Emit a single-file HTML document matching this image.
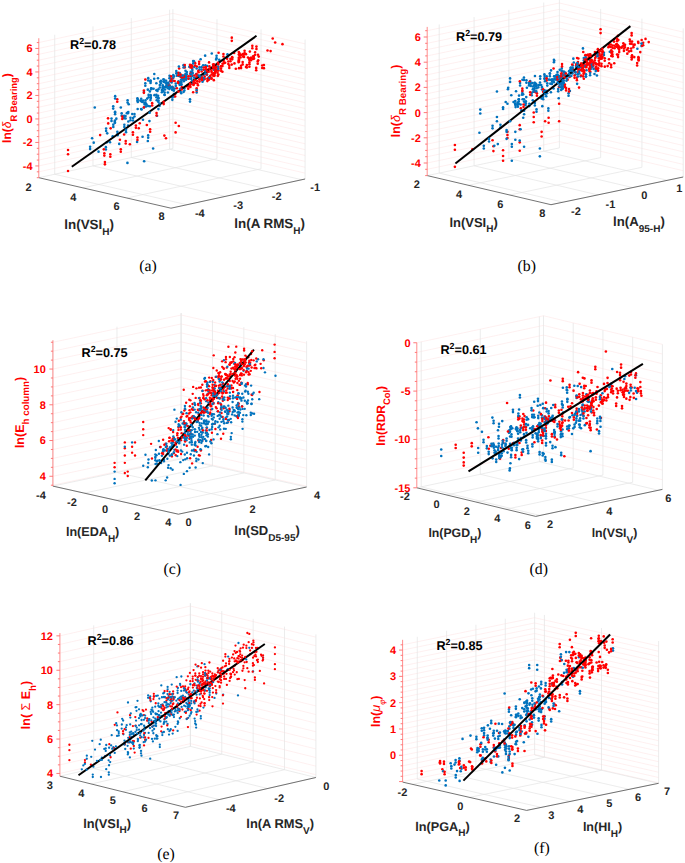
<!DOCTYPE html>
<html><head><meta charset="utf-8"><style>
html,body{margin:0;padding:0;background:#fff;}
svg{display:block;}
text{font-family:"Liberation Sans", sans-serif;text-rendering:geometricPrecision;}
</style></head><body>
<svg width="685" height="863" viewBox="0 0 685 863">
<rect width="685" height="863" fill="#fff"/>
<line x1="38.8" y1="171.82" x2="172.9" y2="142.62" stroke="#fdeaea" stroke-width="0.7"/>
<line x1="172.9" y1="142.62" x2="305.1" y2="173.12" stroke="#fdeaea" stroke-width="0.7"/>
<line x1="38.8" y1="165.95" x2="172.9" y2="136.75" stroke="#fdeaea" stroke-width="0.7"/>
<line x1="172.9" y1="136.75" x2="305.1" y2="167.25" stroke="#fdeaea" stroke-width="0.7"/>
<line x1="38.8" y1="160.07" x2="172.9" y2="130.88" stroke="#fdeaea" stroke-width="0.7"/>
<line x1="172.9" y1="130.88" x2="305.1" y2="161.38" stroke="#fdeaea" stroke-width="0.7"/>
<line x1="38.8" y1="154.2" x2="172.9" y2="125" stroke="#fdeaea" stroke-width="0.7"/>
<line x1="172.9" y1="125" x2="305.1" y2="155.5" stroke="#fdeaea" stroke-width="0.7"/>
<line x1="38.8" y1="148.32" x2="172.9" y2="119.12" stroke="#fdeaea" stroke-width="0.7"/>
<line x1="172.9" y1="119.12" x2="305.1" y2="149.62" stroke="#fdeaea" stroke-width="0.7"/>
<line x1="38.8" y1="142.45" x2="172.9" y2="113.25" stroke="#fdeaea" stroke-width="0.7"/>
<line x1="172.9" y1="113.25" x2="305.1" y2="143.75" stroke="#fdeaea" stroke-width="0.7"/>
<line x1="38.8" y1="136.57" x2="172.9" y2="107.38" stroke="#fdeaea" stroke-width="0.7"/>
<line x1="172.9" y1="107.38" x2="305.1" y2="137.88" stroke="#fdeaea" stroke-width="0.7"/>
<line x1="38.8" y1="130.7" x2="172.9" y2="101.5" stroke="#fdeaea" stroke-width="0.7"/>
<line x1="172.9" y1="101.5" x2="305.1" y2="132" stroke="#fdeaea" stroke-width="0.7"/>
<line x1="38.8" y1="124.82" x2="172.9" y2="95.62" stroke="#fdeaea" stroke-width="0.7"/>
<line x1="172.9" y1="95.62" x2="305.1" y2="126.12" stroke="#fdeaea" stroke-width="0.7"/>
<line x1="38.8" y1="118.95" x2="172.9" y2="89.75" stroke="#fdeaea" stroke-width="0.7"/>
<line x1="172.9" y1="89.75" x2="305.1" y2="120.25" stroke="#fdeaea" stroke-width="0.7"/>
<line x1="38.8" y1="113.07" x2="172.9" y2="83.88" stroke="#fdeaea" stroke-width="0.7"/>
<line x1="172.9" y1="83.88" x2="305.1" y2="114.38" stroke="#fdeaea" stroke-width="0.7"/>
<line x1="38.8" y1="107.2" x2="172.9" y2="78" stroke="#fdeaea" stroke-width="0.7"/>
<line x1="172.9" y1="78" x2="305.1" y2="108.5" stroke="#fdeaea" stroke-width="0.7"/>
<line x1="38.8" y1="101.32" x2="172.9" y2="72.12" stroke="#fdeaea" stroke-width="0.7"/>
<line x1="172.9" y1="72.12" x2="305.1" y2="102.62" stroke="#fdeaea" stroke-width="0.7"/>
<line x1="38.8" y1="95.45" x2="172.9" y2="66.25" stroke="#fdeaea" stroke-width="0.7"/>
<line x1="172.9" y1="66.25" x2="305.1" y2="96.75" stroke="#fdeaea" stroke-width="0.7"/>
<line x1="38.8" y1="89.57" x2="172.9" y2="60.38" stroke="#fdeaea" stroke-width="0.7"/>
<line x1="172.9" y1="60.38" x2="305.1" y2="90.88" stroke="#fdeaea" stroke-width="0.7"/>
<line x1="38.8" y1="83.7" x2="172.9" y2="54.5" stroke="#fdeaea" stroke-width="0.7"/>
<line x1="172.9" y1="54.5" x2="305.1" y2="85" stroke="#fdeaea" stroke-width="0.7"/>
<line x1="38.8" y1="77.82" x2="172.9" y2="48.62" stroke="#fdeaea" stroke-width="0.7"/>
<line x1="172.9" y1="48.62" x2="305.1" y2="79.12" stroke="#fdeaea" stroke-width="0.7"/>
<line x1="38.8" y1="71.95" x2="172.9" y2="42.75" stroke="#fdeaea" stroke-width="0.7"/>
<line x1="172.9" y1="42.75" x2="305.1" y2="73.25" stroke="#fdeaea" stroke-width="0.7"/>
<line x1="38.8" y1="66.07" x2="172.9" y2="36.88" stroke="#fdeaea" stroke-width="0.7"/>
<line x1="172.9" y1="36.88" x2="305.1" y2="67.38" stroke="#fdeaea" stroke-width="0.7"/>
<line x1="38.8" y1="60.2" x2="172.9" y2="31" stroke="#fdeaea" stroke-width="0.7"/>
<line x1="172.9" y1="31" x2="305.1" y2="61.5" stroke="#fdeaea" stroke-width="0.7"/>
<line x1="38.8" y1="54.32" x2="172.9" y2="25.12" stroke="#fdeaea" stroke-width="0.7"/>
<line x1="172.9" y1="25.12" x2="305.1" y2="55.62" stroke="#fdeaea" stroke-width="0.7"/>
<line x1="38.8" y1="48.45" x2="172.9" y2="19.25" stroke="#fdeaea" stroke-width="0.7"/>
<line x1="172.9" y1="19.25" x2="305.1" y2="49.75" stroke="#fdeaea" stroke-width="0.7"/>
<line x1="38.8" y1="42.57" x2="172.9" y2="13.38" stroke="#fdeaea" stroke-width="0.7"/>
<line x1="172.9" y1="13.38" x2="305.1" y2="43.88" stroke="#fdeaea" stroke-width="0.7"/>
<line x1="54.7" y1="174.24" x2="54.7" y2="34.77" stroke="#e4e4e4" stroke-width="0.7"/>
<line x1="93" y1="165.9" x2="93" y2="26.43" stroke="#e4e4e4" stroke-width="0.7"/>
<line x1="131.3" y1="157.56" x2="131.3" y2="18.09" stroke="#e4e4e4" stroke-width="0.7"/>
<line x1="169.61" y1="149.22" x2="169.61" y2="9.74" stroke="#e4e4e4" stroke-width="0.7"/>
<line x1="172.9" y1="148.5" x2="172.9" y2="9.03" stroke="#e4e4e4" stroke-width="0.7"/>
<line x1="216.97" y1="158.67" x2="216.97" y2="19.19" stroke="#e4e4e4" stroke-width="0.7"/>
<line x1="261.03" y1="168.83" x2="261.03" y2="29.36" stroke="#e4e4e4" stroke-width="0.7"/>
<line x1="305.1" y1="179" x2="305.1" y2="39.53" stroke="#e4e4e4" stroke-width="0.7"/>
<line x1="38.8" y1="177.7" x2="172.9" y2="148.5" stroke="#e4e4e4" stroke-width="0.7"/>
<line x1="82.87" y1="187.87" x2="216.97" y2="158.67" stroke="#e4e4e4" stroke-width="0.7"/>
<line x1="126.93" y1="198.03" x2="261.03" y2="168.83" stroke="#e4e4e4" stroke-width="0.7"/>
<line x1="171" y1="208.2" x2="305.1" y2="179" stroke="#e4e4e4" stroke-width="0.7"/>
<line x1="54.7" y1="174.24" x2="186.9" y2="204.74" stroke="#e4e4e4" stroke-width="0.7"/>
<line x1="93" y1="165.9" x2="225.2" y2="196.4" stroke="#e4e4e4" stroke-width="0.7"/>
<line x1="131.3" y1="157.56" x2="263.5" y2="188.06" stroke="#e4e4e4" stroke-width="0.7"/>
<line x1="169.61" y1="149.22" x2="301.81" y2="179.72" stroke="#e4e4e4" stroke-width="0.7"/>
<line x1="38.8" y1="177.7" x2="171" y2="208.2" stroke="#505050" stroke-width="0.8"/>
<line x1="171" y1="208.2" x2="305.1" y2="179" stroke="#505050" stroke-width="0.8"/>
<line x1="38.8" y1="177.7" x2="38.8" y2="38.23" stroke="#ff8080" stroke-width="0.9"/>
<line x1="38.8" y1="177.7" x2="36.8" y2="177.7" stroke="#ff6a6a" stroke-width="0.9"/>
<line x1="38.8" y1="171.82" x2="36.8" y2="171.82" stroke="#ff6a6a" stroke-width="0.9"/>
<line x1="38.8" y1="165.95" x2="35.3" y2="165.95" stroke="#ff6a6a" stroke-width="0.9"/>
<line x1="38.8" y1="160.07" x2="36.8" y2="160.07" stroke="#ff6a6a" stroke-width="0.9"/>
<line x1="38.8" y1="154.2" x2="36.8" y2="154.2" stroke="#ff6a6a" stroke-width="0.9"/>
<line x1="38.8" y1="148.32" x2="36.8" y2="148.32" stroke="#ff6a6a" stroke-width="0.9"/>
<line x1="38.8" y1="142.45" x2="35.3" y2="142.45" stroke="#ff6a6a" stroke-width="0.9"/>
<line x1="38.8" y1="136.57" x2="36.8" y2="136.57" stroke="#ff6a6a" stroke-width="0.9"/>
<line x1="38.8" y1="130.7" x2="36.8" y2="130.7" stroke="#ff6a6a" stroke-width="0.9"/>
<line x1="38.8" y1="124.82" x2="36.8" y2="124.82" stroke="#ff6a6a" stroke-width="0.9"/>
<line x1="38.8" y1="118.95" x2="35.3" y2="118.95" stroke="#ff6a6a" stroke-width="0.9"/>
<line x1="38.8" y1="113.07" x2="36.8" y2="113.07" stroke="#ff6a6a" stroke-width="0.9"/>
<line x1="38.8" y1="107.2" x2="36.8" y2="107.2" stroke="#ff6a6a" stroke-width="0.9"/>
<line x1="38.8" y1="101.32" x2="36.8" y2="101.32" stroke="#ff6a6a" stroke-width="0.9"/>
<line x1="38.8" y1="95.45" x2="35.3" y2="95.45" stroke="#ff6a6a" stroke-width="0.9"/>
<line x1="38.8" y1="89.57" x2="36.8" y2="89.57" stroke="#ff6a6a" stroke-width="0.9"/>
<line x1="38.8" y1="83.7" x2="36.8" y2="83.7" stroke="#ff6a6a" stroke-width="0.9"/>
<line x1="38.8" y1="77.82" x2="36.8" y2="77.82" stroke="#ff6a6a" stroke-width="0.9"/>
<line x1="38.8" y1="71.95" x2="35.3" y2="71.95" stroke="#ff6a6a" stroke-width="0.9"/>
<line x1="38.8" y1="66.07" x2="36.8" y2="66.07" stroke="#ff6a6a" stroke-width="0.9"/>
<line x1="38.8" y1="60.2" x2="36.8" y2="60.2" stroke="#ff6a6a" stroke-width="0.9"/>
<line x1="38.8" y1="54.32" x2="36.8" y2="54.32" stroke="#ff6a6a" stroke-width="0.9"/>
<line x1="38.8" y1="48.45" x2="35.3" y2="48.45" stroke="#ff6a6a" stroke-width="0.9"/>
<line x1="38.8" y1="42.57" x2="36.8" y2="42.57" stroke="#ff6a6a" stroke-width="0.9"/>
<text x="32.5" y="169.91" fill="#ff0000" font-size="11" font-weight="bold" text-anchor="end">-4</text>
<text x="32.5" y="146.41" fill="#ff0000" font-size="11" font-weight="bold" text-anchor="end">-2</text>
<text x="32.5" y="122.91" fill="#ff0000" font-size="11" font-weight="bold" text-anchor="end">0</text>
<text x="32.5" y="99.41" fill="#ff0000" font-size="11" font-weight="bold" text-anchor="end">2</text>
<text x="32.5" y="75.91" fill="#ff0000" font-size="11" font-weight="bold" text-anchor="end">4</text>
<text x="32.5" y="52.41" fill="#ff0000" font-size="11" font-weight="bold" text-anchor="end">6</text>
<text x="28.5" y="190.96" fill="#262626" font-size="11" font-weight="bold" text-anchor="middle">2</text>
<text x="73.2" y="200.96" fill="#262626" font-size="11" font-weight="bold" text-anchor="middle">4</text>
<text x="116.6" y="210.36" fill="#262626" font-size="11" font-weight="bold" text-anchor="middle">6</text>
<text x="161.5" y="219.56" fill="#262626" font-size="11" font-weight="bold" text-anchor="middle">8</text>
<text x="199.8" y="216.96" fill="#262626" font-size="11" font-weight="bold" text-anchor="middle">-4</text>
<text x="238.2" y="208.86" fill="#262626" font-size="11" font-weight="bold" text-anchor="middle">-3</text>
<text x="276.7" y="200.16" fill="#262626" font-size="11" font-weight="bold" text-anchor="middle">-2</text>
<text x="315.2" y="191.46" fill="#262626" font-size="11" font-weight="bold" text-anchor="middle">-1</text>
<circle cx="150.47" cy="100.1" r="1.3" fill="#0072bd"/>
<circle cx="191.3" cy="76.68" r="1.3" fill="#0072bd"/>
<circle cx="200.64" cy="59.28" r="1.3" fill="#0072bd"/>
<circle cx="167.91" cy="85.9" r="1.3" fill="#0072bd"/>
<circle cx="167.91" cy="88.3" r="1.3" fill="#0072bd"/>
<circle cx="172.58" cy="87.31" r="1.3" fill="#ff0000"/>
<circle cx="143.89" cy="107.48" r="1.3" fill="#0072bd"/>
<circle cx="145.48" cy="100.38" r="1.3" fill="#0072bd"/>
<circle cx="145.48" cy="102.78" r="1.3" fill="#0072bd"/>
<circle cx="164.65" cy="92.61" r="1.3" fill="#0072bd"/>
<circle cx="164.65" cy="95.01" r="1.3" fill="#0072bd"/>
<circle cx="163.4" cy="79.22" r="1.3" fill="#0072bd"/>
<circle cx="163.4" cy="81.62" r="1.3" fill="#0072bd"/>
<circle cx="190.04" cy="67.25" r="1.3" fill="#ff0000"/>
<circle cx="176.85" cy="73.26" r="1.3" fill="#0072bd"/>
<circle cx="176.85" cy="75.66" r="1.3" fill="#0072bd"/>
<circle cx="186.1" cy="77.26" r="1.3" fill="#0072bd"/>
<circle cx="186.1" cy="79.66" r="1.3" fill="#0072bd"/>
<circle cx="178.57" cy="81.2" r="1.3" fill="#0072bd"/>
<circle cx="175.76" cy="83.5" r="1.3" fill="#0072bd"/>
<circle cx="175.76" cy="85.9" r="1.3" fill="#0072bd"/>
<circle cx="179.63" cy="82.43" r="1.3" fill="#0072bd"/>
<circle cx="179.63" cy="84.83" r="1.3" fill="#0072bd"/>
<circle cx="189.38" cy="66.83" r="1.3" fill="#0072bd"/>
<circle cx="173.31" cy="89.18" r="1.3" fill="#0072bd"/>
<circle cx="207.02" cy="72.45" r="1.3" fill="#0072bd"/>
<circle cx="207.02" cy="74.85" r="1.3" fill="#0072bd"/>
<circle cx="164.22" cy="79.69" r="1.3" fill="#0072bd"/>
<circle cx="184.39" cy="79.19" r="1.3" fill="#0072bd"/>
<circle cx="137.43" cy="98.26" r="1.3" fill="#0072bd"/>
<circle cx="137.43" cy="100.66" r="1.3" fill="#0072bd"/>
<circle cx="183.53" cy="65.15" r="1.3" fill="#0072bd"/>
<circle cx="183.53" cy="67.55" r="1.3" fill="#0072bd"/>
<circle cx="154.29" cy="73.95" r="1.3" fill="#0072bd"/>
<circle cx="203.14" cy="65.27" r="1.3" fill="#0072bd"/>
<circle cx="172.34" cy="97.47" r="1.3" fill="#0072bd"/>
<circle cx="181.76" cy="87.14" r="1.3" fill="#ff0000"/>
<circle cx="137.77" cy="99.67" r="1.3" fill="#0072bd"/>
<circle cx="172.82" cy="78.36" r="1.3" fill="#ff0000"/>
<circle cx="172.82" cy="80.76" r="1.3" fill="#ff0000"/>
<circle cx="161.84" cy="92.32" r="1.3" fill="#0072bd"/>
<circle cx="145.35" cy="79.57" r="1.3" fill="#ff0000"/>
<circle cx="144.31" cy="102.73" r="1.3" fill="#0072bd"/>
<circle cx="183.88" cy="78.37" r="1.3" fill="#0072bd"/>
<circle cx="158" cy="78.32" r="1.3" fill="#0072bd"/>
<circle cx="158.26" cy="101.84" r="1.3" fill="#0072bd"/>
<circle cx="153.55" cy="88.79" r="1.3" fill="#0072bd"/>
<circle cx="186.19" cy="77.76" r="1.3" fill="#0072bd"/>
<circle cx="160.17" cy="81.69" r="1.3" fill="#0072bd"/>
<circle cx="144.05" cy="107.33" r="1.3" fill="#ff0000"/>
<circle cx="185.57" cy="74.45" r="1.3" fill="#0072bd"/>
<circle cx="173.31" cy="75.13" r="1.3" fill="#0072bd"/>
<circle cx="173.31" cy="77.53" r="1.3" fill="#0072bd"/>
<circle cx="180.25" cy="83.58" r="1.3" fill="#0072bd"/>
<circle cx="148.24" cy="78.14" r="1.3" fill="#0072bd"/>
<circle cx="156.34" cy="94.85" r="1.3" fill="#0072bd"/>
<circle cx="180.69" cy="77.06" r="1.3" fill="#ff0000"/>
<circle cx="163.69" cy="104.12" r="1.3" fill="#ff0000"/>
<circle cx="163.26" cy="88.45" r="1.3" fill="#0072bd"/>
<circle cx="163.26" cy="90.85" r="1.3" fill="#0072bd"/>
<circle cx="169.7" cy="85.46" r="1.3" fill="#0072bd"/>
<circle cx="169.7" cy="87.86" r="1.3" fill="#0072bd"/>
<circle cx="159.83" cy="85.1" r="1.3" fill="#0072bd"/>
<circle cx="159.83" cy="87.5" r="1.3" fill="#0072bd"/>
<circle cx="182.01" cy="75.44" r="1.3" fill="#0072bd"/>
<circle cx="182.01" cy="77.84" r="1.3" fill="#0072bd"/>
<circle cx="167.87" cy="92.49" r="1.3" fill="#0072bd"/>
<circle cx="143.95" cy="91.98" r="1.3" fill="#0072bd"/>
<circle cx="169.99" cy="81.18" r="1.3" fill="#0072bd"/>
<circle cx="179.7" cy="83.25" r="1.3" fill="#0072bd"/>
<circle cx="156.72" cy="100.24" r="1.3" fill="#0072bd"/>
<circle cx="179.06" cy="73.58" r="1.3" fill="#0072bd"/>
<circle cx="179.06" cy="75.98" r="1.3" fill="#0072bd"/>
<circle cx="181.22" cy="93.2" r="1.3" fill="#0072bd"/>
<circle cx="140.39" cy="100.45" r="1.3" fill="#0072bd"/>
<circle cx="141.23" cy="98.8" r="1.3" fill="#0072bd"/>
<circle cx="166.48" cy="82.77" r="1.3" fill="#0072bd"/>
<circle cx="166.48" cy="85.17" r="1.3" fill="#0072bd"/>
<circle cx="159.6" cy="105.83" r="1.3" fill="#0072bd"/>
<circle cx="143.12" cy="100.6" r="1.3" fill="#0072bd"/>
<circle cx="179.72" cy="73.06" r="1.3" fill="#0072bd"/>
<circle cx="179.72" cy="75.46" r="1.3" fill="#0072bd"/>
<circle cx="173.87" cy="90.77" r="1.3" fill="#0072bd"/>
<circle cx="151.37" cy="88.28" r="1.3" fill="#0072bd"/>
<circle cx="180.61" cy="91.87" r="1.3" fill="#0072bd"/>
<circle cx="156.45" cy="90.16" r="1.3" fill="#0072bd"/>
<circle cx="162.81" cy="86.99" r="1.3" fill="#0072bd"/>
<circle cx="149.92" cy="106.24" r="1.3" fill="#0072bd"/>
<circle cx="162.75" cy="87.73" r="1.3" fill="#0072bd"/>
<circle cx="193.98" cy="61.22" r="1.3" fill="#0072bd"/>
<circle cx="179.43" cy="83.12" r="1.3" fill="#0072bd"/>
<circle cx="154.48" cy="95.16" r="1.3" fill="#0072bd"/>
<circle cx="171.58" cy="80.05" r="1.3" fill="#0072bd"/>
<circle cx="171.58" cy="82.45" r="1.3" fill="#0072bd"/>
<circle cx="172.15" cy="87.46" r="1.3" fill="#0072bd"/>
<circle cx="172.15" cy="89.86" r="1.3" fill="#0072bd"/>
<circle cx="158.5" cy="100.62" r="1.3" fill="#0072bd"/>
<circle cx="181.28" cy="82.42" r="1.3" fill="#0072bd"/>
<circle cx="181.28" cy="84.82" r="1.3" fill="#0072bd"/>
<circle cx="150.53" cy="97.49" r="1.3" fill="#0072bd"/>
<circle cx="151.2" cy="88.34" r="1.3" fill="#0072bd"/>
<circle cx="170.01" cy="78.32" r="1.3" fill="#0072bd"/>
<circle cx="173.93" cy="76.18" r="1.3" fill="#0072bd"/>
<circle cx="190" cy="99.18" r="1.3" fill="#0072bd"/>
<circle cx="173.95" cy="94.16" r="1.3" fill="#0072bd"/>
<circle cx="173.95" cy="96.56" r="1.3" fill="#0072bd"/>
<circle cx="169.54" cy="75.74" r="1.3" fill="#0072bd"/>
<circle cx="152.16" cy="103.14" r="1.3" fill="#ff0000"/>
<circle cx="145.31" cy="83.35" r="1.3" fill="#0072bd"/>
<circle cx="145.31" cy="85.75" r="1.3" fill="#0072bd"/>
<circle cx="142.31" cy="102.07" r="1.3" fill="#0072bd"/>
<circle cx="169.42" cy="89.04" r="1.3" fill="#0072bd"/>
<circle cx="148.59" cy="94.91" r="1.3" fill="#0072bd"/>
<circle cx="172.25" cy="86.92" r="1.3" fill="#0072bd"/>
<circle cx="170.79" cy="80.95" r="1.3" fill="#ff0000"/>
<circle cx="144.59" cy="104.42" r="1.3" fill="#0072bd"/>
<circle cx="150.89" cy="95.71" r="1.3" fill="#0072bd"/>
<circle cx="150.89" cy="98.11" r="1.3" fill="#0072bd"/>
<circle cx="150.49" cy="81.16" r="1.3" fill="#0072bd"/>
<circle cx="160.97" cy="80.83" r="1.3" fill="#0072bd"/>
<circle cx="160.97" cy="83.23" r="1.3" fill="#0072bd"/>
<circle cx="149.84" cy="91.38" r="1.3" fill="#0072bd"/>
<circle cx="142.56" cy="136.72" r="1.3" fill="#0072bd"/>
<circle cx="128.71" cy="104.32" r="1.3" fill="#0072bd"/>
<circle cx="113.21" cy="106.19" r="1.3" fill="#0072bd"/>
<circle cx="113.21" cy="108.59" r="1.3" fill="#0072bd"/>
<circle cx="126.87" cy="113.13" r="1.3" fill="#0072bd"/>
<circle cx="141.12" cy="109.05" r="1.3" fill="#0072bd"/>
<circle cx="148.18" cy="135.38" r="1.3" fill="#0072bd"/>
<circle cx="115.09" cy="111.73" r="1.3" fill="#0072bd"/>
<circle cx="115.09" cy="114.13" r="1.3" fill="#0072bd"/>
<circle cx="146.44" cy="104.48" r="1.3" fill="#0072bd"/>
<circle cx="132.28" cy="114.05" r="1.3" fill="#0072bd"/>
<circle cx="135.9" cy="127.86" r="1.3" fill="#ff0000"/>
<circle cx="146.06" cy="104.16" r="1.3" fill="#0072bd"/>
<circle cx="146.06" cy="106.56" r="1.3" fill="#0072bd"/>
<circle cx="108.04" cy="118.34" r="1.3" fill="#ff0000"/>
<circle cx="142.96" cy="119.73" r="1.3" fill="#0072bd"/>
<circle cx="125.54" cy="116.12" r="1.3" fill="#0072bd"/>
<circle cx="115.05" cy="112.22" r="1.3" fill="#0072bd"/>
<circle cx="130.47" cy="117.84" r="1.3" fill="#0072bd"/>
<circle cx="130.47" cy="120.24" r="1.3" fill="#0072bd"/>
<circle cx="149.45" cy="121.12" r="1.3" fill="#0072bd"/>
<circle cx="127.94" cy="113.14" r="1.3" fill="#0072bd"/>
<circle cx="158.41" cy="109.11" r="1.3" fill="#0072bd"/>
<circle cx="137.66" cy="108.95" r="1.3" fill="#0072bd"/>
<circle cx="120.81" cy="107.56" r="1.3" fill="#0072bd"/>
<circle cx="123.6" cy="116.46" r="1.3" fill="#0072bd"/>
<circle cx="117.35" cy="134.26" r="1.3" fill="#0072bd"/>
<circle cx="158.09" cy="95.84" r="1.3" fill="#0072bd"/>
<circle cx="158.09" cy="98.24" r="1.3" fill="#0072bd"/>
<circle cx="157.03" cy="115.68" r="1.3" fill="#0072bd"/>
<circle cx="128.1" cy="125.6" r="1.3" fill="#0072bd"/>
<circle cx="111.51" cy="118.59" r="1.3" fill="#0072bd"/>
<circle cx="111.51" cy="120.99" r="1.3" fill="#0072bd"/>
<circle cx="147.83" cy="141.01" r="1.3" fill="#0072bd"/>
<circle cx="134.49" cy="114.03" r="1.3" fill="#0072bd"/>
<circle cx="134.49" cy="116.43" r="1.3" fill="#0072bd"/>
<circle cx="124.14" cy="118.14" r="1.3" fill="#0072bd"/>
<circle cx="126" cy="132.16" r="1.3" fill="#0072bd"/>
<circle cx="117.25" cy="101.7" r="1.3" fill="#ff0000"/>
<circle cx="127.61" cy="102.58" r="1.3" fill="#0072bd"/>
<circle cx="124.35" cy="124.7" r="1.3" fill="#0072bd"/>
<circle cx="124.35" cy="127.1" r="1.3" fill="#0072bd"/>
<circle cx="94.75" cy="107.45" r="1.3" fill="#0072bd"/>
<circle cx="156.55" cy="115.49" r="1.3" fill="#ff0000"/>
<circle cx="115" cy="120.43" r="1.3" fill="#0072bd"/>
<circle cx="128.25" cy="111.95" r="1.3" fill="#0072bd"/>
<circle cx="117.68" cy="135.32" r="1.3" fill="#0072bd"/>
<circle cx="110" cy="142.24" r="1.3" fill="#0072bd"/>
<circle cx="106.85" cy="142.34" r="1.3" fill="#0072bd"/>
<circle cx="121.67" cy="115.65" r="1.3" fill="#0072bd"/>
<circle cx="106.12" cy="128.48" r="1.3" fill="#0072bd"/>
<circle cx="106.12" cy="130.88" r="1.3" fill="#0072bd"/>
<circle cx="105.87" cy="147.16" r="1.3" fill="#0072bd"/>
<circle cx="105.87" cy="149.56" r="1.3" fill="#0072bd"/>
<circle cx="108.21" cy="123.4" r="1.3" fill="#ff0000"/>
<circle cx="110.68" cy="128.37" r="1.3" fill="#ff0000"/>
<circle cx="93.73" cy="142.67" r="1.3" fill="#0072bd"/>
<circle cx="107.23" cy="133.35" r="1.3" fill="#0072bd"/>
<circle cx="112.7" cy="136.25" r="1.3" fill="#0072bd"/>
<circle cx="124.14" cy="134.48" r="1.3" fill="#ff0000"/>
<circle cx="90.11" cy="146.72" r="1.3" fill="#0072bd"/>
<circle cx="90.11" cy="149.12" r="1.3" fill="#0072bd"/>
<circle cx="138.76" cy="128.31" r="1.3" fill="#ff0000"/>
<circle cx="139.72" cy="123.31" r="1.3" fill="#ff0000"/>
<circle cx="125.71" cy="141.06" r="1.3" fill="#ff0000"/>
<circle cx="103.82" cy="149.36" r="1.3" fill="#ff0000"/>
<circle cx="120.79" cy="149.33" r="1.3" fill="#ff0000"/>
<circle cx="150.13" cy="129.32" r="1.3" fill="#ff0000"/>
<circle cx="104.33" cy="153.22" r="1.3" fill="#ff0000"/>
<circle cx="104.33" cy="155.62" r="1.3" fill="#ff0000"/>
<circle cx="119.9" cy="139.71" r="1.3" fill="#ff0000"/>
<circle cx="104.91" cy="164.34" r="1.3" fill="#ff0000"/>
<circle cx="137.44" cy="137.53" r="1.3" fill="#ff0000"/>
<circle cx="137.44" cy="139.93" r="1.3" fill="#ff0000"/>
<circle cx="110.32" cy="154.3" r="1.3" fill="#ff0000"/>
<circle cx="110.32" cy="156.7" r="1.3" fill="#ff0000"/>
<circle cx="129.87" cy="144.28" r="1.3" fill="#ff0000"/>
<circle cx="196.68" cy="92.47" r="1.3" fill="#0072bd"/>
<circle cx="165.07" cy="87.05" r="1.3" fill="#0072bd"/>
<circle cx="214.16" cy="67.54" r="1.3" fill="#0072bd"/>
<circle cx="214.16" cy="69.94" r="1.3" fill="#0072bd"/>
<circle cx="178.26" cy="82.89" r="1.3" fill="#ff0000"/>
<circle cx="194.83" cy="77.94" r="1.3" fill="#ff0000"/>
<circle cx="194.21" cy="66.9" r="1.3" fill="#0072bd"/>
<circle cx="193.51" cy="84.99" r="1.3" fill="#ff0000"/>
<circle cx="207.18" cy="65.97" r="1.3" fill="#0072bd"/>
<circle cx="197.86" cy="75.18" r="1.3" fill="#0072bd"/>
<circle cx="197.86" cy="77.58" r="1.3" fill="#0072bd"/>
<circle cx="180.24" cy="84.51" r="1.3" fill="#0072bd"/>
<circle cx="192.37" cy="72.32" r="1.3" fill="#0072bd"/>
<circle cx="192.66" cy="73.45" r="1.3" fill="#0072bd"/>
<circle cx="192.66" cy="75.85" r="1.3" fill="#0072bd"/>
<circle cx="177.9" cy="82.12" r="1.3" fill="#ff0000"/>
<circle cx="190.05" cy="86.04" r="1.3" fill="#ff0000"/>
<circle cx="199.63" cy="75.9" r="1.3" fill="#0072bd"/>
<circle cx="191.58" cy="65.31" r="1.3" fill="#ff0000"/>
<circle cx="191.58" cy="67.71" r="1.3" fill="#ff0000"/>
<circle cx="219.24" cy="59.71" r="1.3" fill="#0072bd"/>
<circle cx="219.24" cy="62.11" r="1.3" fill="#0072bd"/>
<circle cx="190.8" cy="83.71" r="1.3" fill="#ff0000"/>
<circle cx="192.29" cy="83.48" r="1.3" fill="#0072bd"/>
<circle cx="199.51" cy="67.19" r="1.3" fill="#0072bd"/>
<circle cx="199.51" cy="69.59" r="1.3" fill="#0072bd"/>
<circle cx="178.27" cy="72.85" r="1.3" fill="#ff0000"/>
<circle cx="192.06" cy="66.1" r="1.3" fill="#ff0000"/>
<circle cx="192.06" cy="68.5" r="1.3" fill="#ff0000"/>
<circle cx="194.26" cy="80.22" r="1.3" fill="#0072bd"/>
<circle cx="196.63" cy="68.48" r="1.3" fill="#0072bd"/>
<circle cx="184.78" cy="67.39" r="1.3" fill="#ff0000"/>
<circle cx="188.97" cy="78.44" r="1.3" fill="#0072bd"/>
<circle cx="205.42" cy="65.32" r="1.3" fill="#0072bd"/>
<circle cx="198.61" cy="72.28" r="1.3" fill="#ff0000"/>
<circle cx="191.1" cy="66.06" r="1.3" fill="#ff0000"/>
<circle cx="196.78" cy="66.57" r="1.3" fill="#ff0000"/>
<circle cx="179.14" cy="68.56" r="1.3" fill="#ff0000"/>
<circle cx="183.91" cy="79.38" r="1.3" fill="#ff0000"/>
<circle cx="186.64" cy="86.31" r="1.3" fill="#ff0000"/>
<circle cx="182.18" cy="79.66" r="1.3" fill="#0072bd"/>
<circle cx="190.44" cy="66.4" r="1.3" fill="#ff0000"/>
<circle cx="190.74" cy="71.85" r="1.3" fill="#0072bd"/>
<circle cx="196.18" cy="74.04" r="1.3" fill="#0072bd"/>
<circle cx="184.37" cy="88.22" r="1.3" fill="#0072bd"/>
<circle cx="197.3" cy="81.17" r="1.3" fill="#ff0000"/>
<circle cx="197.3" cy="83.57" r="1.3" fill="#ff0000"/>
<circle cx="183.84" cy="78.82" r="1.3" fill="#0072bd"/>
<circle cx="183.84" cy="81.22" r="1.3" fill="#0072bd"/>
<circle cx="181.04" cy="79.71" r="1.3" fill="#0072bd"/>
<circle cx="185.67" cy="75.71" r="1.3" fill="#0072bd"/>
<circle cx="181.41" cy="84.19" r="1.3" fill="#0072bd"/>
<circle cx="184.42" cy="66.71" r="1.3" fill="#0072bd"/>
<circle cx="193.18" cy="60.99" r="1.3" fill="#0072bd"/>
<circle cx="175.21" cy="94.07" r="1.3" fill="#ff0000"/>
<circle cx="175.21" cy="96.47" r="1.3" fill="#ff0000"/>
<circle cx="186.84" cy="71.93" r="1.3" fill="#0072bd"/>
<circle cx="205.15" cy="55.66" r="1.3" fill="#0072bd"/>
<circle cx="168.43" cy="83.66" r="1.3" fill="#ff0000"/>
<circle cx="201.49" cy="79.22" r="1.3" fill="#0072bd"/>
<circle cx="193.51" cy="84.15" r="1.3" fill="#ff0000"/>
<circle cx="199.12" cy="64.08" r="1.3" fill="#ff0000"/>
<circle cx="208.95" cy="78.21" r="1.3" fill="#0072bd"/>
<circle cx="203.38" cy="74.63" r="1.3" fill="#ff0000"/>
<circle cx="204.03" cy="74.18" r="1.3" fill="#0072bd"/>
<circle cx="218.42" cy="74.5" r="1.3" fill="#ff0000"/>
<circle cx="215.12" cy="68.06" r="1.3" fill="#ff0000"/>
<circle cx="215.12" cy="70.46" r="1.3" fill="#ff0000"/>
<circle cx="223.44" cy="54.04" r="1.3" fill="#ff0000"/>
<circle cx="223.44" cy="56.44" r="1.3" fill="#ff0000"/>
<circle cx="195.17" cy="63.16" r="1.3" fill="#ff0000"/>
<circle cx="195.17" cy="65.56" r="1.3" fill="#ff0000"/>
<circle cx="202.52" cy="81.65" r="1.3" fill="#0072bd"/>
<circle cx="213.67" cy="73.69" r="1.3" fill="#0072bd"/>
<circle cx="201.67" cy="71.48" r="1.3" fill="#ff0000"/>
<circle cx="218.55" cy="68.02" r="1.3" fill="#ff0000"/>
<circle cx="218.55" cy="70.42" r="1.3" fill="#ff0000"/>
<circle cx="211.34" cy="77.82" r="1.3" fill="#ff0000"/>
<circle cx="212.65" cy="68.33" r="1.3" fill="#ff0000"/>
<circle cx="196.66" cy="88.27" r="1.3" fill="#ff0000"/>
<circle cx="196.66" cy="90.67" r="1.3" fill="#ff0000"/>
<circle cx="194.47" cy="75.53" r="1.3" fill="#ff0000"/>
<circle cx="201.61" cy="67.15" r="1.3" fill="#0072bd"/>
<circle cx="201.61" cy="69.55" r="1.3" fill="#0072bd"/>
<circle cx="195.23" cy="82.89" r="1.3" fill="#ff0000"/>
<circle cx="207.22" cy="71.62" r="1.3" fill="#ff0000"/>
<circle cx="188.37" cy="78.69" r="1.3" fill="#ff0000"/>
<circle cx="222.48" cy="63.7" r="1.3" fill="#ff0000"/>
<circle cx="213.84" cy="80.14" r="1.3" fill="#ff0000"/>
<circle cx="196.61" cy="74.09" r="1.3" fill="#ff0000"/>
<circle cx="217.5" cy="70.42" r="1.3" fill="#ff0000"/>
<circle cx="198.29" cy="70.92" r="1.3" fill="#ff0000"/>
<circle cx="229.3" cy="65.64" r="1.3" fill="#ff0000"/>
<circle cx="222.42" cy="71.78" r="1.3" fill="#ff0000"/>
<circle cx="221.06" cy="66.28" r="1.3" fill="#ff0000"/>
<circle cx="221.06" cy="68.68" r="1.3" fill="#ff0000"/>
<circle cx="212.83" cy="67.99" r="1.3" fill="#ff0000"/>
<circle cx="215.64" cy="66.41" r="1.3" fill="#ff0000"/>
<circle cx="218.02" cy="66.62" r="1.3" fill="#0072bd"/>
<circle cx="218.02" cy="69.02" r="1.3" fill="#0072bd"/>
<circle cx="204.73" cy="76.67" r="1.3" fill="#ff0000"/>
<circle cx="204.73" cy="79.07" r="1.3" fill="#ff0000"/>
<circle cx="245.97" cy="54.17" r="1.3" fill="#ff0000"/>
<circle cx="188.24" cy="86.41" r="1.3" fill="#ff0000"/>
<circle cx="223.7" cy="60.97" r="1.3" fill="#ff0000"/>
<circle cx="223.7" cy="63.37" r="1.3" fill="#ff0000"/>
<circle cx="207.03" cy="69.77" r="1.3" fill="#ff0000"/>
<circle cx="216.13" cy="59.49" r="1.3" fill="#0072bd"/>
<circle cx="215.35" cy="70.92" r="1.3" fill="#ff0000"/>
<circle cx="208.98" cy="77.63" r="1.3" fill="#0072bd"/>
<circle cx="213.03" cy="64.69" r="1.3" fill="#ff0000"/>
<circle cx="203.79" cy="67.45" r="1.3" fill="#ff0000"/>
<circle cx="203.79" cy="69.85" r="1.3" fill="#ff0000"/>
<circle cx="215.49" cy="71.75" r="1.3" fill="#ff0000"/>
<circle cx="205.9" cy="69.42" r="1.3" fill="#ff0000"/>
<circle cx="211.42" cy="68.4" r="1.3" fill="#ff0000"/>
<circle cx="211.42" cy="70.8" r="1.3" fill="#ff0000"/>
<circle cx="206.41" cy="71.79" r="1.3" fill="#ff0000"/>
<circle cx="206.41" cy="74.19" r="1.3" fill="#ff0000"/>
<circle cx="216.18" cy="69.83" r="1.3" fill="#ff0000"/>
<circle cx="208.75" cy="77.45" r="1.3" fill="#ff0000"/>
<circle cx="208.75" cy="79.85" r="1.3" fill="#ff0000"/>
<circle cx="205.58" cy="67.37" r="1.3" fill="#ff0000"/>
<circle cx="215.86" cy="70.36" r="1.3" fill="#ff0000"/>
<circle cx="203.15" cy="80.19" r="1.3" fill="#0072bd"/>
<circle cx="210.17" cy="76.06" r="1.3" fill="#ff0000"/>
<circle cx="210.17" cy="78.46" r="1.3" fill="#ff0000"/>
<circle cx="217.83" cy="75.83" r="1.3" fill="#ff0000"/>
<circle cx="213.53" cy="66.63" r="1.3" fill="#ff0000"/>
<circle cx="207.35" cy="81.09" r="1.3" fill="#ff0000"/>
<circle cx="202.31" cy="78.97" r="1.3" fill="#ff0000"/>
<circle cx="211.62" cy="74.52" r="1.3" fill="#ff0000"/>
<circle cx="221.24" cy="70.95" r="1.3" fill="#ff0000"/>
<circle cx="208.69" cy="69.33" r="1.3" fill="#ff0000"/>
<circle cx="220.94" cy="66.4" r="1.3" fill="#ff0000"/>
<circle cx="232.09" cy="56.93" r="1.3" fill="#ff0000"/>
<circle cx="232.09" cy="59.33" r="1.3" fill="#ff0000"/>
<circle cx="258.73" cy="56.58" r="1.3" fill="#ff0000"/>
<circle cx="246.01" cy="67.02" r="1.3" fill="#ff0000"/>
<circle cx="218.6" cy="52.79" r="1.3" fill="#ff0000"/>
<circle cx="267.52" cy="50.5" r="1.3" fill="#ff0000"/>
<circle cx="255.14" cy="52.29" r="1.3" fill="#ff0000"/>
<circle cx="257.71" cy="61.4" r="1.3" fill="#ff0000"/>
<circle cx="257.71" cy="63.8" r="1.3" fill="#ff0000"/>
<circle cx="253.69" cy="56.14" r="1.3" fill="#ff0000"/>
<circle cx="241.03" cy="54.84" r="1.3" fill="#ff0000"/>
<circle cx="238.46" cy="62.12" r="1.3" fill="#ff0000"/>
<circle cx="227.15" cy="58.78" r="1.3" fill="#ff0000"/>
<circle cx="258" cy="54.82" r="1.3" fill="#ff0000"/>
<circle cx="239.04" cy="68.14" r="1.3" fill="#ff0000"/>
<circle cx="270.62" cy="51.1" r="1.3" fill="#ff0000"/>
<circle cx="228.35" cy="61.57" r="1.3" fill="#ff0000"/>
<circle cx="244.6" cy="53.12" r="1.3" fill="#ff0000"/>
<circle cx="250.95" cy="58.02" r="1.3" fill="#ff0000"/>
<circle cx="258.22" cy="60.19" r="1.3" fill="#ff0000"/>
<circle cx="246.84" cy="65.1" r="1.3" fill="#ff0000"/>
<circle cx="246.84" cy="67.5" r="1.3" fill="#ff0000"/>
<circle cx="242.99" cy="56.39" r="1.3" fill="#ff0000"/>
<circle cx="235.82" cy="68.68" r="1.3" fill="#ff0000"/>
<circle cx="240.49" cy="55.11" r="1.3" fill="#ff0000"/>
<circle cx="216.55" cy="55.77" r="1.3" fill="#0072bd"/>
<circle cx="239.5" cy="53.28" r="1.3" fill="#ff0000"/>
<circle cx="282.49" cy="44.14" r="1.3" fill="#ff0000"/>
<circle cx="249.19" cy="58.65" r="1.3" fill="#ff0000"/>
<circle cx="252.95" cy="56.65" r="1.3" fill="#ff0000"/>
<circle cx="230.41" cy="58.9" r="1.3" fill="#ff0000"/>
<circle cx="230.41" cy="61.3" r="1.3" fill="#ff0000"/>
<circle cx="252.32" cy="45.83" r="1.3" fill="#ff0000"/>
<circle cx="252.32" cy="48.23" r="1.3" fill="#ff0000"/>
<circle cx="227.47" cy="54.27" r="1.3" fill="#0072bd"/>
<circle cx="227.47" cy="56.67" r="1.3" fill="#0072bd"/>
<circle cx="238.8" cy="52.08" r="1.3" fill="#ff0000"/>
<circle cx="238.8" cy="54.48" r="1.3" fill="#ff0000"/>
<circle cx="249.42" cy="59.98" r="1.3" fill="#ff0000"/>
<circle cx="249.42" cy="62.38" r="1.3" fill="#ff0000"/>
<circle cx="239.08" cy="59.45" r="1.3" fill="#ff0000"/>
<circle cx="239.08" cy="61.85" r="1.3" fill="#ff0000"/>
<circle cx="238.74" cy="57.92" r="1.3" fill="#ff0000"/>
<circle cx="238.74" cy="60.32" r="1.3" fill="#ff0000"/>
<circle cx="249.41" cy="64.32" r="1.3" fill="#ff0000"/>
<circle cx="250.89" cy="57.84" r="1.3" fill="#ff0000"/>
<circle cx="250.89" cy="60.24" r="1.3" fill="#ff0000"/>
<circle cx="256.2" cy="70.3" r="1.3" fill="#ff0000"/>
<circle cx="249.87" cy="51.59" r="1.3" fill="#ff0000"/>
<circle cx="234.15" cy="52.99" r="1.3" fill="#ff0000"/>
<circle cx="272.71" cy="38.57" r="1.3" fill="#ff0000"/>
<circle cx="244.02" cy="57.01" r="1.3" fill="#ff0000"/>
<circle cx="250.27" cy="58.88" r="1.3" fill="#ff0000"/>
<circle cx="241.06" cy="65.68" r="1.3" fill="#ff0000"/>
<circle cx="241.06" cy="68.08" r="1.3" fill="#ff0000"/>
<circle cx="68.03" cy="150.06" r="1.3" fill="#ff0000"/>
<circle cx="68.03" cy="154.23" r="1.3" fill="#ff0000"/>
<circle cx="175.61" cy="122.76" r="1.3" fill="#ff0000"/>
<circle cx="175.61" cy="132.4" r="1.3" fill="#ff0000"/>
<circle cx="178.82" cy="125.97" r="1.3" fill="#ff0000"/>
<circle cx="164.37" cy="135.61" r="1.3" fill="#ff0000"/>
<circle cx="165.97" cy="138.18" r="1.3" fill="#ff0000"/>
<circle cx="263.92" cy="64.96" r="1.3" fill="#ff0000"/>
<circle cx="92.11" cy="138.18" r="1.3" fill="#0072bd"/>
<circle cx="98.54" cy="151.66" r="1.3" fill="#0072bd"/>
<circle cx="127.44" cy="162.9" r="1.3" fill="#0072bd"/>
<circle cx="153.13" cy="148.45" r="1.3" fill="#0072bd"/>
<circle cx="137.07" cy="142.03" r="1.3" fill="#0072bd"/>
<line x1="71.8" y1="166.7" x2="256.5" y2="35.8" stroke="#000" stroke-width="2"/>
<circle cx="147.23" cy="98.58" r="1.3" fill="#0072bd"/>
<circle cx="143.88" cy="90.44" r="1.3" fill="#ff0000"/>
<circle cx="143.88" cy="92.84" r="1.3" fill="#ff0000"/>
<circle cx="191.3" cy="79.08" r="1.3" fill="#0072bd"/>
<circle cx="211.76" cy="53.54" r="1.3" fill="#0072bd"/>
<circle cx="190.04" cy="64.85" r="1.3" fill="#ff0000"/>
<circle cx="166.13" cy="80.79" r="1.3" fill="#0072bd"/>
<circle cx="166.13" cy="83.19" r="1.3" fill="#0072bd"/>
<circle cx="180.29" cy="88.9" r="1.3" fill="#0072bd"/>
<circle cx="164.22" cy="82.09" r="1.3" fill="#0072bd"/>
<circle cx="158.59" cy="97.96" r="1.3" fill="#0072bd"/>
<circle cx="176.3" cy="70.95" r="1.3" fill="#0072bd"/>
<circle cx="176.3" cy="73.35" r="1.3" fill="#0072bd"/>
<circle cx="172.34" cy="99.87" r="1.3" fill="#0072bd"/>
<circle cx="181.76" cy="89.54" r="1.3" fill="#ff0000"/>
<circle cx="137.77" cy="102.07" r="1.3" fill="#0072bd"/>
<circle cx="161.84" cy="89.92" r="1.3" fill="#0072bd"/>
<circle cx="158.42" cy="89.32" r="1.3" fill="#0072bd"/>
<circle cx="185.5" cy="70.82" r="1.3" fill="#0072bd"/>
<circle cx="169.19" cy="85.53" r="1.3" fill="#ff0000"/>
<circle cx="148.17" cy="106" r="1.3" fill="#0072bd"/>
<circle cx="185.57" cy="76.85" r="1.3" fill="#0072bd"/>
<circle cx="156.33" cy="83.27" r="1.3" fill="#0072bd"/>
<circle cx="166.53" cy="86.92" r="1.3" fill="#0072bd"/>
<circle cx="170.83" cy="87.6" r="1.3" fill="#0072bd"/>
<circle cx="141.59" cy="109.52" r="1.3" fill="#0072bd"/>
<circle cx="174.74" cy="88.48" r="1.3" fill="#0072bd"/>
<circle cx="148.24" cy="80.54" r="1.3" fill="#0072bd"/>
<circle cx="156.34" cy="97.25" r="1.3" fill="#0072bd"/>
<circle cx="151.23" cy="89.26" r="1.3" fill="#0072bd"/>
<circle cx="180.69" cy="74.66" r="1.3" fill="#ff0000"/>
<circle cx="167.99" cy="82.82" r="1.3" fill="#0072bd"/>
<circle cx="163.69" cy="101.72" r="1.3" fill="#ff0000"/>
<circle cx="147.82" cy="89.64" r="1.3" fill="#0072bd"/>
<circle cx="154.19" cy="78.73" r="1.3" fill="#0072bd"/>
<circle cx="171.03" cy="76.25" r="1.3" fill="#ff0000"/>
<circle cx="171.03" cy="78.65" r="1.3" fill="#ff0000"/>
<circle cx="141.23" cy="101.2" r="1.3" fill="#0072bd"/>
<circle cx="159.6" cy="103.43" r="1.3" fill="#0072bd"/>
<circle cx="164.48" cy="94.81" r="1.3" fill="#0072bd"/>
<circle cx="162.75" cy="85.33" r="1.3" fill="#0072bd"/>
<circle cx="150.53" cy="95.09" r="1.3" fill="#0072bd"/>
<circle cx="157.49" cy="91.03" r="1.3" fill="#0072bd"/>
<circle cx="190" cy="101.58" r="1.3" fill="#0072bd"/>
<circle cx="169.54" cy="78.14" r="1.3" fill="#0072bd"/>
<circle cx="152.16" cy="105.54" r="1.3" fill="#ff0000"/>
<circle cx="169.42" cy="86.64" r="1.3" fill="#0072bd"/>
<circle cx="148.59" cy="97.31" r="1.3" fill="#0072bd"/>
<circle cx="163.5" cy="87.63" r="1.3" fill="#0072bd"/>
<circle cx="150.58" cy="80.51" r="1.3" fill="#0072bd"/>
<circle cx="150.58" cy="82.91" r="1.3" fill="#0072bd"/>
<circle cx="148.18" cy="137.78" r="1.3" fill="#0072bd"/>
<circle cx="135.9" cy="125.46" r="1.3" fill="#ff0000"/>
<circle cx="128.31" cy="121.48" r="1.3" fill="#0072bd"/>
<circle cx="114.69" cy="121.77" r="1.3" fill="#0072bd"/>
<circle cx="125.54" cy="118.52" r="1.3" fill="#0072bd"/>
<circle cx="113.31" cy="124.65" r="1.3" fill="#0072bd"/>
<circle cx="113.31" cy="127.05" r="1.3" fill="#0072bd"/>
<circle cx="133.05" cy="118.07" r="1.3" fill="#0072bd"/>
<circle cx="133.05" cy="120.47" r="1.3" fill="#0072bd"/>
<circle cx="117.35" cy="131.86" r="1.3" fill="#0072bd"/>
<circle cx="116.35" cy="118.64" r="1.3" fill="#0072bd"/>
<circle cx="124.14" cy="115.74" r="1.3" fill="#0072bd"/>
<circle cx="149.64" cy="112.67" r="1.3" fill="#0072bd"/>
<circle cx="126" cy="129.76" r="1.3" fill="#0072bd"/>
<circle cx="117.25" cy="99.3" r="1.3" fill="#ff0000"/>
<circle cx="127.61" cy="100.18" r="1.3" fill="#0072bd"/>
<circle cx="115.16" cy="96.16" r="1.3" fill="#0072bd"/>
<circle cx="115.16" cy="98.56" r="1.3" fill="#0072bd"/>
<circle cx="156.55" cy="113.09" r="1.3" fill="#ff0000"/>
<circle cx="115" cy="122.83" r="1.3" fill="#0072bd"/>
<circle cx="121.67" cy="113.25" r="1.3" fill="#0072bd"/>
<circle cx="122.27" cy="116.67" r="1.3" fill="#ff0000"/>
<circle cx="122.27" cy="119.07" r="1.3" fill="#ff0000"/>
<circle cx="119.24" cy="143.92" r="1.3" fill="#0072bd"/>
<circle cx="100.16" cy="135.11" r="1.3" fill="#ff0000"/>
<circle cx="146.83" cy="124.97" r="1.3" fill="#ff0000"/>
<circle cx="132.92" cy="132.28" r="1.3" fill="#ff0000"/>
<circle cx="132.92" cy="134.68" r="1.3" fill="#ff0000"/>
<circle cx="125.71" cy="143.46" r="1.3" fill="#ff0000"/>
<circle cx="120.79" cy="151.73" r="1.3" fill="#ff0000"/>
<circle cx="150.13" cy="131.72" r="1.3" fill="#ff0000"/>
<circle cx="104.91" cy="161.94" r="1.3" fill="#ff0000"/>
<circle cx="196.68" cy="90.07" r="1.3" fill="#0072bd"/>
<circle cx="165.07" cy="89.45" r="1.3" fill="#0072bd"/>
<circle cx="183.92" cy="75.81" r="1.3" fill="#ff0000"/>
<circle cx="183.52" cy="91.97" r="1.3" fill="#0072bd"/>
<circle cx="194.83" cy="80.34" r="1.3" fill="#ff0000"/>
<circle cx="192.37" cy="69.92" r="1.3" fill="#0072bd"/>
<circle cx="190.05" cy="83.64" r="1.3" fill="#ff0000"/>
<circle cx="176.92" cy="88.2" r="1.3" fill="#ff0000"/>
<circle cx="185.59" cy="73.91" r="1.3" fill="#0072bd"/>
<circle cx="182.2" cy="77.46" r="1.3" fill="#ff0000"/>
<circle cx="192.29" cy="81.08" r="1.3" fill="#0072bd"/>
<circle cx="190.4" cy="73.49" r="1.3" fill="#ff0000"/>
<circle cx="190.4" cy="75.89" r="1.3" fill="#ff0000"/>
<circle cx="178.27" cy="75.25" r="1.3" fill="#ff0000"/>
<circle cx="194.26" cy="77.82" r="1.3" fill="#0072bd"/>
<circle cx="184.78" cy="64.99" r="1.3" fill="#ff0000"/>
<circle cx="199.35" cy="75.96" r="1.3" fill="#0072bd"/>
<circle cx="203.86" cy="78.26" r="1.3" fill="#0072bd"/>
<circle cx="183.91" cy="76.98" r="1.3" fill="#ff0000"/>
<circle cx="174.63" cy="81.02" r="1.3" fill="#ff0000"/>
<circle cx="209.37" cy="78.03" r="1.3" fill="#0072bd"/>
<circle cx="193.17" cy="92.22" r="1.3" fill="#ff0000"/>
<circle cx="190.74" cy="74.25" r="1.3" fill="#0072bd"/>
<circle cx="182.95" cy="75.57" r="1.3" fill="#0072bd"/>
<circle cx="184.37" cy="90.62" r="1.3" fill="#0072bd"/>
<circle cx="181.04" cy="82.11" r="1.3" fill="#0072bd"/>
<circle cx="193.18" cy="63.39" r="1.3" fill="#0072bd"/>
<circle cx="168.33" cy="83.77" r="1.3" fill="#0072bd"/>
<circle cx="178.89" cy="66.51" r="1.3" fill="#0072bd"/>
<circle cx="186.84" cy="74.33" r="1.3" fill="#0072bd"/>
<circle cx="200.05" cy="76.88" r="1.3" fill="#0072bd"/>
<circle cx="200.05" cy="79.28" r="1.3" fill="#0072bd"/>
<circle cx="205.35" cy="71.16" r="1.3" fill="#0072bd"/>
<circle cx="205.35" cy="73.56" r="1.3" fill="#0072bd"/>
<circle cx="190.38" cy="84.61" r="1.3" fill="#ff0000"/>
<circle cx="190.38" cy="87.01" r="1.3" fill="#ff0000"/>
<circle cx="178.58" cy="91.58" r="1.3" fill="#ff0000"/>
<circle cx="201.49" cy="76.82" r="1.3" fill="#0072bd"/>
<circle cx="193.51" cy="81.75" r="1.3" fill="#ff0000"/>
<circle cx="199.12" cy="61.68" r="1.3" fill="#ff0000"/>
<circle cx="206.79" cy="70.76" r="1.3" fill="#ff0000"/>
<circle cx="214.27" cy="64.78" r="1.3" fill="#ff0000"/>
<circle cx="214.27" cy="67.18" r="1.3" fill="#ff0000"/>
<circle cx="214.02" cy="73.53" r="1.3" fill="#ff0000"/>
<circle cx="214.02" cy="75.93" r="1.3" fill="#ff0000"/>
<circle cx="215.19" cy="71.61" r="1.3" fill="#ff0000"/>
<circle cx="211.73" cy="78.76" r="1.3" fill="#ff0000"/>
<circle cx="199.49" cy="79.18" r="1.3" fill="#ff0000"/>
<circle cx="199.49" cy="81.58" r="1.3" fill="#ff0000"/>
<circle cx="209.04" cy="62.38" r="1.3" fill="#ff0000"/>
<circle cx="209.39" cy="66.26" r="1.3" fill="#ff0000"/>
<circle cx="209.39" cy="68.66" r="1.3" fill="#ff0000"/>
<circle cx="214.53" cy="75.39" r="1.3" fill="#ff0000"/>
<circle cx="188.37" cy="76.29" r="1.3" fill="#ff0000"/>
<circle cx="222.48" cy="66.1" r="1.3" fill="#ff0000"/>
<circle cx="196.61" cy="76.49" r="1.3" fill="#ff0000"/>
<circle cx="217.5" cy="72.82" r="1.3" fill="#ff0000"/>
<circle cx="229.3" cy="68.04" r="1.3" fill="#ff0000"/>
<circle cx="213.28" cy="73.36" r="1.3" fill="#ff0000"/>
<circle cx="213.28" cy="75.76" r="1.3" fill="#ff0000"/>
<circle cx="188.24" cy="88.81" r="1.3" fill="#ff0000"/>
<circle cx="197.96" cy="85.26" r="1.3" fill="#ff0000"/>
<circle cx="214.78" cy="73.49" r="1.3" fill="#ff0000"/>
<circle cx="213.03" cy="67.09" r="1.3" fill="#ff0000"/>
<circle cx="205.9" cy="67.02" r="1.3" fill="#ff0000"/>
<circle cx="217.95" cy="62.87" r="1.3" fill="#ff0000"/>
<circle cx="231.73" cy="64.61" r="1.3" fill="#ff0000"/>
<circle cx="216.18" cy="67.43" r="1.3" fill="#ff0000"/>
<circle cx="203.15" cy="77.79" r="1.3" fill="#0072bd"/>
<circle cx="225.14" cy="62.76" r="1.3" fill="#ff0000"/>
<circle cx="218.26" cy="64.34" r="1.3" fill="#ff0000"/>
<circle cx="213.53" cy="64.23" r="1.3" fill="#ff0000"/>
<circle cx="201.99" cy="77.66" r="1.3" fill="#ff0000"/>
<circle cx="201.99" cy="80.06" r="1.3" fill="#ff0000"/>
<circle cx="207.35" cy="78.69" r="1.3" fill="#ff0000"/>
<circle cx="211.62" cy="72.12" r="1.3" fill="#ff0000"/>
<circle cx="208.69" cy="71.73" r="1.3" fill="#ff0000"/>
<circle cx="234.46" cy="63.39" r="1.3" fill="#ff0000"/>
<circle cx="255.14" cy="54.69" r="1.3" fill="#ff0000"/>
<circle cx="253.69" cy="58.54" r="1.3" fill="#ff0000"/>
<circle cx="228.35" cy="63.97" r="1.3" fill="#ff0000"/>
<circle cx="244.6" cy="50.72" r="1.3" fill="#ff0000"/>
<circle cx="242.67" cy="61.98" r="1.3" fill="#ff0000"/>
<circle cx="242.67" cy="64.38" r="1.3" fill="#ff0000"/>
<circle cx="262.22" cy="65.56" r="1.3" fill="#ff0000"/>
<circle cx="262.22" cy="67.96" r="1.3" fill="#ff0000"/>
<circle cx="242.99" cy="53.99" r="1.3" fill="#ff0000"/>
<circle cx="232.42" cy="57.78" r="1.3" fill="#ff0000"/>
<circle cx="256.44" cy="46.6" r="1.3" fill="#ff0000"/>
<circle cx="256.44" cy="49" r="1.3" fill="#ff0000"/>
<circle cx="240.49" cy="57.51" r="1.3" fill="#ff0000"/>
<circle cx="216.55" cy="58.17" r="1.3" fill="#0072bd"/>
<circle cx="239.5" cy="55.68" r="1.3" fill="#ff0000"/>
<circle cx="252.95" cy="59.05" r="1.3" fill="#ff0000"/>
<circle cx="249.41" cy="66.72" r="1.3" fill="#ff0000"/>
<circle cx="254.02" cy="58.41" r="1.3" fill="#ff0000"/>
<circle cx="256.2" cy="67.9" r="1.3" fill="#ff0000"/>
<circle cx="244.02" cy="54.61" r="1.3" fill="#ff0000"/>
<circle cx="247.95" cy="57.43" r="1.3" fill="#ff0000"/>
<circle cx="68.03" cy="170.93" r="1.3" fill="#ff0000"/>
<circle cx="231.8" cy="37.66" r="1.3" fill="#ff0000"/>
<circle cx="231.8" cy="40.87" r="1.3" fill="#ff0000"/>
<circle cx="275.16" cy="42.48" r="1.3" fill="#ff0000"/>
<circle cx="263.92" cy="68.17" r="1.3" fill="#ff0000"/>
<circle cx="144.14" cy="161.3" r="1.3" fill="#0072bd"/>
<text x="70" y="49" font-size="12.7" font-weight="bold" fill="#000">R<tspan font-size="8.8" dy="-4.7">2</tspan><tspan dy="4.7">=0.78</tspan></text>
<text id="t1" x="64.3" y="228.9" font-size="13.4" font-weight="bold" fill="#262626" text-anchor="start">ln(VSI<tspan font-size="10" dy="5.6">H</tspan><tspan dy="-5.6">)</tspan></text>
<text id="t2" x="234.3" y="228.4" font-size="13.4" font-weight="bold" fill="#262626" text-anchor="start">ln(A RMS<tspan font-size="10" dy="5.6">H</tspan><tspan dy="-5.6">)</tspan></text>
<text id="t3" transform="translate(11,142.9) rotate(-90)" font-size="12" font-weight="bold" fill="#ff0000" text-anchor="start">ln(<tspan font-style="italic" font-weight="normal">δ</tspan><tspan font-size="9.4" dy="6">R Bearing</tspan><tspan dy="-6">)</tspan></text>
<text x="148.1" y="271.3" style="font-family:&quot;Liberation Serif&quot;, serif" font-size="15.8" fill="#000" text-anchor="middle">(a)</text>
<line x1="427.2" y1="169.3" x2="559.4" y2="141.6" stroke="#fdeaea" stroke-width="0.7"/>
<line x1="559.4" y1="141.6" x2="683.2" y2="170.7" stroke="#fdeaea" stroke-width="0.7"/>
<line x1="427.2" y1="163" x2="559.4" y2="135.3" stroke="#fdeaea" stroke-width="0.7"/>
<line x1="559.4" y1="135.3" x2="683.2" y2="164.4" stroke="#fdeaea" stroke-width="0.7"/>
<line x1="427.2" y1="156.7" x2="559.4" y2="129" stroke="#fdeaea" stroke-width="0.7"/>
<line x1="559.4" y1="129" x2="683.2" y2="158.1" stroke="#fdeaea" stroke-width="0.7"/>
<line x1="427.2" y1="150.4" x2="559.4" y2="122.7" stroke="#fdeaea" stroke-width="0.7"/>
<line x1="559.4" y1="122.7" x2="683.2" y2="151.8" stroke="#fdeaea" stroke-width="0.7"/>
<line x1="427.2" y1="144.1" x2="559.4" y2="116.4" stroke="#fdeaea" stroke-width="0.7"/>
<line x1="559.4" y1="116.4" x2="683.2" y2="145.5" stroke="#fdeaea" stroke-width="0.7"/>
<line x1="427.2" y1="137.8" x2="559.4" y2="110.1" stroke="#fdeaea" stroke-width="0.7"/>
<line x1="559.4" y1="110.1" x2="683.2" y2="139.2" stroke="#fdeaea" stroke-width="0.7"/>
<line x1="427.2" y1="131.5" x2="559.4" y2="103.8" stroke="#fdeaea" stroke-width="0.7"/>
<line x1="559.4" y1="103.8" x2="683.2" y2="132.9" stroke="#fdeaea" stroke-width="0.7"/>
<line x1="427.2" y1="125.2" x2="559.4" y2="97.5" stroke="#fdeaea" stroke-width="0.7"/>
<line x1="559.4" y1="97.5" x2="683.2" y2="126.6" stroke="#fdeaea" stroke-width="0.7"/>
<line x1="427.2" y1="118.9" x2="559.4" y2="91.2" stroke="#fdeaea" stroke-width="0.7"/>
<line x1="559.4" y1="91.2" x2="683.2" y2="120.3" stroke="#fdeaea" stroke-width="0.7"/>
<line x1="427.2" y1="112.6" x2="559.4" y2="84.9" stroke="#fdeaea" stroke-width="0.7"/>
<line x1="559.4" y1="84.9" x2="683.2" y2="114" stroke="#fdeaea" stroke-width="0.7"/>
<line x1="427.2" y1="106.3" x2="559.4" y2="78.6" stroke="#fdeaea" stroke-width="0.7"/>
<line x1="559.4" y1="78.6" x2="683.2" y2="107.7" stroke="#fdeaea" stroke-width="0.7"/>
<line x1="427.2" y1="100" x2="559.4" y2="72.3" stroke="#fdeaea" stroke-width="0.7"/>
<line x1="559.4" y1="72.3" x2="683.2" y2="101.4" stroke="#fdeaea" stroke-width="0.7"/>
<line x1="427.2" y1="93.7" x2="559.4" y2="66" stroke="#fdeaea" stroke-width="0.7"/>
<line x1="559.4" y1="66" x2="683.2" y2="95.1" stroke="#fdeaea" stroke-width="0.7"/>
<line x1="427.2" y1="87.4" x2="559.4" y2="59.7" stroke="#fdeaea" stroke-width="0.7"/>
<line x1="559.4" y1="59.7" x2="683.2" y2="88.8" stroke="#fdeaea" stroke-width="0.7"/>
<line x1="427.2" y1="81.1" x2="559.4" y2="53.4" stroke="#fdeaea" stroke-width="0.7"/>
<line x1="559.4" y1="53.4" x2="683.2" y2="82.5" stroke="#fdeaea" stroke-width="0.7"/>
<line x1="427.2" y1="74.8" x2="559.4" y2="47.1" stroke="#fdeaea" stroke-width="0.7"/>
<line x1="559.4" y1="47.1" x2="683.2" y2="76.2" stroke="#fdeaea" stroke-width="0.7"/>
<line x1="427.2" y1="68.5" x2="559.4" y2="40.8" stroke="#fdeaea" stroke-width="0.7"/>
<line x1="559.4" y1="40.8" x2="683.2" y2="69.9" stroke="#fdeaea" stroke-width="0.7"/>
<line x1="427.2" y1="62.2" x2="559.4" y2="34.5" stroke="#fdeaea" stroke-width="0.7"/>
<line x1="559.4" y1="34.5" x2="683.2" y2="63.6" stroke="#fdeaea" stroke-width="0.7"/>
<line x1="427.2" y1="55.9" x2="559.4" y2="28.2" stroke="#fdeaea" stroke-width="0.7"/>
<line x1="559.4" y1="28.2" x2="683.2" y2="57.3" stroke="#fdeaea" stroke-width="0.7"/>
<line x1="427.2" y1="49.6" x2="559.4" y2="21.9" stroke="#fdeaea" stroke-width="0.7"/>
<line x1="559.4" y1="21.9" x2="683.2" y2="51" stroke="#fdeaea" stroke-width="0.7"/>
<line x1="427.2" y1="43.3" x2="559.4" y2="15.6" stroke="#fdeaea" stroke-width="0.7"/>
<line x1="559.4" y1="15.6" x2="683.2" y2="44.7" stroke="#fdeaea" stroke-width="0.7"/>
<line x1="427.2" y1="37" x2="559.4" y2="9.3" stroke="#fdeaea" stroke-width="0.7"/>
<line x1="559.4" y1="9.3" x2="683.2" y2="38.4" stroke="#fdeaea" stroke-width="0.7"/>
<line x1="427.2" y1="30.7" x2="559.4" y2="3" stroke="#fdeaea" stroke-width="0.7"/>
<line x1="559.4" y1="3" x2="683.2" y2="32.1" stroke="#fdeaea" stroke-width="0.7"/>
<line x1="439.22" y1="173.08" x2="439.22" y2="24.4" stroke="#e4e4e4" stroke-width="0.7"/>
<line x1="474.05" y1="165.78" x2="474.05" y2="17.1" stroke="#e4e4e4" stroke-width="0.7"/>
<line x1="508.89" y1="158.48" x2="508.89" y2="9.8" stroke="#e4e4e4" stroke-width="0.7"/>
<line x1="543.72" y1="151.18" x2="543.72" y2="2.5" stroke="#e4e4e4" stroke-width="0.7"/>
<line x1="559.4" y1="147.9" x2="559.4" y2="-0.78" stroke="#e4e4e4" stroke-width="0.7"/>
<line x1="600.67" y1="157.6" x2="600.67" y2="8.92" stroke="#e4e4e4" stroke-width="0.7"/>
<line x1="641.93" y1="167.3" x2="641.93" y2="18.62" stroke="#e4e4e4" stroke-width="0.7"/>
<line x1="683.2" y1="177" x2="683.2" y2="28.32" stroke="#e4e4e4" stroke-width="0.7"/>
<line x1="427.2" y1="175.6" x2="559.4" y2="147.9" stroke="#e4e4e4" stroke-width="0.7"/>
<line x1="468.47" y1="185.3" x2="600.67" y2="157.6" stroke="#e4e4e4" stroke-width="0.7"/>
<line x1="509.73" y1="195" x2="641.93" y2="167.3" stroke="#e4e4e4" stroke-width="0.7"/>
<line x1="551" y1="204.7" x2="683.2" y2="177" stroke="#e4e4e4" stroke-width="0.7"/>
<line x1="439.22" y1="173.08" x2="563.02" y2="202.18" stroke="#e4e4e4" stroke-width="0.7"/>
<line x1="474.05" y1="165.78" x2="597.85" y2="194.88" stroke="#e4e4e4" stroke-width="0.7"/>
<line x1="508.89" y1="158.48" x2="632.69" y2="187.58" stroke="#e4e4e4" stroke-width="0.7"/>
<line x1="543.72" y1="151.18" x2="667.52" y2="180.28" stroke="#e4e4e4" stroke-width="0.7"/>
<line x1="427.2" y1="175.6" x2="551" y2="204.7" stroke="#505050" stroke-width="0.8"/>
<line x1="551" y1="204.7" x2="683.2" y2="177" stroke="#505050" stroke-width="0.8"/>
<line x1="427.2" y1="175.6" x2="427.2" y2="26.92" stroke="#ff8080" stroke-width="0.9"/>
<line x1="427.2" y1="175.6" x2="425.2" y2="175.6" stroke="#ff6a6a" stroke-width="0.9"/>
<line x1="427.2" y1="169.3" x2="425.2" y2="169.3" stroke="#ff6a6a" stroke-width="0.9"/>
<line x1="427.2" y1="163" x2="423.7" y2="163" stroke="#ff6a6a" stroke-width="0.9"/>
<line x1="427.2" y1="156.7" x2="425.2" y2="156.7" stroke="#ff6a6a" stroke-width="0.9"/>
<line x1="427.2" y1="150.4" x2="425.2" y2="150.4" stroke="#ff6a6a" stroke-width="0.9"/>
<line x1="427.2" y1="144.1" x2="425.2" y2="144.1" stroke="#ff6a6a" stroke-width="0.9"/>
<line x1="427.2" y1="137.8" x2="423.7" y2="137.8" stroke="#ff6a6a" stroke-width="0.9"/>
<line x1="427.2" y1="131.5" x2="425.2" y2="131.5" stroke="#ff6a6a" stroke-width="0.9"/>
<line x1="427.2" y1="125.2" x2="425.2" y2="125.2" stroke="#ff6a6a" stroke-width="0.9"/>
<line x1="427.2" y1="118.9" x2="425.2" y2="118.9" stroke="#ff6a6a" stroke-width="0.9"/>
<line x1="427.2" y1="112.6" x2="423.7" y2="112.6" stroke="#ff6a6a" stroke-width="0.9"/>
<line x1="427.2" y1="106.3" x2="425.2" y2="106.3" stroke="#ff6a6a" stroke-width="0.9"/>
<line x1="427.2" y1="100" x2="425.2" y2="100" stroke="#ff6a6a" stroke-width="0.9"/>
<line x1="427.2" y1="93.7" x2="425.2" y2="93.7" stroke="#ff6a6a" stroke-width="0.9"/>
<line x1="427.2" y1="87.4" x2="423.7" y2="87.4" stroke="#ff6a6a" stroke-width="0.9"/>
<line x1="427.2" y1="81.1" x2="425.2" y2="81.1" stroke="#ff6a6a" stroke-width="0.9"/>
<line x1="427.2" y1="74.8" x2="425.2" y2="74.8" stroke="#ff6a6a" stroke-width="0.9"/>
<line x1="427.2" y1="68.5" x2="425.2" y2="68.5" stroke="#ff6a6a" stroke-width="0.9"/>
<line x1="427.2" y1="62.2" x2="423.7" y2="62.2" stroke="#ff6a6a" stroke-width="0.9"/>
<line x1="427.2" y1="55.9" x2="425.2" y2="55.9" stroke="#ff6a6a" stroke-width="0.9"/>
<line x1="427.2" y1="49.6" x2="425.2" y2="49.6" stroke="#ff6a6a" stroke-width="0.9"/>
<line x1="427.2" y1="43.3" x2="425.2" y2="43.3" stroke="#ff6a6a" stroke-width="0.9"/>
<line x1="427.2" y1="37" x2="423.7" y2="37" stroke="#ff6a6a" stroke-width="0.9"/>
<line x1="427.2" y1="30.7" x2="425.2" y2="30.7" stroke="#ff6a6a" stroke-width="0.9"/>
<text x="420.8" y="166.96" fill="#ff0000" font-size="11" font-weight="bold" text-anchor="end">-4</text>
<text x="420.8" y="141.76" fill="#ff0000" font-size="11" font-weight="bold" text-anchor="end">-2</text>
<text x="420.8" y="116.56" fill="#ff0000" font-size="11" font-weight="bold" text-anchor="end">0</text>
<text x="420.8" y="91.36" fill="#ff0000" font-size="11" font-weight="bold" text-anchor="end">2</text>
<text x="420.8" y="66.16" fill="#ff0000" font-size="11" font-weight="bold" text-anchor="end">4</text>
<text x="420.8" y="40.96" fill="#ff0000" font-size="11" font-weight="bold" text-anchor="end">6</text>
<text x="416.9" y="188.26" fill="#262626" font-size="11" font-weight="bold" text-anchor="middle">2</text>
<text x="459" y="198.26" fill="#262626" font-size="11" font-weight="bold" text-anchor="middle">4</text>
<text x="500.3" y="207.56" fill="#262626" font-size="11" font-weight="bold" text-anchor="middle">6</text>
<text x="542.4" y="217.16" fill="#262626" font-size="11" font-weight="bold" text-anchor="middle">8</text>
<text x="576" y="215.46" fill="#262626" font-size="11" font-weight="bold" text-anchor="middle">-2</text>
<text x="610.4" y="207.56" fill="#262626" font-size="11" font-weight="bold" text-anchor="middle">-1</text>
<text x="644.4" y="199.16" fill="#262626" font-size="11" font-weight="bold" text-anchor="middle">0</text>
<text x="679.4" y="191.96" fill="#262626" font-size="11" font-weight="bold" text-anchor="middle">1</text>
<circle cx="492.56" cy="140.24" r="1.3" fill="#ff0000"/>
<circle cx="503.07" cy="156.01" r="1.3" fill="#ff0000"/>
<circle cx="507.45" cy="131.83" r="1.3" fill="#ff0000"/>
<circle cx="507.45" cy="134.98" r="1.3" fill="#ff0000"/>
<circle cx="507.45" cy="137.96" r="1.3" fill="#ff0000"/>
<circle cx="519.71" cy="125.17" r="1.3" fill="#ff0000"/>
<circle cx="519.71" cy="129.2" r="1.3" fill="#ff0000"/>
<circle cx="519.71" cy="142.34" r="1.3" fill="#ff0000"/>
<circle cx="519.71" cy="150.75" r="1.3" fill="#ff0000"/>
<circle cx="533.73" cy="116.94" r="1.3" fill="#ff0000"/>
<circle cx="533.73" cy="122.19" r="1.3" fill="#ff0000"/>
<circle cx="541.61" cy="131.83" r="1.3" fill="#ff0000"/>
<circle cx="541.61" cy="136.56" r="1.3" fill="#ff0000"/>
<circle cx="548.62" cy="117.81" r="1.3" fill="#ff0000"/>
<circle cx="548.62" cy="122.72" r="1.3" fill="#ff0000"/>
<circle cx="559.13" cy="121.32" r="1.3" fill="#ff0000"/>
<circle cx="559.13" cy="103.8" r="1.3" fill="#ff0000"/>
<circle cx="454.89" cy="144.97" r="1.3" fill="#ff0000"/>
<circle cx="454.89" cy="149.7" r="1.3" fill="#ff0000"/>
<circle cx="454.89" cy="166.87" r="1.3" fill="#ff0000"/>
<circle cx="472.41" cy="149.35" r="1.3" fill="#ff0000"/>
<circle cx="496.94" cy="116.94" r="1.3" fill="#0072bd"/>
<circle cx="496.94" cy="121.32" r="1.3" fill="#0072bd"/>
<circle cx="492.56" cy="125.7" r="1.3" fill="#0072bd"/>
<circle cx="492.56" cy="128.33" r="1.3" fill="#0072bd"/>
<circle cx="479.42" cy="132.7" r="1.3" fill="#0072bd"/>
<circle cx="483.8" cy="145.84" r="1.3" fill="#0072bd"/>
<circle cx="483.8" cy="148.47" r="1.3" fill="#0072bd"/>
<circle cx="489.05" cy="141.46" r="1.3" fill="#0072bd"/>
<circle cx="497.81" cy="144.09" r="1.3" fill="#0072bd"/>
<circle cx="500.44" cy="124.82" r="1.3" fill="#0072bd"/>
<circle cx="500.44" cy="127.45" r="1.3" fill="#0072bd"/>
<circle cx="506.57" cy="130.08" r="1.3" fill="#0072bd"/>
<circle cx="506.57" cy="131.83" r="1.3" fill="#0072bd"/>
<circle cx="511.83" cy="144.09" r="1.3" fill="#0072bd"/>
<circle cx="511.83" cy="146.72" r="1.3" fill="#0072bd"/>
<circle cx="515.33" cy="139.71" r="1.3" fill="#0072bd"/>
<circle cx="524.09" cy="146.72" r="1.3" fill="#0072bd"/>
<circle cx="523.22" cy="117.81" r="1.3" fill="#0072bd"/>
<circle cx="524.09" cy="110.81" r="1.3" fill="#0072bd"/>
<circle cx="539.86" cy="148.47" r="1.3" fill="#0072bd"/>
<circle cx="510.08" cy="78.4" r="1.3" fill="#0072bd"/>
<circle cx="503.07" cy="107.3" r="1.3" fill="#0072bd"/>
<circle cx="505.7" cy="102.05" r="1.3" fill="#0072bd"/>
<circle cx="507.45" cy="103.8" r="1.3" fill="#0072bd"/>
<circle cx="513.58" cy="102.05" r="1.3" fill="#0072bd"/>
<circle cx="517.96" cy="103.8" r="1.3" fill="#0072bd"/>
<circle cx="503.07" cy="109.05" r="1.3" fill="#0072bd"/>
<circle cx="536" cy="83.91" r="1.3" fill="#0072bd"/>
<circle cx="536" cy="86.31" r="1.3" fill="#0072bd"/>
<circle cx="529.15" cy="83.92" r="1.3" fill="#0072bd"/>
<circle cx="533.98" cy="91.41" r="1.3" fill="#0072bd"/>
<circle cx="520.87" cy="108.32" r="1.3" fill="#ff0000"/>
<circle cx="561.78" cy="71.66" r="1.3" fill="#ff0000"/>
<circle cx="561.78" cy="74.06" r="1.3" fill="#ff0000"/>
<circle cx="521.33" cy="110.36" r="1.3" fill="#0072bd"/>
<circle cx="563.8" cy="71.63" r="1.3" fill="#0072bd"/>
<circle cx="526.4" cy="80.33" r="1.3" fill="#0072bd"/>
<circle cx="526.4" cy="82.73" r="1.3" fill="#0072bd"/>
<circle cx="556.97" cy="78.48" r="1.3" fill="#0072bd"/>
<circle cx="522.35" cy="90.69" r="1.3" fill="#0072bd"/>
<circle cx="522.35" cy="93.09" r="1.3" fill="#0072bd"/>
<circle cx="515.25" cy="101.03" r="1.3" fill="#0072bd"/>
<circle cx="515.25" cy="103.43" r="1.3" fill="#0072bd"/>
<circle cx="541.54" cy="95.98" r="1.3" fill="#0072bd"/>
<circle cx="541.54" cy="98.38" r="1.3" fill="#0072bd"/>
<circle cx="543.18" cy="96.85" r="1.3" fill="#0072bd"/>
<circle cx="543.18" cy="99.25" r="1.3" fill="#0072bd"/>
<circle cx="561.75" cy="74.43" r="1.3" fill="#0072bd"/>
<circle cx="561.75" cy="76.83" r="1.3" fill="#0072bd"/>
<circle cx="553.89" cy="82.16" r="1.3" fill="#0072bd"/>
<circle cx="531.75" cy="92.84" r="1.3" fill="#0072bd"/>
<circle cx="531.75" cy="95.24" r="1.3" fill="#0072bd"/>
<circle cx="507.92" cy="89.22" r="1.3" fill="#0072bd"/>
<circle cx="556.24" cy="75.95" r="1.3" fill="#0072bd"/>
<circle cx="562.85" cy="82.62" r="1.3" fill="#0072bd"/>
<circle cx="551.88" cy="84" r="1.3" fill="#0072bd"/>
<circle cx="553.58" cy="88.47" r="1.3" fill="#0072bd"/>
<circle cx="550.9" cy="92.29" r="1.3" fill="#0072bd"/>
<circle cx="549.88" cy="73.31" r="1.3" fill="#0072bd"/>
<circle cx="547.03" cy="90.82" r="1.3" fill="#0072bd"/>
<circle cx="547.03" cy="93.22" r="1.3" fill="#0072bd"/>
<circle cx="552.22" cy="80.7" r="1.3" fill="#0072bd"/>
<circle cx="555.86" cy="79.58" r="1.3" fill="#0072bd"/>
<circle cx="543.08" cy="91.68" r="1.3" fill="#ff0000"/>
<circle cx="526.9" cy="87.7" r="1.3" fill="#0072bd"/>
<circle cx="541.19" cy="84.96" r="1.3" fill="#0072bd"/>
<circle cx="533.42" cy="89.31" r="1.3" fill="#0072bd"/>
<circle cx="530.2" cy="92.3" r="1.3" fill="#ff0000"/>
<circle cx="530.2" cy="94.7" r="1.3" fill="#ff0000"/>
<circle cx="548.85" cy="79.58" r="1.3" fill="#0072bd"/>
<circle cx="562.78" cy="75.01" r="1.3" fill="#0072bd"/>
<circle cx="562.78" cy="77.41" r="1.3" fill="#0072bd"/>
<circle cx="524.04" cy="99.19" r="1.3" fill="#0072bd"/>
<circle cx="524.04" cy="101.59" r="1.3" fill="#0072bd"/>
<circle cx="522.35" cy="88.65" r="1.3" fill="#ff0000"/>
<circle cx="522.35" cy="91.05" r="1.3" fill="#ff0000"/>
<circle cx="536.51" cy="109.39" r="1.3" fill="#0072bd"/>
<circle cx="536.51" cy="111.79" r="1.3" fill="#0072bd"/>
<circle cx="529.34" cy="106.12" r="1.3" fill="#0072bd"/>
<circle cx="520.08" cy="83.04" r="1.3" fill="#0072bd"/>
<circle cx="520.08" cy="85.44" r="1.3" fill="#0072bd"/>
<circle cx="544.19" cy="90.91" r="1.3" fill="#0072bd"/>
<circle cx="544.19" cy="93.31" r="1.3" fill="#0072bd"/>
<circle cx="523.96" cy="77.5" r="1.3" fill="#0072bd"/>
<circle cx="523.96" cy="79.9" r="1.3" fill="#0072bd"/>
<circle cx="538.32" cy="84.96" r="1.3" fill="#0072bd"/>
<circle cx="545.13" cy="91.84" r="1.3" fill="#0072bd"/>
<circle cx="554.52" cy="76.38" r="1.3" fill="#0072bd"/>
<circle cx="554.52" cy="78.78" r="1.3" fill="#0072bd"/>
<circle cx="568.56" cy="93.37" r="1.3" fill="#0072bd"/>
<circle cx="516.04" cy="91.26" r="1.3" fill="#0072bd"/>
<circle cx="530.22" cy="81.13" r="1.3" fill="#0072bd"/>
<circle cx="532.77" cy="86.52" r="1.3" fill="#0072bd"/>
<circle cx="525.35" cy="102.79" r="1.3" fill="#0072bd"/>
<circle cx="525.35" cy="105.19" r="1.3" fill="#0072bd"/>
<circle cx="564.11" cy="72.85" r="1.3" fill="#0072bd"/>
<circle cx="557.2" cy="79.08" r="1.3" fill="#0072bd"/>
<circle cx="534.85" cy="103.11" r="1.3" fill="#0072bd"/>
<circle cx="534.85" cy="105.51" r="1.3" fill="#0072bd"/>
<circle cx="566.09" cy="87.99" r="1.3" fill="#ff0000"/>
<circle cx="525.87" cy="101.19" r="1.3" fill="#0072bd"/>
<circle cx="525.87" cy="103.59" r="1.3" fill="#0072bd"/>
<circle cx="558.2" cy="75.75" r="1.3" fill="#0072bd"/>
<circle cx="536.56" cy="88.21" r="1.3" fill="#0072bd"/>
<circle cx="551.05" cy="70.38" r="1.3" fill="#0072bd"/>
<circle cx="534.27" cy="91.58" r="1.3" fill="#0072bd"/>
<circle cx="550.25" cy="79.72" r="1.3" fill="#0072bd"/>
<circle cx="558.7" cy="98.32" r="1.3" fill="#0072bd"/>
<circle cx="523.53" cy="104.55" r="1.3" fill="#ff0000"/>
<circle cx="523.53" cy="106.95" r="1.3" fill="#ff0000"/>
<circle cx="518.77" cy="101.52" r="1.3" fill="#0072bd"/>
<circle cx="518.77" cy="103.92" r="1.3" fill="#0072bd"/>
<circle cx="564.57" cy="75.03" r="1.3" fill="#ff0000"/>
<circle cx="553.91" cy="62.22" r="1.3" fill="#0072bd"/>
<circle cx="549.86" cy="73.74" r="1.3" fill="#0072bd"/>
<circle cx="549.86" cy="76.14" r="1.3" fill="#0072bd"/>
<circle cx="520.61" cy="104.52" r="1.3" fill="#0072bd"/>
<circle cx="566.96" cy="76.11" r="1.3" fill="#0072bd"/>
<circle cx="558.18" cy="88.94" r="1.3" fill="#0072bd"/>
<circle cx="558.18" cy="91.34" r="1.3" fill="#0072bd"/>
<circle cx="563.8" cy="85.98" r="1.3" fill="#0072bd"/>
<circle cx="541.98" cy="87.13" r="1.3" fill="#0072bd"/>
<circle cx="541.98" cy="89.53" r="1.3" fill="#0072bd"/>
<circle cx="532.82" cy="89.31" r="1.3" fill="#0072bd"/>
<circle cx="552.08" cy="79.31" r="1.3" fill="#0072bd"/>
<circle cx="552.08" cy="81.71" r="1.3" fill="#0072bd"/>
<circle cx="518.86" cy="99.39" r="1.3" fill="#0072bd"/>
<circle cx="548.35" cy="108.39" r="1.3" fill="#0072bd"/>
<circle cx="523.17" cy="94.36" r="1.3" fill="#0072bd"/>
<circle cx="532.76" cy="100.36" r="1.3" fill="#0072bd"/>
<circle cx="529.61" cy="81.92" r="1.3" fill="#ff0000"/>
<circle cx="518.69" cy="99.24" r="1.3" fill="#0072bd"/>
<circle cx="565.25" cy="72.61" r="1.3" fill="#0072bd"/>
<circle cx="565.25" cy="75.01" r="1.3" fill="#0072bd"/>
<circle cx="556.42" cy="75.13" r="1.3" fill="#0072bd"/>
<circle cx="556.42" cy="77.53" r="1.3" fill="#0072bd"/>
<circle cx="544.46" cy="78.81" r="1.3" fill="#0072bd"/>
<circle cx="534.41" cy="85.42" r="1.3" fill="#0072bd"/>
<circle cx="546.25" cy="96.21" r="1.3" fill="#0072bd"/>
<circle cx="544.6" cy="78.4" r="1.3" fill="#0072bd"/>
<circle cx="542.33" cy="106.14" r="1.3" fill="#0072bd"/>
<circle cx="534.53" cy="87.98" r="1.3" fill="#0072bd"/>
<circle cx="534.53" cy="90.38" r="1.3" fill="#0072bd"/>
<circle cx="536.91" cy="93.23" r="1.3" fill="#ff0000"/>
<circle cx="528.98" cy="85.4" r="1.3" fill="#0072bd"/>
<circle cx="526.25" cy="97.1" r="1.3" fill="#0072bd"/>
<circle cx="553.79" cy="79.86" r="1.3" fill="#0072bd"/>
<circle cx="519.82" cy="81.19" r="1.3" fill="#ff0000"/>
<circle cx="521.99" cy="94.67" r="1.3" fill="#0072bd"/>
<circle cx="547.28" cy="83.21" r="1.3" fill="#0072bd"/>
<circle cx="535.36" cy="92.12" r="1.3" fill="#ff0000"/>
<circle cx="534.95" cy="76" r="1.3" fill="#0072bd"/>
<circle cx="540" cy="82.49" r="1.3" fill="#0072bd"/>
<circle cx="593.05" cy="63.74" r="1.3" fill="#ff0000"/>
<circle cx="593.05" cy="66.14" r="1.3" fill="#ff0000"/>
<circle cx="583.81" cy="58.01" r="1.3" fill="#0072bd"/>
<circle cx="583.81" cy="60.41" r="1.3" fill="#0072bd"/>
<circle cx="567.63" cy="79.63" r="1.3" fill="#ff0000"/>
<circle cx="561.61" cy="81.64" r="1.3" fill="#0072bd"/>
<circle cx="561.61" cy="84.04" r="1.3" fill="#0072bd"/>
<circle cx="589.33" cy="59.34" r="1.3" fill="#0072bd"/>
<circle cx="591.31" cy="64.18" r="1.3" fill="#ff0000"/>
<circle cx="579.17" cy="67.75" r="1.3" fill="#0072bd"/>
<circle cx="569.61" cy="77" r="1.3" fill="#ff0000"/>
<circle cx="569.05" cy="71.15" r="1.3" fill="#0072bd"/>
<circle cx="595.75" cy="68.7" r="1.3" fill="#0072bd"/>
<circle cx="584.82" cy="59.52" r="1.3" fill="#ff0000"/>
<circle cx="584.82" cy="61.92" r="1.3" fill="#ff0000"/>
<circle cx="569" cy="89.07" r="1.3" fill="#ff0000"/>
<circle cx="577.12" cy="83.86" r="1.3" fill="#0072bd"/>
<circle cx="593.11" cy="63.15" r="1.3" fill="#0072bd"/>
<circle cx="593.11" cy="65.55" r="1.3" fill="#0072bd"/>
<circle cx="577.85" cy="65.49" r="1.3" fill="#ff0000"/>
<circle cx="577.85" cy="67.89" r="1.3" fill="#ff0000"/>
<circle cx="559.35" cy="81.7" r="1.3" fill="#ff0000"/>
<circle cx="585.27" cy="55.16" r="1.3" fill="#ff0000"/>
<circle cx="581.26" cy="67.5" r="1.3" fill="#0072bd"/>
<circle cx="579" cy="65.99" r="1.3" fill="#ff0000"/>
<circle cx="560.26" cy="78.13" r="1.3" fill="#ff0000"/>
<circle cx="560.26" cy="80.53" r="1.3" fill="#ff0000"/>
<circle cx="572.68" cy="68.77" r="1.3" fill="#ff0000"/>
<circle cx="572.68" cy="71.17" r="1.3" fill="#ff0000"/>
<circle cx="569.89" cy="90.96" r="1.3" fill="#0072bd"/>
<circle cx="565.92" cy="73.44" r="1.3" fill="#ff0000"/>
<circle cx="572.49" cy="73.57" r="1.3" fill="#0072bd"/>
<circle cx="562.93" cy="88.41" r="1.3" fill="#0072bd"/>
<circle cx="559.44" cy="77.19" r="1.3" fill="#0072bd"/>
<circle cx="590.74" cy="66.66" r="1.3" fill="#0072bd"/>
<circle cx="590.74" cy="69.06" r="1.3" fill="#0072bd"/>
<circle cx="589.39" cy="68.55" r="1.3" fill="#ff0000"/>
<circle cx="560.56" cy="77.91" r="1.3" fill="#0072bd"/>
<circle cx="579.05" cy="87.59" r="1.3" fill="#ff0000"/>
<circle cx="561.31" cy="82.39" r="1.3" fill="#0072bd"/>
<circle cx="561.31" cy="84.79" r="1.3" fill="#0072bd"/>
<circle cx="561.16" cy="89.96" r="1.3" fill="#0072bd"/>
<circle cx="584.43" cy="73.03" r="1.3" fill="#ff0000"/>
<circle cx="591.72" cy="67.32" r="1.3" fill="#0072bd"/>
<circle cx="560.05" cy="83.46" r="1.3" fill="#0072bd"/>
<circle cx="563.38" cy="83.86" r="1.3" fill="#0072bd"/>
<circle cx="563.38" cy="86.26" r="1.3" fill="#0072bd"/>
<circle cx="557.5" cy="72.05" r="1.3" fill="#0072bd"/>
<circle cx="589.02" cy="57.19" r="1.3" fill="#ff0000"/>
<circle cx="590.87" cy="66.48" r="1.3" fill="#ff0000"/>
<circle cx="588.29" cy="64.43" r="1.3" fill="#ff0000"/>
<circle cx="590.09" cy="63.51" r="1.3" fill="#0072bd"/>
<circle cx="562.11" cy="86.62" r="1.3" fill="#0072bd"/>
<circle cx="562.11" cy="89.02" r="1.3" fill="#0072bd"/>
<circle cx="570.04" cy="72.66" r="1.3" fill="#0072bd"/>
<circle cx="561.73" cy="68.4" r="1.3" fill="#0072bd"/>
<circle cx="586.59" cy="62.49" r="1.3" fill="#ff0000"/>
<circle cx="564.96" cy="84.63" r="1.3" fill="#ff0000"/>
<circle cx="564.96" cy="87.03" r="1.3" fill="#ff0000"/>
<circle cx="553.57" cy="68.47" r="1.3" fill="#ff0000"/>
<circle cx="562.03" cy="66.39" r="1.3" fill="#ff0000"/>
<circle cx="557.36" cy="77.04" r="1.3" fill="#ff0000"/>
<circle cx="591.04" cy="65.57" r="1.3" fill="#0072bd"/>
<circle cx="578.6" cy="64.73" r="1.3" fill="#0072bd"/>
<circle cx="583.51" cy="64.11" r="1.3" fill="#ff0000"/>
<circle cx="578.3" cy="71.89" r="1.3" fill="#ff0000"/>
<circle cx="581.14" cy="63.51" r="1.3" fill="#ff0000"/>
<circle cx="576.89" cy="77.76" r="1.3" fill="#ff0000"/>
<circle cx="559.69" cy="77.46" r="1.3" fill="#ff0000"/>
<circle cx="583.49" cy="71.47" r="1.3" fill="#ff0000"/>
<circle cx="557.7" cy="80.68" r="1.3" fill="#0072bd"/>
<circle cx="557.7" cy="83.08" r="1.3" fill="#0072bd"/>
<circle cx="587.75" cy="55.13" r="1.3" fill="#ff0000"/>
<circle cx="582.94" cy="48.41" r="1.3" fill="#0072bd"/>
<circle cx="573.33" cy="58.64" r="1.3" fill="#0072bd"/>
<circle cx="590.74" cy="64.01" r="1.3" fill="#0072bd"/>
<circle cx="590.74" cy="66.41" r="1.3" fill="#0072bd"/>
<circle cx="570.56" cy="68.08" r="1.3" fill="#0072bd"/>
<circle cx="559.51" cy="83.82" r="1.3" fill="#0072bd"/>
<circle cx="577.89" cy="76.57" r="1.3" fill="#0072bd"/>
<circle cx="561.16" cy="73.78" r="1.3" fill="#ff0000"/>
<circle cx="578.93" cy="65.46" r="1.3" fill="#ff0000"/>
<circle cx="575.56" cy="74.54" r="1.3" fill="#0072bd"/>
<circle cx="563.75" cy="83.05" r="1.3" fill="#0072bd"/>
<circle cx="569.09" cy="76.26" r="1.3" fill="#0072bd"/>
<circle cx="589.99" cy="68.4" r="1.3" fill="#ff0000"/>
<circle cx="594.74" cy="60.18" r="1.3" fill="#ff0000"/>
<circle cx="585.98" cy="74.22" r="1.3" fill="#0072bd"/>
<circle cx="585.98" cy="76.62" r="1.3" fill="#0072bd"/>
<circle cx="596.25" cy="66.52" r="1.3" fill="#ff0000"/>
<circle cx="589.35" cy="54.51" r="1.3" fill="#ff0000"/>
<circle cx="589.35" cy="56.91" r="1.3" fill="#ff0000"/>
<circle cx="588.96" cy="69.05" r="1.3" fill="#ff0000"/>
<circle cx="598.06" cy="64.35" r="1.3" fill="#ff0000"/>
<circle cx="579.33" cy="71.02" r="1.3" fill="#0072bd"/>
<circle cx="579.33" cy="73.42" r="1.3" fill="#0072bd"/>
<circle cx="575.1" cy="72.03" r="1.3" fill="#ff0000"/>
<circle cx="603.98" cy="52.69" r="1.3" fill="#0072bd"/>
<circle cx="603.98" cy="55.09" r="1.3" fill="#0072bd"/>
<circle cx="600.89" cy="58.01" r="1.3" fill="#ff0000"/>
<circle cx="591.89" cy="60.48" r="1.3" fill="#ff0000"/>
<circle cx="576.06" cy="65.67" r="1.3" fill="#ff0000"/>
<circle cx="576.06" cy="68.07" r="1.3" fill="#ff0000"/>
<circle cx="604.74" cy="58.3" r="1.3" fill="#ff0000"/>
<circle cx="604.74" cy="60.7" r="1.3" fill="#ff0000"/>
<circle cx="598.83" cy="58.29" r="1.3" fill="#ff0000"/>
<circle cx="598.83" cy="60.69" r="1.3" fill="#ff0000"/>
<circle cx="600.44" cy="58.36" r="1.3" fill="#ff0000"/>
<circle cx="599.33" cy="62.98" r="1.3" fill="#ff0000"/>
<circle cx="597.22" cy="69.54" r="1.3" fill="#ff0000"/>
<circle cx="595.19" cy="58.03" r="1.3" fill="#ff0000"/>
<circle cx="597.83" cy="49.17" r="1.3" fill="#ff0000"/>
<circle cx="597.83" cy="51.57" r="1.3" fill="#ff0000"/>
<circle cx="599.41" cy="53.63" r="1.3" fill="#ff0000"/>
<circle cx="583.19" cy="76.38" r="1.3" fill="#ff0000"/>
<circle cx="577.97" cy="64.4" r="1.3" fill="#ff0000"/>
<circle cx="593.41" cy="64.81" r="1.3" fill="#ff0000"/>
<circle cx="586.51" cy="58.18" r="1.3" fill="#ff0000"/>
<circle cx="594.94" cy="52.08" r="1.3" fill="#ff0000"/>
<circle cx="594.94" cy="54.48" r="1.3" fill="#ff0000"/>
<circle cx="598.44" cy="53.04" r="1.3" fill="#ff0000"/>
<circle cx="598.44" cy="55.44" r="1.3" fill="#ff0000"/>
<circle cx="595.05" cy="54.3" r="1.3" fill="#ff0000"/>
<circle cx="586.51" cy="70.18" r="1.3" fill="#0072bd"/>
<circle cx="591.72" cy="56.09" r="1.3" fill="#ff0000"/>
<circle cx="588.79" cy="63.67" r="1.3" fill="#ff0000"/>
<circle cx="576.38" cy="64.17" r="1.3" fill="#ff0000"/>
<circle cx="576.38" cy="66.57" r="1.3" fill="#ff0000"/>
<circle cx="576.14" cy="66.95" r="1.3" fill="#0072bd"/>
<circle cx="582.95" cy="68" r="1.3" fill="#ff0000"/>
<circle cx="577.09" cy="58.06" r="1.3" fill="#ff0000"/>
<circle cx="581.18" cy="63.71" r="1.3" fill="#ff0000"/>
<circle cx="586.47" cy="64.54" r="1.3" fill="#ff0000"/>
<circle cx="595.63" cy="68.17" r="1.3" fill="#ff0000"/>
<circle cx="607.64" cy="66.1" r="1.3" fill="#ff0000"/>
<circle cx="587.29" cy="62.47" r="1.3" fill="#ff0000"/>
<circle cx="591.4" cy="59.87" r="1.3" fill="#ff0000"/>
<circle cx="602.47" cy="56.91" r="1.3" fill="#ff0000"/>
<circle cx="597.39" cy="53.86" r="1.3" fill="#0072bd"/>
<circle cx="601.49" cy="63.77" r="1.3" fill="#ff0000"/>
<circle cx="602.15" cy="54.28" r="1.3" fill="#ff0000"/>
<circle cx="602.15" cy="56.68" r="1.3" fill="#ff0000"/>
<circle cx="577.76" cy="69.27" r="1.3" fill="#0072bd"/>
<circle cx="604.77" cy="66.65" r="1.3" fill="#ff0000"/>
<circle cx="572.72" cy="67.92" r="1.3" fill="#0072bd"/>
<circle cx="585.74" cy="59.23" r="1.3" fill="#ff0000"/>
<circle cx="583.71" cy="63.97" r="1.3" fill="#ff0000"/>
<circle cx="583.71" cy="66.37" r="1.3" fill="#ff0000"/>
<circle cx="584.29" cy="62.8" r="1.3" fill="#ff0000"/>
<circle cx="590.3" cy="71.77" r="1.3" fill="#ff0000"/>
<circle cx="600.61" cy="57.82" r="1.3" fill="#ff0000"/>
<circle cx="611.13" cy="64.84" r="1.3" fill="#ff0000"/>
<circle cx="596.15" cy="69.27" r="1.3" fill="#ff0000"/>
<circle cx="582.3" cy="70.96" r="1.3" fill="#ff0000"/>
<circle cx="578.39" cy="58.48" r="1.3" fill="#ff0000"/>
<circle cx="596.03" cy="63.46" r="1.3" fill="#ff0000"/>
<circle cx="577.37" cy="65.56" r="1.3" fill="#0072bd"/>
<circle cx="593.52" cy="68.91" r="1.3" fill="#0072bd"/>
<circle cx="587.82" cy="54.87" r="1.3" fill="#ff0000"/>
<circle cx="598.13" cy="70.73" r="1.3" fill="#ff0000"/>
<circle cx="601.74" cy="58.77" r="1.3" fill="#ff0000"/>
<circle cx="617.04" cy="44.4" r="1.3" fill="#ff0000"/>
<circle cx="617.04" cy="46.8" r="1.3" fill="#ff0000"/>
<circle cx="609.05" cy="43.95" r="1.3" fill="#ff0000"/>
<circle cx="609.05" cy="46.35" r="1.3" fill="#ff0000"/>
<circle cx="619.74" cy="47.18" r="1.3" fill="#ff0000"/>
<circle cx="637.39" cy="48.79" r="1.3" fill="#0072bd"/>
<circle cx="619.2" cy="52.12" r="1.3" fill="#ff0000"/>
<circle cx="609.83" cy="51.7" r="1.3" fill="#0072bd"/>
<circle cx="638.14" cy="41.73" r="1.3" fill="#ff0000"/>
<circle cx="611.27" cy="50.24" r="1.3" fill="#ff0000"/>
<circle cx="611.27" cy="52.64" r="1.3" fill="#ff0000"/>
<circle cx="608.42" cy="47.22" r="1.3" fill="#ff0000"/>
<circle cx="618.06" cy="54.68" r="1.3" fill="#ff0000"/>
<circle cx="618.06" cy="57.08" r="1.3" fill="#ff0000"/>
<circle cx="640.26" cy="52.08" r="1.3" fill="#ff0000"/>
<circle cx="628.1" cy="48.4" r="1.3" fill="#ff0000"/>
<circle cx="614.52" cy="48.18" r="1.3" fill="#ff0000"/>
<circle cx="625.01" cy="44.81" r="1.3" fill="#ff0000"/>
<circle cx="625.01" cy="47.21" r="1.3" fill="#ff0000"/>
<circle cx="643.16" cy="42.78" r="1.3" fill="#ff0000"/>
<circle cx="643.16" cy="45.18" r="1.3" fill="#ff0000"/>
<circle cx="618.51" cy="45.99" r="1.3" fill="#ff0000"/>
<circle cx="618.51" cy="48.39" r="1.3" fill="#ff0000"/>
<circle cx="616.21" cy="46.69" r="1.3" fill="#ff0000"/>
<circle cx="632.07" cy="41.55" r="1.3" fill="#ff0000"/>
<circle cx="628.97" cy="51.41" r="1.3" fill="#ff0000"/>
<circle cx="618.33" cy="40.05" r="1.3" fill="#ff0000"/>
<circle cx="641.65" cy="40.07" r="1.3" fill="#ff0000"/>
<circle cx="617.85" cy="45.35" r="1.3" fill="#ff0000"/>
<circle cx="612.66" cy="45.61" r="1.3" fill="#ff0000"/>
<circle cx="612.66" cy="48.01" r="1.3" fill="#ff0000"/>
<circle cx="612.37" cy="51.79" r="1.3" fill="#ff0000"/>
<circle cx="612.37" cy="54.19" r="1.3" fill="#ff0000"/>
<circle cx="631.17" cy="48.48" r="1.3" fill="#ff0000"/>
<circle cx="631.17" cy="50.88" r="1.3" fill="#ff0000"/>
<circle cx="638.34" cy="43.03" r="1.3" fill="#ff0000"/>
<circle cx="629.75" cy="39.49" r="1.3" fill="#ff0000"/>
<circle cx="609" cy="59.21" r="1.3" fill="#ff0000"/>
<circle cx="614.26" cy="63.26" r="1.3" fill="#ff0000"/>
<circle cx="618.39" cy="47.39" r="1.3" fill="#ff0000"/>
<circle cx="623.91" cy="48.49" r="1.3" fill="#ff0000"/>
<circle cx="623.91" cy="50.89" r="1.3" fill="#ff0000"/>
<circle cx="617.06" cy="54.56" r="1.3" fill="#ff0000"/>
<circle cx="617.91" cy="35.89" r="1.3" fill="#ff0000"/>
<circle cx="630.07" cy="43.73" r="1.3" fill="#ff0000"/>
<circle cx="631.64" cy="32.99" r="1.3" fill="#ff0000"/>
<circle cx="614.01" cy="39.2" r="1.3" fill="#ff0000"/>
<circle cx="614.01" cy="41.6" r="1.3" fill="#ff0000"/>
<circle cx="623.36" cy="43.35" r="1.3" fill="#ff0000"/>
<circle cx="623.36" cy="45.75" r="1.3" fill="#ff0000"/>
<circle cx="641.48" cy="46.02" r="1.3" fill="#0072bd"/>
<circle cx="627.31" cy="53.67" r="1.3" fill="#ff0000"/>
<circle cx="631.65" cy="57.13" r="1.3" fill="#ff0000"/>
<circle cx="631.65" cy="59.53" r="1.3" fill="#ff0000"/>
<circle cx="637.15" cy="65.5" r="1.3" fill="#ff0000"/>
<circle cx="638.68" cy="58" r="1.3" fill="#ff0000"/>
<circle cx="632.03" cy="57.82" r="1.3" fill="#ff0000"/>
<circle cx="638.38" cy="57.15" r="1.3" fill="#ff0000"/>
<circle cx="638.38" cy="59.55" r="1.3" fill="#ff0000"/>
<circle cx="600.57" cy="29.27" r="1.3" fill="#ff0000"/>
<circle cx="600.57" cy="33.12" r="1.3" fill="#ff0000"/>
<circle cx="645.52" cy="38.9" r="1.3" fill="#ff0000"/>
<line x1="455.4" y1="163.5" x2="630.4" y2="26.1" stroke="#000" stroke-width="2"/>
<circle cx="493.43" cy="146.19" r="1.3" fill="#ff0000"/>
<circle cx="493.43" cy="151.1" r="1.3" fill="#ff0000"/>
<circle cx="503.07" cy="150.22" r="1.3" fill="#ff0000"/>
<circle cx="503.07" cy="160.74" r="1.3" fill="#ff0000"/>
<circle cx="533.73" cy="112.56" r="1.3" fill="#ff0000"/>
<circle cx="545.12" cy="121.32" r="1.3" fill="#ff0000"/>
<circle cx="480.29" cy="109.58" r="1.3" fill="#0072bd"/>
<circle cx="480.29" cy="113.43" r="1.3" fill="#0072bd"/>
<circle cx="496.94" cy="91.53" r="1.3" fill="#0072bd"/>
<circle cx="489.05" cy="138.84" r="1.3" fill="#0072bd"/>
<circle cx="494.31" cy="145.84" r="1.3" fill="#0072bd"/>
<circle cx="506.57" cy="138.84" r="1.3" fill="#0072bd"/>
<circle cx="510.08" cy="121.32" r="1.3" fill="#0072bd"/>
<circle cx="515.33" cy="131.83" r="1.3" fill="#0072bd"/>
<circle cx="519.71" cy="140.59" r="1.3" fill="#0072bd"/>
<circle cx="520.59" cy="129.2" r="1.3" fill="#0072bd"/>
<circle cx="524.09" cy="114.31" r="1.3" fill="#0072bd"/>
<circle cx="539.86" cy="156.36" r="1.3" fill="#0072bd"/>
<circle cx="511.83" cy="160.74" r="1.3" fill="#0072bd"/>
<circle cx="510.08" cy="81.9" r="1.3" fill="#0072bd"/>
<circle cx="515.33" cy="104.67" r="1.3" fill="#0072bd"/>
<circle cx="546.66" cy="76.22" r="1.3" fill="#0072bd"/>
<circle cx="546.66" cy="78.62" r="1.3" fill="#0072bd"/>
<circle cx="534.37" cy="85.26" r="1.3" fill="#0072bd"/>
<circle cx="517.59" cy="102.54" r="1.3" fill="#0072bd"/>
<circle cx="517.59" cy="104.94" r="1.3" fill="#0072bd"/>
<circle cx="533.98" cy="89.01" r="1.3" fill="#0072bd"/>
<circle cx="519.05" cy="95.61" r="1.3" fill="#0072bd"/>
<circle cx="530.75" cy="83.6" r="1.3" fill="#0072bd"/>
<circle cx="530.75" cy="86" r="1.3" fill="#0072bd"/>
<circle cx="517.9" cy="106.69" r="1.3" fill="#0072bd"/>
<circle cx="546.59" cy="78.22" r="1.3" fill="#ff0000"/>
<circle cx="546.59" cy="80.62" r="1.3" fill="#ff0000"/>
<circle cx="544.62" cy="90.19" r="1.3" fill="#0072bd"/>
<circle cx="508.21" cy="87.73" r="1.3" fill="#0072bd"/>
<circle cx="545.04" cy="81.25" r="1.3" fill="#0072bd"/>
<circle cx="562.85" cy="80.22" r="1.3" fill="#0072bd"/>
<circle cx="566.48" cy="80.63" r="1.3" fill="#0072bd"/>
<circle cx="536.35" cy="91.38" r="1.3" fill="#0072bd"/>
<circle cx="543.08" cy="89.28" r="1.3" fill="#ff0000"/>
<circle cx="533.42" cy="91.71" r="1.3" fill="#0072bd"/>
<circle cx="529.34" cy="103.72" r="1.3" fill="#0072bd"/>
<circle cx="536.36" cy="85.81" r="1.3" fill="#0072bd"/>
<circle cx="544.41" cy="74.27" r="1.3" fill="#0072bd"/>
<circle cx="538.32" cy="87.36" r="1.3" fill="#0072bd"/>
<circle cx="545.13" cy="94.24" r="1.3" fill="#0072bd"/>
<circle cx="568.56" cy="95.77" r="1.3" fill="#0072bd"/>
<circle cx="530.22" cy="83.53" r="1.3" fill="#0072bd"/>
<circle cx="566.09" cy="90.39" r="1.3" fill="#ff0000"/>
<circle cx="515.6" cy="104.68" r="1.3" fill="#0072bd"/>
<circle cx="515.6" cy="107.08" r="1.3" fill="#0072bd"/>
<circle cx="532.29" cy="83.11" r="1.3" fill="#0072bd"/>
<circle cx="550.34" cy="83.63" r="1.3" fill="#0072bd"/>
<circle cx="564.57" cy="77.43" r="1.3" fill="#ff0000"/>
<circle cx="553.91" cy="59.82" r="1.3" fill="#0072bd"/>
<circle cx="566.96" cy="78.51" r="1.3" fill="#0072bd"/>
<circle cx="554.24" cy="60.76" r="1.3" fill="#0072bd"/>
<circle cx="515.09" cy="103.81" r="1.3" fill="#0072bd"/>
<circle cx="540.23" cy="76.37" r="1.3" fill="#0072bd"/>
<circle cx="540.23" cy="78.77" r="1.3" fill="#0072bd"/>
<circle cx="522.44" cy="79.81" r="1.3" fill="#0072bd"/>
<circle cx="548.35" cy="110.79" r="1.3" fill="#0072bd"/>
<circle cx="534.41" cy="83.02" r="1.3" fill="#0072bd"/>
<circle cx="534.81" cy="82.87" r="1.3" fill="#0072bd"/>
<circle cx="534.81" cy="85.27" r="1.3" fill="#0072bd"/>
<circle cx="544.6" cy="76" r="1.3" fill="#0072bd"/>
<circle cx="511.27" cy="95.27" r="1.3" fill="#0072bd"/>
<circle cx="536.91" cy="95.63" r="1.3" fill="#ff0000"/>
<circle cx="522.64" cy="99.24" r="1.3" fill="#0072bd"/>
<circle cx="528.98" cy="83" r="1.3" fill="#0072bd"/>
<circle cx="559.76" cy="69.83" r="1.3" fill="#0072bd"/>
<circle cx="547.28" cy="85.61" r="1.3" fill="#0072bd"/>
<circle cx="540" cy="84.89" r="1.3" fill="#0072bd"/>
<circle cx="594.49" cy="73.95" r="1.3" fill="#0072bd"/>
<circle cx="585.06" cy="66.13" r="1.3" fill="#0072bd"/>
<circle cx="591.31" cy="61.78" r="1.3" fill="#ff0000"/>
<circle cx="590.1" cy="72.83" r="1.3" fill="#0072bd"/>
<circle cx="590.1" cy="75.23" r="1.3" fill="#0072bd"/>
<circle cx="581.73" cy="64.1" r="1.3" fill="#ff0000"/>
<circle cx="595.75" cy="71.1" r="1.3" fill="#0072bd"/>
<circle cx="596.92" cy="75.48" r="1.3" fill="#0072bd"/>
<circle cx="569" cy="91.47" r="1.3" fill="#ff0000"/>
<circle cx="554.14" cy="76.25" r="1.3" fill="#0072bd"/>
<circle cx="579" cy="68.39" r="1.3" fill="#ff0000"/>
<circle cx="560.07" cy="75.96" r="1.3" fill="#0072bd"/>
<circle cx="559.29" cy="77.31" r="1.3" fill="#0072bd"/>
<circle cx="559.29" cy="79.71" r="1.3" fill="#0072bd"/>
<circle cx="572.49" cy="71.17" r="1.3" fill="#0072bd"/>
<circle cx="589.39" cy="70.95" r="1.3" fill="#ff0000"/>
<circle cx="561.16" cy="87.56" r="1.3" fill="#0072bd"/>
<circle cx="584.43" cy="70.63" r="1.3" fill="#ff0000"/>
<circle cx="558.94" cy="86.84" r="1.3" fill="#ff0000"/>
<circle cx="583.45" cy="70.04" r="1.3" fill="#ff0000"/>
<circle cx="557.5" cy="74.45" r="1.3" fill="#0072bd"/>
<circle cx="574.57" cy="75.46" r="1.3" fill="#ff0000"/>
<circle cx="574.57" cy="77.86" r="1.3" fill="#ff0000"/>
<circle cx="585.59" cy="57.08" r="1.3" fill="#0072bd"/>
<circle cx="570.04" cy="70.26" r="1.3" fill="#0072bd"/>
<circle cx="561.73" cy="70.8" r="1.3" fill="#0072bd"/>
<circle cx="562.03" cy="63.99" r="1.3" fill="#ff0000"/>
<circle cx="557.36" cy="79.44" r="1.3" fill="#ff0000"/>
<circle cx="585.5" cy="65.68" r="1.3" fill="#ff0000"/>
<circle cx="578.6" cy="67.13" r="1.3" fill="#0072bd"/>
<circle cx="578.3" cy="69.49" r="1.3" fill="#ff0000"/>
<circle cx="581.14" cy="65.91" r="1.3" fill="#ff0000"/>
<circle cx="576.89" cy="80.16" r="1.3" fill="#ff0000"/>
<circle cx="558.03" cy="83.06" r="1.3" fill="#0072bd"/>
<circle cx="583.49" cy="73.87" r="1.3" fill="#ff0000"/>
<circle cx="571.28" cy="75.88" r="1.3" fill="#0072bd"/>
<circle cx="559.51" cy="86.22" r="1.3" fill="#0072bd"/>
<circle cx="577.89" cy="74.17" r="1.3" fill="#0072bd"/>
<circle cx="561.16" cy="76.18" r="1.3" fill="#ff0000"/>
<circle cx="570.94" cy="67.46" r="1.3" fill="#0072bd"/>
<circle cx="570.94" cy="69.86" r="1.3" fill="#0072bd"/>
<circle cx="583.25" cy="52.02" r="1.3" fill="#ff0000"/>
<circle cx="584.53" cy="66.14" r="1.3" fill="#0072bd"/>
<circle cx="583.82" cy="78.75" r="1.3" fill="#ff0000"/>
<circle cx="585.84" cy="76.43" r="1.3" fill="#0072bd"/>
<circle cx="575.56" cy="72.14" r="1.3" fill="#0072bd"/>
<circle cx="563.75" cy="80.65" r="1.3" fill="#0072bd"/>
<circle cx="569.09" cy="73.86" r="1.3" fill="#0072bd"/>
<circle cx="589.99" cy="66" r="1.3" fill="#ff0000"/>
<circle cx="602.9" cy="51.57" r="1.3" fill="#ff0000"/>
<circle cx="594.74" cy="62.58" r="1.3" fill="#ff0000"/>
<circle cx="586.26" cy="55.2" r="1.3" fill="#ff0000"/>
<circle cx="596.25" cy="64.12" r="1.3" fill="#ff0000"/>
<circle cx="580.7" cy="76.36" r="1.3" fill="#0072bd"/>
<circle cx="590.06" cy="60.73" r="1.3" fill="#ff0000"/>
<circle cx="590.06" cy="63.13" r="1.3" fill="#ff0000"/>
<circle cx="590.3" cy="54.18" r="1.3" fill="#ff0000"/>
<circle cx="581.08" cy="70" r="1.3" fill="#ff0000"/>
<circle cx="600.89" cy="55.61" r="1.3" fill="#ff0000"/>
<circle cx="600.44" cy="55.96" r="1.3" fill="#ff0000"/>
<circle cx="599.33" cy="65.38" r="1.3" fill="#ff0000"/>
<circle cx="600.16" cy="58.71" r="1.3" fill="#ff0000"/>
<circle cx="609.2" cy="63.29" r="1.3" fill="#ff0000"/>
<circle cx="596.05" cy="56.53" r="1.3" fill="#ff0000"/>
<circle cx="599.41" cy="51.23" r="1.3" fill="#ff0000"/>
<circle cx="577.97" cy="62" r="1.3" fill="#ff0000"/>
<circle cx="593.41" cy="62.41" r="1.3" fill="#ff0000"/>
<circle cx="586.51" cy="60.58" r="1.3" fill="#ff0000"/>
<circle cx="602.34" cy="48.86" r="1.3" fill="#ff0000"/>
<circle cx="602.34" cy="51.26" r="1.3" fill="#ff0000"/>
<circle cx="582.95" cy="65.6" r="1.3" fill="#ff0000"/>
<circle cx="586.47" cy="66.94" r="1.3" fill="#ff0000"/>
<circle cx="581.04" cy="75.45" r="1.3" fill="#ff0000"/>
<circle cx="587.29" cy="64.87" r="1.3" fill="#ff0000"/>
<circle cx="597.39" cy="56.26" r="1.3" fill="#0072bd"/>
<circle cx="601.49" cy="66.17" r="1.3" fill="#ff0000"/>
<circle cx="573.84" cy="62.43" r="1.3" fill="#0072bd"/>
<circle cx="572.72" cy="65.52" r="1.3" fill="#0072bd"/>
<circle cx="602.35" cy="52.11" r="1.3" fill="#ff0000"/>
<circle cx="611.13" cy="67.24" r="1.3" fill="#ff0000"/>
<circle cx="600.16" cy="50.58" r="1.3" fill="#ff0000"/>
<circle cx="582.3" cy="68.56" r="1.3" fill="#ff0000"/>
<circle cx="585.82" cy="67.26" r="1.3" fill="#ff0000"/>
<circle cx="572.2" cy="64.56" r="1.3" fill="#ff0000"/>
<circle cx="590.32" cy="55.89" r="1.3" fill="#ff0000"/>
<circle cx="577.37" cy="63.16" r="1.3" fill="#0072bd"/>
<circle cx="598.13" cy="68.33" r="1.3" fill="#ff0000"/>
<circle cx="611.32" cy="55.9" r="1.3" fill="#ff0000"/>
<circle cx="619.2" cy="49.72" r="1.3" fill="#ff0000"/>
<circle cx="634.67" cy="44.67" r="1.3" fill="#ff0000"/>
<circle cx="631.51" cy="43.67" r="1.3" fill="#ff0000"/>
<circle cx="614.52" cy="45.78" r="1.3" fill="#ff0000"/>
<circle cx="633.4" cy="44.74" r="1.3" fill="#ff0000"/>
<circle cx="633.4" cy="47.14" r="1.3" fill="#ff0000"/>
<circle cx="617.04" cy="38.77" r="1.3" fill="#ff0000"/>
<circle cx="617.04" cy="41.17" r="1.3" fill="#ff0000"/>
<circle cx="642.07" cy="45.78" r="1.3" fill="#ff0000"/>
<circle cx="610.77" cy="44.5" r="1.3" fill="#ff0000"/>
<circle cx="610.77" cy="46.9" r="1.3" fill="#ff0000"/>
<circle cx="616.21" cy="44.29" r="1.3" fill="#ff0000"/>
<circle cx="624.47" cy="45.14" r="1.3" fill="#ff0000"/>
<circle cx="612.58" cy="56.33" r="1.3" fill="#ff0000"/>
<circle cx="626.82" cy="49.72" r="1.3" fill="#ff0000"/>
<circle cx="622.36" cy="46.58" r="1.3" fill="#ff0000"/>
<circle cx="630.07" cy="41.33" r="1.3" fill="#ff0000"/>
<circle cx="631.64" cy="35.39" r="1.3" fill="#ff0000"/>
<circle cx="621.35" cy="47.76" r="1.3" fill="#ff0000"/>
<circle cx="641.48" cy="43.62" r="1.3" fill="#0072bd"/>
<circle cx="637.15" cy="63.1" r="1.3" fill="#ff0000"/>
<circle cx="638.68" cy="60.4" r="1.3" fill="#ff0000"/>
<circle cx="632.02" cy="55.87" r="1.3" fill="#ff0000"/>
<circle cx="634.26" cy="57.09" r="1.3" fill="#ff0000"/>
<circle cx="632.03" cy="55.42" r="1.3" fill="#ff0000"/>
<circle cx="648.73" cy="42.11" r="1.3" fill="#ff0000"/>
<text x="456" y="41" font-size="12.7" font-weight="bold" fill="#000">R<tspan font-size="8.8" dy="-4.7">2</tspan><tspan dy="4.7">=0.79</tspan></text>
<text id="t4" x="449.4" y="226.6" font-size="13" font-weight="bold" fill="#262626" text-anchor="start">ln(VSI<tspan font-size="10" dy="5.6">H</tspan><tspan dy="-5.6">)</tspan></text>
<text id="t5" x="613.1" y="226.4" font-size="13.2" font-weight="bold" fill="#262626" text-anchor="start">ln(A<tspan font-size="10" dy="5.6">95-H</tspan><tspan dy="-5.6">)</tspan></text>
<text id="t6" transform="translate(400,137.3) rotate(-90)" font-size="12.5" font-weight="bold" fill="#ff0000" text-anchor="start">ln(<tspan font-style="italic" font-weight="normal">δ</tspan><tspan font-size="9.8" dy="6">R Bearing</tspan><tspan dy="-6">)</tspan></text>
<text x="526.8" y="271.2" style="font-family:&quot;Liberation Serif&quot;, serif" font-size="15.8" fill="#000" text-anchor="middle">(b)</text>
<line x1="52.9" y1="485.21" x2="181.1" y2="458.01" stroke="#fdeaea" stroke-width="0.7"/>
<line x1="181.1" y1="458.01" x2="306.6" y2="486.11" stroke="#fdeaea" stroke-width="0.7"/>
<line x1="52.9" y1="476.27" x2="181.1" y2="449.07" stroke="#fdeaea" stroke-width="0.7"/>
<line x1="181.1" y1="449.07" x2="306.6" y2="477.17" stroke="#fdeaea" stroke-width="0.7"/>
<line x1="52.9" y1="467.34" x2="181.1" y2="440.14" stroke="#fdeaea" stroke-width="0.7"/>
<line x1="181.1" y1="440.14" x2="306.6" y2="468.24" stroke="#fdeaea" stroke-width="0.7"/>
<line x1="52.9" y1="458.4" x2="181.1" y2="431.2" stroke="#fdeaea" stroke-width="0.7"/>
<line x1="181.1" y1="431.2" x2="306.6" y2="459.3" stroke="#fdeaea" stroke-width="0.7"/>
<line x1="52.9" y1="449.47" x2="181.1" y2="422.27" stroke="#fdeaea" stroke-width="0.7"/>
<line x1="181.1" y1="422.27" x2="306.6" y2="450.37" stroke="#fdeaea" stroke-width="0.7"/>
<line x1="52.9" y1="440.53" x2="181.1" y2="413.33" stroke="#fdeaea" stroke-width="0.7"/>
<line x1="181.1" y1="413.33" x2="306.6" y2="441.43" stroke="#fdeaea" stroke-width="0.7"/>
<line x1="52.9" y1="431.6" x2="181.1" y2="404.4" stroke="#fdeaea" stroke-width="0.7"/>
<line x1="181.1" y1="404.4" x2="306.6" y2="432.5" stroke="#fdeaea" stroke-width="0.7"/>
<line x1="52.9" y1="422.66" x2="181.1" y2="395.46" stroke="#fdeaea" stroke-width="0.7"/>
<line x1="181.1" y1="395.46" x2="306.6" y2="423.56" stroke="#fdeaea" stroke-width="0.7"/>
<line x1="52.9" y1="413.73" x2="181.1" y2="386.53" stroke="#fdeaea" stroke-width="0.7"/>
<line x1="181.1" y1="386.53" x2="306.6" y2="414.63" stroke="#fdeaea" stroke-width="0.7"/>
<line x1="52.9" y1="404.79" x2="181.1" y2="377.59" stroke="#fdeaea" stroke-width="0.7"/>
<line x1="181.1" y1="377.59" x2="306.6" y2="405.69" stroke="#fdeaea" stroke-width="0.7"/>
<line x1="52.9" y1="395.86" x2="181.1" y2="368.66" stroke="#fdeaea" stroke-width="0.7"/>
<line x1="181.1" y1="368.66" x2="306.6" y2="396.76" stroke="#fdeaea" stroke-width="0.7"/>
<line x1="52.9" y1="386.92" x2="181.1" y2="359.72" stroke="#fdeaea" stroke-width="0.7"/>
<line x1="181.1" y1="359.72" x2="306.6" y2="387.82" stroke="#fdeaea" stroke-width="0.7"/>
<line x1="52.9" y1="377.99" x2="181.1" y2="350.79" stroke="#fdeaea" stroke-width="0.7"/>
<line x1="181.1" y1="350.79" x2="306.6" y2="378.89" stroke="#fdeaea" stroke-width="0.7"/>
<line x1="52.9" y1="369.05" x2="181.1" y2="341.85" stroke="#fdeaea" stroke-width="0.7"/>
<line x1="181.1" y1="341.85" x2="306.6" y2="369.95" stroke="#fdeaea" stroke-width="0.7"/>
<line x1="52.9" y1="360.12" x2="181.1" y2="332.92" stroke="#fdeaea" stroke-width="0.7"/>
<line x1="181.1" y1="332.92" x2="306.6" y2="361.02" stroke="#fdeaea" stroke-width="0.7"/>
<line x1="52.9" y1="351.18" x2="181.1" y2="323.98" stroke="#fdeaea" stroke-width="0.7"/>
<line x1="181.1" y1="323.98" x2="306.6" y2="352.08" stroke="#fdeaea" stroke-width="0.7"/>
<line x1="52.9" y1="342.25" x2="181.1" y2="315.05" stroke="#fdeaea" stroke-width="0.7"/>
<line x1="181.1" y1="315.05" x2="306.6" y2="343.15" stroke="#fdeaea" stroke-width="0.7"/>
<line x1="52.9" y1="486.1" x2="52.9" y2="340.28" stroke="#e4e4e4" stroke-width="0.7"/>
<line x1="117" y1="472.5" x2="117" y2="326.68" stroke="#e4e4e4" stroke-width="0.7"/>
<line x1="181.1" y1="458.9" x2="181.1" y2="313.08" stroke="#e4e4e4" stroke-width="0.7"/>
<line x1="181.1" y1="458.9" x2="181.1" y2="313.08" stroke="#e4e4e4" stroke-width="0.7"/>
<line x1="212.48" y1="465.92" x2="212.48" y2="320.11" stroke="#e4e4e4" stroke-width="0.7"/>
<line x1="243.85" y1="472.95" x2="243.85" y2="327.13" stroke="#e4e4e4" stroke-width="0.7"/>
<line x1="275.23" y1="479.98" x2="275.23" y2="334.16" stroke="#e4e4e4" stroke-width="0.7"/>
<line x1="306.6" y1="487" x2="306.6" y2="341.18" stroke="#e4e4e4" stroke-width="0.7"/>
<line x1="52.9" y1="486.1" x2="181.1" y2="458.9" stroke="#e4e4e4" stroke-width="0.7"/>
<line x1="84.28" y1="493.12" x2="212.48" y2="465.92" stroke="#e4e4e4" stroke-width="0.7"/>
<line x1="115.65" y1="500.15" x2="243.85" y2="472.95" stroke="#e4e4e4" stroke-width="0.7"/>
<line x1="147.03" y1="507.18" x2="275.23" y2="479.98" stroke="#e4e4e4" stroke-width="0.7"/>
<line x1="178.4" y1="514.2" x2="306.6" y2="487" stroke="#e4e4e4" stroke-width="0.7"/>
<line x1="52.9" y1="486.1" x2="178.4" y2="514.2" stroke="#e4e4e4" stroke-width="0.7"/>
<line x1="117" y1="472.5" x2="242.5" y2="500.6" stroke="#e4e4e4" stroke-width="0.7"/>
<line x1="181.1" y1="458.9" x2="306.6" y2="487" stroke="#e4e4e4" stroke-width="0.7"/>
<line x1="52.9" y1="486.1" x2="178.4" y2="514.2" stroke="#505050" stroke-width="0.8"/>
<line x1="178.4" y1="514.2" x2="306.6" y2="487" stroke="#505050" stroke-width="0.8"/>
<line x1="52.9" y1="486.1" x2="52.9" y2="340.28" stroke="#ff8080" stroke-width="0.9"/>
<line x1="52.9" y1="485.21" x2="50.9" y2="485.21" stroke="#ff6a6a" stroke-width="0.9"/>
<line x1="52.9" y1="476.27" x2="49.4" y2="476.27" stroke="#ff6a6a" stroke-width="0.9"/>
<line x1="52.9" y1="467.34" x2="50.9" y2="467.34" stroke="#ff6a6a" stroke-width="0.9"/>
<line x1="52.9" y1="458.4" x2="50.9" y2="458.4" stroke="#ff6a6a" stroke-width="0.9"/>
<line x1="52.9" y1="449.47" x2="50.9" y2="449.47" stroke="#ff6a6a" stroke-width="0.9"/>
<line x1="52.9" y1="440.53" x2="49.4" y2="440.53" stroke="#ff6a6a" stroke-width="0.9"/>
<line x1="52.9" y1="431.6" x2="50.9" y2="431.6" stroke="#ff6a6a" stroke-width="0.9"/>
<line x1="52.9" y1="422.66" x2="50.9" y2="422.66" stroke="#ff6a6a" stroke-width="0.9"/>
<line x1="52.9" y1="413.73" x2="50.9" y2="413.73" stroke="#ff6a6a" stroke-width="0.9"/>
<line x1="52.9" y1="404.79" x2="49.4" y2="404.79" stroke="#ff6a6a" stroke-width="0.9"/>
<line x1="52.9" y1="395.86" x2="50.9" y2="395.86" stroke="#ff6a6a" stroke-width="0.9"/>
<line x1="52.9" y1="386.92" x2="50.9" y2="386.92" stroke="#ff6a6a" stroke-width="0.9"/>
<line x1="52.9" y1="377.99" x2="50.9" y2="377.99" stroke="#ff6a6a" stroke-width="0.9"/>
<line x1="52.9" y1="369.05" x2="49.4" y2="369.05" stroke="#ff6a6a" stroke-width="0.9"/>
<line x1="52.9" y1="360.12" x2="50.9" y2="360.12" stroke="#ff6a6a" stroke-width="0.9"/>
<line x1="52.9" y1="351.18" x2="50.9" y2="351.18" stroke="#ff6a6a" stroke-width="0.9"/>
<line x1="52.9" y1="342.25" x2="50.9" y2="342.25" stroke="#ff6a6a" stroke-width="0.9"/>
<text x="45.8" y="480.23" fill="#ff0000" font-size="11" font-weight="bold" text-anchor="end">4</text>
<text x="45.8" y="444.49" fill="#ff0000" font-size="11" font-weight="bold" text-anchor="end">6</text>
<text x="45.8" y="408.75" fill="#ff0000" font-size="11" font-weight="bold" text-anchor="end">8</text>
<text x="45.8" y="373.01" fill="#ff0000" font-size="11" font-weight="bold" text-anchor="end">10</text>
<text x="40.9" y="499.46" fill="#262626" font-size="11" font-weight="bold" text-anchor="middle">-4</text>
<text x="72" y="505.66" fill="#262626" font-size="11" font-weight="bold" text-anchor="middle">-2</text>
<text x="105" y="512.96" fill="#262626" font-size="11" font-weight="bold" text-anchor="middle">0</text>
<text x="137" y="519.96" fill="#262626" font-size="11" font-weight="bold" text-anchor="middle">2</text>
<text x="168.2" y="525.96" fill="#262626" font-size="11" font-weight="bold" text-anchor="middle">4</text>
<text x="188.6" y="525.96" fill="#262626" font-size="11" font-weight="bold" text-anchor="middle">0</text>
<text x="252.5" y="512.86" fill="#262626" font-size="11" font-weight="bold" text-anchor="middle">2</text>
<text x="317.1" y="498.86" fill="#262626" font-size="11" font-weight="bold" text-anchor="middle">4</text>
<circle cx="233.06" cy="391.96" r="1.2" fill="#ff0000"/>
<circle cx="235.84" cy="368.96" r="1.2" fill="#ff0000"/>
<circle cx="201.49" cy="410.79" r="1.2" fill="#ff0000"/>
<circle cx="219.64" cy="398.16" r="1.2" fill="#ff0000"/>
<circle cx="223.89" cy="360.13" r="1.2" fill="#0072bd"/>
<circle cx="198.32" cy="405.11" r="1.2" fill="#ff0000"/>
<circle cx="217.32" cy="393" r="1.2" fill="#ff0000"/>
<circle cx="231.2" cy="388.6" r="1.2" fill="#ff0000"/>
<circle cx="234.71" cy="381.55" r="1.2" fill="#ff0000"/>
<circle cx="215.72" cy="385.78" r="1.2" fill="#ff0000"/>
<circle cx="215.85" cy="407.11" r="1.2" fill="#ff0000"/>
<circle cx="199.64" cy="397.9" r="1.2" fill="#ff0000"/>
<circle cx="222.41" cy="393.55" r="1.2" fill="#ff0000"/>
<circle cx="234.86" cy="375.45" r="1.2" fill="#ff0000"/>
<circle cx="204.65" cy="399.24" r="1.2" fill="#ff0000"/>
<circle cx="223.13" cy="388.12" r="1.2" fill="#ff0000"/>
<circle cx="236.63" cy="375" r="1.2" fill="#ff0000"/>
<circle cx="241.93" cy="363.89" r="1.2" fill="#0072bd"/>
<circle cx="233.14" cy="391.84" r="1.2" fill="#ff0000"/>
<circle cx="209.56" cy="392.58" r="1.2" fill="#ff0000"/>
<circle cx="233.81" cy="382.53" r="1.2" fill="#ff0000"/>
<circle cx="250.23" cy="362.72" r="1.2" fill="#ff0000"/>
<circle cx="250.23" cy="365.12" r="1.2" fill="#ff0000"/>
<circle cx="226.1" cy="374.55" r="1.2" fill="#ff0000"/>
<circle cx="219.88" cy="398.27" r="1.2" fill="#ff0000"/>
<circle cx="243.1" cy="363.87" r="1.2" fill="#ff0000"/>
<circle cx="223.69" cy="408.29" r="1.2" fill="#ff0000"/>
<circle cx="234.87" cy="369.44" r="1.2" fill="#ff0000"/>
<circle cx="211.49" cy="398.72" r="1.2" fill="#ff0000"/>
<circle cx="195.7" cy="397.88" r="1.2" fill="#ff0000"/>
<circle cx="241.7" cy="373.76" r="1.2" fill="#ff0000"/>
<circle cx="229.4" cy="411.2" r="1.2" fill="#ff0000"/>
<circle cx="239.79" cy="362.89" r="1.2" fill="#ff0000"/>
<circle cx="221.52" cy="412.94" r="1.2" fill="#ff0000"/>
<circle cx="238.92" cy="380.85" r="1.2" fill="#ff0000"/>
<circle cx="229.75" cy="380.95" r="1.2" fill="#ff0000"/>
<circle cx="240.09" cy="384.88" r="1.2" fill="#ff0000"/>
<circle cx="226.6" cy="378.24" r="1.2" fill="#ff0000"/>
<circle cx="231.46" cy="368.46" r="1.2" fill="#ff0000"/>
<circle cx="233.02" cy="388.07" r="1.2" fill="#ff0000"/>
<circle cx="218.77" cy="375.91" r="1.2" fill="#ff0000"/>
<circle cx="218.77" cy="378.31" r="1.2" fill="#ff0000"/>
<circle cx="212.8" cy="381.72" r="1.2" fill="#0072bd"/>
<circle cx="235.04" cy="362.88" r="1.2" fill="#0072bd"/>
<circle cx="196.43" cy="388.36" r="1.2" fill="#ff0000"/>
<circle cx="241.86" cy="368.08" r="1.2" fill="#ff0000"/>
<circle cx="213.73" cy="355.37" r="1.2" fill="#ff0000"/>
<circle cx="236.4" cy="376.88" r="1.2" fill="#ff0000"/>
<circle cx="246.79" cy="356.99" r="1.2" fill="#ff0000"/>
<circle cx="221.75" cy="376.49" r="1.2" fill="#ff0000"/>
<circle cx="190.31" cy="412.35" r="1.2" fill="#ff0000"/>
<circle cx="224.79" cy="387.11" r="1.2" fill="#ff0000"/>
<circle cx="210.45" cy="381.11" r="1.2" fill="#ff0000"/>
<circle cx="231.4" cy="385.42" r="1.2" fill="#ff0000"/>
<circle cx="226.79" cy="374.93" r="1.2" fill="#ff0000"/>
<circle cx="241.21" cy="361.69" r="1.2" fill="#ff0000"/>
<circle cx="225.65" cy="378.61" r="1.2" fill="#ff0000"/>
<circle cx="189.28" cy="399.66" r="1.2" fill="#ff0000"/>
<circle cx="218.38" cy="373.04" r="1.2" fill="#ff0000"/>
<circle cx="222.08" cy="396.53" r="1.2" fill="#ff0000"/>
<circle cx="209.83" cy="414.02" r="1.2" fill="#ff0000"/>
<circle cx="214.06" cy="390.93" r="1.2" fill="#ff0000"/>
<circle cx="215.7" cy="376.89" r="1.2" fill="#ff0000"/>
<circle cx="219" cy="373.69" r="1.2" fill="#ff0000"/>
<circle cx="210.23" cy="412.56" r="1.2" fill="#ff0000"/>
<circle cx="221.45" cy="386.9" r="1.2" fill="#ff0000"/>
<circle cx="211.83" cy="378.07" r="1.2" fill="#ff0000"/>
<circle cx="260.62" cy="363.86" r="1.2" fill="#ff0000"/>
<circle cx="207.18" cy="394.41" r="1.2" fill="#0072bd"/>
<circle cx="219.02" cy="387.75" r="1.2" fill="#ff0000"/>
<circle cx="229.45" cy="364.49" r="1.2" fill="#ff0000"/>
<circle cx="241.23" cy="382.63" r="1.2" fill="#ff0000"/>
<circle cx="248.62" cy="372.1" r="1.2" fill="#ff0000"/>
<circle cx="248.62" cy="374.5" r="1.2" fill="#ff0000"/>
<circle cx="209.05" cy="386.14" r="1.2" fill="#ff0000"/>
<circle cx="217.9" cy="390.71" r="1.2" fill="#ff0000"/>
<circle cx="217.9" cy="393.11" r="1.2" fill="#ff0000"/>
<circle cx="214.65" cy="391.77" r="1.2" fill="#ff0000"/>
<circle cx="214.65" cy="394.17" r="1.2" fill="#ff0000"/>
<circle cx="183.74" cy="389.72" r="1.2" fill="#ff0000"/>
<circle cx="197.87" cy="409.72" r="1.2" fill="#ff0000"/>
<circle cx="249.01" cy="362.47" r="1.2" fill="#ff0000"/>
<circle cx="212.9" cy="388.39" r="1.2" fill="#ff0000"/>
<circle cx="200.91" cy="387.56" r="1.2" fill="#ff0000"/>
<circle cx="222.23" cy="366.86" r="1.2" fill="#ff0000"/>
<circle cx="207.77" cy="394.52" r="1.2" fill="#ff0000"/>
<circle cx="215.12" cy="382.54" r="1.2" fill="#ff0000"/>
<circle cx="219.97" cy="388.74" r="1.2" fill="#ff0000"/>
<circle cx="240.07" cy="378.73" r="1.2" fill="#ff0000"/>
<circle cx="230.68" cy="371.69" r="1.2" fill="#ff0000"/>
<circle cx="218.19" cy="393.48" r="1.2" fill="#ff0000"/>
<circle cx="222.21" cy="387.01" r="1.2" fill="#ff0000"/>
<circle cx="204.83" cy="410.9" r="1.2" fill="#ff0000"/>
<circle cx="213.74" cy="388.24" r="1.2" fill="#ff0000"/>
<circle cx="222.28" cy="384.74" r="1.2" fill="#0072bd"/>
<circle cx="235.59" cy="378.77" r="1.2" fill="#ff0000"/>
<circle cx="216.35" cy="376.76" r="1.2" fill="#0072bd"/>
<circle cx="227.95" cy="376.31" r="1.2" fill="#ff0000"/>
<circle cx="216.74" cy="370.51" r="1.2" fill="#ff0000"/>
<circle cx="214.13" cy="392.96" r="1.2" fill="#ff0000"/>
<circle cx="235.02" cy="372.24" r="1.2" fill="#ff0000"/>
<circle cx="225.95" cy="356.88" r="1.2" fill="#ff0000"/>
<circle cx="240.45" cy="368.11" r="1.2" fill="#ff0000"/>
<circle cx="255.38" cy="364.77" r="1.2" fill="#ff0000"/>
<circle cx="223.32" cy="390.06" r="1.2" fill="#ff0000"/>
<circle cx="193.16" cy="386.89" r="1.2" fill="#ff0000"/>
<circle cx="217.09" cy="398.06" r="1.2" fill="#ff0000"/>
<circle cx="227.76" cy="397.59" r="1.2" fill="#ff0000"/>
<circle cx="250.78" cy="370.84" r="1.2" fill="#ff0000"/>
<circle cx="203.15" cy="394.1" r="1.2" fill="#ff0000"/>
<circle cx="213.61" cy="402.83" r="1.2" fill="#0072bd"/>
<circle cx="226.74" cy="367.63" r="1.2" fill="#ff0000"/>
<circle cx="228.4" cy="346.79" r="1.2" fill="#ff0000"/>
<circle cx="220.89" cy="409.01" r="1.2" fill="#ff0000"/>
<circle cx="224.32" cy="387.01" r="1.2" fill="#ff0000"/>
<circle cx="192.71" cy="393.85" r="1.2" fill="#ff0000"/>
<circle cx="220.27" cy="384.78" r="1.2" fill="#ff0000"/>
<circle cx="227.73" cy="388.53" r="1.2" fill="#ff0000"/>
<circle cx="224" cy="379.82" r="1.2" fill="#ff0000"/>
<circle cx="222.82" cy="398.33" r="1.2" fill="#ff0000"/>
<circle cx="222.82" cy="400.73" r="1.2" fill="#ff0000"/>
<circle cx="211.26" cy="405.99" r="1.2" fill="#ff0000"/>
<circle cx="214.86" cy="396.73" r="1.2" fill="#ff0000"/>
<circle cx="237.61" cy="395.35" r="1.2" fill="#ff0000"/>
<circle cx="199.4" cy="416.71" r="1.2" fill="#ff0000"/>
<circle cx="234.72" cy="373.96" r="1.2" fill="#ff0000"/>
<circle cx="235.12" cy="366.85" r="1.2" fill="#ff0000"/>
<circle cx="218.25" cy="376.69" r="1.2" fill="#ff0000"/>
<circle cx="240.48" cy="369.05" r="1.2" fill="#ff0000"/>
<circle cx="237.27" cy="390.11" r="1.2" fill="#ff0000"/>
<circle cx="240.57" cy="364.23" r="1.2" fill="#0072bd"/>
<circle cx="240.57" cy="366.63" r="1.2" fill="#0072bd"/>
<circle cx="256.71" cy="361.42" r="1.2" fill="#0072bd"/>
<circle cx="207.12" cy="409.09" r="1.2" fill="#ff0000"/>
<circle cx="233.08" cy="367.7" r="1.2" fill="#ff0000"/>
<circle cx="233.78" cy="374.35" r="1.2" fill="#ff0000"/>
<circle cx="247.74" cy="383.03" r="1.2" fill="#ff0000"/>
<circle cx="214.46" cy="395.43" r="1.2" fill="#ff0000"/>
<circle cx="207.4" cy="382.52" r="1.2" fill="#0072bd"/>
<circle cx="211.66" cy="399.94" r="1.2" fill="#ff0000"/>
<circle cx="216" cy="385.89" r="1.2" fill="#ff0000"/>
<circle cx="223.26" cy="388.32" r="1.2" fill="#ff0000"/>
<circle cx="197.92" cy="419.91" r="1.2" fill="#ff0000"/>
<circle cx="192.87" cy="409.84" r="1.2" fill="#ff0000"/>
<circle cx="210.94" cy="409.6" r="1.2" fill="#ff0000"/>
<circle cx="163.13" cy="439.79" r="1.2" fill="#ff0000"/>
<circle cx="199.12" cy="387.63" r="1.2" fill="#ff0000"/>
<circle cx="189.09" cy="418.11" r="1.2" fill="#ff0000"/>
<circle cx="178.49" cy="427.51" r="1.2" fill="#ff0000"/>
<circle cx="180.69" cy="417.74" r="1.2" fill="#ff0000"/>
<circle cx="190.4" cy="400.37" r="1.2" fill="#ff0000"/>
<circle cx="191.12" cy="433.77" r="1.2" fill="#ff0000"/>
<circle cx="210.5" cy="405.3" r="1.2" fill="#ff0000"/>
<circle cx="185.23" cy="409.4" r="1.2" fill="#0072bd"/>
<circle cx="205.86" cy="381.25" r="1.2" fill="#ff0000"/>
<circle cx="214.34" cy="384.84" r="1.2" fill="#0072bd"/>
<circle cx="189.4" cy="430.96" r="1.2" fill="#ff0000"/>
<circle cx="214.64" cy="392.68" r="1.2" fill="#ff0000"/>
<circle cx="180.81" cy="427.15" r="1.2" fill="#ff0000"/>
<circle cx="206.85" cy="395.22" r="1.2" fill="#ff0000"/>
<circle cx="208.39" cy="389.2" r="1.2" fill="#0072bd"/>
<circle cx="208.39" cy="391.6" r="1.2" fill="#0072bd"/>
<circle cx="171.72" cy="446.09" r="1.2" fill="#0072bd"/>
<circle cx="209.91" cy="381.92" r="1.2" fill="#0072bd"/>
<circle cx="189.51" cy="410.17" r="1.2" fill="#ff0000"/>
<circle cx="198.46" cy="440.46" r="1.2" fill="#ff0000"/>
<circle cx="207.05" cy="384.23" r="1.2" fill="#0072bd"/>
<circle cx="205.84" cy="412.15" r="1.2" fill="#ff0000"/>
<circle cx="186.58" cy="416.55" r="1.2" fill="#ff0000"/>
<circle cx="198.8" cy="414.25" r="1.2" fill="#ff0000"/>
<circle cx="198.27" cy="412.71" r="1.2" fill="#0072bd"/>
<circle cx="169.55" cy="437.75" r="1.2" fill="#ff0000"/>
<circle cx="209.86" cy="400.19" r="1.2" fill="#ff0000"/>
<circle cx="205.81" cy="390.36" r="1.2" fill="#ff0000"/>
<circle cx="185.23" cy="436.36" r="1.2" fill="#ff0000"/>
<circle cx="185.23" cy="438.76" r="1.2" fill="#ff0000"/>
<circle cx="204.35" cy="378.8" r="1.2" fill="#0072bd"/>
<circle cx="178.16" cy="440.43" r="1.2" fill="#ff0000"/>
<circle cx="209.53" cy="402.41" r="1.2" fill="#ff0000"/>
<circle cx="216.21" cy="395.91" r="1.2" fill="#0072bd"/>
<circle cx="210.15" cy="404.13" r="1.2" fill="#ff0000"/>
<circle cx="188.17" cy="426.19" r="1.2" fill="#0072bd"/>
<circle cx="193.24" cy="409.77" r="1.2" fill="#ff0000"/>
<circle cx="203.93" cy="412.8" r="1.2" fill="#ff0000"/>
<circle cx="202.59" cy="390.71" r="1.2" fill="#ff0000"/>
<circle cx="166.81" cy="446.25" r="1.2" fill="#ff0000"/>
<circle cx="173.09" cy="432.07" r="1.2" fill="#ff0000"/>
<circle cx="192.53" cy="403.93" r="1.2" fill="#ff0000"/>
<circle cx="180.94" cy="437.74" r="1.2" fill="#ff0000"/>
<circle cx="180.94" cy="440.14" r="1.2" fill="#ff0000"/>
<circle cx="165.6" cy="443.77" r="1.2" fill="#ff0000"/>
<circle cx="189.88" cy="406.27" r="1.2" fill="#ff0000"/>
<circle cx="198.92" cy="398.11" r="1.2" fill="#0072bd"/>
<circle cx="190.27" cy="420.67" r="1.2" fill="#ff0000"/>
<circle cx="203.54" cy="398.18" r="1.2" fill="#ff0000"/>
<circle cx="175.53" cy="421.68" r="1.2" fill="#0072bd"/>
<circle cx="207.35" cy="389.93" r="1.2" fill="#ff0000"/>
<circle cx="243.7" cy="363.74" r="1.2" fill="#ff0000"/>
<circle cx="248.55" cy="368.63" r="1.2" fill="#0072bd"/>
<circle cx="247.69" cy="365.78" r="1.2" fill="#ff0000"/>
<circle cx="256.4" cy="368.41" r="1.2" fill="#ff0000"/>
<circle cx="237.36" cy="378.71" r="1.2" fill="#ff0000"/>
<circle cx="251.06" cy="353.97" r="1.2" fill="#ff0000"/>
<circle cx="238.21" cy="365.06" r="1.2" fill="#ff0000"/>
<circle cx="241.16" cy="360.4" r="1.2" fill="#ff0000"/>
<circle cx="241.77" cy="375.39" r="1.2" fill="#ff0000"/>
<circle cx="242.59" cy="359.4" r="1.2" fill="#ff0000"/>
<circle cx="229.85" cy="376.21" r="1.2" fill="#ff0000"/>
<circle cx="263.72" cy="360.21" r="1.2" fill="#ff0000"/>
<circle cx="241.72" cy="359.74" r="1.2" fill="#ff0000"/>
<circle cx="248.25" cy="357.21" r="1.2" fill="#ff0000"/>
<circle cx="240.04" cy="374.93" r="1.2" fill="#ff0000"/>
<circle cx="262.22" cy="350.22" r="1.2" fill="#ff0000"/>
<circle cx="251.64" cy="367.53" r="1.2" fill="#ff0000"/>
<circle cx="234.21" cy="363.72" r="1.2" fill="#0072bd"/>
<circle cx="233.28" cy="361.33" r="1.2" fill="#ff0000"/>
<circle cx="246.9" cy="367.95" r="1.2" fill="#0072bd"/>
<circle cx="243.52" cy="370.85" r="1.2" fill="#0072bd"/>
<circle cx="237.8" cy="364.38" r="1.2" fill="#ff0000"/>
<circle cx="234.49" cy="357.15" r="1.2" fill="#ff0000"/>
<circle cx="236.73" cy="365.37" r="1.2" fill="#ff0000"/>
<circle cx="261.2" cy="368.26" r="1.2" fill="#ff0000"/>
<circle cx="184.31" cy="410.56" r="1.2" fill="#ff0000"/>
<circle cx="167.2" cy="448.77" r="1.2" fill="#ff0000"/>
<circle cx="170.63" cy="429.23" r="1.2" fill="#ff0000"/>
<circle cx="179.17" cy="443.23" r="1.2" fill="#0072bd"/>
<circle cx="171.37" cy="440.44" r="1.2" fill="#ff0000"/>
<circle cx="179.02" cy="438.1" r="1.2" fill="#0072bd"/>
<circle cx="192.75" cy="416.21" r="1.2" fill="#ff0000"/>
<circle cx="186.5" cy="437.84" r="1.2" fill="#0072bd"/>
<circle cx="186.5" cy="440.24" r="1.2" fill="#0072bd"/>
<circle cx="187.35" cy="416.05" r="1.2" fill="#ff0000"/>
<circle cx="182.61" cy="413.87" r="1.2" fill="#ff0000"/>
<circle cx="183.2" cy="413.8" r="1.2" fill="#ff0000"/>
<circle cx="181.64" cy="433.15" r="1.2" fill="#ff0000"/>
<circle cx="178.69" cy="439.31" r="1.2" fill="#ff0000"/>
<circle cx="174.01" cy="438.37" r="1.2" fill="#0072bd"/>
<circle cx="170.75" cy="429.77" r="1.2" fill="#ff0000"/>
<circle cx="177.62" cy="450.54" r="1.2" fill="#ff0000"/>
<circle cx="179.6" cy="439.34" r="1.2" fill="#ff0000"/>
<circle cx="169.43" cy="437.86" r="1.2" fill="#ff0000"/>
<circle cx="234.52" cy="410.49" r="1.2" fill="#0072bd"/>
<circle cx="194.6" cy="451.06" r="1.2" fill="#0072bd"/>
<circle cx="191.98" cy="450.48" r="1.2" fill="#0072bd"/>
<circle cx="223.93" cy="391.57" r="1.2" fill="#0072bd"/>
<circle cx="212.19" cy="414.22" r="1.2" fill="#0072bd"/>
<circle cx="221.63" cy="410.05" r="1.2" fill="#0072bd"/>
<circle cx="190.18" cy="430.19" r="1.2" fill="#0072bd"/>
<circle cx="186.97" cy="471.17" r="1.2" fill="#0072bd"/>
<circle cx="161.07" cy="462.95" r="1.2" fill="#0072bd"/>
<circle cx="199.87" cy="425.28" r="1.2" fill="#0072bd"/>
<circle cx="194.58" cy="429.34" r="1.2" fill="#0072bd"/>
<circle cx="219.6" cy="381.46" r="1.2" fill="#0072bd"/>
<circle cx="202.21" cy="432.65" r="1.2" fill="#0072bd"/>
<circle cx="206.51" cy="435.3" r="1.2" fill="#0072bd"/>
<circle cx="184.95" cy="440.51" r="1.2" fill="#0072bd"/>
<circle cx="225.52" cy="411.88" r="1.2" fill="#0072bd"/>
<circle cx="189.79" cy="442.41" r="1.2" fill="#0072bd"/>
<circle cx="201.51" cy="418.8" r="1.2" fill="#0072bd"/>
<circle cx="189.78" cy="430.38" r="1.2" fill="#ff0000"/>
<circle cx="195.03" cy="429.33" r="1.2" fill="#0072bd"/>
<circle cx="187.97" cy="431.75" r="1.2" fill="#0072bd"/>
<circle cx="198.91" cy="427.83" r="1.2" fill="#0072bd"/>
<circle cx="196.63" cy="451.87" r="1.2" fill="#0072bd"/>
<circle cx="191.38" cy="438.76" r="1.2" fill="#0072bd"/>
<circle cx="201.1" cy="449.97" r="1.2" fill="#0072bd"/>
<circle cx="225.66" cy="407.78" r="1.2" fill="#0072bd"/>
<circle cx="191.72" cy="425.4" r="1.2" fill="#0072bd"/>
<circle cx="222.64" cy="417.06" r="1.2" fill="#ff0000"/>
<circle cx="192.11" cy="463.39" r="1.2" fill="#ff0000"/>
<circle cx="251.57" cy="403.78" r="1.2" fill="#0072bd"/>
<circle cx="211.83" cy="418.83" r="1.2" fill="#0072bd"/>
<circle cx="221.18" cy="407.59" r="1.2" fill="#0072bd"/>
<circle cx="191.26" cy="436.49" r="1.2" fill="#0072bd"/>
<circle cx="220.36" cy="403.4" r="1.2" fill="#0072bd"/>
<circle cx="218.46" cy="397.9" r="1.2" fill="#0072bd"/>
<circle cx="194.5" cy="402.83" r="1.2" fill="#0072bd"/>
<circle cx="190.38" cy="437.73" r="1.2" fill="#0072bd"/>
<circle cx="174.41" cy="449.85" r="1.2" fill="#0072bd"/>
<circle cx="147.84" cy="467.25" r="1.2" fill="#0072bd"/>
<circle cx="206.73" cy="428.05" r="1.2" fill="#ff0000"/>
<circle cx="199.84" cy="455.62" r="1.2" fill="#ff0000"/>
<circle cx="194.99" cy="417.41" r="1.2" fill="#0072bd"/>
<circle cx="203.99" cy="422.08" r="1.2" fill="#0072bd"/>
<circle cx="169.38" cy="449.71" r="1.2" fill="#0072bd"/>
<circle cx="203.63" cy="415.44" r="1.2" fill="#0072bd"/>
<circle cx="202.28" cy="427.75" r="1.2" fill="#0072bd"/>
<circle cx="221.01" cy="438.71" r="1.2" fill="#ff0000"/>
<circle cx="213.77" cy="417.4" r="1.2" fill="#0072bd"/>
<circle cx="220.04" cy="412.34" r="1.2" fill="#0072bd"/>
<circle cx="229.61" cy="409.82" r="1.2" fill="#0072bd"/>
<circle cx="194.66" cy="409.62" r="1.2" fill="#0072bd"/>
<circle cx="195.14" cy="443.04" r="1.2" fill="#0072bd"/>
<circle cx="185.42" cy="439.32" r="1.2" fill="#0072bd"/>
<circle cx="184.8" cy="454.55" r="1.2" fill="#0072bd"/>
<circle cx="180.57" cy="484.92" r="1.2" fill="#0072bd"/>
<circle cx="201.23" cy="408.47" r="1.2" fill="#0072bd"/>
<circle cx="192.41" cy="416.77" r="1.2" fill="#ff0000"/>
<circle cx="191.79" cy="444.65" r="1.2" fill="#0072bd"/>
<circle cx="199.6" cy="429.72" r="1.2" fill="#0072bd"/>
<circle cx="202.03" cy="428.78" r="1.2" fill="#0072bd"/>
<circle cx="200.07" cy="400.66" r="1.2" fill="#0072bd"/>
<circle cx="170.68" cy="468.18" r="1.2" fill="#0072bd"/>
<circle cx="189.41" cy="438.81" r="1.2" fill="#ff0000"/>
<circle cx="226.81" cy="409.7" r="1.2" fill="#0072bd"/>
<circle cx="218.28" cy="402.18" r="1.2" fill="#0072bd"/>
<circle cx="194.78" cy="435.58" r="1.2" fill="#0072bd"/>
<circle cx="185.97" cy="423.41" r="1.2" fill="#0072bd"/>
<circle cx="170.99" cy="447.96" r="1.2" fill="#0072bd"/>
<circle cx="202.78" cy="439.12" r="1.2" fill="#0072bd"/>
<circle cx="201.17" cy="425.85" r="1.2" fill="#0072bd"/>
<circle cx="213.01" cy="423.85" r="1.2" fill="#0072bd"/>
<circle cx="223.48" cy="406.64" r="1.2" fill="#0072bd"/>
<circle cx="175.79" cy="455.32" r="1.2" fill="#ff0000"/>
<circle cx="191.3" cy="434.19" r="1.2" fill="#0072bd"/>
<circle cx="198.63" cy="439.43" r="1.2" fill="#0072bd"/>
<circle cx="214.8" cy="423.73" r="1.2" fill="#ff0000"/>
<circle cx="207.87" cy="385.43" r="1.2" fill="#ff0000"/>
<circle cx="219.65" cy="425.79" r="1.2" fill="#0072bd"/>
<circle cx="173.21" cy="430.12" r="1.2" fill="#0072bd"/>
<circle cx="201.67" cy="423.38" r="1.2" fill="#0072bd"/>
<circle cx="185.73" cy="425.05" r="1.2" fill="#0072bd"/>
<circle cx="207.84" cy="434.14" r="1.2" fill="#0072bd"/>
<circle cx="207.84" cy="436.54" r="1.2" fill="#0072bd"/>
<circle cx="194.16" cy="450.45" r="1.2" fill="#0072bd"/>
<circle cx="221.43" cy="421.83" r="1.2" fill="#0072bd"/>
<circle cx="198.88" cy="455.29" r="1.2" fill="#ff0000"/>
<circle cx="236.63" cy="397.19" r="1.2" fill="#0072bd"/>
<circle cx="180.9" cy="450.42" r="1.2" fill="#0072bd"/>
<circle cx="211.63" cy="415.81" r="1.2" fill="#0072bd"/>
<circle cx="182.22" cy="451.61" r="1.2" fill="#0072bd"/>
<circle cx="197.62" cy="446.75" r="1.2" fill="#ff0000"/>
<circle cx="221.58" cy="407.61" r="1.2" fill="#0072bd"/>
<circle cx="181.54" cy="437.5" r="1.2" fill="#0072bd"/>
<circle cx="186.8" cy="445.8" r="1.2" fill="#ff0000"/>
<circle cx="206.37" cy="401.14" r="1.2" fill="#0072bd"/>
<circle cx="164.08" cy="459.99" r="1.2" fill="#0072bd"/>
<circle cx="211.44" cy="443.22" r="1.2" fill="#0072bd"/>
<circle cx="198.45" cy="459.47" r="1.2" fill="#0072bd"/>
<circle cx="203.9" cy="423.26" r="1.2" fill="#0072bd"/>
<circle cx="196.78" cy="422.09" r="1.2" fill="#0072bd"/>
<circle cx="196.32" cy="458.61" r="1.2" fill="#0072bd"/>
<circle cx="196.32" cy="461.01" r="1.2" fill="#0072bd"/>
<circle cx="184.31" cy="424.42" r="1.2" fill="#0072bd"/>
<circle cx="204.82" cy="439.02" r="1.2" fill="#0072bd"/>
<circle cx="214.69" cy="388.52" r="1.2" fill="#0072bd"/>
<circle cx="214.69" cy="390.92" r="1.2" fill="#0072bd"/>
<circle cx="193.95" cy="455.44" r="1.2" fill="#0072bd"/>
<circle cx="183.82" cy="473.88" r="1.2" fill="#0072bd"/>
<circle cx="206.12" cy="398.2" r="1.2" fill="#0072bd"/>
<circle cx="202.76" cy="463.12" r="1.2" fill="#0072bd"/>
<circle cx="215.42" cy="421.3" r="1.2" fill="#0072bd"/>
<circle cx="215.41" cy="429.01" r="1.2" fill="#ff0000"/>
<circle cx="191.86" cy="430.09" r="1.2" fill="#0072bd"/>
<circle cx="192.89" cy="407.46" r="1.2" fill="#0072bd"/>
<circle cx="219.19" cy="414.93" r="1.2" fill="#0072bd"/>
<circle cx="206.82" cy="421.87" r="1.2" fill="#0072bd"/>
<circle cx="206.82" cy="424.27" r="1.2" fill="#0072bd"/>
<circle cx="205.74" cy="430.5" r="1.2" fill="#0072bd"/>
<circle cx="205.74" cy="432.9" r="1.2" fill="#0072bd"/>
<circle cx="186.96" cy="452.78" r="1.2" fill="#0072bd"/>
<circle cx="183.91" cy="421.1" r="1.2" fill="#ff0000"/>
<circle cx="205.74" cy="424.26" r="1.2" fill="#0072bd"/>
<circle cx="199.49" cy="436.81" r="1.2" fill="#0072bd"/>
<circle cx="211.1" cy="440.06" r="1.2" fill="#ff0000"/>
<circle cx="177.84" cy="438.46" r="1.2" fill="#0072bd"/>
<circle cx="184.05" cy="422.45" r="1.2" fill="#0072bd"/>
<circle cx="172.56" cy="469.69" r="1.2" fill="#0072bd"/>
<circle cx="228.31" cy="412.76" r="1.2" fill="#0072bd"/>
<circle cx="192.72" cy="434.44" r="1.2" fill="#0072bd"/>
<circle cx="179.36" cy="439.8" r="1.2" fill="#0072bd"/>
<circle cx="218.53" cy="427.33" r="1.2" fill="#0072bd"/>
<circle cx="230.72" cy="418.84" r="1.2" fill="#0072bd"/>
<circle cx="221.26" cy="405.86" r="1.2" fill="#0072bd"/>
<circle cx="225.75" cy="428.87" r="1.2" fill="#0072bd"/>
<circle cx="202.72" cy="432.29" r="1.2" fill="#0072bd"/>
<circle cx="217.67" cy="411.35" r="1.2" fill="#0072bd"/>
<circle cx="200.81" cy="450.6" r="1.2" fill="#ff0000"/>
<circle cx="206.24" cy="440.66" r="1.2" fill="#0072bd"/>
<circle cx="184.51" cy="436.51" r="1.2" fill="#0072bd"/>
<circle cx="212.62" cy="424" r="1.2" fill="#0072bd"/>
<circle cx="207.87" cy="415.83" r="1.2" fill="#0072bd"/>
<circle cx="224.25" cy="406.34" r="1.2" fill="#0072bd"/>
<circle cx="207.85" cy="423.79" r="1.2" fill="#0072bd"/>
<circle cx="220.22" cy="429.41" r="1.2" fill="#0072bd"/>
<circle cx="190.16" cy="437.69" r="1.2" fill="#0072bd"/>
<circle cx="189.56" cy="435.69" r="1.2" fill="#0072bd"/>
<circle cx="183.19" cy="460.09" r="1.2" fill="#0072bd"/>
<circle cx="206.85" cy="432.58" r="1.2" fill="#0072bd"/>
<circle cx="204.83" cy="409.56" r="1.2" fill="#0072bd"/>
<circle cx="200.88" cy="431.9" r="1.2" fill="#0072bd"/>
<circle cx="182.67" cy="423.48" r="1.2" fill="#0072bd"/>
<circle cx="190.58" cy="431.85" r="1.2" fill="#0072bd"/>
<circle cx="213.93" cy="414.25" r="1.2" fill="#0072bd"/>
<circle cx="217.69" cy="415.9" r="1.2" fill="#0072bd"/>
<circle cx="187.15" cy="458.3" r="1.2" fill="#0072bd"/>
<circle cx="246" cy="384.13" r="1.2" fill="#0072bd"/>
<circle cx="194.94" cy="404.15" r="1.2" fill="#0072bd"/>
<circle cx="195.03" cy="432.01" r="1.2" fill="#0072bd"/>
<circle cx="219.51" cy="398.41" r="1.2" fill="#0072bd"/>
<circle cx="223.95" cy="428.72" r="1.2" fill="#0072bd"/>
<circle cx="207.33" cy="411.42" r="1.2" fill="#0072bd"/>
<circle cx="209.1" cy="454.4" r="1.2" fill="#0072bd"/>
<circle cx="242.6" cy="408.92" r="1.2" fill="#0072bd"/>
<circle cx="235.25" cy="397.51" r="1.2" fill="#0072bd"/>
<circle cx="244.69" cy="408.86" r="1.2" fill="#0072bd"/>
<circle cx="238.17" cy="402.96" r="1.2" fill="#0072bd"/>
<circle cx="232.97" cy="395.78" r="1.2" fill="#0072bd"/>
<circle cx="232.97" cy="398.18" r="1.2" fill="#0072bd"/>
<circle cx="243.3" cy="415.1" r="1.2" fill="#0072bd"/>
<circle cx="241.45" cy="400.65" r="1.2" fill="#0072bd"/>
<circle cx="275.49" cy="375.79" r="1.2" fill="#0072bd"/>
<circle cx="238.29" cy="409.14" r="1.2" fill="#0072bd"/>
<circle cx="227.81" cy="422.47" r="1.2" fill="#0072bd"/>
<circle cx="228.31" cy="414.06" r="1.2" fill="#0072bd"/>
<circle cx="242" cy="406.13" r="1.2" fill="#0072bd"/>
<circle cx="252.12" cy="395.1" r="1.2" fill="#ff0000"/>
<circle cx="245.15" cy="391.58" r="1.2" fill="#0072bd"/>
<circle cx="234.58" cy="411.18" r="1.2" fill="#0072bd"/>
<circle cx="239.93" cy="412.81" r="1.2" fill="#0072bd"/>
<circle cx="247.83" cy="391.78" r="1.2" fill="#0072bd"/>
<circle cx="226.69" cy="422.91" r="1.2" fill="#0072bd"/>
<circle cx="227.2" cy="413.7" r="1.2" fill="#0072bd"/>
<circle cx="253.67" cy="392.67" r="1.2" fill="#0072bd"/>
<circle cx="225.65" cy="417.73" r="1.2" fill="#0072bd"/>
<circle cx="245.57" cy="390.81" r="1.2" fill="#0072bd"/>
<circle cx="247.65" cy="403.33" r="1.2" fill="#0072bd"/>
<circle cx="237.97" cy="415.53" r="1.2" fill="#ff0000"/>
<circle cx="248.35" cy="393.82" r="1.2" fill="#0072bd"/>
<circle cx="228.44" cy="420.56" r="1.2" fill="#ff0000"/>
<circle cx="251.42" cy="403.97" r="1.2" fill="#0072bd"/>
<circle cx="251.6" cy="394.76" r="1.2" fill="#ff0000"/>
<circle cx="229.93" cy="396.23" r="1.2" fill="#0072bd"/>
<circle cx="229.93" cy="398.63" r="1.2" fill="#0072bd"/>
<circle cx="233.66" cy="409.87" r="1.2" fill="#0072bd"/>
<circle cx="238.38" cy="393.19" r="1.2" fill="#0072bd"/>
<circle cx="242.38" cy="419.2" r="1.2" fill="#0072bd"/>
<circle cx="242.38" cy="421.6" r="1.2" fill="#0072bd"/>
<circle cx="247.05" cy="403.49" r="1.2" fill="#0072bd"/>
<circle cx="250.77" cy="412.63" r="1.2" fill="#0072bd"/>
<circle cx="259.21" cy="399.16" r="1.2" fill="#0072bd"/>
<circle cx="230.85" cy="439.27" r="1.2" fill="#0072bd"/>
<circle cx="224.18" cy="423.24" r="1.2" fill="#0072bd"/>
<circle cx="220.08" cy="415.25" r="1.2" fill="#0072bd"/>
<circle cx="237.16" cy="398.9" r="1.2" fill="#ff0000"/>
<circle cx="243.42" cy="397.43" r="1.2" fill="#0072bd"/>
<circle cx="240.41" cy="409.49" r="1.2" fill="#0072bd"/>
<circle cx="241.49" cy="398.46" r="1.2" fill="#0072bd"/>
<circle cx="237.66" cy="408.09" r="1.2" fill="#0072bd"/>
<circle cx="236.53" cy="416.27" r="1.2" fill="#0072bd"/>
<circle cx="252.24" cy="399.32" r="1.2" fill="#0072bd"/>
<circle cx="234.7" cy="415.42" r="1.2" fill="#0072bd"/>
<circle cx="232.61" cy="401.95" r="1.2" fill="#0072bd"/>
<circle cx="231.65" cy="433.12" r="1.2" fill="#0072bd"/>
<circle cx="223.25" cy="433.7" r="1.2" fill="#ff0000"/>
<circle cx="232.73" cy="412.07" r="1.2" fill="#0072bd"/>
<circle cx="238.56" cy="411.98" r="1.2" fill="#0072bd"/>
<circle cx="246.9" cy="402.32" r="1.2" fill="#0072bd"/>
<circle cx="242.59" cy="428.86" r="1.2" fill="#0072bd"/>
<circle cx="231.14" cy="422.19" r="1.2" fill="#0072bd"/>
<circle cx="252.32" cy="413.4" r="1.2" fill="#0072bd"/>
<circle cx="225.03" cy="411.44" r="1.2" fill="#0072bd"/>
<circle cx="238.52" cy="397.13" r="1.2" fill="#0072bd"/>
<circle cx="240.59" cy="397.84" r="1.2" fill="#0072bd"/>
<circle cx="168.1" cy="467.82" r="1.2" fill="#0072bd"/>
<circle cx="165.15" cy="450.41" r="1.2" fill="#0072bd"/>
<circle cx="155.51" cy="464.07" r="1.2" fill="#0072bd"/>
<circle cx="167.38" cy="458.7" r="1.2" fill="#0072bd"/>
<circle cx="155.31" cy="457.87" r="1.2" fill="#0072bd"/>
<circle cx="155.31" cy="460.27" r="1.2" fill="#0072bd"/>
<circle cx="148.49" cy="459.44" r="1.2" fill="#0072bd"/>
<circle cx="163.87" cy="461.36" r="1.2" fill="#0072bd"/>
<circle cx="172.45" cy="444.5" r="1.2" fill="#0072bd"/>
<circle cx="168.46" cy="453.87" r="1.2" fill="#0072bd"/>
<circle cx="156.5" cy="455.28" r="1.2" fill="#0072bd"/>
<circle cx="143.2" cy="465.76" r="1.2" fill="#0072bd"/>
<circle cx="161.88" cy="455.76" r="1.2" fill="#0072bd"/>
<circle cx="163.28" cy="450.66" r="1.2" fill="#0072bd"/>
<circle cx="172.93" cy="442.25" r="1.2" fill="#0072bd"/>
<circle cx="172.93" cy="444.65" r="1.2" fill="#0072bd"/>
<circle cx="165.79" cy="446.98" r="1.2" fill="#0072bd"/>
<circle cx="160.04" cy="446.94" r="1.2" fill="#0072bd"/>
<circle cx="158.83" cy="441.02" r="1.2" fill="#0072bd"/>
<circle cx="156.82" cy="461.26" r="1.2" fill="#0072bd"/>
<circle cx="156.82" cy="463.66" r="1.2" fill="#0072bd"/>
<circle cx="163.2" cy="451.7" r="1.2" fill="#ff0000"/>
<circle cx="114.6" cy="462.85" r="1.2" fill="#ff0000"/>
<circle cx="114.6" cy="467.23" r="1.2" fill="#ff0000"/>
<circle cx="124.82" cy="442.41" r="1.2" fill="#ff0000"/>
<circle cx="124.82" cy="455.55" r="1.2" fill="#ff0000"/>
<circle cx="132.12" cy="446.79" r="1.2" fill="#ff0000"/>
<circle cx="135.04" cy="442.41" r="1.2" fill="#ff0000"/>
<circle cx="135.04" cy="455.55" r="1.2" fill="#ff0000"/>
<circle cx="143.21" cy="421.97" r="1.2" fill="#ff0000"/>
<circle cx="274.6" cy="351.9" r="1.2" fill="#ff0000"/>
<circle cx="274.6" cy="358.32" r="1.2" fill="#ff0000"/>
<circle cx="263.5" cy="359.2" r="1.2" fill="#0072bd"/>
<circle cx="264.96" cy="372.34" r="1.2" fill="#0072bd"/>
<circle cx="155.47" cy="480.36" r="1.2" fill="#0072bd"/>
<circle cx="165.69" cy="480.36" r="1.2" fill="#0072bd"/>
<line x1="145.3" y1="480.4" x2="253.9" y2="349.6" stroke="#000" stroke-width="2"/>
<circle cx="232.56" cy="380.95" r="1.2" fill="#ff0000"/>
<circle cx="219.82" cy="379.9" r="1.2" fill="#ff0000"/>
<circle cx="226.8" cy="392.66" r="1.2" fill="#ff0000"/>
<circle cx="222.13" cy="361.35" r="1.2" fill="#ff0000"/>
<circle cx="244.11" cy="350.53" r="1.2" fill="#ff0000"/>
<circle cx="240.93" cy="373.49" r="1.2" fill="#ff0000"/>
<circle cx="235.57" cy="364.4" r="1.2" fill="#ff0000"/>
<circle cx="232.58" cy="373.87" r="1.2" fill="#ff0000"/>
<circle cx="235.32" cy="352.48" r="1.2" fill="#ff0000"/>
<circle cx="203.27" cy="397.91" r="1.2" fill="#ff0000"/>
<circle cx="241.64" cy="368.23" r="1.2" fill="#ff0000"/>
<circle cx="237.01" cy="367.02" r="1.2" fill="#ff0000"/>
<circle cx="207.42" cy="400.22" r="1.2" fill="#ff0000"/>
<circle cx="221.14" cy="376.72" r="1.2" fill="#ff0000"/>
<circle cx="223.11" cy="392.91" r="1.2" fill="#ff0000"/>
<circle cx="225.78" cy="392.71" r="1.2" fill="#ff0000"/>
<circle cx="239.55" cy="384.67" r="1.2" fill="#ff0000"/>
<circle cx="190.78" cy="417.84" r="1.2" fill="#ff0000"/>
<circle cx="229.4" cy="408.8" r="1.2" fill="#ff0000"/>
<circle cx="227.94" cy="378.47" r="1.2" fill="#ff0000"/>
<circle cx="204.97" cy="378.04" r="1.2" fill="#0072bd"/>
<circle cx="210.91" cy="406.37" r="1.2" fill="#ff0000"/>
<circle cx="229.1" cy="398.35" r="1.2" fill="#ff0000"/>
<circle cx="223.12" cy="383.49" r="1.2" fill="#ff0000"/>
<circle cx="227.39" cy="366.78" r="1.2" fill="#0072bd"/>
<circle cx="213.71" cy="395.4" r="1.2" fill="#ff0000"/>
<circle cx="214.08" cy="391.85" r="1.2" fill="#ff0000"/>
<circle cx="231.28" cy="362.85" r="1.2" fill="#ff0000"/>
<circle cx="225.16" cy="374.04" r="1.2" fill="#ff0000"/>
<circle cx="258.05" cy="359.31" r="1.2" fill="#0072bd"/>
<circle cx="225.64" cy="362.14" r="1.2" fill="#ff0000"/>
<circle cx="212.16" cy="390.52" r="1.2" fill="#ff0000"/>
<circle cx="218.84" cy="385.58" r="1.2" fill="#ff0000"/>
<circle cx="199" cy="410.16" r="1.2" fill="#ff0000"/>
<circle cx="223.39" cy="368.09" r="1.2" fill="#ff0000"/>
<circle cx="198.16" cy="403.97" r="1.2" fill="#ff0000"/>
<circle cx="247.76" cy="384.37" r="1.2" fill="#ff0000"/>
<circle cx="229.62" cy="374.43" r="1.2" fill="#ff0000"/>
<circle cx="239.5" cy="369.1" r="1.2" fill="#ff0000"/>
<circle cx="191.77" cy="409.19" r="1.2" fill="#ff0000"/>
<circle cx="204.99" cy="381.56" r="1.2" fill="#ff0000"/>
<circle cx="245.69" cy="362.55" r="1.2" fill="#ff0000"/>
<circle cx="217.17" cy="395.04" r="1.2" fill="#ff0000"/>
<circle cx="246.44" cy="366.66" r="1.2" fill="#ff0000"/>
<circle cx="233.5" cy="368.49" r="1.2" fill="#ff0000"/>
<circle cx="231.4" cy="387.82" r="1.2" fill="#ff0000"/>
<circle cx="223.83" cy="368.78" r="1.2" fill="#ff0000"/>
<circle cx="220.76" cy="379.46" r="1.2" fill="#ff0000"/>
<circle cx="209.63" cy="390.16" r="1.2" fill="#ff0000"/>
<circle cx="220.14" cy="372.31" r="1.2" fill="#ff0000"/>
<circle cx="209.19" cy="377.58" r="1.2" fill="#ff0000"/>
<circle cx="194.04" cy="418" r="1.2" fill="#ff0000"/>
<circle cx="219" cy="376.09" r="1.2" fill="#ff0000"/>
<circle cx="227.83" cy="384.19" r="1.2" fill="#ff0000"/>
<circle cx="211.06" cy="392.95" r="1.2" fill="#ff0000"/>
<circle cx="245.12" cy="360.18" r="1.2" fill="#ff0000"/>
<circle cx="215.21" cy="386.15" r="1.2" fill="#ff0000"/>
<circle cx="220.95" cy="379.23" r="1.2" fill="#ff0000"/>
<circle cx="215.53" cy="394.31" r="1.2" fill="#ff0000"/>
<circle cx="218.17" cy="403.24" r="1.2" fill="#ff0000"/>
<circle cx="213.27" cy="379.96" r="1.2" fill="#ff0000"/>
<circle cx="221.05" cy="404.41" r="1.2" fill="#ff0000"/>
<circle cx="213.33" cy="367.98" r="1.2" fill="#ff0000"/>
<circle cx="230.68" cy="374.09" r="1.2" fill="#ff0000"/>
<circle cx="200.39" cy="399.84" r="1.2" fill="#ff0000"/>
<circle cx="204.83" cy="408.5" r="1.2" fill="#ff0000"/>
<circle cx="222.28" cy="382.34" r="1.2" fill="#0072bd"/>
<circle cx="225.95" cy="359.28" r="1.2" fill="#ff0000"/>
<circle cx="219.05" cy="379.14" r="1.2" fill="#0072bd"/>
<circle cx="249.35" cy="360.75" r="1.2" fill="#ff0000"/>
<circle cx="229.7" cy="364.85" r="1.2" fill="#ff0000"/>
<circle cx="219.33" cy="392.89" r="1.2" fill="#ff0000"/>
<circle cx="227.76" cy="399.99" r="1.2" fill="#ff0000"/>
<circle cx="245.11" cy="385.61" r="1.2" fill="#0072bd"/>
<circle cx="225.89" cy="374.92" r="1.2" fill="#ff0000"/>
<circle cx="237.42" cy="383.02" r="1.2" fill="#ff0000"/>
<circle cx="214.02" cy="398.85" r="1.2" fill="#ff0000"/>
<circle cx="212.68" cy="398.35" r="1.2" fill="#ff0000"/>
<circle cx="212.68" cy="400.75" r="1.2" fill="#ff0000"/>
<circle cx="227.73" cy="386.13" r="1.2" fill="#ff0000"/>
<circle cx="241.79" cy="382.9" r="1.2" fill="#0072bd"/>
<circle cx="216.68" cy="408.35" r="1.2" fill="#ff0000"/>
<circle cx="230.22" cy="362.7" r="1.2" fill="#ff0000"/>
<circle cx="226.95" cy="386.36" r="1.2" fill="#0072bd"/>
<circle cx="229.87" cy="357" r="1.2" fill="#ff0000"/>
<circle cx="235.12" cy="364.45" r="1.2" fill="#ff0000"/>
<circle cx="208.5" cy="402.59" r="1.2" fill="#0072bd"/>
<circle cx="226.2" cy="390.46" r="1.2" fill="#ff0000"/>
<circle cx="236.25" cy="346.67" r="1.2" fill="#ff0000"/>
<circle cx="231.47" cy="362.19" r="1.2" fill="#ff0000"/>
<circle cx="212.58" cy="384.73" r="1.2" fill="#ff0000"/>
<circle cx="212.58" cy="387.13" r="1.2" fill="#ff0000"/>
<circle cx="221.75" cy="392.1" r="1.2" fill="#ff0000"/>
<circle cx="207.4" cy="384.92" r="1.2" fill="#0072bd"/>
<circle cx="202.39" cy="391.01" r="1.2" fill="#0072bd"/>
<circle cx="226.36" cy="377.96" r="1.2" fill="#ff0000"/>
<circle cx="214.95" cy="391.87" r="1.2" fill="#ff0000"/>
<circle cx="185.78" cy="436.12" r="1.2" fill="#ff0000"/>
<circle cx="186.52" cy="423.7" r="1.2" fill="#0072bd"/>
<circle cx="184.89" cy="434.97" r="1.2" fill="#ff0000"/>
<circle cx="202.31" cy="384.71" r="1.2" fill="#ff0000"/>
<circle cx="178.49" cy="429.91" r="1.2" fill="#ff0000"/>
<circle cx="187.42" cy="425.91" r="1.2" fill="#ff0000"/>
<circle cx="184.93" cy="405.99" r="1.2" fill="#0072bd"/>
<circle cx="184.93" cy="408.39" r="1.2" fill="#0072bd"/>
<circle cx="195.25" cy="419.15" r="1.2" fill="#ff0000"/>
<circle cx="188.99" cy="419.06" r="1.2" fill="#ff0000"/>
<circle cx="188.33" cy="435.67" r="1.2" fill="#ff0000"/>
<circle cx="182.02" cy="437.39" r="1.2" fill="#ff0000"/>
<circle cx="197.77" cy="420.62" r="1.2" fill="#ff0000"/>
<circle cx="180.81" cy="429.55" r="1.2" fill="#ff0000"/>
<circle cx="175.48" cy="442.5" r="1.2" fill="#ff0000"/>
<circle cx="200.7" cy="406.07" r="1.2" fill="#0072bd"/>
<circle cx="207.05" cy="386.63" r="1.2" fill="#0072bd"/>
<circle cx="210.09" cy="392.5" r="1.2" fill="#ff0000"/>
<circle cx="192.19" cy="418.59" r="1.2" fill="#0072bd"/>
<circle cx="195.03" cy="405.09" r="1.2" fill="#0072bd"/>
<circle cx="184.58" cy="426.66" r="1.2" fill="#0072bd"/>
<circle cx="205.84" cy="409.75" r="1.2" fill="#ff0000"/>
<circle cx="200.82" cy="403.31" r="1.2" fill="#ff0000"/>
<circle cx="200.94" cy="400.86" r="1.2" fill="#ff0000"/>
<circle cx="213.49" cy="403.67" r="1.2" fill="#ff0000"/>
<circle cx="173.4" cy="440.07" r="1.2" fill="#ff0000"/>
<circle cx="169.09" cy="441.22" r="1.2" fill="#ff0000"/>
<circle cx="213.78" cy="389.95" r="1.2" fill="#ff0000"/>
<circle cx="209.86" cy="397.79" r="1.2" fill="#ff0000"/>
<circle cx="164.32" cy="444.74" r="1.2" fill="#ff0000"/>
<circle cx="198.88" cy="418.54" r="1.2" fill="#ff0000"/>
<circle cx="196.79" cy="421.88" r="1.2" fill="#0072bd"/>
<circle cx="177.41" cy="433.19" r="1.2" fill="#ff0000"/>
<circle cx="174.97" cy="439.54" r="1.2" fill="#0072bd"/>
<circle cx="182.77" cy="414.09" r="1.2" fill="#ff0000"/>
<circle cx="203.58" cy="407.51" r="1.2" fill="#ff0000"/>
<circle cx="172.79" cy="438.6" r="1.2" fill="#ff0000"/>
<circle cx="172.79" cy="441" r="1.2" fill="#ff0000"/>
<circle cx="211.66" cy="395.32" r="1.2" fill="#ff0000"/>
<circle cx="180.77" cy="419.63" r="1.2" fill="#0072bd"/>
<circle cx="178.83" cy="420.73" r="1.2" fill="#ff0000"/>
<circle cx="210.16" cy="403.36" r="1.2" fill="#ff0000"/>
<circle cx="203.54" cy="395.78" r="1.2" fill="#ff0000"/>
<circle cx="175.66" cy="449.39" r="1.2" fill="#ff0000"/>
<circle cx="184.57" cy="423.18" r="1.2" fill="#ff0000"/>
<circle cx="188.33" cy="430.33" r="1.2" fill="#ff0000"/>
<circle cx="196.11" cy="412.25" r="1.2" fill="#0072bd"/>
<circle cx="243.7" cy="366.14" r="1.2" fill="#ff0000"/>
<circle cx="246.08" cy="372.22" r="1.2" fill="#ff0000"/>
<circle cx="237.36" cy="376.31" r="1.2" fill="#ff0000"/>
<circle cx="245.41" cy="355.59" r="1.2" fill="#ff0000"/>
<circle cx="249.45" cy="363.51" r="1.2" fill="#ff0000"/>
<circle cx="243.96" cy="374.66" r="1.2" fill="#ff0000"/>
<circle cx="244.03" cy="365.1" r="1.2" fill="#ff0000"/>
<circle cx="254.42" cy="368.1" r="1.2" fill="#ff0000"/>
<circle cx="244.75" cy="364.28" r="1.2" fill="#ff0000"/>
<circle cx="241.68" cy="363.9" r="1.2" fill="#ff0000"/>
<circle cx="249" cy="365.63" r="1.2" fill="#ff0000"/>
<circle cx="249.74" cy="364.06" r="1.2" fill="#0072bd"/>
<circle cx="235.29" cy="372.96" r="1.2" fill="#ff0000"/>
<circle cx="255.99" cy="367.84" r="1.2" fill="#ff0000"/>
<circle cx="244.31" cy="359.33" r="1.2" fill="#ff0000"/>
<circle cx="244.31" cy="361.73" r="1.2" fill="#ff0000"/>
<circle cx="243.59" cy="370.02" r="1.2" fill="#ff0000"/>
<circle cx="233.28" cy="358.93" r="1.2" fill="#ff0000"/>
<circle cx="244.9" cy="359.41" r="1.2" fill="#ff0000"/>
<circle cx="246.9" cy="370.35" r="1.2" fill="#0072bd"/>
<circle cx="256.29" cy="358.43" r="1.2" fill="#ff0000"/>
<circle cx="251.26" cy="360.06" r="1.2" fill="#ff0000"/>
<circle cx="240.47" cy="359.1" r="1.2" fill="#ff0000"/>
<circle cx="253.61" cy="360.34" r="1.2" fill="#ff0000"/>
<circle cx="249.59" cy="374.27" r="1.2" fill="#ff0000"/>
<circle cx="246.62" cy="371.18" r="1.2" fill="#ff0000"/>
<circle cx="244.1" cy="348.75" r="1.2" fill="#ff0000"/>
<circle cx="254.78" cy="365.2" r="1.2" fill="#ff0000"/>
<circle cx="252.12" cy="351.25" r="1.2" fill="#ff0000"/>
<circle cx="235.4" cy="370.11" r="1.2" fill="#ff0000"/>
<circle cx="184.95" cy="432.66" r="1.2" fill="#0072bd"/>
<circle cx="167.05" cy="450.7" r="1.2" fill="#ff0000"/>
<circle cx="181.38" cy="412.18" r="1.2" fill="#0072bd"/>
<circle cx="190.82" cy="422.39" r="1.2" fill="#ff0000"/>
<circle cx="181.51" cy="416.61" r="1.2" fill="#ff0000"/>
<circle cx="176.78" cy="418.59" r="1.2" fill="#0072bd"/>
<circle cx="173.87" cy="438.02" r="1.2" fill="#ff0000"/>
<circle cx="176.7" cy="451.23" r="1.2" fill="#ff0000"/>
<circle cx="186.14" cy="402.81" r="1.2" fill="#ff0000"/>
<circle cx="177.2" cy="435.23" r="1.2" fill="#ff0000"/>
<circle cx="188.96" cy="413.53" r="1.2" fill="#ff0000"/>
<circle cx="173.9" cy="453.31" r="1.2" fill="#ff0000"/>
<circle cx="178.69" cy="424.23" r="1.2" fill="#0072bd"/>
<circle cx="175.88" cy="444.62" r="1.2" fill="#ff0000"/>
<circle cx="178.16" cy="451.71" r="1.2" fill="#ff0000"/>
<circle cx="178.14" cy="437.84" r="1.2" fill="#ff0000"/>
<circle cx="168.65" cy="428.1" r="1.2" fill="#ff0000"/>
<circle cx="203.87" cy="410.31" r="1.2" fill="#0072bd"/>
<circle cx="190.77" cy="454.29" r="1.2" fill="#0072bd"/>
<circle cx="212.52" cy="404.06" r="1.2" fill="#0072bd"/>
<circle cx="187.09" cy="437.58" r="1.2" fill="#0072bd"/>
<circle cx="224.26" cy="397.37" r="1.2" fill="#0072bd"/>
<circle cx="171.31" cy="443.1" r="1.2" fill="#0072bd"/>
<circle cx="207.61" cy="407.7" r="1.2" fill="#0072bd"/>
<circle cx="178.57" cy="426.21" r="1.2" fill="#0072bd"/>
<circle cx="199.47" cy="422.87" r="1.2" fill="#0072bd"/>
<circle cx="184.07" cy="437.7" r="1.2" fill="#0072bd"/>
<circle cx="209.43" cy="430.05" r="1.2" fill="#0072bd"/>
<circle cx="211.94" cy="432.71" r="1.2" fill="#ff0000"/>
<circle cx="193.97" cy="449.65" r="1.2" fill="#0072bd"/>
<circle cx="199.15" cy="442.07" r="1.2" fill="#0072bd"/>
<circle cx="251.11" cy="385.62" r="1.2" fill="#0072bd"/>
<circle cx="184.08" cy="444.64" r="1.2" fill="#0072bd"/>
<circle cx="206.21" cy="445.98" r="1.2" fill="#0072bd"/>
<circle cx="223.36" cy="421.16" r="1.2" fill="#0072bd"/>
<circle cx="201.45" cy="434.79" r="1.2" fill="#0072bd"/>
<circle cx="201.45" cy="437.19" r="1.2" fill="#0072bd"/>
<circle cx="212.15" cy="424.53" r="1.2" fill="#0072bd"/>
<circle cx="212.15" cy="426.93" r="1.2" fill="#0072bd"/>
<circle cx="173.36" cy="436.41" r="1.2" fill="#0072bd"/>
<circle cx="206.73" cy="430.45" r="1.2" fill="#ff0000"/>
<circle cx="179.68" cy="425.57" r="1.2" fill="#0072bd"/>
<circle cx="194.62" cy="444.71" r="1.2" fill="#0072bd"/>
<circle cx="191.5" cy="440.72" r="1.2" fill="#0072bd"/>
<circle cx="221.22" cy="416.73" r="1.2" fill="#0072bd"/>
<circle cx="191.3" cy="424.91" r="1.2" fill="#0072bd"/>
<circle cx="214.97" cy="423.42" r="1.2" fill="#0072bd"/>
<circle cx="208.18" cy="447.07" r="1.2" fill="#0072bd"/>
<circle cx="218" cy="411.2" r="1.2" fill="#ff0000"/>
<circle cx="201.42" cy="407.03" r="1.2" fill="#0072bd"/>
<circle cx="180.36" cy="462.14" r="1.2" fill="#0072bd"/>
<circle cx="185.2" cy="459.36" r="1.2" fill="#0072bd"/>
<circle cx="211.75" cy="393.3" r="1.2" fill="#ff0000"/>
<circle cx="191.79" cy="442.25" r="1.2" fill="#0072bd"/>
<circle cx="176.83" cy="441.53" r="1.2" fill="#0072bd"/>
<circle cx="173.85" cy="452.29" r="1.2" fill="#0072bd"/>
<circle cx="205.03" cy="421.5" r="1.2" fill="#0072bd"/>
<circle cx="238.71" cy="403.79" r="1.2" fill="#ff0000"/>
<circle cx="238.71" cy="406.19" r="1.2" fill="#ff0000"/>
<circle cx="195.61" cy="467.44" r="1.2" fill="#0072bd"/>
<circle cx="200.07" cy="403.06" r="1.2" fill="#0072bd"/>
<circle cx="208.42" cy="416.44" r="1.2" fill="#0072bd"/>
<circle cx="202.28" cy="440.84" r="1.2" fill="#ff0000"/>
<circle cx="208.45" cy="393.8" r="1.2" fill="#ff0000"/>
<circle cx="176.86" cy="446.9" r="1.2" fill="#0072bd"/>
<circle cx="201.38" cy="442.71" r="1.2" fill="#0072bd"/>
<circle cx="199.14" cy="433.95" r="1.2" fill="#0072bd"/>
<circle cx="200.31" cy="409.96" r="1.2" fill="#0072bd"/>
<circle cx="216.83" cy="394.74" r="1.2" fill="#0072bd"/>
<circle cx="186.55" cy="413.13" r="1.2" fill="#0072bd"/>
<circle cx="205.3" cy="446.19" r="1.2" fill="#0072bd"/>
<circle cx="177.27" cy="456.09" r="1.2" fill="#0072bd"/>
<circle cx="174.41" cy="409.66" r="1.2" fill="#0072bd"/>
<circle cx="210.35" cy="441.46" r="1.2" fill="#0072bd"/>
<circle cx="206.13" cy="440.93" r="1.2" fill="#0072bd"/>
<circle cx="202.24" cy="441.07" r="1.2" fill="#0072bd"/>
<circle cx="217.54" cy="422.03" r="1.2" fill="#0072bd"/>
<circle cx="212.73" cy="419.45" r="1.2" fill="#0072bd"/>
<circle cx="212.26" cy="408.98" r="1.2" fill="#0072bd"/>
<circle cx="189.67" cy="467.75" r="1.2" fill="#0072bd"/>
<circle cx="185.13" cy="441.61" r="1.2" fill="#ff0000"/>
<circle cx="189.33" cy="434.28" r="1.2" fill="#0072bd"/>
<circle cx="222.94" cy="399.2" r="1.2" fill="#0072bd"/>
<circle cx="206.84" cy="427.37" r="1.2" fill="#0072bd"/>
<circle cx="192.8" cy="427.23" r="1.2" fill="#0072bd"/>
<circle cx="215.28" cy="396" r="1.2" fill="#0072bd"/>
<circle cx="187.67" cy="434.17" r="1.2" fill="#0072bd"/>
<circle cx="151.83" cy="480.51" r="1.2" fill="#0072bd"/>
<circle cx="203.9" cy="420.86" r="1.2" fill="#0072bd"/>
<circle cx="179.44" cy="441.76" r="1.2" fill="#0072bd"/>
<circle cx="190.15" cy="458.22" r="1.2" fill="#ff0000"/>
<circle cx="195.62" cy="445.44" r="1.2" fill="#0072bd"/>
<circle cx="193.05" cy="436.8" r="1.2" fill="#0072bd"/>
<circle cx="181.05" cy="454.07" r="1.2" fill="#ff0000"/>
<circle cx="202.71" cy="411.45" r="1.2" fill="#ff0000"/>
<circle cx="219.65" cy="418.8" r="1.2" fill="#0072bd"/>
<circle cx="212.15" cy="414.16" r="1.2" fill="#0072bd"/>
<circle cx="174.17" cy="439.07" r="1.2" fill="#0072bd"/>
<circle cx="227.92" cy="410.93" r="1.2" fill="#0072bd"/>
<circle cx="208.78" cy="421.79" r="1.2" fill="#0072bd"/>
<circle cx="201.2" cy="414.88" r="1.2" fill="#0072bd"/>
<circle cx="213.16" cy="393.35" r="1.2" fill="#0072bd"/>
<circle cx="213.16" cy="395.75" r="1.2" fill="#0072bd"/>
<circle cx="200.55" cy="440.24" r="1.2" fill="#0072bd"/>
<circle cx="213.51" cy="439.41" r="1.2" fill="#0072bd"/>
<circle cx="229.77" cy="385.81" r="1.2" fill="#0072bd"/>
<circle cx="229.77" cy="388.21" r="1.2" fill="#0072bd"/>
<circle cx="204.26" cy="420.5" r="1.2" fill="#0072bd"/>
<circle cx="202.88" cy="430.31" r="1.2" fill="#ff0000"/>
<circle cx="195.56" cy="450.25" r="1.2" fill="#ff0000"/>
<circle cx="184.96" cy="427.36" r="1.2" fill="#0072bd"/>
<circle cx="184.96" cy="429.76" r="1.2" fill="#0072bd"/>
<circle cx="197.18" cy="431.83" r="1.2" fill="#0072bd"/>
<circle cx="199.29" cy="435.42" r="1.2" fill="#0072bd"/>
<circle cx="189.17" cy="420.06" r="1.2" fill="#ff0000"/>
<circle cx="201.21" cy="413.03" r="1.2" fill="#ff0000"/>
<circle cx="195.38" cy="442.07" r="1.2" fill="#0072bd"/>
<circle cx="193.85" cy="416.23" r="1.2" fill="#0072bd"/>
<circle cx="220.73" cy="388.53" r="1.2" fill="#0072bd"/>
<circle cx="220.73" cy="390.93" r="1.2" fill="#0072bd"/>
<circle cx="219.48" cy="388.3" r="1.2" fill="#0072bd"/>
<circle cx="206.35" cy="420.46" r="1.2" fill="#0072bd"/>
<circle cx="159.38" cy="460.22" r="1.2" fill="#0072bd"/>
<circle cx="199.48" cy="408.93" r="1.2" fill="#0072bd"/>
<circle cx="223.4" cy="419.27" r="1.2" fill="#0072bd"/>
<circle cx="211.65" cy="429.27" r="1.2" fill="#0072bd"/>
<circle cx="246" cy="386.53" r="1.2" fill="#0072bd"/>
<circle cx="197.73" cy="421.54" r="1.2" fill="#0072bd"/>
<circle cx="203.25" cy="436.83" r="1.2" fill="#0072bd"/>
<circle cx="200.46" cy="449.23" r="1.2" fill="#0072bd"/>
<circle cx="206.71" cy="411.4" r="1.2" fill="#0072bd"/>
<circle cx="208.24" cy="412.91" r="1.2" fill="#0072bd"/>
<circle cx="242.25" cy="393.78" r="1.2" fill="#0072bd"/>
<circle cx="224.34" cy="399.71" r="1.2" fill="#0072bd"/>
<circle cx="242.1" cy="406.44" r="1.2" fill="#ff0000"/>
<circle cx="237.59" cy="416.96" r="1.2" fill="#0072bd"/>
<circle cx="259.49" cy="392.05" r="1.2" fill="#ff0000"/>
<circle cx="237.84" cy="404.31" r="1.2" fill="#0072bd"/>
<circle cx="228.93" cy="419.95" r="1.2" fill="#0072bd"/>
<circle cx="252.64" cy="394.09" r="1.2" fill="#0072bd"/>
<circle cx="254.07" cy="413.8" r="1.2" fill="#0072bd"/>
<circle cx="247.99" cy="400.54" r="1.2" fill="#0072bd"/>
<circle cx="239.34" cy="407.45" r="1.2" fill="#0072bd"/>
<circle cx="236.56" cy="405.47" r="1.2" fill="#0072bd"/>
<circle cx="227.81" cy="420.07" r="1.2" fill="#0072bd"/>
<circle cx="232.6" cy="407.47" r="1.2" fill="#0072bd"/>
<circle cx="246.35" cy="415.19" r="1.2" fill="#0072bd"/>
<circle cx="232.15" cy="414.41" r="1.2" fill="#0072bd"/>
<circle cx="225.97" cy="418.91" r="1.2" fill="#ff0000"/>
<circle cx="237.97" cy="417.93" r="1.2" fill="#ff0000"/>
<circle cx="240.4" cy="398.63" r="1.2" fill="#0072bd"/>
<circle cx="250.77" cy="415.03" r="1.2" fill="#0072bd"/>
<circle cx="230.85" cy="436.87" r="1.2" fill="#0072bd"/>
<circle cx="217.45" cy="434.17" r="1.2" fill="#0072bd"/>
<circle cx="240.15" cy="397.5" r="1.2" fill="#0072bd"/>
<circle cx="238.77" cy="414.33" r="1.2" fill="#0072bd"/>
<circle cx="229.82" cy="392.65" r="1.2" fill="#0072bd"/>
<circle cx="227.1" cy="416.43" r="1.2" fill="#0072bd"/>
<circle cx="241.6" cy="383.88" r="1.2" fill="#0072bd"/>
<circle cx="229.54" cy="386.23" r="1.2" fill="#0072bd"/>
<circle cx="229.54" cy="388.63" r="1.2" fill="#0072bd"/>
<circle cx="228.34" cy="405.66" r="1.2" fill="#0072bd"/>
<circle cx="238.63" cy="393.45" r="1.2" fill="#0072bd"/>
<circle cx="244.87" cy="400.75" r="1.2" fill="#0072bd"/>
<circle cx="236.86" cy="407.6" r="1.2" fill="#0072bd"/>
<circle cx="236.85" cy="407.74" r="1.2" fill="#0072bd"/>
<circle cx="237.78" cy="416.49" r="1.2" fill="#ff0000"/>
<circle cx="237.55" cy="412.46" r="1.2" fill="#0072bd"/>
<circle cx="238.88" cy="415.82" r="1.2" fill="#0072bd"/>
<circle cx="171.89" cy="456.42" r="1.2" fill="#ff0000"/>
<circle cx="159.91" cy="460.9" r="1.2" fill="#0072bd"/>
<circle cx="160.62" cy="447.07" r="1.2" fill="#ff0000"/>
<circle cx="169.94" cy="447.28" r="1.2" fill="#0072bd"/>
<circle cx="145.47" cy="454.75" r="1.2" fill="#0072bd"/>
<circle cx="169.82" cy="455.65" r="1.2" fill="#0072bd"/>
<circle cx="163.52" cy="449.13" r="1.2" fill="#0072bd"/>
<circle cx="163.13" cy="449.78" r="1.2" fill="#0072bd"/>
<circle cx="155.84" cy="449.97" r="1.2" fill="#0072bd"/>
<circle cx="162.93" cy="451.24" r="1.2" fill="#0072bd"/>
<circle cx="157.53" cy="460.68" r="1.2" fill="#0072bd"/>
<circle cx="155.37" cy="454.45" r="1.2" fill="#0072bd"/>
<circle cx="155.37" cy="456.85" r="1.2" fill="#0072bd"/>
<circle cx="148.25" cy="463.02" r="1.2" fill="#0072bd"/>
<circle cx="171.89" cy="455.12" r="1.2" fill="#0072bd"/>
<circle cx="162" cy="453.27" r="1.2" fill="#ff0000"/>
<circle cx="168.66" cy="449.45" r="1.2" fill="#0072bd"/>
<circle cx="168.59" cy="449.33" r="1.2" fill="#0072bd"/>
<circle cx="168.59" cy="451.73" r="1.2" fill="#0072bd"/>
<circle cx="158.96" cy="453.71" r="1.2" fill="#0072bd"/>
<circle cx="163.2" cy="454.1" r="1.2" fill="#ff0000"/>
<circle cx="168.54" cy="465.1" r="1.2" fill="#0072bd"/>
<circle cx="166.39" cy="443.79" r="1.2" fill="#0072bd"/>
<circle cx="166.39" cy="446.19" r="1.2" fill="#0072bd"/>
<circle cx="171.83" cy="454.19" r="1.2" fill="#0072bd"/>
<circle cx="124.82" cy="448.25" r="1.2" fill="#ff0000"/>
<circle cx="124.82" cy="462.85" r="1.2" fill="#ff0000"/>
<circle cx="124.82" cy="473.07" r="1.2" fill="#ff0000"/>
<circle cx="127.74" cy="471.61" r="1.2" fill="#ff0000"/>
<circle cx="127.74" cy="475.99" r="1.2" fill="#ff0000"/>
<circle cx="132.12" cy="452.63" r="1.2" fill="#ff0000"/>
<circle cx="143.21" cy="429.27" r="1.2" fill="#ff0000"/>
<circle cx="143.21" cy="435.11" r="1.2" fill="#ff0000"/>
<circle cx="274.6" cy="344.6" r="1.2" fill="#ff0000"/>
<circle cx="151.09" cy="443.87" r="1.2" fill="#ff0000"/>
<circle cx="151.97" cy="458.47" r="1.2" fill="#ff0000"/>
<circle cx="114.6" cy="471.61" r="1.2" fill="#0072bd"/>
<circle cx="114.6" cy="478.91" r="1.2" fill="#0072bd"/>
<circle cx="114.6" cy="483.28" r="1.2" fill="#0072bd"/>
<circle cx="124.82" cy="446.79" r="1.2" fill="#0072bd"/>
<circle cx="132.12" cy="442.41" r="1.2" fill="#0072bd"/>
<circle cx="263.5" cy="367.96" r="1.2" fill="#0072bd"/>
<circle cx="167.15" cy="477.45" r="1.2" fill="#0072bd"/>
<text x="81.5" y="356.5" font-size="12.7" font-weight="bold" fill="#000">R<tspan font-size="8.8" dy="-4.7">2</tspan><tspan dy="4.7">=0.75</tspan></text>
<text id="t7" x="65.9" y="536" font-size="12.6" font-weight="bold" fill="#262626" text-anchor="start">ln(EDA<tspan font-size="10" dy="5.6">H</tspan><tspan dy="-5.6">)</tspan></text>
<text id="t8" x="234.3" y="535.2" font-size="13" font-weight="bold" fill="#262626" text-anchor="start">ln(SD<tspan font-size="10" dy="5.6">D5-95</tspan><tspan dy="-5.6">)</tspan></text>
<text id="t9" transform="translate(23.5,448.1) rotate(-90)" font-size="12.5" font-weight="bold" fill="#ff0000" text-anchor="start">ln(E<tspan font-size="9.8" dy="5.5">h column</tspan><tspan dy="-5.5">)</tspan></text>
<text x="172.3" y="573.5" style="font-family:&quot;Liberation Serif&quot;, serif" font-size="15.8" fill="#000" text-anchor="middle">(c)</text>
<line x1="416.8" y1="478.13" x2="543.5" y2="451.13" stroke="#fdeaea" stroke-width="0.7"/>
<line x1="543.5" y1="451.13" x2="662.4" y2="479.73" stroke="#fdeaea" stroke-width="0.7"/>
<line x1="416.8" y1="468.46" x2="543.5" y2="441.46" stroke="#fdeaea" stroke-width="0.7"/>
<line x1="543.5" y1="441.46" x2="662.4" y2="470.06" stroke="#fdeaea" stroke-width="0.7"/>
<line x1="416.8" y1="458.79" x2="543.5" y2="431.79" stroke="#fdeaea" stroke-width="0.7"/>
<line x1="543.5" y1="431.79" x2="662.4" y2="460.39" stroke="#fdeaea" stroke-width="0.7"/>
<line x1="416.8" y1="449.12" x2="543.5" y2="422.12" stroke="#fdeaea" stroke-width="0.7"/>
<line x1="543.5" y1="422.12" x2="662.4" y2="450.72" stroke="#fdeaea" stroke-width="0.7"/>
<line x1="416.8" y1="439.45" x2="543.5" y2="412.45" stroke="#fdeaea" stroke-width="0.7"/>
<line x1="543.5" y1="412.45" x2="662.4" y2="441.05" stroke="#fdeaea" stroke-width="0.7"/>
<line x1="416.8" y1="429.78" x2="543.5" y2="402.78" stroke="#fdeaea" stroke-width="0.7"/>
<line x1="543.5" y1="402.78" x2="662.4" y2="431.38" stroke="#fdeaea" stroke-width="0.7"/>
<line x1="416.8" y1="420.11" x2="543.5" y2="393.11" stroke="#fdeaea" stroke-width="0.7"/>
<line x1="543.5" y1="393.11" x2="662.4" y2="421.71" stroke="#fdeaea" stroke-width="0.7"/>
<line x1="416.8" y1="410.44" x2="543.5" y2="383.44" stroke="#fdeaea" stroke-width="0.7"/>
<line x1="543.5" y1="383.44" x2="662.4" y2="412.04" stroke="#fdeaea" stroke-width="0.7"/>
<line x1="416.8" y1="400.77" x2="543.5" y2="373.77" stroke="#fdeaea" stroke-width="0.7"/>
<line x1="543.5" y1="373.77" x2="662.4" y2="402.37" stroke="#fdeaea" stroke-width="0.7"/>
<line x1="416.8" y1="391.1" x2="543.5" y2="364.1" stroke="#fdeaea" stroke-width="0.7"/>
<line x1="543.5" y1="364.1" x2="662.4" y2="392.7" stroke="#fdeaea" stroke-width="0.7"/>
<line x1="416.8" y1="381.43" x2="543.5" y2="354.43" stroke="#fdeaea" stroke-width="0.7"/>
<line x1="543.5" y1="354.43" x2="662.4" y2="383.03" stroke="#fdeaea" stroke-width="0.7"/>
<line x1="416.8" y1="371.76" x2="543.5" y2="344.76" stroke="#fdeaea" stroke-width="0.7"/>
<line x1="543.5" y1="344.76" x2="662.4" y2="373.36" stroke="#fdeaea" stroke-width="0.7"/>
<line x1="416.8" y1="362.09" x2="543.5" y2="335.09" stroke="#fdeaea" stroke-width="0.7"/>
<line x1="543.5" y1="335.09" x2="662.4" y2="363.69" stroke="#fdeaea" stroke-width="0.7"/>
<line x1="416.8" y1="352.42" x2="543.5" y2="325.42" stroke="#fdeaea" stroke-width="0.7"/>
<line x1="543.5" y1="325.42" x2="662.4" y2="354.02" stroke="#fdeaea" stroke-width="0.7"/>
<line x1="416.8" y1="342.75" x2="543.5" y2="315.75" stroke="#fdeaea" stroke-width="0.7"/>
<line x1="543.5" y1="315.75" x2="662.4" y2="344.35" stroke="#fdeaea" stroke-width="0.7"/>
<line x1="421.23" y1="486.86" x2="421.23" y2="341.81" stroke="#e4e4e4" stroke-width="0.7"/>
<line x1="480.3" y1="474.27" x2="480.3" y2="329.22" stroke="#e4e4e4" stroke-width="0.7"/>
<line x1="539.37" y1="461.68" x2="539.37" y2="316.63" stroke="#e4e4e4" stroke-width="0.7"/>
<line x1="543.5" y1="460.8" x2="543.5" y2="315.75" stroke="#e4e4e4" stroke-width="0.7"/>
<line x1="573.22" y1="467.95" x2="573.22" y2="322.9" stroke="#e4e4e4" stroke-width="0.7"/>
<line x1="602.95" y1="475.1" x2="602.95" y2="330.05" stroke="#e4e4e4" stroke-width="0.7"/>
<line x1="632.67" y1="482.25" x2="632.67" y2="337.2" stroke="#e4e4e4" stroke-width="0.7"/>
<line x1="662.4" y1="489.4" x2="662.4" y2="344.35" stroke="#e4e4e4" stroke-width="0.7"/>
<line x1="416.8" y1="487.8" x2="543.5" y2="460.8" stroke="#e4e4e4" stroke-width="0.7"/>
<line x1="446.53" y1="494.95" x2="573.22" y2="467.95" stroke="#e4e4e4" stroke-width="0.7"/>
<line x1="476.25" y1="502.1" x2="602.95" y2="475.1" stroke="#e4e4e4" stroke-width="0.7"/>
<line x1="505.98" y1="509.25" x2="632.67" y2="482.25" stroke="#e4e4e4" stroke-width="0.7"/>
<line x1="535.7" y1="516.4" x2="662.4" y2="489.4" stroke="#e4e4e4" stroke-width="0.7"/>
<line x1="421.23" y1="486.86" x2="540.13" y2="515.46" stroke="#e4e4e4" stroke-width="0.7"/>
<line x1="480.3" y1="474.27" x2="599.2" y2="502.87" stroke="#e4e4e4" stroke-width="0.7"/>
<line x1="539.37" y1="461.68" x2="658.27" y2="490.28" stroke="#e4e4e4" stroke-width="0.7"/>
<line x1="416.8" y1="487.8" x2="535.7" y2="516.4" stroke="#505050" stroke-width="0.8"/>
<line x1="535.7" y1="516.4" x2="662.4" y2="489.4" stroke="#505050" stroke-width="0.8"/>
<line x1="416.8" y1="487.8" x2="416.8" y2="342.75" stroke="#ff8080" stroke-width="0.9"/>
<line x1="416.8" y1="487.8" x2="413.3" y2="487.8" stroke="#ff6a6a" stroke-width="0.9"/>
<line x1="416.8" y1="478.13" x2="414.8" y2="478.13" stroke="#ff6a6a" stroke-width="0.9"/>
<line x1="416.8" y1="468.46" x2="414.8" y2="468.46" stroke="#ff6a6a" stroke-width="0.9"/>
<line x1="416.8" y1="458.79" x2="414.8" y2="458.79" stroke="#ff6a6a" stroke-width="0.9"/>
<line x1="416.8" y1="449.12" x2="414.8" y2="449.12" stroke="#ff6a6a" stroke-width="0.9"/>
<line x1="416.8" y1="439.45" x2="413.3" y2="439.45" stroke="#ff6a6a" stroke-width="0.9"/>
<line x1="416.8" y1="429.78" x2="414.8" y2="429.78" stroke="#ff6a6a" stroke-width="0.9"/>
<line x1="416.8" y1="420.11" x2="414.8" y2="420.11" stroke="#ff6a6a" stroke-width="0.9"/>
<line x1="416.8" y1="410.44" x2="414.8" y2="410.44" stroke="#ff6a6a" stroke-width="0.9"/>
<line x1="416.8" y1="400.77" x2="414.8" y2="400.77" stroke="#ff6a6a" stroke-width="0.9"/>
<line x1="416.8" y1="391.1" x2="413.3" y2="391.1" stroke="#ff6a6a" stroke-width="0.9"/>
<line x1="416.8" y1="381.43" x2="414.8" y2="381.43" stroke="#ff6a6a" stroke-width="0.9"/>
<line x1="416.8" y1="371.76" x2="414.8" y2="371.76" stroke="#ff6a6a" stroke-width="0.9"/>
<line x1="416.8" y1="362.09" x2="414.8" y2="362.09" stroke="#ff6a6a" stroke-width="0.9"/>
<line x1="416.8" y1="352.42" x2="414.8" y2="352.42" stroke="#ff6a6a" stroke-width="0.9"/>
<line x1="416.8" y1="342.75" x2="413.3" y2="342.75" stroke="#ff6a6a" stroke-width="0.9"/>
<text x="410.5" y="491.76" fill="#ff0000" font-size="11" font-weight="bold" text-anchor="end">-15</text>
<text x="410.5" y="443.41" fill="#ff0000" font-size="11" font-weight="bold" text-anchor="end">-10</text>
<text x="410.5" y="395.06" fill="#ff0000" font-size="11" font-weight="bold" text-anchor="end">-5</text>
<text x="410.5" y="346.71" fill="#ff0000" font-size="11" font-weight="bold" text-anchor="end">0</text>
<text x="405" y="500.16" fill="#262626" font-size="11" font-weight="bold" text-anchor="middle">-2</text>
<text x="436.5" y="507.56" fill="#262626" font-size="11" font-weight="bold" text-anchor="middle">0</text>
<text x="466.7" y="514.56" fill="#262626" font-size="11" font-weight="bold" text-anchor="middle">2</text>
<text x="497.4" y="521.66" fill="#262626" font-size="11" font-weight="bold" text-anchor="middle">4</text>
<text x="527.9" y="528.56" fill="#262626" font-size="11" font-weight="bold" text-anchor="middle">6</text>
<text x="550.1" y="527.56" fill="#262626" font-size="11" font-weight="bold" text-anchor="middle">2</text>
<text x="609.2" y="515.06" fill="#262626" font-size="11" font-weight="bold" text-anchor="middle">4</text>
<text x="668.2" y="501.56" fill="#262626" font-size="11" font-weight="bold" text-anchor="middle">6</text>
<circle cx="493.86" cy="445.26" r="1.3" fill="#0072bd"/>
<circle cx="493.86" cy="447.66" r="1.3" fill="#0072bd"/>
<circle cx="497.99" cy="430.19" r="1.3" fill="#0072bd"/>
<circle cx="506.59" cy="438.43" r="1.3" fill="#0072bd"/>
<circle cx="506.59" cy="440.83" r="1.3" fill="#0072bd"/>
<circle cx="498.55" cy="436.09" r="1.3" fill="#0072bd"/>
<circle cx="498.55" cy="438.49" r="1.3" fill="#0072bd"/>
<circle cx="508.8" cy="448.81" r="1.3" fill="#ff0000"/>
<circle cx="524.53" cy="416.09" r="1.3" fill="#ff0000"/>
<circle cx="496.09" cy="446.79" r="1.3" fill="#0072bd"/>
<circle cx="517.35" cy="442.48" r="1.3" fill="#0072bd"/>
<circle cx="517.35" cy="444.88" r="1.3" fill="#0072bd"/>
<circle cx="534.42" cy="442.26" r="1.3" fill="#ff0000"/>
<circle cx="523.93" cy="419.58" r="1.3" fill="#ff0000"/>
<circle cx="523.93" cy="421.98" r="1.3" fill="#ff0000"/>
<circle cx="541.9" cy="415.34" r="1.3" fill="#0072bd"/>
<circle cx="541.9" cy="417.74" r="1.3" fill="#0072bd"/>
<circle cx="540.36" cy="424.12" r="1.3" fill="#0072bd"/>
<circle cx="540.36" cy="426.52" r="1.3" fill="#0072bd"/>
<circle cx="545.83" cy="430.9" r="1.3" fill="#ff0000"/>
<circle cx="499.17" cy="453.68" r="1.3" fill="#0072bd"/>
<circle cx="499.17" cy="456.08" r="1.3" fill="#0072bd"/>
<circle cx="517.51" cy="431.19" r="1.3" fill="#0072bd"/>
<circle cx="511.06" cy="426.22" r="1.3" fill="#0072bd"/>
<circle cx="511.06" cy="428.62" r="1.3" fill="#0072bd"/>
<circle cx="520.86" cy="438.08" r="1.3" fill="#0072bd"/>
<circle cx="520.86" cy="440.48" r="1.3" fill="#0072bd"/>
<circle cx="509.88" cy="468.38" r="1.3" fill="#0072bd"/>
<circle cx="486.84" cy="445.95" r="1.3" fill="#0072bd"/>
<circle cx="486.84" cy="448.35" r="1.3" fill="#0072bd"/>
<circle cx="512.96" cy="409.68" r="1.3" fill="#0072bd"/>
<circle cx="512.96" cy="412.08" r="1.3" fill="#0072bd"/>
<circle cx="511.81" cy="447.86" r="1.3" fill="#0072bd"/>
<circle cx="511.81" cy="450.26" r="1.3" fill="#0072bd"/>
<circle cx="521.69" cy="452.61" r="1.3" fill="#ff0000"/>
<circle cx="521.69" cy="455.01" r="1.3" fill="#ff0000"/>
<circle cx="548.59" cy="411" r="1.3" fill="#0072bd"/>
<circle cx="548.59" cy="413.4" r="1.3" fill="#0072bd"/>
<circle cx="503.19" cy="440.13" r="1.3" fill="#ff0000"/>
<circle cx="503.19" cy="442.53" r="1.3" fill="#ff0000"/>
<circle cx="503.63" cy="448.81" r="1.3" fill="#0072bd"/>
<circle cx="503.63" cy="451.21" r="1.3" fill="#0072bd"/>
<circle cx="539.58" cy="452.01" r="1.3" fill="#0072bd"/>
<circle cx="539.58" cy="454.41" r="1.3" fill="#0072bd"/>
<circle cx="533.4" cy="417.23" r="1.3" fill="#0072bd"/>
<circle cx="543.37" cy="435.67" r="1.3" fill="#0072bd"/>
<circle cx="502.25" cy="421.12" r="1.3" fill="#0072bd"/>
<circle cx="519.14" cy="459.12" r="1.3" fill="#0072bd"/>
<circle cx="511.1" cy="454.88" r="1.3" fill="#0072bd"/>
<circle cx="511.1" cy="457.28" r="1.3" fill="#0072bd"/>
<circle cx="493.47" cy="445.09" r="1.3" fill="#0072bd"/>
<circle cx="498.11" cy="447.74" r="1.3" fill="#0072bd"/>
<circle cx="498.11" cy="450.14" r="1.3" fill="#0072bd"/>
<circle cx="545.98" cy="436.14" r="1.3" fill="#0072bd"/>
<circle cx="545.98" cy="438.54" r="1.3" fill="#0072bd"/>
<circle cx="519.47" cy="443.05" r="1.3" fill="#ff0000"/>
<circle cx="501.72" cy="453.31" r="1.3" fill="#0072bd"/>
<circle cx="501.72" cy="455.71" r="1.3" fill="#0072bd"/>
<circle cx="528.04" cy="424.92" r="1.3" fill="#0072bd"/>
<circle cx="520.81" cy="425.52" r="1.3" fill="#ff0000"/>
<circle cx="520.81" cy="427.92" r="1.3" fill="#ff0000"/>
<circle cx="493.59" cy="420.78" r="1.3" fill="#0072bd"/>
<circle cx="493.59" cy="423.18" r="1.3" fill="#0072bd"/>
<circle cx="535.57" cy="433.36" r="1.3" fill="#0072bd"/>
<circle cx="499.61" cy="457.05" r="1.3" fill="#0072bd"/>
<circle cx="538.22" cy="415.69" r="1.3" fill="#0072bd"/>
<circle cx="538.22" cy="418.09" r="1.3" fill="#0072bd"/>
<circle cx="539.36" cy="423.01" r="1.3" fill="#0072bd"/>
<circle cx="492.59" cy="458.34" r="1.3" fill="#0072bd"/>
<circle cx="516.56" cy="427.27" r="1.3" fill="#0072bd"/>
<circle cx="516.56" cy="429.67" r="1.3" fill="#0072bd"/>
<circle cx="532.32" cy="427.42" r="1.3" fill="#0072bd"/>
<circle cx="532.32" cy="429.82" r="1.3" fill="#0072bd"/>
<circle cx="554.96" cy="420.32" r="1.3" fill="#0072bd"/>
<circle cx="561.21" cy="452.76" r="1.3" fill="#0072bd"/>
<circle cx="561.21" cy="455.16" r="1.3" fill="#0072bd"/>
<circle cx="512.88" cy="443.23" r="1.3" fill="#ff0000"/>
<circle cx="540.67" cy="423.44" r="1.3" fill="#0072bd"/>
<circle cx="526.16" cy="440.14" r="1.3" fill="#0072bd"/>
<circle cx="526.16" cy="442.54" r="1.3" fill="#0072bd"/>
<circle cx="512.31" cy="428.26" r="1.3" fill="#0072bd"/>
<circle cx="510.29" cy="427.04" r="1.3" fill="#0072bd"/>
<circle cx="510.29" cy="429.44" r="1.3" fill="#0072bd"/>
<circle cx="477.93" cy="428.35" r="1.3" fill="#0072bd"/>
<circle cx="511.49" cy="434.38" r="1.3" fill="#0072bd"/>
<circle cx="511.49" cy="436.78" r="1.3" fill="#0072bd"/>
<circle cx="505.44" cy="443.6" r="1.3" fill="#0072bd"/>
<circle cx="505.44" cy="446" r="1.3" fill="#0072bd"/>
<circle cx="500.05" cy="458.78" r="1.3" fill="#ff0000"/>
<circle cx="528.12" cy="419.14" r="1.3" fill="#0072bd"/>
<circle cx="518.1" cy="440.77" r="1.3" fill="#0072bd"/>
<circle cx="510.42" cy="463.25" r="1.3" fill="#0072bd"/>
<circle cx="509" cy="430.44" r="1.3" fill="#0072bd"/>
<circle cx="509" cy="432.84" r="1.3" fill="#0072bd"/>
<circle cx="517.55" cy="428.64" r="1.3" fill="#0072bd"/>
<circle cx="517.55" cy="431.04" r="1.3" fill="#0072bd"/>
<circle cx="498.72" cy="443.56" r="1.3" fill="#0072bd"/>
<circle cx="498.72" cy="445.96" r="1.3" fill="#0072bd"/>
<circle cx="545.19" cy="416.8" r="1.3" fill="#0072bd"/>
<circle cx="545.19" cy="419.2" r="1.3" fill="#0072bd"/>
<circle cx="520.19" cy="429.88" r="1.3" fill="#0072bd"/>
<circle cx="520.19" cy="432.28" r="1.3" fill="#0072bd"/>
<circle cx="545.07" cy="408.3" r="1.3" fill="#ff0000"/>
<circle cx="488.84" cy="448.81" r="1.3" fill="#ff0000"/>
<circle cx="547.4" cy="420.71" r="1.3" fill="#0072bd"/>
<circle cx="547.4" cy="423.11" r="1.3" fill="#0072bd"/>
<circle cx="515.84" cy="428.88" r="1.3" fill="#0072bd"/>
<circle cx="521.88" cy="427.68" r="1.3" fill="#0072bd"/>
<circle cx="552.67" cy="415.86" r="1.3" fill="#0072bd"/>
<circle cx="500.85" cy="447.95" r="1.3" fill="#ff0000"/>
<circle cx="499.12" cy="453.52" r="1.3" fill="#0072bd"/>
<circle cx="493.33" cy="443.51" r="1.3" fill="#0072bd"/>
<circle cx="493.33" cy="445.91" r="1.3" fill="#0072bd"/>
<circle cx="539.08" cy="426.06" r="1.3" fill="#0072bd"/>
<circle cx="502.69" cy="440.69" r="1.3" fill="#0072bd"/>
<circle cx="502.69" cy="443.09" r="1.3" fill="#0072bd"/>
<circle cx="524.06" cy="434.15" r="1.3" fill="#0072bd"/>
<circle cx="524.06" cy="436.55" r="1.3" fill="#0072bd"/>
<circle cx="539.35" cy="412.55" r="1.3" fill="#0072bd"/>
<circle cx="494.52" cy="450.37" r="1.3" fill="#0072bd"/>
<circle cx="494.52" cy="452.77" r="1.3" fill="#0072bd"/>
<circle cx="544.85" cy="416.59" r="1.3" fill="#ff0000"/>
<circle cx="518.1" cy="433.69" r="1.3" fill="#0072bd"/>
<circle cx="513.95" cy="442.84" r="1.3" fill="#0072bd"/>
<circle cx="513.95" cy="445.24" r="1.3" fill="#0072bd"/>
<circle cx="492.4" cy="417.58" r="1.3" fill="#0072bd"/>
<circle cx="496.21" cy="459.58" r="1.3" fill="#0072bd"/>
<circle cx="496.21" cy="461.98" r="1.3" fill="#0072bd"/>
<circle cx="490.38" cy="445.79" r="1.3" fill="#ff0000"/>
<circle cx="542.62" cy="430.55" r="1.3" fill="#0072bd"/>
<circle cx="523.1" cy="449.37" r="1.3" fill="#0072bd"/>
<circle cx="523.1" cy="451.77" r="1.3" fill="#0072bd"/>
<circle cx="555.44" cy="447.15" r="1.3" fill="#0072bd"/>
<circle cx="537.51" cy="433.67" r="1.3" fill="#0072bd"/>
<circle cx="533.06" cy="426.41" r="1.3" fill="#0072bd"/>
<circle cx="533.06" cy="428.81" r="1.3" fill="#0072bd"/>
<circle cx="515.39" cy="455.1" r="1.3" fill="#ff0000"/>
<circle cx="515.39" cy="457.5" r="1.3" fill="#ff0000"/>
<circle cx="542.69" cy="453.1" r="1.3" fill="#0072bd"/>
<circle cx="542.69" cy="455.5" r="1.3" fill="#0072bd"/>
<circle cx="505.74" cy="444.45" r="1.3" fill="#0072bd"/>
<circle cx="510.14" cy="443.69" r="1.3" fill="#0072bd"/>
<circle cx="507.52" cy="452.6" r="1.3" fill="#0072bd"/>
<circle cx="488.71" cy="451.71" r="1.3" fill="#0072bd"/>
<circle cx="488.71" cy="454.11" r="1.3" fill="#0072bd"/>
<circle cx="527.5" cy="445.76" r="1.3" fill="#0072bd"/>
<circle cx="527.5" cy="448.16" r="1.3" fill="#0072bd"/>
<circle cx="544.21" cy="417.87" r="1.3" fill="#0072bd"/>
<circle cx="543.72" cy="453.83" r="1.3" fill="#0072bd"/>
<circle cx="546.21" cy="417.69" r="1.3" fill="#0072bd"/>
<circle cx="546.21" cy="420.09" r="1.3" fill="#0072bd"/>
<circle cx="545.36" cy="456.99" r="1.3" fill="#0072bd"/>
<circle cx="545.36" cy="459.39" r="1.3" fill="#0072bd"/>
<circle cx="510.78" cy="447.76" r="1.3" fill="#0072bd"/>
<circle cx="546.02" cy="433.8" r="1.3" fill="#0072bd"/>
<circle cx="518.07" cy="438.45" r="1.3" fill="#0072bd"/>
<circle cx="510" cy="431.87" r="1.3" fill="#0072bd"/>
<circle cx="511.62" cy="449.84" r="1.3" fill="#0072bd"/>
<circle cx="538.24" cy="425.1" r="1.3" fill="#0072bd"/>
<circle cx="543.18" cy="408.14" r="1.3" fill="#0072bd"/>
<circle cx="516.61" cy="447.76" r="1.3" fill="#0072bd"/>
<circle cx="516.61" cy="450.16" r="1.3" fill="#0072bd"/>
<circle cx="507.95" cy="431.47" r="1.3" fill="#ff0000"/>
<circle cx="498.94" cy="426.77" r="1.3" fill="#0072bd"/>
<circle cx="532.36" cy="430.15" r="1.3" fill="#0072bd"/>
<circle cx="481.94" cy="431.87" r="1.3" fill="#0072bd"/>
<circle cx="551.9" cy="434.16" r="1.3" fill="#ff0000"/>
<circle cx="551.9" cy="436.56" r="1.3" fill="#ff0000"/>
<circle cx="509.93" cy="445.33" r="1.3" fill="#0072bd"/>
<circle cx="501.95" cy="444.78" r="1.3" fill="#0072bd"/>
<circle cx="501.95" cy="447.18" r="1.3" fill="#0072bd"/>
<circle cx="495.78" cy="451.91" r="1.3" fill="#0072bd"/>
<circle cx="495.78" cy="454.31" r="1.3" fill="#0072bd"/>
<circle cx="545.93" cy="421.72" r="1.3" fill="#0072bd"/>
<circle cx="533.24" cy="410.46" r="1.3" fill="#ff0000"/>
<circle cx="483.54" cy="439.78" r="1.3" fill="#0072bd"/>
<circle cx="483.54" cy="442.18" r="1.3" fill="#0072bd"/>
<circle cx="488.39" cy="437.32" r="1.3" fill="#ff0000"/>
<circle cx="499.4" cy="455.76" r="1.3" fill="#0072bd"/>
<circle cx="499.4" cy="458.16" r="1.3" fill="#0072bd"/>
<circle cx="540.83" cy="435.7" r="1.3" fill="#0072bd"/>
<circle cx="540.83" cy="438.1" r="1.3" fill="#0072bd"/>
<circle cx="542.78" cy="403.7" r="1.3" fill="#0072bd"/>
<circle cx="522.24" cy="449.52" r="1.3" fill="#0072bd"/>
<circle cx="533.94" cy="414.79" r="1.3" fill="#0072bd"/>
<circle cx="533.94" cy="417.19" r="1.3" fill="#0072bd"/>
<circle cx="528.26" cy="450.82" r="1.3" fill="#0072bd"/>
<circle cx="528.26" cy="453.22" r="1.3" fill="#0072bd"/>
<circle cx="542.48" cy="428.74" r="1.3" fill="#0072bd"/>
<circle cx="542.48" cy="431.14" r="1.3" fill="#0072bd"/>
<circle cx="554.18" cy="430.02" r="1.3" fill="#0072bd"/>
<circle cx="554.18" cy="432.42" r="1.3" fill="#0072bd"/>
<circle cx="510.05" cy="436.53" r="1.3" fill="#0072bd"/>
<circle cx="554.27" cy="419.51" r="1.3" fill="#ff0000"/>
<circle cx="554.27" cy="421.91" r="1.3" fill="#ff0000"/>
<circle cx="538.09" cy="426.58" r="1.3" fill="#0072bd"/>
<circle cx="524.2" cy="424.38" r="1.3" fill="#ff0000"/>
<circle cx="524.2" cy="426.78" r="1.3" fill="#ff0000"/>
<circle cx="500.98" cy="455.74" r="1.3" fill="#0072bd"/>
<circle cx="516.51" cy="444.91" r="1.3" fill="#0072bd"/>
<circle cx="525.91" cy="423.98" r="1.3" fill="#0072bd"/>
<circle cx="554.61" cy="433.83" r="1.3" fill="#0072bd"/>
<circle cx="554.61" cy="436.23" r="1.3" fill="#0072bd"/>
<circle cx="548.71" cy="419.72" r="1.3" fill="#0072bd"/>
<circle cx="500.68" cy="456.94" r="1.3" fill="#0072bd"/>
<circle cx="491.47" cy="443.87" r="1.3" fill="#0072bd"/>
<circle cx="491.47" cy="446.27" r="1.3" fill="#0072bd"/>
<circle cx="582.72" cy="405.28" r="1.3" fill="#0072bd"/>
<circle cx="577.17" cy="413.02" r="1.3" fill="#ff0000"/>
<circle cx="577.17" cy="415.42" r="1.3" fill="#ff0000"/>
<circle cx="542.45" cy="418.89" r="1.3" fill="#0072bd"/>
<circle cx="569.6" cy="408.82" r="1.3" fill="#ff0000"/>
<circle cx="523.31" cy="413.95" r="1.3" fill="#ff0000"/>
<circle cx="587.15" cy="405.55" r="1.3" fill="#ff0000"/>
<circle cx="587.15" cy="407.95" r="1.3" fill="#ff0000"/>
<circle cx="572.5" cy="415.24" r="1.3" fill="#0072bd"/>
<circle cx="540.68" cy="435.08" r="1.3" fill="#ff0000"/>
<circle cx="584.58" cy="409.06" r="1.3" fill="#0072bd"/>
<circle cx="584.58" cy="411.46" r="1.3" fill="#0072bd"/>
<circle cx="560.77" cy="434.68" r="1.3" fill="#0072bd"/>
<circle cx="560.77" cy="437.08" r="1.3" fill="#0072bd"/>
<circle cx="558.86" cy="410.46" r="1.3" fill="#ff0000"/>
<circle cx="558.86" cy="412.86" r="1.3" fill="#ff0000"/>
<circle cx="552.62" cy="420.92" r="1.3" fill="#ff0000"/>
<circle cx="586.9" cy="423.12" r="1.3" fill="#ff0000"/>
<circle cx="540.32" cy="404.95" r="1.3" fill="#0072bd"/>
<circle cx="562.89" cy="387.72" r="1.3" fill="#0072bd"/>
<circle cx="546.01" cy="443.11" r="1.3" fill="#0072bd"/>
<circle cx="546.01" cy="445.51" r="1.3" fill="#0072bd"/>
<circle cx="546.71" cy="409.12" r="1.3" fill="#0072bd"/>
<circle cx="546.71" cy="411.52" r="1.3" fill="#0072bd"/>
<circle cx="591.8" cy="412.43" r="1.3" fill="#ff0000"/>
<circle cx="537.69" cy="435.23" r="1.3" fill="#0072bd"/>
<circle cx="537.69" cy="437.63" r="1.3" fill="#0072bd"/>
<circle cx="574.98" cy="413.92" r="1.3" fill="#0072bd"/>
<circle cx="589.84" cy="421.53" r="1.3" fill="#ff0000"/>
<circle cx="589.84" cy="423.93" r="1.3" fill="#ff0000"/>
<circle cx="550.21" cy="442.08" r="1.3" fill="#0072bd"/>
<circle cx="571.96" cy="412.93" r="1.3" fill="#ff0000"/>
<circle cx="568.88" cy="425.91" r="1.3" fill="#0072bd"/>
<circle cx="568.88" cy="428.31" r="1.3" fill="#0072bd"/>
<circle cx="536.98" cy="436.14" r="1.3" fill="#0072bd"/>
<circle cx="536.98" cy="438.54" r="1.3" fill="#0072bd"/>
<circle cx="559.4" cy="421.79" r="1.3" fill="#ff0000"/>
<circle cx="559.4" cy="424.19" r="1.3" fill="#ff0000"/>
<circle cx="537.96" cy="398.7" r="1.3" fill="#0072bd"/>
<circle cx="537.96" cy="401.1" r="1.3" fill="#0072bd"/>
<circle cx="545.89" cy="425.41" r="1.3" fill="#ff0000"/>
<circle cx="545.89" cy="427.81" r="1.3" fill="#ff0000"/>
<circle cx="562.55" cy="419.83" r="1.3" fill="#ff0000"/>
<circle cx="562.55" cy="422.23" r="1.3" fill="#ff0000"/>
<circle cx="562.25" cy="413.97" r="1.3" fill="#ff0000"/>
<circle cx="562.25" cy="416.37" r="1.3" fill="#ff0000"/>
<circle cx="571.98" cy="433.98" r="1.3" fill="#0072bd"/>
<circle cx="591.48" cy="401.9" r="1.3" fill="#0072bd"/>
<circle cx="545.41" cy="435.95" r="1.3" fill="#0072bd"/>
<circle cx="537.1" cy="434.79" r="1.3" fill="#0072bd"/>
<circle cx="537.1" cy="437.19" r="1.3" fill="#0072bd"/>
<circle cx="589.79" cy="406.75" r="1.3" fill="#ff0000"/>
<circle cx="589.79" cy="409.15" r="1.3" fill="#ff0000"/>
<circle cx="519.43" cy="416.21" r="1.3" fill="#ff0000"/>
<circle cx="519.43" cy="418.61" r="1.3" fill="#ff0000"/>
<circle cx="551.82" cy="459.67" r="1.3" fill="#0072bd"/>
<circle cx="551.82" cy="462.07" r="1.3" fill="#0072bd"/>
<circle cx="542.17" cy="440.57" r="1.3" fill="#ff0000"/>
<circle cx="542.17" cy="442.97" r="1.3" fill="#ff0000"/>
<circle cx="586.41" cy="423.38" r="1.3" fill="#ff0000"/>
<circle cx="576.57" cy="396.15" r="1.3" fill="#ff0000"/>
<circle cx="518.21" cy="417.01" r="1.3" fill="#ff0000"/>
<circle cx="518.21" cy="419.41" r="1.3" fill="#ff0000"/>
<circle cx="587.65" cy="398.82" r="1.3" fill="#0072bd"/>
<circle cx="587.65" cy="401.22" r="1.3" fill="#0072bd"/>
<circle cx="576.94" cy="416.04" r="1.3" fill="#0072bd"/>
<circle cx="561.06" cy="431.32" r="1.3" fill="#0072bd"/>
<circle cx="561.06" cy="433.72" r="1.3" fill="#0072bd"/>
<circle cx="532.65" cy="435.02" r="1.3" fill="#0072bd"/>
<circle cx="532.65" cy="437.42" r="1.3" fill="#0072bd"/>
<circle cx="590.9" cy="405.73" r="1.3" fill="#0072bd"/>
<circle cx="590.9" cy="408.13" r="1.3" fill="#0072bd"/>
<circle cx="591" cy="409.09" r="1.3" fill="#0072bd"/>
<circle cx="591" cy="411.49" r="1.3" fill="#0072bd"/>
<circle cx="534.77" cy="429.02" r="1.3" fill="#ff0000"/>
<circle cx="541.57" cy="428.34" r="1.3" fill="#ff0000"/>
<circle cx="543.04" cy="433.01" r="1.3" fill="#ff0000"/>
<circle cx="543.04" cy="435.41" r="1.3" fill="#ff0000"/>
<circle cx="579.76" cy="424.78" r="1.3" fill="#0072bd"/>
<circle cx="579.76" cy="427.18" r="1.3" fill="#0072bd"/>
<circle cx="562.53" cy="429.57" r="1.3" fill="#0072bd"/>
<circle cx="564.37" cy="456.28" r="1.3" fill="#ff0000"/>
<circle cx="518.37" cy="413.43" r="1.3" fill="#0072bd"/>
<circle cx="518.37" cy="415.83" r="1.3" fill="#0072bd"/>
<circle cx="593.42" cy="407.1" r="1.3" fill="#ff0000"/>
<circle cx="576.66" cy="408.66" r="1.3" fill="#ff0000"/>
<circle cx="576.66" cy="411.06" r="1.3" fill="#ff0000"/>
<circle cx="552.53" cy="445.82" r="1.3" fill="#0072bd"/>
<circle cx="552.53" cy="448.22" r="1.3" fill="#0072bd"/>
<circle cx="554.79" cy="437.55" r="1.3" fill="#ff0000"/>
<circle cx="544.35" cy="418.1" r="1.3" fill="#0072bd"/>
<circle cx="572.03" cy="403.18" r="1.3" fill="#ff0000"/>
<circle cx="590.65" cy="427.75" r="1.3" fill="#ff0000"/>
<circle cx="590.65" cy="430.15" r="1.3" fill="#ff0000"/>
<circle cx="532.38" cy="444.16" r="1.3" fill="#0072bd"/>
<circle cx="532.38" cy="446.56" r="1.3" fill="#0072bd"/>
<circle cx="551.25" cy="408.07" r="1.3" fill="#0072bd"/>
<circle cx="523.26" cy="427.71" r="1.3" fill="#ff0000"/>
<circle cx="523.26" cy="430.11" r="1.3" fill="#ff0000"/>
<circle cx="584.73" cy="405.57" r="1.3" fill="#ff0000"/>
<circle cx="584.73" cy="407.97" r="1.3" fill="#ff0000"/>
<circle cx="568.83" cy="430.56" r="1.3" fill="#ff0000"/>
<circle cx="568.62" cy="420.56" r="1.3" fill="#ff0000"/>
<circle cx="537.69" cy="405.7" r="1.3" fill="#0072bd"/>
<circle cx="532.17" cy="414.69" r="1.3" fill="#0072bd"/>
<circle cx="532.17" cy="417.09" r="1.3" fill="#0072bd"/>
<circle cx="563.07" cy="412.46" r="1.3" fill="#0072bd"/>
<circle cx="547.62" cy="420.95" r="1.3" fill="#0072bd"/>
<circle cx="547.62" cy="423.35" r="1.3" fill="#0072bd"/>
<circle cx="582.69" cy="404.5" r="1.3" fill="#0072bd"/>
<circle cx="548.89" cy="416.39" r="1.3" fill="#ff0000"/>
<circle cx="544.77" cy="422.35" r="1.3" fill="#0072bd"/>
<circle cx="588.56" cy="399.33" r="1.3" fill="#0072bd"/>
<circle cx="588.56" cy="401.73" r="1.3" fill="#0072bd"/>
<circle cx="537.2" cy="426.26" r="1.3" fill="#ff0000"/>
<circle cx="566.73" cy="387.38" r="1.3" fill="#0072bd"/>
<circle cx="566.73" cy="389.78" r="1.3" fill="#0072bd"/>
<circle cx="574.59" cy="415.08" r="1.3" fill="#0072bd"/>
<circle cx="542.37" cy="418.71" r="1.3" fill="#ff0000"/>
<circle cx="542.37" cy="421.11" r="1.3" fill="#ff0000"/>
<circle cx="588.73" cy="401.76" r="1.3" fill="#0072bd"/>
<circle cx="568.19" cy="406.78" r="1.3" fill="#ff0000"/>
<circle cx="555.23" cy="404.75" r="1.3" fill="#ff0000"/>
<circle cx="555.23" cy="407.15" r="1.3" fill="#ff0000"/>
<circle cx="561.48" cy="409.74" r="1.3" fill="#ff0000"/>
<circle cx="586.43" cy="394.31" r="1.3" fill="#0072bd"/>
<circle cx="567.4" cy="398.91" r="1.3" fill="#0072bd"/>
<circle cx="538.09" cy="438.95" r="1.3" fill="#0072bd"/>
<circle cx="538.09" cy="441.35" r="1.3" fill="#0072bd"/>
<circle cx="534.22" cy="401.69" r="1.3" fill="#0072bd"/>
<circle cx="561.95" cy="401.53" r="1.3" fill="#0072bd"/>
<circle cx="561.95" cy="403.93" r="1.3" fill="#0072bd"/>
<circle cx="526" cy="426.54" r="1.3" fill="#0072bd"/>
<circle cx="587.16" cy="396.72" r="1.3" fill="#ff0000"/>
<circle cx="531.54" cy="407.93" r="1.3" fill="#0072bd"/>
<circle cx="531.54" cy="410.33" r="1.3" fill="#0072bd"/>
<circle cx="582.65" cy="401.46" r="1.3" fill="#ff0000"/>
<circle cx="591.19" cy="403.01" r="1.3" fill="#ff0000"/>
<circle cx="591.19" cy="405.41" r="1.3" fill="#ff0000"/>
<circle cx="546.3" cy="418.04" r="1.3" fill="#ff0000"/>
<circle cx="546.3" cy="420.44" r="1.3" fill="#ff0000"/>
<circle cx="560.01" cy="425.84" r="1.3" fill="#ff0000"/>
<circle cx="560.01" cy="428.24" r="1.3" fill="#ff0000"/>
<circle cx="526.64" cy="417.28" r="1.3" fill="#0072bd"/>
<circle cx="526.64" cy="419.68" r="1.3" fill="#0072bd"/>
<circle cx="565.08" cy="420.52" r="1.3" fill="#ff0000"/>
<circle cx="562.46" cy="433.85" r="1.3" fill="#0072bd"/>
<circle cx="562.46" cy="436.25" r="1.3" fill="#0072bd"/>
<circle cx="573.87" cy="417.42" r="1.3" fill="#ff0000"/>
<circle cx="573.87" cy="419.82" r="1.3" fill="#ff0000"/>
<circle cx="547.18" cy="420.69" r="1.3" fill="#0072bd"/>
<circle cx="547.18" cy="423.09" r="1.3" fill="#0072bd"/>
<circle cx="523.11" cy="421.46" r="1.3" fill="#ff0000"/>
<circle cx="550.49" cy="418.17" r="1.3" fill="#0072bd"/>
<circle cx="550.49" cy="420.57" r="1.3" fill="#0072bd"/>
<circle cx="561.81" cy="419.41" r="1.3" fill="#0072bd"/>
<circle cx="576.04" cy="411.92" r="1.3" fill="#0072bd"/>
<circle cx="542.4" cy="429.26" r="1.3" fill="#ff0000"/>
<circle cx="542.4" cy="431.66" r="1.3" fill="#ff0000"/>
<circle cx="562.12" cy="423.4" r="1.3" fill="#ff0000"/>
<circle cx="562.12" cy="425.8" r="1.3" fill="#ff0000"/>
<circle cx="578.95" cy="409.01" r="1.3" fill="#0072bd"/>
<circle cx="578.95" cy="411.41" r="1.3" fill="#0072bd"/>
<circle cx="562.69" cy="405.16" r="1.3" fill="#0072bd"/>
<circle cx="562.69" cy="407.56" r="1.3" fill="#0072bd"/>
<circle cx="569.56" cy="384.84" r="1.3" fill="#ff0000"/>
<circle cx="569.56" cy="387.24" r="1.3" fill="#ff0000"/>
<circle cx="567.13" cy="390.31" r="1.3" fill="#0072bd"/>
<circle cx="567.13" cy="392.71" r="1.3" fill="#0072bd"/>
<circle cx="557.51" cy="424.08" r="1.3" fill="#0072bd"/>
<circle cx="557.51" cy="426.48" r="1.3" fill="#0072bd"/>
<circle cx="554.83" cy="431.94" r="1.3" fill="#0072bd"/>
<circle cx="553.25" cy="404.99" r="1.3" fill="#0072bd"/>
<circle cx="583.16" cy="398.76" r="1.3" fill="#0072bd"/>
<circle cx="573.53" cy="390.63" r="1.3" fill="#ff0000"/>
<circle cx="562.78" cy="378.73" r="1.3" fill="#ff0000"/>
<circle cx="562.78" cy="381.13" r="1.3" fill="#ff0000"/>
<circle cx="557.01" cy="439.52" r="1.3" fill="#ff0000"/>
<circle cx="530.21" cy="428.19" r="1.3" fill="#0072bd"/>
<circle cx="588.24" cy="397.65" r="1.3" fill="#ff0000"/>
<circle cx="588.24" cy="400.05" r="1.3" fill="#ff0000"/>
<circle cx="560.86" cy="427.31" r="1.3" fill="#ff0000"/>
<circle cx="560.86" cy="429.71" r="1.3" fill="#ff0000"/>
<circle cx="522.48" cy="418.67" r="1.3" fill="#ff0000"/>
<circle cx="522.48" cy="421.07" r="1.3" fill="#ff0000"/>
<circle cx="581.13" cy="387.12" r="1.3" fill="#0072bd"/>
<circle cx="569.48" cy="425.59" r="1.3" fill="#0072bd"/>
<circle cx="548.03" cy="419.39" r="1.3" fill="#ff0000"/>
<circle cx="570.5" cy="406.42" r="1.3" fill="#ff0000"/>
<circle cx="567.32" cy="399.44" r="1.3" fill="#0072bd"/>
<circle cx="567.32" cy="401.84" r="1.3" fill="#0072bd"/>
<circle cx="519.07" cy="409.54" r="1.3" fill="#0072bd"/>
<circle cx="552.23" cy="417.16" r="1.3" fill="#0072bd"/>
<circle cx="540.99" cy="414.13" r="1.3" fill="#ff0000"/>
<circle cx="539.56" cy="424.27" r="1.3" fill="#0072bd"/>
<circle cx="544.69" cy="428.67" r="1.3" fill="#0072bd"/>
<circle cx="544.69" cy="431.07" r="1.3" fill="#0072bd"/>
<circle cx="582.41" cy="411.67" r="1.3" fill="#0072bd"/>
<circle cx="582.41" cy="414.07" r="1.3" fill="#0072bd"/>
<circle cx="581.82" cy="407.55" r="1.3" fill="#0072bd"/>
<circle cx="581.82" cy="409.95" r="1.3" fill="#0072bd"/>
<circle cx="542.19" cy="428.05" r="1.3" fill="#0072bd"/>
<circle cx="546.02" cy="402.63" r="1.3" fill="#ff0000"/>
<circle cx="525.86" cy="427.44" r="1.3" fill="#ff0000"/>
<circle cx="525.86" cy="429.84" r="1.3" fill="#ff0000"/>
<circle cx="538.78" cy="429.71" r="1.3" fill="#0072bd"/>
<circle cx="538.78" cy="432.11" r="1.3" fill="#0072bd"/>
<circle cx="526.51" cy="432.84" r="1.3" fill="#0072bd"/>
<circle cx="576.54" cy="395.49" r="1.3" fill="#0072bd"/>
<circle cx="576.54" cy="397.89" r="1.3" fill="#0072bd"/>
<circle cx="534.57" cy="417.29" r="1.3" fill="#0072bd"/>
<circle cx="585.74" cy="385.93" r="1.3" fill="#ff0000"/>
<circle cx="583.42" cy="409.49" r="1.3" fill="#ff0000"/>
<circle cx="620.11" cy="377.89" r="1.3" fill="#ff0000"/>
<circle cx="620.11" cy="380.29" r="1.3" fill="#ff0000"/>
<circle cx="591.51" cy="380.38" r="1.3" fill="#ff0000"/>
<circle cx="591.51" cy="382.78" r="1.3" fill="#ff0000"/>
<circle cx="617.12" cy="372.07" r="1.3" fill="#ff0000"/>
<circle cx="641.43" cy="395.78" r="1.3" fill="#ff0000"/>
<circle cx="631.64" cy="387.51" r="1.3" fill="#ff0000"/>
<circle cx="607.5" cy="382.97" r="1.3" fill="#ff0000"/>
<circle cx="592.35" cy="393.4" r="1.3" fill="#ff0000"/>
<circle cx="629.24" cy="375.61" r="1.3" fill="#ff0000"/>
<circle cx="611.12" cy="383.92" r="1.3" fill="#0072bd"/>
<circle cx="611.12" cy="386.32" r="1.3" fill="#0072bd"/>
<circle cx="574.31" cy="385.8" r="1.3" fill="#0072bd"/>
<circle cx="583.01" cy="397.83" r="1.3" fill="#ff0000"/>
<circle cx="583.01" cy="400.23" r="1.3" fill="#ff0000"/>
<circle cx="623.65" cy="392.5" r="1.3" fill="#ff0000"/>
<circle cx="579.29" cy="394.28" r="1.3" fill="#ff0000"/>
<circle cx="579.29" cy="396.68" r="1.3" fill="#ff0000"/>
<circle cx="592.4" cy="401.86" r="1.3" fill="#ff0000"/>
<circle cx="640.93" cy="391.02" r="1.3" fill="#ff0000"/>
<circle cx="640.93" cy="393.42" r="1.3" fill="#ff0000"/>
<circle cx="629.59" cy="399.85" r="1.3" fill="#ff0000"/>
<circle cx="606.83" cy="388.9" r="1.3" fill="#ff0000"/>
<circle cx="600.79" cy="395.29" r="1.3" fill="#ff0000"/>
<circle cx="600.79" cy="397.69" r="1.3" fill="#ff0000"/>
<circle cx="630.37" cy="397.08" r="1.3" fill="#ff0000"/>
<circle cx="602.62" cy="401.28" r="1.3" fill="#ff0000"/>
<circle cx="602.62" cy="403.68" r="1.3" fill="#ff0000"/>
<circle cx="593.34" cy="393.09" r="1.3" fill="#ff0000"/>
<circle cx="578.97" cy="396.97" r="1.3" fill="#ff0000"/>
<circle cx="627.75" cy="390.71" r="1.3" fill="#ff0000"/>
<circle cx="611.21" cy="389.77" r="1.3" fill="#ff0000"/>
<circle cx="611.21" cy="392.17" r="1.3" fill="#ff0000"/>
<circle cx="594.09" cy="412.87" r="1.3" fill="#ff0000"/>
<circle cx="594.09" cy="415.27" r="1.3" fill="#ff0000"/>
<circle cx="626.09" cy="388.17" r="1.3" fill="#ff0000"/>
<circle cx="626.09" cy="390.57" r="1.3" fill="#ff0000"/>
<circle cx="606.37" cy="398.03" r="1.3" fill="#ff0000"/>
<circle cx="606.37" cy="400.43" r="1.3" fill="#ff0000"/>
<circle cx="600.84" cy="402.14" r="1.3" fill="#ff0000"/>
<circle cx="591.73" cy="402.91" r="1.3" fill="#ff0000"/>
<circle cx="591.73" cy="405.31" r="1.3" fill="#ff0000"/>
<circle cx="590.12" cy="407.89" r="1.3" fill="#ff0000"/>
<circle cx="582.93" cy="393.12" r="1.3" fill="#ff0000"/>
<circle cx="582.93" cy="395.52" r="1.3" fill="#ff0000"/>
<circle cx="635.97" cy="373.42" r="1.3" fill="#ff0000"/>
<circle cx="620.58" cy="387.86" r="1.3" fill="#ff0000"/>
<circle cx="620.58" cy="390.26" r="1.3" fill="#ff0000"/>
<circle cx="579.61" cy="383.87" r="1.3" fill="#ff0000"/>
<circle cx="589.89" cy="390.54" r="1.3" fill="#ff0000"/>
<circle cx="589.89" cy="392.94" r="1.3" fill="#ff0000"/>
<circle cx="596.55" cy="391.28" r="1.3" fill="#ff0000"/>
<circle cx="596.55" cy="393.68" r="1.3" fill="#ff0000"/>
<circle cx="603.91" cy="400.22" r="1.3" fill="#ff0000"/>
<circle cx="584.23" cy="385.92" r="1.3" fill="#ff0000"/>
<circle cx="584.23" cy="388.32" r="1.3" fill="#ff0000"/>
<circle cx="617.05" cy="397.41" r="1.3" fill="#ff0000"/>
<circle cx="596.71" cy="408.95" r="1.3" fill="#ff0000"/>
<circle cx="592.23" cy="400.35" r="1.3" fill="#ff0000"/>
<circle cx="620.04" cy="372.68" r="1.3" fill="#ff0000"/>
<circle cx="620.04" cy="375.08" r="1.3" fill="#ff0000"/>
<circle cx="607.57" cy="377.85" r="1.3" fill="#ff0000"/>
<circle cx="637.54" cy="388.32" r="1.3" fill="#ff0000"/>
<circle cx="637.54" cy="390.72" r="1.3" fill="#ff0000"/>
<circle cx="587.51" cy="408.18" r="1.3" fill="#ff0000"/>
<circle cx="587.51" cy="410.58" r="1.3" fill="#ff0000"/>
<circle cx="605.26" cy="389.41" r="1.3" fill="#ff0000"/>
<circle cx="584.44" cy="378.38" r="1.3" fill="#ff0000"/>
<circle cx="595.83" cy="397.23" r="1.3" fill="#ff0000"/>
<circle cx="595.83" cy="399.63" r="1.3" fill="#ff0000"/>
<circle cx="588.23" cy="394.81" r="1.3" fill="#ff0000"/>
<circle cx="588.23" cy="397.21" r="1.3" fill="#ff0000"/>
<circle cx="626.34" cy="383.61" r="1.3" fill="#ff0000"/>
<circle cx="626.34" cy="386.01" r="1.3" fill="#ff0000"/>
<circle cx="630.61" cy="384.8" r="1.3" fill="#ff0000"/>
<circle cx="630.61" cy="387.2" r="1.3" fill="#ff0000"/>
<circle cx="597.5" cy="387.01" r="1.3" fill="#ff0000"/>
<circle cx="616.68" cy="388.65" r="1.3" fill="#ff0000"/>
<circle cx="637.03" cy="392.82" r="1.3" fill="#0072bd"/>
<circle cx="624.36" cy="379.06" r="1.3" fill="#0072bd"/>
<circle cx="623.04" cy="392.4" r="1.3" fill="#ff0000"/>
<circle cx="623.04" cy="394.8" r="1.3" fill="#ff0000"/>
<circle cx="622.02" cy="405.96" r="1.3" fill="#ff0000"/>
<circle cx="622.02" cy="408.36" r="1.3" fill="#ff0000"/>
<circle cx="587.26" cy="408.31" r="1.3" fill="#ff0000"/>
<circle cx="587.26" cy="410.71" r="1.3" fill="#ff0000"/>
<circle cx="587.08" cy="394.95" r="1.3" fill="#ff0000"/>
<circle cx="604.06" cy="397.36" r="1.3" fill="#ff0000"/>
<circle cx="604.06" cy="399.76" r="1.3" fill="#ff0000"/>
<circle cx="626.37" cy="398.67" r="1.3" fill="#ff0000"/>
<circle cx="599.96" cy="396.88" r="1.3" fill="#0072bd"/>
<circle cx="599.96" cy="399.28" r="1.3" fill="#0072bd"/>
<circle cx="624.55" cy="388.68" r="1.3" fill="#ff0000"/>
<circle cx="624.55" cy="391.08" r="1.3" fill="#ff0000"/>
<circle cx="607.98" cy="394.75" r="1.3" fill="#ff0000"/>
<circle cx="607.98" cy="397.15" r="1.3" fill="#ff0000"/>
<circle cx="588.22" cy="406.51" r="1.3" fill="#ff0000"/>
<circle cx="612.26" cy="369" r="1.3" fill="#0072bd"/>
<circle cx="613.1" cy="391.1" r="1.3" fill="#ff0000"/>
<circle cx="613.1" cy="393.5" r="1.3" fill="#ff0000"/>
<circle cx="598.9" cy="405.59" r="1.3" fill="#ff0000"/>
<circle cx="593.55" cy="401.28" r="1.3" fill="#ff0000"/>
<circle cx="602.24" cy="400.93" r="1.3" fill="#ff0000"/>
<circle cx="602.24" cy="403.33" r="1.3" fill="#ff0000"/>
<circle cx="604" cy="383.9" r="1.3" fill="#ff0000"/>
<circle cx="625.09" cy="376.31" r="1.3" fill="#0072bd"/>
<circle cx="630.83" cy="388.1" r="1.3" fill="#0072bd"/>
<circle cx="630.83" cy="390.5" r="1.3" fill="#0072bd"/>
<circle cx="602.33" cy="399.47" r="1.3" fill="#ff0000"/>
<circle cx="624.01" cy="394.67" r="1.3" fill="#ff0000"/>
<circle cx="624.01" cy="397.07" r="1.3" fill="#ff0000"/>
<circle cx="592.99" cy="400.7" r="1.3" fill="#ff0000"/>
<circle cx="595.31" cy="366.83" r="1.3" fill="#ff0000"/>
<circle cx="595.31" cy="369.23" r="1.3" fill="#ff0000"/>
<circle cx="625.55" cy="387.67" r="1.3" fill="#ff0000"/>
<circle cx="578.12" cy="372.16" r="1.3" fill="#ff0000"/>
<circle cx="634.67" cy="387.77" r="1.3" fill="#0072bd"/>
<circle cx="580.93" cy="399.29" r="1.3" fill="#ff0000"/>
<circle cx="580.93" cy="401.69" r="1.3" fill="#ff0000"/>
<circle cx="630.94" cy="372.03" r="1.3" fill="#ff0000"/>
<circle cx="630.94" cy="374.43" r="1.3" fill="#ff0000"/>
<circle cx="629.14" cy="392.84" r="1.3" fill="#0072bd"/>
<circle cx="604.71" cy="391.11" r="1.3" fill="#ff0000"/>
<circle cx="616.16" cy="403.5" r="1.3" fill="#ff0000"/>
<circle cx="616.16" cy="405.9" r="1.3" fill="#ff0000"/>
<circle cx="593.26" cy="410.54" r="1.3" fill="#ff0000"/>
<circle cx="636.04" cy="391.1" r="1.3" fill="#0072bd"/>
<circle cx="636.06" cy="398.93" r="1.3" fill="#0072bd"/>
<circle cx="623.54" cy="381.71" r="1.3" fill="#ff0000"/>
<circle cx="592.78" cy="398.27" r="1.3" fill="#ff0000"/>
<circle cx="592.78" cy="400.67" r="1.3" fill="#ff0000"/>
<circle cx="638.3" cy="388.75" r="1.3" fill="#ff0000"/>
<circle cx="638.3" cy="391.15" r="1.3" fill="#ff0000"/>
<circle cx="602.43" cy="393.28" r="1.3" fill="#0072bd"/>
<circle cx="633.62" cy="393.52" r="1.3" fill="#ff0000"/>
<circle cx="581.94" cy="407.62" r="1.3" fill="#ff0000"/>
<circle cx="605.88" cy="351.46" r="1.3" fill="#ff0000"/>
<circle cx="582.82" cy="377.78" r="1.3" fill="#ff0000"/>
<circle cx="612.55" cy="386.18" r="1.3" fill="#ff0000"/>
<circle cx="617.86" cy="390.82" r="1.3" fill="#ff0000"/>
<circle cx="617.86" cy="393.22" r="1.3" fill="#ff0000"/>
<circle cx="611.84" cy="386.1" r="1.3" fill="#ff0000"/>
<circle cx="611.84" cy="388.5" r="1.3" fill="#ff0000"/>
<circle cx="635.99" cy="375.13" r="1.3" fill="#0072bd"/>
<circle cx="577.25" cy="397.55" r="1.3" fill="#ff0000"/>
<circle cx="622.57" cy="389.82" r="1.3" fill="#ff0000"/>
<circle cx="622.57" cy="392.22" r="1.3" fill="#ff0000"/>
<circle cx="633.83" cy="397.83" r="1.3" fill="#ff0000"/>
<circle cx="609.39" cy="386.88" r="1.3" fill="#0072bd"/>
<circle cx="635.39" cy="375.28" r="1.3" fill="#ff0000"/>
<circle cx="635.39" cy="377.68" r="1.3" fill="#ff0000"/>
<circle cx="592.44" cy="394.85" r="1.3" fill="#ff0000"/>
<circle cx="585.25" cy="396.62" r="1.3" fill="#ff0000"/>
<circle cx="585.25" cy="399.02" r="1.3" fill="#ff0000"/>
<circle cx="583.47" cy="413.38" r="1.3" fill="#ff0000"/>
<circle cx="583.47" cy="415.78" r="1.3" fill="#ff0000"/>
<circle cx="600.96" cy="418.05" r="1.3" fill="#ff0000"/>
<circle cx="600.04" cy="416.86" r="1.3" fill="#0072bd"/>
<circle cx="586.43" cy="417.94" r="1.3" fill="#ff0000"/>
<circle cx="573.29" cy="428.35" r="1.3" fill="#0072bd"/>
<circle cx="599.04" cy="431.15" r="1.3" fill="#0072bd"/>
<circle cx="599.04" cy="433.55" r="1.3" fill="#0072bd"/>
<circle cx="597.32" cy="418.56" r="1.3" fill="#0072bd"/>
<circle cx="597.32" cy="420.96" r="1.3" fill="#0072bd"/>
<circle cx="569.35" cy="417.58" r="1.3" fill="#0072bd"/>
<circle cx="567.2" cy="426.57" r="1.3" fill="#0072bd"/>
<circle cx="567.2" cy="428.97" r="1.3" fill="#0072bd"/>
<circle cx="578.86" cy="420.67" r="1.3" fill="#0072bd"/>
<circle cx="600.42" cy="418.53" r="1.3" fill="#0072bd"/>
<circle cx="600.42" cy="420.93" r="1.3" fill="#0072bd"/>
<circle cx="584.83" cy="425.14" r="1.3" fill="#0072bd"/>
<circle cx="579.19" cy="424.56" r="1.3" fill="#0072bd"/>
<circle cx="580.57" cy="414.98" r="1.3" fill="#0072bd"/>
<circle cx="574.59" cy="424.52" r="1.3" fill="#0072bd"/>
<circle cx="574.59" cy="426.92" r="1.3" fill="#0072bd"/>
<circle cx="583.46" cy="416.1" r="1.3" fill="#0072bd"/>
<circle cx="583.46" cy="418.5" r="1.3" fill="#0072bd"/>
<circle cx="576.41" cy="418.41" r="1.3" fill="#0072bd"/>
<circle cx="576.41" cy="420.81" r="1.3" fill="#0072bd"/>
<circle cx="575.94" cy="422.79" r="1.3" fill="#0072bd"/>
<circle cx="580.13" cy="418.39" r="1.3" fill="#0072bd"/>
<circle cx="580.13" cy="420.79" r="1.3" fill="#0072bd"/>
<circle cx="597.19" cy="423.29" r="1.3" fill="#0072bd"/>
<circle cx="581.06" cy="428.31" r="1.3" fill="#0072bd"/>
<circle cx="588.1" cy="415.29" r="1.3" fill="#ff0000"/>
<circle cx="589.48" cy="425.19" r="1.3" fill="#ff0000"/>
<circle cx="589.48" cy="427.59" r="1.3" fill="#ff0000"/>
<circle cx="596.88" cy="429.48" r="1.3" fill="#ff0000"/>
<circle cx="569.99" cy="417.06" r="1.3" fill="#0072bd"/>
<circle cx="600.53" cy="426.69" r="1.3" fill="#0072bd"/>
<circle cx="455.69" cy="444.73" r="1.3" fill="#ff0000"/>
<circle cx="455.69" cy="447.94" r="1.3" fill="#ff0000"/>
<circle cx="463.72" cy="452.76" r="1.3" fill="#ff0000"/>
<circle cx="463.72" cy="457.58" r="1.3" fill="#ff0000"/>
<circle cx="463.72" cy="462.4" r="1.3" fill="#ff0000"/>
<circle cx="463.72" cy="465.61" r="1.3" fill="#ff0000"/>
<circle cx="471.75" cy="443.13" r="1.3" fill="#ff0000"/>
<circle cx="471.75" cy="446.34" r="1.3" fill="#ff0000"/>
<circle cx="621.07" cy="364.45" r="1.3" fill="#ff0000"/>
<circle cx="621.07" cy="367.66" r="1.3" fill="#ff0000"/>
<circle cx="550.42" cy="380.51" r="1.3" fill="#ff0000"/>
<circle cx="507.07" cy="402.99" r="1.3" fill="#ff0000"/>
<circle cx="640.34" cy="382.11" r="1.3" fill="#ff0000"/>
<circle cx="640.34" cy="386.93" r="1.3" fill="#ff0000"/>
<circle cx="441.24" cy="449.55" r="1.3" fill="#0072bd"/>
<circle cx="441.24" cy="455.97" r="1.3" fill="#0072bd"/>
<circle cx="476.56" cy="422.25" r="1.3" fill="#0072bd"/>
<circle cx="478.17" cy="447.94" r="1.3" fill="#0072bd"/>
<circle cx="478.17" cy="452.76" r="1.3" fill="#0072bd"/>
<circle cx="519.92" cy="394.96" r="1.3" fill="#0072bd"/>
<circle cx="519.92" cy="397.53" r="1.3" fill="#0072bd"/>
<circle cx="577.72" cy="385.97" r="1.3" fill="#0072bd"/>
<circle cx="545.61" cy="460.79" r="1.3" fill="#0072bd"/>
<circle cx="509.64" cy="470.42" r="1.3" fill="#0072bd"/>
<circle cx="590.57" cy="451.16" r="1.3" fill="#0072bd"/>
<circle cx="499.04" cy="423.86" r="1.3" fill="#0072bd"/>
<line x1="468.5" y1="471.4" x2="642.9" y2="363.8" stroke="#000" stroke-width="2"/>
<text x="440.4" y="354" font-size="12.7" font-weight="bold" fill="#000">R<tspan font-size="8.8" dy="-4.7">2</tspan><tspan dy="4.7">=0.61</tspan></text>
<text id="t10" x="428.4" y="537.2" font-size="12.3" font-weight="bold" fill="#262626" text-anchor="start">ln(PGD<tspan font-size="10" dy="5.6">H</tspan><tspan dy="-5.6">)</tspan></text>
<text id="t11" x="591.7" y="537.2" font-size="12.3" font-weight="bold" fill="#262626" text-anchor="start">ln(VSI<tspan font-size="10" dy="5.6">V</tspan><tspan dy="-5.6">)</tspan></text>
<text id="t12" transform="translate(384.7,445.7) rotate(-90)" font-size="12" font-weight="bold" fill="#ff0000" text-anchor="start">ln(RDR<tspan font-size="9.4" dy="5.5">Col</tspan><tspan dy="-5.5">)</tspan></text>
<text x="538.8" y="573.5" style="font-family:&quot;Liberation Serif&quot;, serif" font-size="15.8" fill="#000" text-anchor="middle">(d)</text>
<line x1="59.9" y1="773.45" x2="190.4" y2="743.65" stroke="#fdeaea" stroke-width="0.7"/>
<line x1="190.4" y1="743.65" x2="315.9" y2="774.75" stroke="#fdeaea" stroke-width="0.7"/>
<line x1="59.9" y1="764.85" x2="190.4" y2="735.05" stroke="#fdeaea" stroke-width="0.7"/>
<line x1="190.4" y1="735.05" x2="315.9" y2="766.15" stroke="#fdeaea" stroke-width="0.7"/>
<line x1="59.9" y1="756.25" x2="190.4" y2="726.45" stroke="#fdeaea" stroke-width="0.7"/>
<line x1="190.4" y1="726.45" x2="315.9" y2="757.55" stroke="#fdeaea" stroke-width="0.7"/>
<line x1="59.9" y1="747.65" x2="190.4" y2="717.85" stroke="#fdeaea" stroke-width="0.7"/>
<line x1="190.4" y1="717.85" x2="315.9" y2="748.95" stroke="#fdeaea" stroke-width="0.7"/>
<line x1="59.9" y1="739.05" x2="190.4" y2="709.25" stroke="#fdeaea" stroke-width="0.7"/>
<line x1="190.4" y1="709.25" x2="315.9" y2="740.35" stroke="#fdeaea" stroke-width="0.7"/>
<line x1="59.9" y1="730.45" x2="190.4" y2="700.65" stroke="#fdeaea" stroke-width="0.7"/>
<line x1="190.4" y1="700.65" x2="315.9" y2="731.75" stroke="#fdeaea" stroke-width="0.7"/>
<line x1="59.9" y1="721.85" x2="190.4" y2="692.05" stroke="#fdeaea" stroke-width="0.7"/>
<line x1="190.4" y1="692.05" x2="315.9" y2="723.15" stroke="#fdeaea" stroke-width="0.7"/>
<line x1="59.9" y1="713.25" x2="190.4" y2="683.45" stroke="#fdeaea" stroke-width="0.7"/>
<line x1="190.4" y1="683.45" x2="315.9" y2="714.55" stroke="#fdeaea" stroke-width="0.7"/>
<line x1="59.9" y1="704.65" x2="190.4" y2="674.85" stroke="#fdeaea" stroke-width="0.7"/>
<line x1="190.4" y1="674.85" x2="315.9" y2="705.95" stroke="#fdeaea" stroke-width="0.7"/>
<line x1="59.9" y1="696.05" x2="190.4" y2="666.25" stroke="#fdeaea" stroke-width="0.7"/>
<line x1="190.4" y1="666.25" x2="315.9" y2="697.35" stroke="#fdeaea" stroke-width="0.7"/>
<line x1="59.9" y1="687.45" x2="190.4" y2="657.65" stroke="#fdeaea" stroke-width="0.7"/>
<line x1="190.4" y1="657.65" x2="315.9" y2="688.75" stroke="#fdeaea" stroke-width="0.7"/>
<line x1="59.9" y1="678.85" x2="190.4" y2="649.05" stroke="#fdeaea" stroke-width="0.7"/>
<line x1="190.4" y1="649.05" x2="315.9" y2="680.15" stroke="#fdeaea" stroke-width="0.7"/>
<line x1="59.9" y1="670.25" x2="190.4" y2="640.45" stroke="#fdeaea" stroke-width="0.7"/>
<line x1="190.4" y1="640.45" x2="315.9" y2="671.55" stroke="#fdeaea" stroke-width="0.7"/>
<line x1="59.9" y1="661.65" x2="190.4" y2="631.85" stroke="#fdeaea" stroke-width="0.7"/>
<line x1="190.4" y1="631.85" x2="315.9" y2="662.95" stroke="#fdeaea" stroke-width="0.7"/>
<line x1="59.9" y1="653.05" x2="190.4" y2="623.25" stroke="#fdeaea" stroke-width="0.7"/>
<line x1="190.4" y1="623.25" x2="315.9" y2="654.35" stroke="#fdeaea" stroke-width="0.7"/>
<line x1="59.9" y1="644.45" x2="190.4" y2="614.65" stroke="#fdeaea" stroke-width="0.7"/>
<line x1="190.4" y1="614.65" x2="315.9" y2="645.75" stroke="#fdeaea" stroke-width="0.7"/>
<line x1="59.9" y1="635.85" x2="190.4" y2="606.05" stroke="#fdeaea" stroke-width="0.7"/>
<line x1="190.4" y1="606.05" x2="315.9" y2="637.15" stroke="#fdeaea" stroke-width="0.7"/>
<line x1="93.73" y1="768.47" x2="93.73" y2="625.37" stroke="#e4e4e4" stroke-width="0.7"/>
<line x1="142.07" y1="757.44" x2="142.07" y2="614.33" stroke="#e4e4e4" stroke-width="0.7"/>
<line x1="190.4" y1="746.4" x2="190.4" y2="603.3" stroke="#e4e4e4" stroke-width="0.7"/>
<line x1="190.4" y1="746.4" x2="190.4" y2="603.3" stroke="#e4e4e4" stroke-width="0.7"/>
<line x1="221.77" y1="754.18" x2="221.77" y2="611.07" stroke="#e4e4e4" stroke-width="0.7"/>
<line x1="253.15" y1="761.95" x2="253.15" y2="618.85" stroke="#e4e4e4" stroke-width="0.7"/>
<line x1="284.52" y1="769.73" x2="284.52" y2="626.62" stroke="#e4e4e4" stroke-width="0.7"/>
<line x1="315.9" y1="777.5" x2="315.9" y2="634.4" stroke="#e4e4e4" stroke-width="0.7"/>
<line x1="59.9" y1="776.2" x2="190.4" y2="746.4" stroke="#e4e4e4" stroke-width="0.7"/>
<line x1="91.28" y1="783.98" x2="221.77" y2="754.18" stroke="#e4e4e4" stroke-width="0.7"/>
<line x1="122.65" y1="791.75" x2="253.15" y2="761.95" stroke="#e4e4e4" stroke-width="0.7"/>
<line x1="154.03" y1="799.52" x2="284.52" y2="769.73" stroke="#e4e4e4" stroke-width="0.7"/>
<line x1="185.4" y1="807.3" x2="315.9" y2="777.5" stroke="#e4e4e4" stroke-width="0.7"/>
<line x1="93.73" y1="768.47" x2="219.23" y2="799.57" stroke="#e4e4e4" stroke-width="0.7"/>
<line x1="142.07" y1="757.44" x2="267.57" y2="788.54" stroke="#e4e4e4" stroke-width="0.7"/>
<line x1="190.4" y1="746.4" x2="315.9" y2="777.5" stroke="#e4e4e4" stroke-width="0.7"/>
<line x1="59.9" y1="776.2" x2="185.4" y2="807.3" stroke="#505050" stroke-width="0.8"/>
<line x1="185.4" y1="807.3" x2="315.9" y2="777.5" stroke="#505050" stroke-width="0.8"/>
<line x1="59.9" y1="776.2" x2="59.9" y2="633.1" stroke="#ff8080" stroke-width="0.9"/>
<line x1="59.9" y1="773.45" x2="56.4" y2="773.45" stroke="#ff6a6a" stroke-width="0.9"/>
<line x1="59.9" y1="764.85" x2="57.9" y2="764.85" stroke="#ff6a6a" stroke-width="0.9"/>
<line x1="59.9" y1="756.25" x2="57.9" y2="756.25" stroke="#ff6a6a" stroke-width="0.9"/>
<line x1="59.9" y1="747.65" x2="57.9" y2="747.65" stroke="#ff6a6a" stroke-width="0.9"/>
<line x1="59.9" y1="739.05" x2="56.4" y2="739.05" stroke="#ff6a6a" stroke-width="0.9"/>
<line x1="59.9" y1="730.45" x2="57.9" y2="730.45" stroke="#ff6a6a" stroke-width="0.9"/>
<line x1="59.9" y1="721.85" x2="57.9" y2="721.85" stroke="#ff6a6a" stroke-width="0.9"/>
<line x1="59.9" y1="713.25" x2="57.9" y2="713.25" stroke="#ff6a6a" stroke-width="0.9"/>
<line x1="59.9" y1="704.65" x2="56.4" y2="704.65" stroke="#ff6a6a" stroke-width="0.9"/>
<line x1="59.9" y1="696.05" x2="57.9" y2="696.05" stroke="#ff6a6a" stroke-width="0.9"/>
<line x1="59.9" y1="687.45" x2="57.9" y2="687.45" stroke="#ff6a6a" stroke-width="0.9"/>
<line x1="59.9" y1="678.85" x2="57.9" y2="678.85" stroke="#ff6a6a" stroke-width="0.9"/>
<line x1="59.9" y1="670.25" x2="56.4" y2="670.25" stroke="#ff6a6a" stroke-width="0.9"/>
<line x1="59.9" y1="661.65" x2="57.9" y2="661.65" stroke="#ff6a6a" stroke-width="0.9"/>
<line x1="59.9" y1="653.05" x2="57.9" y2="653.05" stroke="#ff6a6a" stroke-width="0.9"/>
<line x1="59.9" y1="644.45" x2="57.9" y2="644.45" stroke="#ff6a6a" stroke-width="0.9"/>
<line x1="59.9" y1="635.85" x2="56.4" y2="635.85" stroke="#ff6a6a" stroke-width="0.9"/>
<text x="53" y="777.41" fill="#ff0000" font-size="11" font-weight="bold" text-anchor="end">4</text>
<text x="53" y="743.01" fill="#ff0000" font-size="11" font-weight="bold" text-anchor="end">6</text>
<text x="53" y="708.61" fill="#ff0000" font-size="11" font-weight="bold" text-anchor="end">8</text>
<text x="53" y="674.21" fill="#ff0000" font-size="11" font-weight="bold" text-anchor="end">10</text>
<text x="53" y="639.81" fill="#ff0000" font-size="11" font-weight="bold" text-anchor="end">12</text>
<text x="49.9" y="788.86" fill="#262626" font-size="11" font-weight="bold" text-anchor="middle">3</text>
<text x="81.4" y="797.26" fill="#262626" font-size="11" font-weight="bold" text-anchor="middle">4</text>
<text x="112.9" y="804.26" fill="#262626" font-size="11" font-weight="bold" text-anchor="middle">5</text>
<text x="144.5" y="811.76" fill="#262626" font-size="11" font-weight="bold" text-anchor="middle">6</text>
<text x="176.1" y="819.06" fill="#262626" font-size="11" font-weight="bold" text-anchor="middle">7</text>
<text x="230.8" y="812.16" fill="#262626" font-size="11" font-weight="bold" text-anchor="middle">-4</text>
<text x="279.2" y="801.76" fill="#262626" font-size="11" font-weight="bold" text-anchor="middle">-2</text>
<text x="326.2" y="789.96" fill="#262626" font-size="11" font-weight="bold" text-anchor="middle">0</text>
<circle cx="134.64" cy="752.53" r="1.15" fill="#ff0000"/>
<circle cx="128.12" cy="752.97" r="1.15" fill="#0072bd"/>
<circle cx="109.04" cy="765.25" r="1.15" fill="#0072bd"/>
<circle cx="127.6" cy="745.85" r="1.15" fill="#0072bd"/>
<circle cx="127.81" cy="752.04" r="1.15" fill="#0072bd"/>
<circle cx="127.81" cy="754.44" r="1.15" fill="#0072bd"/>
<circle cx="90.88" cy="764.77" r="1.15" fill="#ff0000"/>
<circle cx="113.3" cy="747.2" r="1.15" fill="#0072bd"/>
<circle cx="84.95" cy="760.11" r="1.15" fill="#ff0000"/>
<circle cx="108.62" cy="760.35" r="1.15" fill="#0072bd"/>
<circle cx="86.82" cy="755.68" r="1.15" fill="#0072bd"/>
<circle cx="91.21" cy="756.83" r="1.15" fill="#0072bd"/>
<circle cx="108.8" cy="772.32" r="1.15" fill="#0072bd"/>
<circle cx="125.06" cy="744.33" r="1.15" fill="#ff0000"/>
<circle cx="95" cy="749.62" r="1.15" fill="#0072bd"/>
<circle cx="115.92" cy="746.37" r="1.15" fill="#0072bd"/>
<circle cx="93.39" cy="766.65" r="1.15" fill="#0072bd"/>
<circle cx="128.06" cy="742.4" r="1.15" fill="#0072bd"/>
<circle cx="105.11" cy="756.04" r="1.15" fill="#0072bd"/>
<circle cx="114.17" cy="748.24" r="1.15" fill="#ff0000"/>
<circle cx="114.72" cy="752.9" r="1.15" fill="#0072bd"/>
<circle cx="86.78" cy="758.77" r="1.15" fill="#0072bd"/>
<circle cx="106.21" cy="769.18" r="1.15" fill="#0072bd"/>
<circle cx="106.24" cy="744.98" r="1.15" fill="#0072bd"/>
<circle cx="92.78" cy="774.61" r="1.15" fill="#0072bd"/>
<circle cx="92.78" cy="777.01" r="1.15" fill="#0072bd"/>
<circle cx="129.87" cy="757.42" r="1.15" fill="#0072bd"/>
<circle cx="124.43" cy="744.66" r="1.15" fill="#0072bd"/>
<circle cx="101.84" cy="757.55" r="1.15" fill="#0072bd"/>
<circle cx="112.2" cy="748.76" r="1.15" fill="#0072bd"/>
<circle cx="100.76" cy="739.68" r="1.15" fill="#0072bd"/>
<circle cx="105.73" cy="748.51" r="1.15" fill="#0072bd"/>
<circle cx="105.73" cy="750.91" r="1.15" fill="#0072bd"/>
<circle cx="104.3" cy="748.91" r="1.15" fill="#0072bd"/>
<circle cx="129.51" cy="742.43" r="1.15" fill="#ff0000"/>
<circle cx="114.98" cy="748.95" r="1.15" fill="#0072bd"/>
<circle cx="110.62" cy="757.23" r="1.15" fill="#ff0000"/>
<circle cx="117.05" cy="735.89" r="1.15" fill="#0072bd"/>
<circle cx="92.27" cy="740.84" r="1.15" fill="#0072bd"/>
<circle cx="130.75" cy="748.72" r="1.15" fill="#ff0000"/>
<circle cx="161.2" cy="731.29" r="1.15" fill="#ff0000"/>
<circle cx="177.87" cy="687.99" r="1.15" fill="#0072bd"/>
<circle cx="159.16" cy="720.26" r="1.15" fill="#0072bd"/>
<circle cx="163.21" cy="693.43" r="1.15" fill="#0072bd"/>
<circle cx="144.09" cy="725.6" r="1.15" fill="#0072bd"/>
<circle cx="144.03" cy="745.43" r="1.15" fill="#ff0000"/>
<circle cx="187.91" cy="706.38" r="1.15" fill="#0072bd"/>
<circle cx="187.91" cy="708.78" r="1.15" fill="#0072bd"/>
<circle cx="191.9" cy="708.15" r="1.15" fill="#0072bd"/>
<circle cx="169.15" cy="697.5" r="1.15" fill="#0072bd"/>
<circle cx="172.55" cy="714.65" r="1.15" fill="#0072bd"/>
<circle cx="150.73" cy="711.91" r="1.15" fill="#0072bd"/>
<circle cx="178.52" cy="709.05" r="1.15" fill="#0072bd"/>
<circle cx="182.93" cy="695.69" r="1.15" fill="#0072bd"/>
<circle cx="175.39" cy="709.08" r="1.15" fill="#0072bd"/>
<circle cx="140.43" cy="716.38" r="1.15" fill="#0072bd"/>
<circle cx="133.82" cy="746.02" r="1.15" fill="#ff0000"/>
<circle cx="132.78" cy="741.1" r="1.15" fill="#ff0000"/>
<circle cx="196.63" cy="714.59" r="1.15" fill="#ff0000"/>
<circle cx="122.18" cy="718.83" r="1.15" fill="#0072bd"/>
<circle cx="151.09" cy="714.02" r="1.15" fill="#0072bd"/>
<circle cx="130.34" cy="717.55" r="1.15" fill="#0072bd"/>
<circle cx="125.95" cy="727.46" r="1.15" fill="#0072bd"/>
<circle cx="125.95" cy="729.86" r="1.15" fill="#0072bd"/>
<circle cx="186.35" cy="703.02" r="1.15" fill="#0072bd"/>
<circle cx="171.63" cy="698.36" r="1.15" fill="#ff0000"/>
<circle cx="138.04" cy="739.82" r="1.15" fill="#0072bd"/>
<circle cx="147.46" cy="720.38" r="1.15" fill="#0072bd"/>
<circle cx="156.32" cy="735.22" r="1.15" fill="#0072bd"/>
<circle cx="159.26" cy="706.89" r="1.15" fill="#0072bd"/>
<circle cx="188.71" cy="704.73" r="1.15" fill="#0072bd"/>
<circle cx="188.71" cy="707.13" r="1.15" fill="#0072bd"/>
<circle cx="164.33" cy="719.51" r="1.15" fill="#0072bd"/>
<circle cx="153.42" cy="717.31" r="1.15" fill="#0072bd"/>
<circle cx="173.72" cy="698.55" r="1.15" fill="#0072bd"/>
<circle cx="162.32" cy="732.71" r="1.15" fill="#0072bd"/>
<circle cx="139.02" cy="729.69" r="1.15" fill="#0072bd"/>
<circle cx="167.57" cy="724.02" r="1.15" fill="#0072bd"/>
<circle cx="140.8" cy="732.23" r="1.15" fill="#0072bd"/>
<circle cx="130.31" cy="739.58" r="1.15" fill="#0072bd"/>
<circle cx="130.31" cy="741.98" r="1.15" fill="#0072bd"/>
<circle cx="167.93" cy="704.18" r="1.15" fill="#0072bd"/>
<circle cx="167.93" cy="706.58" r="1.15" fill="#0072bd"/>
<circle cx="168.58" cy="696.12" r="1.15" fill="#0072bd"/>
<circle cx="151.41" cy="709.76" r="1.15" fill="#0072bd"/>
<circle cx="167.84" cy="729.25" r="1.15" fill="#0072bd"/>
<circle cx="171.21" cy="701.02" r="1.15" fill="#ff0000"/>
<circle cx="141" cy="724.22" r="1.15" fill="#0072bd"/>
<circle cx="145.13" cy="739.9" r="1.15" fill="#ff0000"/>
<circle cx="140.68" cy="713.8" r="1.15" fill="#0072bd"/>
<circle cx="141.66" cy="724.03" r="1.15" fill="#0072bd"/>
<circle cx="140.89" cy="714.93" r="1.15" fill="#0072bd"/>
<circle cx="130.02" cy="715.18" r="1.15" fill="#ff0000"/>
<circle cx="128.23" cy="737.84" r="1.15" fill="#0072bd"/>
<circle cx="179.6" cy="697.76" r="1.15" fill="#0072bd"/>
<circle cx="124.52" cy="740.67" r="1.15" fill="#0072bd"/>
<circle cx="124.52" cy="743.07" r="1.15" fill="#0072bd"/>
<circle cx="156.18" cy="695.92" r="1.15" fill="#0072bd"/>
<circle cx="179.23" cy="704.22" r="1.15" fill="#ff0000"/>
<circle cx="150.27" cy="698.82" r="1.15" fill="#0072bd"/>
<circle cx="114.75" cy="724.87" r="1.15" fill="#ff0000"/>
<circle cx="178.08" cy="698.99" r="1.15" fill="#0072bd"/>
<circle cx="126.69" cy="725.16" r="1.15" fill="#0072bd"/>
<circle cx="188.68" cy="697.64" r="1.15" fill="#0072bd"/>
<circle cx="117.05" cy="730.21" r="1.15" fill="#0072bd"/>
<circle cx="129.78" cy="737.26" r="1.15" fill="#ff0000"/>
<circle cx="161.95" cy="697.26" r="1.15" fill="#0072bd"/>
<circle cx="155.23" cy="706.7" r="1.15" fill="#0072bd"/>
<circle cx="181.05" cy="699.06" r="1.15" fill="#0072bd"/>
<circle cx="181.61" cy="706.96" r="1.15" fill="#0072bd"/>
<circle cx="156.57" cy="736.08" r="1.15" fill="#0072bd"/>
<circle cx="158.54" cy="711.15" r="1.15" fill="#0072bd"/>
<circle cx="144.56" cy="726.94" r="1.15" fill="#0072bd"/>
<circle cx="145.02" cy="732.85" r="1.15" fill="#0072bd"/>
<circle cx="164.18" cy="692.64" r="1.15" fill="#0072bd"/>
<circle cx="169.4" cy="731.2" r="1.15" fill="#0072bd"/>
<circle cx="167.5" cy="712.65" r="1.15" fill="#0072bd"/>
<circle cx="144.02" cy="734.99" r="1.15" fill="#0072bd"/>
<circle cx="144.02" cy="737.39" r="1.15" fill="#0072bd"/>
<circle cx="142.63" cy="710.03" r="1.15" fill="#ff0000"/>
<circle cx="155.48" cy="722.88" r="1.15" fill="#0072bd"/>
<circle cx="160.94" cy="707.12" r="1.15" fill="#0072bd"/>
<circle cx="138.97" cy="718.14" r="1.15" fill="#0072bd"/>
<circle cx="168.07" cy="698.15" r="1.15" fill="#0072bd"/>
<circle cx="138.99" cy="709.28" r="1.15" fill="#0072bd"/>
<circle cx="131.4" cy="736.97" r="1.15" fill="#0072bd"/>
<circle cx="168.41" cy="697.63" r="1.15" fill="#ff0000"/>
<circle cx="136.75" cy="727.69" r="1.15" fill="#0072bd"/>
<circle cx="136.75" cy="730.09" r="1.15" fill="#0072bd"/>
<circle cx="179.42" cy="708.81" r="1.15" fill="#ff0000"/>
<circle cx="179.42" cy="711.21" r="1.15" fill="#ff0000"/>
<circle cx="183.26" cy="702.11" r="1.15" fill="#ff0000"/>
<circle cx="184.78" cy="711.89" r="1.15" fill="#0072bd"/>
<circle cx="177.24" cy="707.13" r="1.15" fill="#ff0000"/>
<circle cx="180.91" cy="703.37" r="1.15" fill="#0072bd"/>
<circle cx="165.19" cy="713.04" r="1.15" fill="#ff0000"/>
<circle cx="190.7" cy="710.15" r="1.15" fill="#ff0000"/>
<circle cx="130.2" cy="724.47" r="1.15" fill="#0072bd"/>
<circle cx="167.63" cy="686.94" r="1.15" fill="#0072bd"/>
<circle cx="166.3" cy="702.77" r="1.15" fill="#0072bd"/>
<circle cx="166.3" cy="705.17" r="1.15" fill="#0072bd"/>
<circle cx="143.96" cy="715.08" r="1.15" fill="#ff0000"/>
<circle cx="151.31" cy="720.4" r="1.15" fill="#0072bd"/>
<circle cx="132.92" cy="726.03" r="1.15" fill="#ff0000"/>
<circle cx="149.08" cy="719.03" r="1.15" fill="#0072bd"/>
<circle cx="185.53" cy="699.53" r="1.15" fill="#0072bd"/>
<circle cx="118.68" cy="731.31" r="1.15" fill="#0072bd"/>
<circle cx="168.64" cy="711.06" r="1.15" fill="#0072bd"/>
<circle cx="171.06" cy="714.41" r="1.15" fill="#ff0000"/>
<circle cx="143.5" cy="711.1" r="1.15" fill="#ff0000"/>
<circle cx="153.83" cy="725.69" r="1.15" fill="#0072bd"/>
<circle cx="160.49" cy="721.4" r="1.15" fill="#0072bd"/>
<circle cx="135.61" cy="725.58" r="1.15" fill="#ff0000"/>
<circle cx="186.87" cy="698.41" r="1.15" fill="#ff0000"/>
<circle cx="135.31" cy="717.11" r="1.15" fill="#ff0000"/>
<circle cx="149.34" cy="719.11" r="1.15" fill="#0072bd"/>
<circle cx="143.91" cy="719.86" r="1.15" fill="#0072bd"/>
<circle cx="135.42" cy="731.79" r="1.15" fill="#0072bd"/>
<circle cx="185.98" cy="711.64" r="1.15" fill="#0072bd"/>
<circle cx="154.02" cy="721.07" r="1.15" fill="#0072bd"/>
<circle cx="142.32" cy="715.43" r="1.15" fill="#0072bd"/>
<circle cx="140.99" cy="753.36" r="1.15" fill="#0072bd"/>
<circle cx="157.34" cy="719.73" r="1.15" fill="#0072bd"/>
<circle cx="145.19" cy="715.54" r="1.15" fill="#0072bd"/>
<circle cx="196.01" cy="724.71" r="1.15" fill="#0072bd"/>
<circle cx="139.44" cy="747.83" r="1.15" fill="#0072bd"/>
<circle cx="151.99" cy="738.96" r="1.15" fill="#0072bd"/>
<circle cx="165.16" cy="714.68" r="1.15" fill="#0072bd"/>
<circle cx="200.81" cy="716.06" r="1.15" fill="#0072bd"/>
<circle cx="200.81" cy="718.46" r="1.15" fill="#0072bd"/>
<circle cx="156.96" cy="714.14" r="1.15" fill="#0072bd"/>
<circle cx="176.36" cy="700.68" r="1.15" fill="#0072bd"/>
<circle cx="157.4" cy="736.13" r="1.15" fill="#0072bd"/>
<circle cx="157.4" cy="738.53" r="1.15" fill="#0072bd"/>
<circle cx="118.76" cy="735.48" r="1.15" fill="#0072bd"/>
<circle cx="153.36" cy="733.23" r="1.15" fill="#0072bd"/>
<circle cx="139.77" cy="747.24" r="1.15" fill="#0072bd"/>
<circle cx="177.69" cy="710.57" r="1.15" fill="#0072bd"/>
<circle cx="177.69" cy="712.97" r="1.15" fill="#0072bd"/>
<circle cx="163.71" cy="723.9" r="1.15" fill="#0072bd"/>
<circle cx="169.26" cy="704.62" r="1.15" fill="#0072bd"/>
<circle cx="132.7" cy="733.5" r="1.15" fill="#0072bd"/>
<circle cx="158.8" cy="718.27" r="1.15" fill="#0072bd"/>
<circle cx="191.24" cy="700.97" r="1.15" fill="#0072bd"/>
<circle cx="167.86" cy="699.5" r="1.15" fill="#0072bd"/>
<circle cx="127.99" cy="702.51" r="1.15" fill="#0072bd"/>
<circle cx="191.41" cy="712.23" r="1.15" fill="#0072bd"/>
<circle cx="133.03" cy="741.8" r="1.15" fill="#0072bd"/>
<circle cx="133.03" cy="744.2" r="1.15" fill="#0072bd"/>
<circle cx="148.51" cy="737.89" r="1.15" fill="#ff0000"/>
<circle cx="181.69" cy="696.66" r="1.15" fill="#0072bd"/>
<circle cx="181.69" cy="699.06" r="1.15" fill="#0072bd"/>
<circle cx="141.46" cy="755.7" r="1.15" fill="#0072bd"/>
<circle cx="124.58" cy="729.2" r="1.15" fill="#ff0000"/>
<circle cx="133.93" cy="741.26" r="1.15" fill="#ff0000"/>
<circle cx="169.63" cy="714.89" r="1.15" fill="#0072bd"/>
<circle cx="129.64" cy="741.99" r="1.15" fill="#0072bd"/>
<circle cx="189.26" cy="703.03" r="1.15" fill="#0072bd"/>
<circle cx="189.26" cy="705.43" r="1.15" fill="#0072bd"/>
<circle cx="163.89" cy="732.01" r="1.15" fill="#0072bd"/>
<circle cx="171.74" cy="684.54" r="1.15" fill="#0072bd"/>
<circle cx="190.88" cy="713.66" r="1.15" fill="#0072bd"/>
<circle cx="180.25" cy="685.09" r="1.15" fill="#0072bd"/>
<circle cx="150.76" cy="701.35" r="1.15" fill="#0072bd"/>
<circle cx="145.95" cy="709.62" r="1.15" fill="#ff0000"/>
<circle cx="121.82" cy="724.52" r="1.15" fill="#0072bd"/>
<circle cx="155.45" cy="713.39" r="1.15" fill="#0072bd"/>
<circle cx="152.49" cy="710.49" r="1.15" fill="#0072bd"/>
<circle cx="166.76" cy="717.17" r="1.15" fill="#0072bd"/>
<circle cx="143.7" cy="742.17" r="1.15" fill="#0072bd"/>
<circle cx="164.05" cy="722.6" r="1.15" fill="#0072bd"/>
<circle cx="147.19" cy="718.28" r="1.15" fill="#ff0000"/>
<circle cx="147.19" cy="720.68" r="1.15" fill="#ff0000"/>
<circle cx="131.91" cy="742.74" r="1.15" fill="#0072bd"/>
<circle cx="135.54" cy="707.32" r="1.15" fill="#0072bd"/>
<circle cx="156.19" cy="721.23" r="1.15" fill="#0072bd"/>
<circle cx="129.82" cy="732.51" r="1.15" fill="#0072bd"/>
<circle cx="129.82" cy="734.91" r="1.15" fill="#0072bd"/>
<circle cx="137.81" cy="738.78" r="1.15" fill="#0072bd"/>
<circle cx="177.86" cy="721.44" r="1.15" fill="#0072bd"/>
<circle cx="148.11" cy="695.36" r="1.15" fill="#0072bd"/>
<circle cx="150.01" cy="724.65" r="1.15" fill="#0072bd"/>
<circle cx="146.09" cy="739.77" r="1.15" fill="#0072bd"/>
<circle cx="170.34" cy="730.09" r="1.15" fill="#0072bd"/>
<circle cx="158.92" cy="714.94" r="1.15" fill="#0072bd"/>
<circle cx="133.32" cy="742.63" r="1.15" fill="#0072bd"/>
<circle cx="167.51" cy="694.05" r="1.15" fill="#0072bd"/>
<circle cx="152.89" cy="741.4" r="1.15" fill="#0072bd"/>
<circle cx="156.09" cy="726.08" r="1.15" fill="#0072bd"/>
<circle cx="151.69" cy="721.91" r="1.15" fill="#ff0000"/>
<circle cx="156.58" cy="713.84" r="1.15" fill="#0072bd"/>
<circle cx="133.58" cy="734.75" r="1.15" fill="#0072bd"/>
<circle cx="159.82" cy="744.66" r="1.15" fill="#0072bd"/>
<circle cx="159.82" cy="747.06" r="1.15" fill="#0072bd"/>
<circle cx="150.46" cy="700.33" r="1.15" fill="#ff0000"/>
<circle cx="133.78" cy="748.54" r="1.15" fill="#0072bd"/>
<circle cx="123.05" cy="731.22" r="1.15" fill="#ff0000"/>
<circle cx="152.37" cy="726.61" r="1.15" fill="#ff0000"/>
<circle cx="173.96" cy="714.67" r="1.15" fill="#0072bd"/>
<circle cx="161.1" cy="704.83" r="1.15" fill="#0072bd"/>
<circle cx="161.1" cy="707.23" r="1.15" fill="#0072bd"/>
<circle cx="169.8" cy="715.83" r="1.15" fill="#0072bd"/>
<circle cx="148.81" cy="720.66" r="1.15" fill="#0072bd"/>
<circle cx="158.63" cy="715.87" r="1.15" fill="#0072bd"/>
<circle cx="139.11" cy="725.34" r="1.15" fill="#0072bd"/>
<circle cx="175.84" cy="710.97" r="1.15" fill="#0072bd"/>
<circle cx="182.4" cy="709.5" r="1.15" fill="#ff0000"/>
<circle cx="184.07" cy="698.76" r="1.15" fill="#ff0000"/>
<circle cx="184.07" cy="701.16" r="1.15" fill="#ff0000"/>
<circle cx="173.14" cy="693.85" r="1.15" fill="#ff0000"/>
<circle cx="166.45" cy="698.14" r="1.15" fill="#ff0000"/>
<circle cx="166.45" cy="700.54" r="1.15" fill="#ff0000"/>
<circle cx="166.39" cy="712.93" r="1.15" fill="#ff0000"/>
<circle cx="205.73" cy="683.46" r="1.15" fill="#0072bd"/>
<circle cx="176.72" cy="686.57" r="1.15" fill="#ff0000"/>
<circle cx="169.36" cy="694.26" r="1.15" fill="#ff0000"/>
<circle cx="170.14" cy="700.36" r="1.15" fill="#0072bd"/>
<circle cx="164.93" cy="718.7" r="1.15" fill="#ff0000"/>
<circle cx="200.61" cy="689.04" r="1.15" fill="#0072bd"/>
<circle cx="204.93" cy="675.5" r="1.15" fill="#0072bd"/>
<circle cx="200.55" cy="706.2" r="1.15" fill="#ff0000"/>
<circle cx="155.93" cy="714.32" r="1.15" fill="#0072bd"/>
<circle cx="171.97" cy="706.33" r="1.15" fill="#ff0000"/>
<circle cx="197.35" cy="666.46" r="1.15" fill="#0072bd"/>
<circle cx="205.65" cy="685.05" r="1.15" fill="#0072bd"/>
<circle cx="205.65" cy="687.45" r="1.15" fill="#0072bd"/>
<circle cx="189.67" cy="715.77" r="1.15" fill="#0072bd"/>
<circle cx="222.98" cy="703.56" r="1.15" fill="#ff0000"/>
<circle cx="185.18" cy="696.91" r="1.15" fill="#0072bd"/>
<circle cx="187.48" cy="703.82" r="1.15" fill="#0072bd"/>
<circle cx="194.62" cy="718.6" r="1.15" fill="#0072bd"/>
<circle cx="169.65" cy="691.83" r="1.15" fill="#0072bd"/>
<circle cx="162.09" cy="715.99" r="1.15" fill="#0072bd"/>
<circle cx="193.57" cy="670.06" r="1.15" fill="#ff0000"/>
<circle cx="187.85" cy="704.44" r="1.15" fill="#0072bd"/>
<circle cx="187.85" cy="706.84" r="1.15" fill="#0072bd"/>
<circle cx="166.3" cy="721.58" r="1.15" fill="#0072bd"/>
<circle cx="216.26" cy="693.51" r="1.15" fill="#0072bd"/>
<circle cx="188.76" cy="694.43" r="1.15" fill="#0072bd"/>
<circle cx="194.52" cy="683.38" r="1.15" fill="#0072bd"/>
<circle cx="188.27" cy="717.84" r="1.15" fill="#0072bd"/>
<circle cx="211.23" cy="679" r="1.15" fill="#ff0000"/>
<circle cx="202.53" cy="678.95" r="1.15" fill="#ff0000"/>
<circle cx="174.76" cy="711.45" r="1.15" fill="#0072bd"/>
<circle cx="206.96" cy="678.03" r="1.15" fill="#0072bd"/>
<circle cx="152.37" cy="707.53" r="1.15" fill="#0072bd"/>
<circle cx="170.91" cy="699.32" r="1.15" fill="#ff0000"/>
<circle cx="205.47" cy="681.47" r="1.15" fill="#ff0000"/>
<circle cx="205.47" cy="683.87" r="1.15" fill="#ff0000"/>
<circle cx="155.71" cy="703.26" r="1.15" fill="#ff0000"/>
<circle cx="186.81" cy="718.69" r="1.15" fill="#ff0000"/>
<circle cx="181.34" cy="676.5" r="1.15" fill="#0072bd"/>
<circle cx="164.62" cy="691.09" r="1.15" fill="#ff0000"/>
<circle cx="201.11" cy="691.41" r="1.15" fill="#ff0000"/>
<circle cx="201.07" cy="691.19" r="1.15" fill="#ff0000"/>
<circle cx="201.07" cy="693.59" r="1.15" fill="#ff0000"/>
<circle cx="195.55" cy="664.53" r="1.15" fill="#ff0000"/>
<circle cx="192.9" cy="685.19" r="1.15" fill="#ff0000"/>
<circle cx="192.9" cy="687.59" r="1.15" fill="#ff0000"/>
<circle cx="198.73" cy="705.66" r="1.15" fill="#ff0000"/>
<circle cx="170.37" cy="712.62" r="1.15" fill="#ff0000"/>
<circle cx="208.76" cy="677.59" r="1.15" fill="#ff0000"/>
<circle cx="204.62" cy="690.74" r="1.15" fill="#ff0000"/>
<circle cx="153.82" cy="693.78" r="1.15" fill="#ff0000"/>
<circle cx="153.82" cy="696.18" r="1.15" fill="#ff0000"/>
<circle cx="178.22" cy="722.29" r="1.15" fill="#0072bd"/>
<circle cx="199.69" cy="694.43" r="1.15" fill="#0072bd"/>
<circle cx="199.62" cy="685.63" r="1.15" fill="#0072bd"/>
<circle cx="178.19" cy="708.72" r="1.15" fill="#0072bd"/>
<circle cx="170.89" cy="694.33" r="1.15" fill="#ff0000"/>
<circle cx="187.94" cy="727.11" r="1.15" fill="#ff0000"/>
<circle cx="202.76" cy="684.02" r="1.15" fill="#ff0000"/>
<circle cx="212.23" cy="697.08" r="1.15" fill="#ff0000"/>
<circle cx="212.57" cy="681.95" r="1.15" fill="#0072bd"/>
<circle cx="187.45" cy="708.34" r="1.15" fill="#0072bd"/>
<circle cx="173.57" cy="697.14" r="1.15" fill="#ff0000"/>
<circle cx="215.37" cy="686.04" r="1.15" fill="#ff0000"/>
<circle cx="172.89" cy="715.04" r="1.15" fill="#0072bd"/>
<circle cx="195.19" cy="721.12" r="1.15" fill="#0072bd"/>
<circle cx="195.19" cy="723.52" r="1.15" fill="#0072bd"/>
<circle cx="208.78" cy="678.52" r="1.15" fill="#0072bd"/>
<circle cx="163.35" cy="706.1" r="1.15" fill="#ff0000"/>
<circle cx="175.36" cy="726.79" r="1.15" fill="#0072bd"/>
<circle cx="172.42" cy="696.33" r="1.15" fill="#0072bd"/>
<circle cx="197.42" cy="709.28" r="1.15" fill="#0072bd"/>
<circle cx="170.74" cy="729.2" r="1.15" fill="#0072bd"/>
<circle cx="170.65" cy="702.98" r="1.15" fill="#0072bd"/>
<circle cx="196.83" cy="687.99" r="1.15" fill="#0072bd"/>
<circle cx="189.4" cy="702.89" r="1.15" fill="#ff0000"/>
<circle cx="197.72" cy="677.48" r="1.15" fill="#0072bd"/>
<circle cx="179.65" cy="709.99" r="1.15" fill="#0072bd"/>
<circle cx="207.49" cy="678.39" r="1.15" fill="#ff0000"/>
<circle cx="164.36" cy="708.35" r="1.15" fill="#ff0000"/>
<circle cx="179.76" cy="718.26" r="1.15" fill="#0072bd"/>
<circle cx="185.87" cy="712.88" r="1.15" fill="#ff0000"/>
<circle cx="169.99" cy="711.19" r="1.15" fill="#0072bd"/>
<circle cx="186.96" cy="692.79" r="1.15" fill="#0072bd"/>
<circle cx="197.31" cy="680.56" r="1.15" fill="#ff0000"/>
<circle cx="205.31" cy="673.23" r="1.15" fill="#ff0000"/>
<circle cx="205.31" cy="675.63" r="1.15" fill="#ff0000"/>
<circle cx="190.86" cy="694.02" r="1.15" fill="#ff0000"/>
<circle cx="159.65" cy="717.97" r="1.15" fill="#0072bd"/>
<circle cx="162.64" cy="704.51" r="1.15" fill="#0072bd"/>
<circle cx="161.91" cy="716.58" r="1.15" fill="#0072bd"/>
<circle cx="203.05" cy="672.16" r="1.15" fill="#ff0000"/>
<circle cx="205.35" cy="686.6" r="1.15" fill="#0072bd"/>
<circle cx="162.65" cy="705.46" r="1.15" fill="#ff0000"/>
<circle cx="199.6" cy="710.67" r="1.15" fill="#ff0000"/>
<circle cx="177.63" cy="730.89" r="1.15" fill="#0072bd"/>
<circle cx="179.45" cy="700.24" r="1.15" fill="#ff0000"/>
<circle cx="177.6" cy="690.62" r="1.15" fill="#0072bd"/>
<circle cx="172.78" cy="704.36" r="1.15" fill="#ff0000"/>
<circle cx="181.08" cy="687.06" r="1.15" fill="#ff0000"/>
<circle cx="190.34" cy="684.24" r="1.15" fill="#0072bd"/>
<circle cx="209.67" cy="692.65" r="1.15" fill="#0072bd"/>
<circle cx="209.67" cy="695.05" r="1.15" fill="#0072bd"/>
<circle cx="188.54" cy="709.17" r="1.15" fill="#ff0000"/>
<circle cx="189.8" cy="705.04" r="1.15" fill="#0072bd"/>
<circle cx="212.32" cy="675.88" r="1.15" fill="#ff0000"/>
<circle cx="223.1" cy="660.77" r="1.15" fill="#ff0000"/>
<circle cx="257.85" cy="662" r="1.15" fill="#ff0000"/>
<circle cx="229.61" cy="680.97" r="1.15" fill="#ff0000"/>
<circle cx="256.06" cy="656.41" r="1.15" fill="#ff0000"/>
<circle cx="223.18" cy="694.63" r="1.15" fill="#0072bd"/>
<circle cx="198.52" cy="680.63" r="1.15" fill="#ff0000"/>
<circle cx="256.01" cy="647.98" r="1.15" fill="#ff0000"/>
<circle cx="231.92" cy="657.55" r="1.15" fill="#ff0000"/>
<circle cx="209.43" cy="662.52" r="1.15" fill="#ff0000"/>
<circle cx="216.28" cy="678.24" r="1.15" fill="#ff0000"/>
<circle cx="196.97" cy="697.77" r="1.15" fill="#ff0000"/>
<circle cx="220.45" cy="669.22" r="1.15" fill="#ff0000"/>
<circle cx="254.9" cy="677.48" r="1.15" fill="#ff0000"/>
<circle cx="254.9" cy="679.88" r="1.15" fill="#ff0000"/>
<circle cx="208.36" cy="670.76" r="1.15" fill="#ff0000"/>
<circle cx="208.36" cy="673.16" r="1.15" fill="#ff0000"/>
<circle cx="254.76" cy="652.05" r="1.15" fill="#ff0000"/>
<circle cx="198.96" cy="685.17" r="1.15" fill="#ff0000"/>
<circle cx="199.92" cy="691.2" r="1.15" fill="#ff0000"/>
<circle cx="222.54" cy="667.42" r="1.15" fill="#ff0000"/>
<circle cx="194.76" cy="685.35" r="1.15" fill="#ff0000"/>
<circle cx="221.96" cy="671.27" r="1.15" fill="#ff0000"/>
<circle cx="203.05" cy="680.28" r="1.15" fill="#ff0000"/>
<circle cx="230.77" cy="674.19" r="1.15" fill="#ff0000"/>
<circle cx="253.11" cy="671.41" r="1.15" fill="#0072bd"/>
<circle cx="195.72" cy="679.79" r="1.15" fill="#ff0000"/>
<circle cx="212.84" cy="688.11" r="1.15" fill="#ff0000"/>
<circle cx="211.47" cy="677.85" r="1.15" fill="#ff0000"/>
<circle cx="189.72" cy="695.36" r="1.15" fill="#ff0000"/>
<circle cx="203.07" cy="697.19" r="1.15" fill="#ff0000"/>
<circle cx="197.6" cy="688.15" r="1.15" fill="#ff0000"/>
<circle cx="246.38" cy="645.69" r="1.15" fill="#ff0000"/>
<circle cx="221.13" cy="677.1" r="1.15" fill="#ff0000"/>
<circle cx="209.71" cy="688.46" r="1.15" fill="#0072bd"/>
<circle cx="209.71" cy="690.86" r="1.15" fill="#0072bd"/>
<circle cx="244.64" cy="662.29" r="1.15" fill="#ff0000"/>
<circle cx="219.68" cy="686.04" r="1.15" fill="#ff0000"/>
<circle cx="234.22" cy="658.5" r="1.15" fill="#ff0000"/>
<circle cx="252.67" cy="671.72" r="1.15" fill="#ff0000"/>
<circle cx="254.28" cy="656.07" r="1.15" fill="#ff0000"/>
<circle cx="227.01" cy="670.09" r="1.15" fill="#ff0000"/>
<circle cx="187.86" cy="676.33" r="1.15" fill="#ff0000"/>
<circle cx="203.2" cy="687.53" r="1.15" fill="#ff0000"/>
<circle cx="246.68" cy="661.99" r="1.15" fill="#ff0000"/>
<circle cx="188.97" cy="692.43" r="1.15" fill="#ff0000"/>
<circle cx="196.48" cy="694.66" r="1.15" fill="#0072bd"/>
<circle cx="236.75" cy="672.23" r="1.15" fill="#ff0000"/>
<circle cx="210.06" cy="682.6" r="1.15" fill="#0072bd"/>
<circle cx="225.37" cy="654.14" r="1.15" fill="#ff0000"/>
<circle cx="225.37" cy="656.54" r="1.15" fill="#ff0000"/>
<circle cx="226.03" cy="665.71" r="1.15" fill="#ff0000"/>
<circle cx="201.06" cy="667.69" r="1.15" fill="#ff0000"/>
<circle cx="193.92" cy="701.98" r="1.15" fill="#ff0000"/>
<circle cx="233.11" cy="654.41" r="1.15" fill="#ff0000"/>
<circle cx="243.38" cy="665.97" r="1.15" fill="#ff0000"/>
<circle cx="243.38" cy="668.37" r="1.15" fill="#ff0000"/>
<circle cx="235.88" cy="660.52" r="1.15" fill="#ff0000"/>
<circle cx="227.77" cy="669.21" r="1.15" fill="#0072bd"/>
<circle cx="195.29" cy="673.28" r="1.15" fill="#ff0000"/>
<circle cx="195.29" cy="675.68" r="1.15" fill="#ff0000"/>
<circle cx="196.03" cy="700.14" r="1.15" fill="#ff0000"/>
<circle cx="195.35" cy="675.61" r="1.15" fill="#ff0000"/>
<circle cx="232.98" cy="672.19" r="1.15" fill="#ff0000"/>
<circle cx="219.86" cy="676.87" r="1.15" fill="#ff0000"/>
<circle cx="219.86" cy="679.27" r="1.15" fill="#ff0000"/>
<circle cx="190.76" cy="695.83" r="1.15" fill="#ff0000"/>
<circle cx="190.76" cy="698.23" r="1.15" fill="#ff0000"/>
<circle cx="248.67" cy="642.18" r="1.15" fill="#ff0000"/>
<circle cx="205.36" cy="667.16" r="1.15" fill="#ff0000"/>
<circle cx="184.96" cy="688.77" r="1.15" fill="#ff0000"/>
<circle cx="238.55" cy="656.13" r="1.15" fill="#ff0000"/>
<circle cx="238.55" cy="658.53" r="1.15" fill="#ff0000"/>
<circle cx="185.16" cy="686.3" r="1.15" fill="#ff0000"/>
<circle cx="185.16" cy="688.7" r="1.15" fill="#ff0000"/>
<circle cx="231.04" cy="674.1" r="1.15" fill="#ff0000"/>
<circle cx="231.04" cy="676.5" r="1.15" fill="#ff0000"/>
<circle cx="235.5" cy="645.61" r="1.15" fill="#ff0000"/>
<circle cx="221.05" cy="680.25" r="1.15" fill="#ff0000"/>
<circle cx="221.05" cy="682.65" r="1.15" fill="#ff0000"/>
<circle cx="197.62" cy="689.85" r="1.15" fill="#0072bd"/>
<circle cx="210.23" cy="686.08" r="1.15" fill="#ff0000"/>
<circle cx="211.98" cy="684.97" r="1.15" fill="#ff0000"/>
<circle cx="229.4" cy="658.81" r="1.15" fill="#ff0000"/>
<circle cx="229.4" cy="661.21" r="1.15" fill="#ff0000"/>
<circle cx="234.75" cy="674.55" r="1.15" fill="#ff0000"/>
<circle cx="205.48" cy="670.62" r="1.15" fill="#ff0000"/>
<circle cx="234.62" cy="661.37" r="1.15" fill="#ff0000"/>
<circle cx="220.45" cy="669.99" r="1.15" fill="#ff0000"/>
<circle cx="220.45" cy="672.39" r="1.15" fill="#ff0000"/>
<circle cx="188.02" cy="689.16" r="1.15" fill="#ff0000"/>
<circle cx="204.54" cy="693.65" r="1.15" fill="#ff0000"/>
<circle cx="244.66" cy="680.06" r="1.15" fill="#ff0000"/>
<circle cx="224.16" cy="676.52" r="1.15" fill="#ff0000"/>
<circle cx="201.48" cy="684.31" r="1.15" fill="#ff0000"/>
<circle cx="263.09" cy="659.64" r="1.15" fill="#ff0000"/>
<circle cx="223.76" cy="671.27" r="1.15" fill="#ff0000"/>
<circle cx="223.76" cy="673.67" r="1.15" fill="#ff0000"/>
<circle cx="218.09" cy="672.17" r="1.15" fill="#0072bd"/>
<circle cx="218.78" cy="682.01" r="1.15" fill="#ff0000"/>
<circle cx="239.58" cy="650.69" r="1.15" fill="#ff0000"/>
<circle cx="203.02" cy="676.79" r="1.15" fill="#ff0000"/>
<circle cx="195.56" cy="701.36" r="1.15" fill="#ff0000"/>
<circle cx="203.52" cy="687.84" r="1.15" fill="#ff0000"/>
<circle cx="193.8" cy="690.62" r="1.15" fill="#0072bd"/>
<circle cx="199.28" cy="673.33" r="1.15" fill="#ff0000"/>
<circle cx="240.26" cy="654.29" r="1.15" fill="#ff0000"/>
<circle cx="224.81" cy="666.35" r="1.15" fill="#ff0000"/>
<circle cx="201.8" cy="663.21" r="1.15" fill="#ff0000"/>
<circle cx="202.16" cy="687.43" r="1.15" fill="#ff0000"/>
<circle cx="202.16" cy="689.83" r="1.15" fill="#ff0000"/>
<circle cx="190.22" cy="681.18" r="1.15" fill="#ff0000"/>
<circle cx="206.16" cy="674.21" r="1.15" fill="#ff0000"/>
<circle cx="226.01" cy="678.95" r="1.15" fill="#ff0000"/>
<circle cx="236.12" cy="661.34" r="1.15" fill="#ff0000"/>
<circle cx="204.21" cy="699.04" r="1.15" fill="#ff0000"/>
<circle cx="247.37" cy="633.01" r="1.15" fill="#ff0000"/>
<circle cx="257.72" cy="647.97" r="1.15" fill="#ff0000"/>
<circle cx="241.08" cy="661.27" r="1.15" fill="#ff0000"/>
<circle cx="211.02" cy="684.28" r="1.15" fill="#ff0000"/>
<circle cx="240.61" cy="657.12" r="1.15" fill="#ff0000"/>
<circle cx="183.99" cy="688.18" r="1.15" fill="#0072bd"/>
<circle cx="194.57" cy="700.98" r="1.15" fill="#0072bd"/>
<circle cx="210.91" cy="676.95" r="1.15" fill="#ff0000"/>
<circle cx="210.91" cy="679.35" r="1.15" fill="#ff0000"/>
<circle cx="216.13" cy="675.06" r="1.15" fill="#ff0000"/>
<circle cx="209.08" cy="697.27" r="1.15" fill="#ff0000"/>
<circle cx="217.8" cy="672.31" r="1.15" fill="#ff0000"/>
<circle cx="237.33" cy="658.17" r="1.15" fill="#ff0000"/>
<circle cx="201.58" cy="689.69" r="1.15" fill="#ff0000"/>
<circle cx="249.28" cy="647.82" r="1.15" fill="#0072bd"/>
<circle cx="219.81" cy="670.11" r="1.15" fill="#ff0000"/>
<circle cx="233.49" cy="668.76" r="1.15" fill="#ff0000"/>
<circle cx="203.9" cy="683.13" r="1.15" fill="#ff0000"/>
<circle cx="262.61" cy="660.59" r="1.15" fill="#ff0000"/>
<circle cx="197.46" cy="679.63" r="1.15" fill="#0072bd"/>
<circle cx="230.74" cy="677.21" r="1.15" fill="#ff0000"/>
<circle cx="253.34" cy="640.57" r="1.15" fill="#ff0000"/>
<circle cx="214.85" cy="674.34" r="1.15" fill="#ff0000"/>
<circle cx="214.85" cy="676.74" r="1.15" fill="#ff0000"/>
<circle cx="207.75" cy="685.22" r="1.15" fill="#0072bd"/>
<circle cx="245.25" cy="688.23" r="1.15" fill="#ff0000"/>
<circle cx="201.01" cy="678.52" r="1.15" fill="#ff0000"/>
<circle cx="221.44" cy="670.47" r="1.15" fill="#ff0000"/>
<circle cx="240.1" cy="651.65" r="1.15" fill="#ff0000"/>
<circle cx="234.84" cy="665.62" r="1.15" fill="#ff0000"/>
<circle cx="198.39" cy="666.17" r="1.15" fill="#ff0000"/>
<circle cx="249.3" cy="633.95" r="1.15" fill="#ff0000"/>
<circle cx="203.41" cy="707.53" r="1.15" fill="#0072bd"/>
<circle cx="212.92" cy="692.62" r="1.15" fill="#ff0000"/>
<circle cx="219.83" cy="673.4" r="1.15" fill="#ff0000"/>
<circle cx="237.4" cy="679.21" r="1.15" fill="#ff0000"/>
<circle cx="236.89" cy="652.07" r="1.15" fill="#ff0000"/>
<circle cx="240.61" cy="648.3" r="1.15" fill="#ff0000"/>
<circle cx="217.73" cy="668.17" r="1.15" fill="#ff0000"/>
<circle cx="216.15" cy="690.08" r="1.15" fill="#ff0000"/>
<circle cx="230.12" cy="678.1" r="1.15" fill="#ff0000"/>
<circle cx="209.23" cy="700.12" r="1.15" fill="#ff0000"/>
<circle cx="192.69" cy="681.21" r="1.15" fill="#ff0000"/>
<circle cx="238.49" cy="643.02" r="1.15" fill="#0072bd"/>
<circle cx="217.8" cy="681.59" r="1.15" fill="#ff0000"/>
<circle cx="235.66" cy="652.9" r="1.15" fill="#ff0000"/>
<circle cx="204.59" cy="703.19" r="1.15" fill="#ff0000"/>
<circle cx="204.59" cy="705.59" r="1.15" fill="#ff0000"/>
<circle cx="256.47" cy="651.8" r="1.15" fill="#ff0000"/>
<circle cx="250.11" cy="650.48" r="1.15" fill="#ff0000"/>
<circle cx="238.86" cy="678.94" r="1.15" fill="#ff0000"/>
<circle cx="230.49" cy="673.64" r="1.15" fill="#ff0000"/>
<circle cx="242.44" cy="670.77" r="1.15" fill="#ff0000"/>
<circle cx="184.61" cy="690.15" r="1.15" fill="#ff0000"/>
<circle cx="195.4" cy="691.45" r="1.15" fill="#ff0000"/>
<circle cx="207.66" cy="675.81" r="1.15" fill="#ff0000"/>
<circle cx="207.01" cy="675.04" r="1.15" fill="#ff0000"/>
<circle cx="250.23" cy="654.16" r="1.15" fill="#ff0000"/>
<circle cx="207.79" cy="682.07" r="1.15" fill="#ff0000"/>
<circle cx="207.79" cy="684.47" r="1.15" fill="#ff0000"/>
<circle cx="186.33" cy="690.5" r="1.15" fill="#ff0000"/>
<circle cx="202.74" cy="695.88" r="1.15" fill="#ff0000"/>
<circle cx="252.92" cy="663.24" r="1.15" fill="#ff0000"/>
<circle cx="210.16" cy="671.71" r="1.15" fill="#ff0000"/>
<circle cx="263.07" cy="655.29" r="1.15" fill="#ff0000"/>
<circle cx="259.84" cy="670.91" r="1.15" fill="#ff0000"/>
<circle cx="261.04" cy="654.53" r="1.15" fill="#ff0000"/>
<circle cx="194.45" cy="701.48" r="1.15" fill="#0072bd"/>
<circle cx="242.18" cy="655.6" r="1.15" fill="#ff0000"/>
<circle cx="229.1" cy="664.02" r="1.15" fill="#ff0000"/>
<circle cx="213.85" cy="676.52" r="1.15" fill="#ff0000"/>
<circle cx="248.65" cy="671.69" r="1.15" fill="#ff0000"/>
<circle cx="219.68" cy="687.43" r="1.15" fill="#ff0000"/>
<circle cx="242.62" cy="660.26" r="1.15" fill="#ff0000"/>
<circle cx="201.94" cy="685.06" r="1.15" fill="#ff0000"/>
<circle cx="206.94" cy="690.79" r="1.15" fill="#ff0000"/>
<circle cx="199.24" cy="686.11" r="1.15" fill="#ff0000"/>
<circle cx="69.4" cy="750.14" r="1.15" fill="#ff0000"/>
<circle cx="69.4" cy="760.21" r="1.15" fill="#ff0000"/>
<circle cx="274.91" cy="647.39" r="1.15" fill="#ff0000"/>
<circle cx="274.91" cy="664.18" r="1.15" fill="#ff0000"/>
<circle cx="274.91" cy="669.21" r="1.15" fill="#ff0000"/>
<circle cx="237.97" cy="695.41" r="1.15" fill="#0072bd"/>
<circle cx="81.83" cy="769.28" r="1.15" fill="#0072bd"/>
<line x1="78.5" y1="775.3" x2="264.8" y2="644" stroke="#000" stroke-width="2"/>
<circle cx="86.55" cy="769.68" r="1.15" fill="#0072bd"/>
<circle cx="125.24" cy="749.02" r="1.15" fill="#0072bd"/>
<circle cx="96.96" cy="760.8" r="1.15" fill="#0072bd"/>
<circle cx="99.68" cy="744.15" r="1.15" fill="#0072bd"/>
<circle cx="84.95" cy="762.51" r="1.15" fill="#ff0000"/>
<circle cx="108.8" cy="774.72" r="1.15" fill="#0072bd"/>
<circle cx="109.1" cy="747.74" r="1.15" fill="#0072bd"/>
<circle cx="111.69" cy="735.22" r="1.15" fill="#0072bd"/>
<circle cx="83.34" cy="765.39" r="1.15" fill="#0072bd"/>
<circle cx="109.98" cy="755.24" r="1.15" fill="#0072bd"/>
<circle cx="101.84" cy="759.95" r="1.15" fill="#0072bd"/>
<circle cx="100.07" cy="759.96" r="1.15" fill="#0072bd"/>
<circle cx="109.31" cy="744.18" r="1.15" fill="#ff0000"/>
<circle cx="111.14" cy="745.41" r="1.15" fill="#0072bd"/>
<circle cx="84.89" cy="763.95" r="1.15" fill="#0072bd"/>
<circle cx="110.18" cy="762.1" r="1.15" fill="#0072bd"/>
<circle cx="185.67" cy="706.32" r="1.15" fill="#0072bd"/>
<circle cx="154.89" cy="721.81" r="1.15" fill="#0072bd"/>
<circle cx="158.33" cy="703.48" r="1.15" fill="#0072bd"/>
<circle cx="158.33" cy="705.88" r="1.15" fill="#0072bd"/>
<circle cx="157.79" cy="695.57" r="1.15" fill="#0072bd"/>
<circle cx="154.12" cy="729" r="1.15" fill="#0072bd"/>
<circle cx="136.45" cy="707.05" r="1.15" fill="#0072bd"/>
<circle cx="168.93" cy="714.43" r="1.15" fill="#0072bd"/>
<circle cx="140.22" cy="733.06" r="1.15" fill="#0072bd"/>
<circle cx="140.22" cy="735.46" r="1.15" fill="#0072bd"/>
<circle cx="166.5" cy="707.39" r="1.15" fill="#0072bd"/>
<circle cx="116.95" cy="725.41" r="1.15" fill="#0072bd"/>
<circle cx="148.67" cy="732.96" r="1.15" fill="#0072bd"/>
<circle cx="182.64" cy="697.7" r="1.15" fill="#0072bd"/>
<circle cx="177.98" cy="703.38" r="1.15" fill="#0072bd"/>
<circle cx="123.44" cy="734.25" r="1.15" fill="#0072bd"/>
<circle cx="172.42" cy="700.68" r="1.15" fill="#0072bd"/>
<circle cx="196.29" cy="711.96" r="1.15" fill="#0072bd"/>
<circle cx="164.33" cy="721.91" r="1.15" fill="#0072bd"/>
<circle cx="152.52" cy="730.63" r="1.15" fill="#0072bd"/>
<circle cx="149.95" cy="728.08" r="1.15" fill="#0072bd"/>
<circle cx="162.32" cy="735.11" r="1.15" fill="#0072bd"/>
<circle cx="121.69" cy="728.61" r="1.15" fill="#0072bd"/>
<circle cx="150.21" cy="758.66" r="1.15" fill="#0072bd"/>
<circle cx="145.13" cy="737.5" r="1.15" fill="#ff0000"/>
<circle cx="150.27" cy="696.42" r="1.15" fill="#0072bd"/>
<circle cx="169.03" cy="734.61" r="1.15" fill="#0072bd"/>
<circle cx="188.68" cy="700.04" r="1.15" fill="#0072bd"/>
<circle cx="116.21" cy="723.2" r="1.15" fill="#0072bd"/>
<circle cx="181.05" cy="696.66" r="1.15" fill="#0072bd"/>
<circle cx="156.57" cy="738.48" r="1.15" fill="#0072bd"/>
<circle cx="144.56" cy="729.34" r="1.15" fill="#0072bd"/>
<circle cx="155.48" cy="725.28" r="1.15" fill="#0072bd"/>
<circle cx="152.37" cy="726.77" r="1.15" fill="#0072bd"/>
<circle cx="137.5" cy="700.82" r="1.15" fill="#0072bd"/>
<circle cx="196.13" cy="727.56" r="1.15" fill="#0072bd"/>
<circle cx="177.24" cy="704.73" r="1.15" fill="#ff0000"/>
<circle cx="164.1" cy="697.3" r="1.15" fill="#0072bd"/>
<circle cx="143.3" cy="730.69" r="1.15" fill="#0072bd"/>
<circle cx="167.63" cy="689.34" r="1.15" fill="#0072bd"/>
<circle cx="161.3" cy="685.4" r="1.15" fill="#0072bd"/>
<circle cx="135.6" cy="725.91" r="1.15" fill="#0072bd"/>
<circle cx="155.22" cy="718.63" r="1.15" fill="#0072bd"/>
<circle cx="155.22" cy="721.03" r="1.15" fill="#0072bd"/>
<circle cx="117.46" cy="712.42" r="1.15" fill="#ff0000"/>
<circle cx="140.24" cy="737.67" r="1.15" fill="#ff0000"/>
<circle cx="156.27" cy="719.68" r="1.15" fill="#0072bd"/>
<circle cx="153.09" cy="711.86" r="1.15" fill="#0072bd"/>
<circle cx="191.72" cy="708.3" r="1.15" fill="#0072bd"/>
<circle cx="161.58" cy="726.59" r="1.15" fill="#ff0000"/>
<circle cx="140.99" cy="750.96" r="1.15" fill="#0072bd"/>
<circle cx="165.1" cy="697.05" r="1.15" fill="#0072bd"/>
<circle cx="187.97" cy="710.16" r="1.15" fill="#0072bd"/>
<circle cx="139.44" cy="745.43" r="1.15" fill="#0072bd"/>
<circle cx="136.05" cy="720.53" r="1.15" fill="#0072bd"/>
<circle cx="139.97" cy="715.14" r="1.15" fill="#0072bd"/>
<circle cx="137.16" cy="733.53" r="1.15" fill="#0072bd"/>
<circle cx="118.76" cy="733.08" r="1.15" fill="#0072bd"/>
<circle cx="139.77" cy="744.84" r="1.15" fill="#0072bd"/>
<circle cx="160.5" cy="706.77" r="1.15" fill="#0072bd"/>
<circle cx="191.24" cy="703.37" r="1.15" fill="#0072bd"/>
<circle cx="131.19" cy="731.65" r="1.15" fill="#0072bd"/>
<circle cx="131.19" cy="734.05" r="1.15" fill="#0072bd"/>
<circle cx="170.56" cy="697.19" r="1.15" fill="#0072bd"/>
<circle cx="123.14" cy="720.52" r="1.15" fill="#0072bd"/>
<circle cx="141.56" cy="719.99" r="1.15" fill="#0072bd"/>
<circle cx="144.23" cy="733.26" r="1.15" fill="#ff0000"/>
<circle cx="136.51" cy="710.83" r="1.15" fill="#0072bd"/>
<circle cx="133.5" cy="733.15" r="1.15" fill="#0072bd"/>
<circle cx="163.99" cy="696.78" r="1.15" fill="#0072bd"/>
<circle cx="181.25" cy="690.94" r="1.15" fill="#0072bd"/>
<circle cx="130.75" cy="713.38" r="1.15" fill="#0072bd"/>
<circle cx="197.76" cy="711.48" r="1.15" fill="#0072bd"/>
<circle cx="177.66" cy="723.89" r="1.15" fill="#0072bd"/>
<circle cx="166.08" cy="702.21" r="1.15" fill="#0072bd"/>
<circle cx="137.81" cy="741.18" r="1.15" fill="#0072bd"/>
<circle cx="148.11" cy="697.76" r="1.15" fill="#0072bd"/>
<circle cx="171.24" cy="697.24" r="1.15" fill="#0072bd"/>
<circle cx="154.77" cy="738.72" r="1.15" fill="#0072bd"/>
<circle cx="163.28" cy="709.74" r="1.15" fill="#0072bd"/>
<circle cx="186.7" cy="719.08" r="1.15" fill="#0072bd"/>
<circle cx="156.09" cy="723.68" r="1.15" fill="#0072bd"/>
<circle cx="181.15" cy="701.81" r="1.15" fill="#ff0000"/>
<circle cx="145.16" cy="741.56" r="1.15" fill="#0072bd"/>
<circle cx="164.5" cy="702.14" r="1.15" fill="#0072bd"/>
<circle cx="123.05" cy="733.62" r="1.15" fill="#ff0000"/>
<circle cx="141.57" cy="737.2" r="1.15" fill="#0072bd"/>
<circle cx="173.96" cy="717.07" r="1.15" fill="#0072bd"/>
<circle cx="145.09" cy="718.03" r="1.15" fill="#0072bd"/>
<circle cx="189.67" cy="705.97" r="1.15" fill="#0072bd"/>
<circle cx="148.81" cy="723.06" r="1.15" fill="#0072bd"/>
<circle cx="158.63" cy="718.27" r="1.15" fill="#0072bd"/>
<circle cx="173.14" cy="691.45" r="1.15" fill="#ff0000"/>
<circle cx="167.33" cy="691.11" r="1.15" fill="#ff0000"/>
<circle cx="213.21" cy="681.99" r="1.15" fill="#0072bd"/>
<circle cx="159.32" cy="698.61" r="1.15" fill="#0072bd"/>
<circle cx="166" cy="717.69" r="1.15" fill="#0072bd"/>
<circle cx="161.02" cy="712.66" r="1.15" fill="#0072bd"/>
<circle cx="166.29" cy="717.9" r="1.15" fill="#0072bd"/>
<circle cx="163.86" cy="709.47" r="1.15" fill="#ff0000"/>
<circle cx="183.93" cy="690.58" r="1.15" fill="#0072bd"/>
<circle cx="192.35" cy="692.41" r="1.15" fill="#0072bd"/>
<circle cx="188.45" cy="687.58" r="1.15" fill="#ff0000"/>
<circle cx="164.93" cy="716.3" r="1.15" fill="#ff0000"/>
<circle cx="174.85" cy="697.26" r="1.15" fill="#0072bd"/>
<circle cx="204.93" cy="673.1" r="1.15" fill="#0072bd"/>
<circle cx="200.55" cy="703.8" r="1.15" fill="#ff0000"/>
<circle cx="208.68" cy="688.29" r="1.15" fill="#0072bd"/>
<circle cx="171.97" cy="708.73" r="1.15" fill="#ff0000"/>
<circle cx="186.18" cy="691.92" r="1.15" fill="#0072bd"/>
<circle cx="171.61" cy="710.7" r="1.15" fill="#0072bd"/>
<circle cx="204.95" cy="690.5" r="1.15" fill="#0072bd"/>
<circle cx="184.18" cy="705.63" r="1.15" fill="#0072bd"/>
<circle cx="183.06" cy="697.71" r="1.15" fill="#ff0000"/>
<circle cx="183.06" cy="700.11" r="1.15" fill="#ff0000"/>
<circle cx="180.04" cy="683.81" r="1.15" fill="#0072bd"/>
<circle cx="184.89" cy="698.47" r="1.15" fill="#ff0000"/>
<circle cx="202.53" cy="681.35" r="1.15" fill="#ff0000"/>
<circle cx="173.33" cy="703.51" r="1.15" fill="#ff0000"/>
<circle cx="153.45" cy="699.04" r="1.15" fill="#ff0000"/>
<circle cx="206.96" cy="680.43" r="1.15" fill="#0072bd"/>
<circle cx="157.75" cy="717.26" r="1.15" fill="#ff0000"/>
<circle cx="173.16" cy="730.38" r="1.15" fill="#ff0000"/>
<circle cx="164.67" cy="707.6" r="1.15" fill="#ff0000"/>
<circle cx="209.91" cy="678.46" r="1.15" fill="#0072bd"/>
<circle cx="205.52" cy="675.26" r="1.15" fill="#0072bd"/>
<circle cx="210.72" cy="682.3" r="1.15" fill="#ff0000"/>
<circle cx="167.22" cy="725.4" r="1.15" fill="#ff0000"/>
<circle cx="209.02" cy="689.67" r="1.15" fill="#0072bd"/>
<circle cx="199.62" cy="683.23" r="1.15" fill="#0072bd"/>
<circle cx="176.66" cy="677.19" r="1.15" fill="#0072bd"/>
<circle cx="168.13" cy="714.41" r="1.15" fill="#0072bd"/>
<circle cx="197.91" cy="681.63" r="1.15" fill="#0072bd"/>
<circle cx="173.57" cy="699.54" r="1.15" fill="#ff0000"/>
<circle cx="180.97" cy="716.85" r="1.15" fill="#ff0000"/>
<circle cx="172.42" cy="693.93" r="1.15" fill="#0072bd"/>
<circle cx="149.91" cy="697.84" r="1.15" fill="#ff0000"/>
<circle cx="188.57" cy="701.3" r="1.15" fill="#0072bd"/>
<circle cx="196.83" cy="685.59" r="1.15" fill="#0072bd"/>
<circle cx="196.49" cy="691.69" r="1.15" fill="#0072bd"/>
<circle cx="197.82" cy="677.08" r="1.15" fill="#ff0000"/>
<circle cx="153.9" cy="696.76" r="1.15" fill="#ff0000"/>
<circle cx="182.98" cy="686.41" r="1.15" fill="#ff0000"/>
<circle cx="189.5" cy="691.29" r="1.15" fill="#ff0000"/>
<circle cx="163.33" cy="710.21" r="1.15" fill="#ff0000"/>
<circle cx="159.65" cy="715.57" r="1.15" fill="#0072bd"/>
<circle cx="170.28" cy="706.33" r="1.15" fill="#ff0000"/>
<circle cx="177.6" cy="693.02" r="1.15" fill="#0072bd"/>
<circle cx="201.63" cy="702.46" r="1.15" fill="#ff0000"/>
<circle cx="172.68" cy="733.56" r="1.15" fill="#0072bd"/>
<circle cx="189.9" cy="672.93" r="1.15" fill="#ff0000"/>
<circle cx="222.93" cy="695.27" r="1.15" fill="#ff0000"/>
<circle cx="171.47" cy="712.7" r="1.15" fill="#0072bd"/>
<circle cx="161.76" cy="708.41" r="1.15" fill="#ff0000"/>
<circle cx="229.72" cy="669.78" r="1.15" fill="#ff0000"/>
<circle cx="192.73" cy="676.58" r="1.15" fill="#ff0000"/>
<circle cx="212.32" cy="673.48" r="1.15" fill="#ff0000"/>
<circle cx="253.9" cy="665.08" r="1.15" fill="#ff0000"/>
<circle cx="257.85" cy="659.6" r="1.15" fill="#ff0000"/>
<circle cx="186.38" cy="680.28" r="1.15" fill="#ff0000"/>
<circle cx="200.63" cy="681.99" r="1.15" fill="#ff0000"/>
<circle cx="195.76" cy="700.71" r="1.15" fill="#ff0000"/>
<circle cx="209.75" cy="683.82" r="1.15" fill="#ff0000"/>
<circle cx="209.75" cy="686.22" r="1.15" fill="#ff0000"/>
<circle cx="243.72" cy="644.7" r="1.15" fill="#ff0000"/>
<circle cx="197.6" cy="685.75" r="1.15" fill="#ff0000"/>
<circle cx="246.38" cy="648.09" r="1.15" fill="#ff0000"/>
<circle cx="237.92" cy="661.4" r="1.15" fill="#ff0000"/>
<circle cx="256.96" cy="660.21" r="1.15" fill="#ff0000"/>
<circle cx="221.13" cy="674.7" r="1.15" fill="#ff0000"/>
<circle cx="237.12" cy="651.8" r="1.15" fill="#ff0000"/>
<circle cx="240.55" cy="660.19" r="1.15" fill="#ff0000"/>
<circle cx="214.51" cy="697.93" r="1.15" fill="#0072bd"/>
<circle cx="194.11" cy="684.15" r="1.15" fill="#ff0000"/>
<circle cx="199.44" cy="688.44" r="1.15" fill="#ff0000"/>
<circle cx="210.06" cy="685" r="1.15" fill="#0072bd"/>
<circle cx="226.03" cy="663.31" r="1.15" fill="#ff0000"/>
<circle cx="251.89" cy="644.23" r="1.15" fill="#ff0000"/>
<circle cx="251.95" cy="647.88" r="1.15" fill="#ff0000"/>
<circle cx="226.51" cy="673.85" r="1.15" fill="#ff0000"/>
<circle cx="218.47" cy="670.32" r="1.15" fill="#ff0000"/>
<circle cx="262.96" cy="657.61" r="1.15" fill="#0072bd"/>
<circle cx="199.89" cy="698.43" r="1.15" fill="#ff0000"/>
<circle cx="208.73" cy="683.33" r="1.15" fill="#ff0000"/>
<circle cx="253.47" cy="642.46" r="1.15" fill="#ff0000"/>
<circle cx="253.47" cy="644.86" r="1.15" fill="#ff0000"/>
<circle cx="242.98" cy="647.64" r="1.15" fill="#ff0000"/>
<circle cx="224.16" cy="678.92" r="1.15" fill="#ff0000"/>
<circle cx="206.12" cy="683.63" r="1.15" fill="#ff0000"/>
<circle cx="215.34" cy="676.06" r="1.15" fill="#ff0000"/>
<circle cx="204.22" cy="693.44" r="1.15" fill="#ff0000"/>
<circle cx="261.56" cy="655.81" r="1.15" fill="#ff0000"/>
<circle cx="203.02" cy="674.39" r="1.15" fill="#ff0000"/>
<circle cx="203.52" cy="690.24" r="1.15" fill="#ff0000"/>
<circle cx="199.28" cy="675.73" r="1.15" fill="#ff0000"/>
<circle cx="234.01" cy="670.41" r="1.15" fill="#ff0000"/>
<circle cx="213.34" cy="676.06" r="1.15" fill="#ff0000"/>
<circle cx="213.34" cy="678.46" r="1.15" fill="#ff0000"/>
<circle cx="245.22" cy="656.97" r="1.15" fill="#ff0000"/>
<circle cx="238.66" cy="662.04" r="1.15" fill="#ff0000"/>
<circle cx="185.18" cy="689.65" r="1.15" fill="#0072bd"/>
<circle cx="213.35" cy="680.51" r="1.15" fill="#ff0000"/>
<circle cx="200.1" cy="688.21" r="1.15" fill="#ff0000"/>
<circle cx="200.1" cy="690.61" r="1.15" fill="#ff0000"/>
<circle cx="194.57" cy="703.38" r="1.15" fill="#0072bd"/>
<circle cx="247.33" cy="668.19" r="1.15" fill="#ff0000"/>
<circle cx="208.71" cy="683.92" r="1.15" fill="#ff0000"/>
<circle cx="226.88" cy="684.89" r="1.15" fill="#ff0000"/>
<circle cx="203.87" cy="684.57" r="1.15" fill="#ff0000"/>
<circle cx="246.22" cy="659.42" r="1.15" fill="#0072bd"/>
<circle cx="264.09" cy="683.44" r="1.15" fill="#ff0000"/>
<circle cx="220.39" cy="669.77" r="1.15" fill="#0072bd"/>
<circle cx="228.17" cy="656.61" r="1.15" fill="#0072bd"/>
<circle cx="253.03" cy="657.66" r="1.15" fill="#ff0000"/>
<circle cx="239" cy="656.11" r="1.15" fill="#ff0000"/>
<circle cx="255.41" cy="654.64" r="1.15" fill="#ff0000"/>
<circle cx="204.51" cy="703.35" r="1.15" fill="#ff0000"/>
<circle cx="201.01" cy="676.12" r="1.15" fill="#ff0000"/>
<circle cx="221.44" cy="668.07" r="1.15" fill="#ff0000"/>
<circle cx="237.57" cy="662.66" r="1.15" fill="#ff0000"/>
<circle cx="201.27" cy="679.61" r="1.15" fill="#ff0000"/>
<circle cx="216.15" cy="692.48" r="1.15" fill="#ff0000"/>
<circle cx="192.69" cy="678.81" r="1.15" fill="#ff0000"/>
<circle cx="204.55" cy="664.18" r="1.15" fill="#0072bd"/>
<circle cx="207.66" cy="678.21" r="1.15" fill="#ff0000"/>
<circle cx="215.26" cy="676.59" r="1.15" fill="#ff0000"/>
<circle cx="191.7" cy="698.18" r="1.15" fill="#ff0000"/>
<circle cx="212.49" cy="706.37" r="1.15" fill="#ff0000"/>
<circle cx="252.92" cy="665.64" r="1.15" fill="#ff0000"/>
<circle cx="263.07" cy="657.69" r="1.15" fill="#ff0000"/>
<circle cx="242.18" cy="658" r="1.15" fill="#ff0000"/>
<circle cx="229.1" cy="661.62" r="1.15" fill="#ff0000"/>
<circle cx="191.08" cy="694.28" r="1.15" fill="#ff0000"/>
<circle cx="234.53" cy="651.03" r="1.15" fill="#ff0000"/>
<circle cx="211.8" cy="683.69" r="1.15" fill="#ff0000"/>
<circle cx="204.54" cy="682.79" r="1.15" fill="#ff0000"/>
<circle cx="69.4" cy="744.77" r="1.15" fill="#ff0000"/>
<circle cx="274.91" cy="654.1" r="1.15" fill="#ff0000"/>
<circle cx="100.97" cy="777" r="1.15" fill="#0072bd"/>
<text x="87.5" y="644.5" font-size="12.7" font-weight="bold" fill="#000">R<tspan font-size="8.8" dy="-4.7">2</tspan><tspan dy="4.7">=0.86</tspan></text>
<text id="t13" x="83.2" y="827.8" font-size="12.8" font-weight="bold" fill="#262626" text-anchor="start">ln(VSI<tspan font-size="10" dy="5.6">H</tspan><tspan dy="-5.6">)</tspan></text>
<text id="t14" x="246.3" y="828" font-size="12.9" font-weight="bold" fill="#262626" text-anchor="start">ln(A RMS<tspan font-size="10" dy="5.6">V</tspan><tspan dy="-5.6">)</tspan></text>
<text id="t15" transform="translate(30.3,729.2) rotate(-90)" font-size="12.5" font-weight="bold" fill="#ff0000" text-anchor="start">ln( <tspan font-weight="normal">Σ</tspan> E<tspan font-size="9.8" dy="5.5">h</tspan><tspan dy="-5.5">)</tspan></text>
<text x="165.9" y="858.8" style="font-family:&quot;Liberation Serif&quot;, serif" font-size="15.8" fill="#000" text-anchor="middle">(e)</text>
<line x1="402.6" y1="781.57" x2="534.6" y2="754.47" stroke="#fdeaea" stroke-width="0.7"/>
<line x1="534.6" y1="754.47" x2="658.6" y2="782.77" stroke="#fdeaea" stroke-width="0.7"/>
<line x1="402.6" y1="776.31" x2="534.6" y2="749.21" stroke="#fdeaea" stroke-width="0.7"/>
<line x1="534.6" y1="749.21" x2="658.6" y2="777.51" stroke="#fdeaea" stroke-width="0.7"/>
<line x1="402.6" y1="771.05" x2="534.6" y2="743.95" stroke="#fdeaea" stroke-width="0.7"/>
<line x1="534.6" y1="743.95" x2="658.6" y2="772.25" stroke="#fdeaea" stroke-width="0.7"/>
<line x1="402.6" y1="765.79" x2="534.6" y2="738.69" stroke="#fdeaea" stroke-width="0.7"/>
<line x1="534.6" y1="738.69" x2="658.6" y2="766.99" stroke="#fdeaea" stroke-width="0.7"/>
<line x1="402.6" y1="760.53" x2="534.6" y2="733.43" stroke="#fdeaea" stroke-width="0.7"/>
<line x1="534.6" y1="733.43" x2="658.6" y2="761.73" stroke="#fdeaea" stroke-width="0.7"/>
<line x1="402.6" y1="755.27" x2="534.6" y2="728.17" stroke="#fdeaea" stroke-width="0.7"/>
<line x1="534.6" y1="728.17" x2="658.6" y2="756.47" stroke="#fdeaea" stroke-width="0.7"/>
<line x1="402.6" y1="750.01" x2="534.6" y2="722.91" stroke="#fdeaea" stroke-width="0.7"/>
<line x1="534.6" y1="722.91" x2="658.6" y2="751.21" stroke="#fdeaea" stroke-width="0.7"/>
<line x1="402.6" y1="744.75" x2="534.6" y2="717.65" stroke="#fdeaea" stroke-width="0.7"/>
<line x1="534.6" y1="717.65" x2="658.6" y2="745.95" stroke="#fdeaea" stroke-width="0.7"/>
<line x1="402.6" y1="739.49" x2="534.6" y2="712.39" stroke="#fdeaea" stroke-width="0.7"/>
<line x1="534.6" y1="712.39" x2="658.6" y2="740.69" stroke="#fdeaea" stroke-width="0.7"/>
<line x1="402.6" y1="734.23" x2="534.6" y2="707.13" stroke="#fdeaea" stroke-width="0.7"/>
<line x1="534.6" y1="707.13" x2="658.6" y2="735.43" stroke="#fdeaea" stroke-width="0.7"/>
<line x1="402.6" y1="728.97" x2="534.6" y2="701.87" stroke="#fdeaea" stroke-width="0.7"/>
<line x1="534.6" y1="701.87" x2="658.6" y2="730.17" stroke="#fdeaea" stroke-width="0.7"/>
<line x1="402.6" y1="723.71" x2="534.6" y2="696.61" stroke="#fdeaea" stroke-width="0.7"/>
<line x1="534.6" y1="696.61" x2="658.6" y2="724.91" stroke="#fdeaea" stroke-width="0.7"/>
<line x1="402.6" y1="718.45" x2="534.6" y2="691.35" stroke="#fdeaea" stroke-width="0.7"/>
<line x1="534.6" y1="691.35" x2="658.6" y2="719.65" stroke="#fdeaea" stroke-width="0.7"/>
<line x1="402.6" y1="713.19" x2="534.6" y2="686.09" stroke="#fdeaea" stroke-width="0.7"/>
<line x1="534.6" y1="686.09" x2="658.6" y2="714.39" stroke="#fdeaea" stroke-width="0.7"/>
<line x1="402.6" y1="707.93" x2="534.6" y2="680.83" stroke="#fdeaea" stroke-width="0.7"/>
<line x1="534.6" y1="680.83" x2="658.6" y2="709.13" stroke="#fdeaea" stroke-width="0.7"/>
<line x1="402.6" y1="702.67" x2="534.6" y2="675.57" stroke="#fdeaea" stroke-width="0.7"/>
<line x1="534.6" y1="675.57" x2="658.6" y2="703.87" stroke="#fdeaea" stroke-width="0.7"/>
<line x1="402.6" y1="697.41" x2="534.6" y2="670.31" stroke="#fdeaea" stroke-width="0.7"/>
<line x1="534.6" y1="670.31" x2="658.6" y2="698.61" stroke="#fdeaea" stroke-width="0.7"/>
<line x1="402.6" y1="692.15" x2="534.6" y2="665.05" stroke="#fdeaea" stroke-width="0.7"/>
<line x1="534.6" y1="665.05" x2="658.6" y2="693.35" stroke="#fdeaea" stroke-width="0.7"/>
<line x1="402.6" y1="686.89" x2="534.6" y2="659.79" stroke="#fdeaea" stroke-width="0.7"/>
<line x1="534.6" y1="659.79" x2="658.6" y2="688.09" stroke="#fdeaea" stroke-width="0.7"/>
<line x1="402.6" y1="681.63" x2="534.6" y2="654.53" stroke="#fdeaea" stroke-width="0.7"/>
<line x1="534.6" y1="654.53" x2="658.6" y2="682.83" stroke="#fdeaea" stroke-width="0.7"/>
<line x1="402.6" y1="676.37" x2="534.6" y2="649.27" stroke="#fdeaea" stroke-width="0.7"/>
<line x1="534.6" y1="649.27" x2="658.6" y2="677.57" stroke="#fdeaea" stroke-width="0.7"/>
<line x1="402.6" y1="671.11" x2="534.6" y2="644.01" stroke="#fdeaea" stroke-width="0.7"/>
<line x1="534.6" y1="644.01" x2="658.6" y2="672.31" stroke="#fdeaea" stroke-width="0.7"/>
<line x1="402.6" y1="665.85" x2="534.6" y2="638.75" stroke="#fdeaea" stroke-width="0.7"/>
<line x1="534.6" y1="638.75" x2="658.6" y2="667.05" stroke="#fdeaea" stroke-width="0.7"/>
<line x1="402.6" y1="660.59" x2="534.6" y2="633.49" stroke="#fdeaea" stroke-width="0.7"/>
<line x1="534.6" y1="633.49" x2="658.6" y2="661.79" stroke="#fdeaea" stroke-width="0.7"/>
<line x1="402.6" y1="655.33" x2="534.6" y2="628.23" stroke="#fdeaea" stroke-width="0.7"/>
<line x1="534.6" y1="628.23" x2="658.6" y2="656.53" stroke="#fdeaea" stroke-width="0.7"/>
<line x1="402.6" y1="650.07" x2="534.6" y2="622.97" stroke="#fdeaea" stroke-width="0.7"/>
<line x1="534.6" y1="622.97" x2="658.6" y2="651.27" stroke="#fdeaea" stroke-width="0.7"/>
<line x1="402.6" y1="644.81" x2="534.6" y2="617.71" stroke="#fdeaea" stroke-width="0.7"/>
<line x1="534.6" y1="617.71" x2="658.6" y2="646.01" stroke="#fdeaea" stroke-width="0.7"/>
<line x1="417.27" y1="779.09" x2="417.27" y2="636.81" stroke="#e4e4e4" stroke-width="0.7"/>
<line x1="446.6" y1="773.07" x2="446.6" y2="630.78" stroke="#e4e4e4" stroke-width="0.7"/>
<line x1="475.93" y1="767.04" x2="475.93" y2="624.76" stroke="#e4e4e4" stroke-width="0.7"/>
<line x1="505.27" y1="761.02" x2="505.27" y2="618.74" stroke="#e4e4e4" stroke-width="0.7"/>
<line x1="534.6" y1="755" x2="534.6" y2="612.72" stroke="#e4e4e4" stroke-width="0.7"/>
<line x1="544.45" y1="757.25" x2="544.45" y2="614.96" stroke="#e4e4e4" stroke-width="0.7"/>
<line x1="601.52" y1="770.27" x2="601.52" y2="627.99" stroke="#e4e4e4" stroke-width="0.7"/>
<line x1="658.6" y1="783.3" x2="658.6" y2="641.02" stroke="#e4e4e4" stroke-width="0.7"/>
<line x1="412.45" y1="784.35" x2="544.45" y2="757.25" stroke="#e4e4e4" stroke-width="0.7"/>
<line x1="469.52" y1="797.37" x2="601.52" y2="770.27" stroke="#e4e4e4" stroke-width="0.7"/>
<line x1="526.6" y1="810.4" x2="658.6" y2="783.3" stroke="#e4e4e4" stroke-width="0.7"/>
<line x1="417.27" y1="779.09" x2="541.27" y2="807.39" stroke="#e4e4e4" stroke-width="0.7"/>
<line x1="446.6" y1="773.07" x2="570.6" y2="801.37" stroke="#e4e4e4" stroke-width="0.7"/>
<line x1="475.93" y1="767.04" x2="599.93" y2="795.34" stroke="#e4e4e4" stroke-width="0.7"/>
<line x1="505.27" y1="761.02" x2="629.27" y2="789.32" stroke="#e4e4e4" stroke-width="0.7"/>
<line x1="534.6" y1="755" x2="658.6" y2="783.3" stroke="#e4e4e4" stroke-width="0.7"/>
<line x1="402.6" y1="782.1" x2="526.6" y2="810.4" stroke="#505050" stroke-width="0.8"/>
<line x1="526.6" y1="810.4" x2="658.6" y2="783.3" stroke="#505050" stroke-width="0.8"/>
<line x1="402.6" y1="782.1" x2="402.6" y2="639.82" stroke="#ff8080" stroke-width="0.9"/>
<line x1="402.6" y1="781.57" x2="399.1" y2="781.57" stroke="#ff6a6a" stroke-width="0.9"/>
<line x1="402.6" y1="776.31" x2="400.6" y2="776.31" stroke="#ff6a6a" stroke-width="0.9"/>
<line x1="402.6" y1="771.05" x2="400.6" y2="771.05" stroke="#ff6a6a" stroke-width="0.9"/>
<line x1="402.6" y1="765.79" x2="400.6" y2="765.79" stroke="#ff6a6a" stroke-width="0.9"/>
<line x1="402.6" y1="760.53" x2="400.6" y2="760.53" stroke="#ff6a6a" stroke-width="0.9"/>
<line x1="402.6" y1="755.27" x2="399.1" y2="755.27" stroke="#ff6a6a" stroke-width="0.9"/>
<line x1="402.6" y1="750.01" x2="400.6" y2="750.01" stroke="#ff6a6a" stroke-width="0.9"/>
<line x1="402.6" y1="744.75" x2="400.6" y2="744.75" stroke="#ff6a6a" stroke-width="0.9"/>
<line x1="402.6" y1="739.49" x2="400.6" y2="739.49" stroke="#ff6a6a" stroke-width="0.9"/>
<line x1="402.6" y1="734.23" x2="400.6" y2="734.23" stroke="#ff6a6a" stroke-width="0.9"/>
<line x1="402.6" y1="728.97" x2="399.1" y2="728.97" stroke="#ff6a6a" stroke-width="0.9"/>
<line x1="402.6" y1="723.71" x2="400.6" y2="723.71" stroke="#ff6a6a" stroke-width="0.9"/>
<line x1="402.6" y1="718.45" x2="400.6" y2="718.45" stroke="#ff6a6a" stroke-width="0.9"/>
<line x1="402.6" y1="713.19" x2="400.6" y2="713.19" stroke="#ff6a6a" stroke-width="0.9"/>
<line x1="402.6" y1="707.93" x2="400.6" y2="707.93" stroke="#ff6a6a" stroke-width="0.9"/>
<line x1="402.6" y1="702.67" x2="399.1" y2="702.67" stroke="#ff6a6a" stroke-width="0.9"/>
<line x1="402.6" y1="697.41" x2="400.6" y2="697.41" stroke="#ff6a6a" stroke-width="0.9"/>
<line x1="402.6" y1="692.15" x2="400.6" y2="692.15" stroke="#ff6a6a" stroke-width="0.9"/>
<line x1="402.6" y1="686.89" x2="400.6" y2="686.89" stroke="#ff6a6a" stroke-width="0.9"/>
<line x1="402.6" y1="681.63" x2="400.6" y2="681.63" stroke="#ff6a6a" stroke-width="0.9"/>
<line x1="402.6" y1="676.37" x2="399.1" y2="676.37" stroke="#ff6a6a" stroke-width="0.9"/>
<line x1="402.6" y1="671.11" x2="400.6" y2="671.11" stroke="#ff6a6a" stroke-width="0.9"/>
<line x1="402.6" y1="665.85" x2="400.6" y2="665.85" stroke="#ff6a6a" stroke-width="0.9"/>
<line x1="402.6" y1="660.59" x2="400.6" y2="660.59" stroke="#ff6a6a" stroke-width="0.9"/>
<line x1="402.6" y1="655.33" x2="400.6" y2="655.33" stroke="#ff6a6a" stroke-width="0.9"/>
<line x1="402.6" y1="650.07" x2="399.1" y2="650.07" stroke="#ff6a6a" stroke-width="0.9"/>
<line x1="402.6" y1="644.81" x2="400.6" y2="644.81" stroke="#ff6a6a" stroke-width="0.9"/>
<text x="396" y="759.23" fill="#ff0000" font-size="11" font-weight="bold" text-anchor="end">0</text>
<text x="396" y="732.93" fill="#ff0000" font-size="11" font-weight="bold" text-anchor="end">1</text>
<text x="396" y="706.63" fill="#ff0000" font-size="11" font-weight="bold" text-anchor="end">2</text>
<text x="396" y="680.33" fill="#ff0000" font-size="11" font-weight="bold" text-anchor="end">3</text>
<text x="396" y="654.03" fill="#ff0000" font-size="11" font-weight="bold" text-anchor="end">4</text>
<text x="402.5" y="796.06" fill="#262626" font-size="11" font-weight="bold" text-anchor="middle">-2</text>
<text x="460.2" y="809.86" fill="#262626" font-size="11" font-weight="bold" text-anchor="middle">0</text>
<text x="517" y="821.86" fill="#262626" font-size="11" font-weight="bold" text-anchor="middle">2</text>
<text x="551.3" y="819.06" fill="#262626" font-size="11" font-weight="bold" text-anchor="middle">3</text>
<text x="580.2" y="812.96" fill="#262626" font-size="11" font-weight="bold" text-anchor="middle">4</text>
<text x="609.2" y="806.96" fill="#262626" font-size="11" font-weight="bold" text-anchor="middle">5</text>
<text x="638.1" y="801.46" fill="#262626" font-size="11" font-weight="bold" text-anchor="middle">6</text>
<text x="667" y="795.36" fill="#262626" font-size="11" font-weight="bold" text-anchor="middle">7</text>
<circle cx="455.62" cy="760.08" r="1.3" fill="#0072bd"/>
<circle cx="455.62" cy="762.48" r="1.3" fill="#0072bd"/>
<circle cx="470.18" cy="762.12" r="1.3" fill="#ff0000"/>
<circle cx="442.35" cy="769.2" r="1.3" fill="#ff0000"/>
<circle cx="457.04" cy="771.12" r="1.3" fill="#0072bd"/>
<circle cx="455.76" cy="775.05" r="1.3" fill="#0072bd"/>
<circle cx="455.76" cy="777.45" r="1.3" fill="#0072bd"/>
<circle cx="459.42" cy="758.18" r="1.3" fill="#0072bd"/>
<circle cx="459.42" cy="760.58" r="1.3" fill="#0072bd"/>
<circle cx="451.31" cy="766.14" r="1.3" fill="#0072bd"/>
<circle cx="451.31" cy="768.54" r="1.3" fill="#0072bd"/>
<circle cx="461.5" cy="768.74" r="1.3" fill="#0072bd"/>
<circle cx="459.62" cy="780.89" r="1.3" fill="#0072bd"/>
<circle cx="465.72" cy="767.39" r="1.3" fill="#ff0000"/>
<circle cx="465.72" cy="769.79" r="1.3" fill="#ff0000"/>
<circle cx="454.5" cy="764.58" r="1.3" fill="#0072bd"/>
<circle cx="443.19" cy="771.23" r="1.3" fill="#0072bd"/>
<circle cx="477.51" cy="748.04" r="1.3" fill="#0072bd"/>
<circle cx="463.85" cy="765.24" r="1.3" fill="#ff0000"/>
<circle cx="463.85" cy="767.64" r="1.3" fill="#ff0000"/>
<circle cx="450.67" cy="763.22" r="1.3" fill="#0072bd"/>
<circle cx="460.19" cy="768.07" r="1.3" fill="#ff0000"/>
<circle cx="482.82" cy="758.8" r="1.3" fill="#0072bd"/>
<circle cx="482.82" cy="761.2" r="1.3" fill="#0072bd"/>
<circle cx="443.99" cy="761.67" r="1.3" fill="#ff0000"/>
<circle cx="443.99" cy="764.07" r="1.3" fill="#ff0000"/>
<circle cx="439.88" cy="762.18" r="1.3" fill="#ff0000"/>
<circle cx="478.74" cy="748.65" r="1.3" fill="#0072bd"/>
<circle cx="478.74" cy="751.05" r="1.3" fill="#0072bd"/>
<circle cx="469.09" cy="761.59" r="1.3" fill="#ff0000"/>
<circle cx="482.03" cy="761.07" r="1.3" fill="#ff0000"/>
<circle cx="482.03" cy="763.47" r="1.3" fill="#ff0000"/>
<circle cx="460.74" cy="771.25" r="1.3" fill="#0072bd"/>
<circle cx="444.62" cy="771.83" r="1.3" fill="#ff0000"/>
<circle cx="444.62" cy="774.23" r="1.3" fill="#ff0000"/>
<circle cx="472.32" cy="767.04" r="1.3" fill="#ff0000"/>
<circle cx="472.32" cy="769.44" r="1.3" fill="#ff0000"/>
<circle cx="458.83" cy="761.99" r="1.3" fill="#ff0000"/>
<circle cx="458.83" cy="764.39" r="1.3" fill="#ff0000"/>
<circle cx="461.35" cy="766.83" r="1.3" fill="#0072bd"/>
<circle cx="459.38" cy="761.29" r="1.3" fill="#ff0000"/>
<circle cx="459.38" cy="763.69" r="1.3" fill="#ff0000"/>
<circle cx="472.06" cy="766.25" r="1.3" fill="#ff0000"/>
<circle cx="472.06" cy="768.65" r="1.3" fill="#ff0000"/>
<circle cx="440.06" cy="760.98" r="1.3" fill="#ff0000"/>
<circle cx="440.06" cy="763.38" r="1.3" fill="#ff0000"/>
<circle cx="509.7" cy="770.54" r="1.3" fill="#0072bd"/>
<circle cx="526.1" cy="733.61" r="1.3" fill="#0072bd"/>
<circle cx="510.28" cy="722.43" r="1.3" fill="#0072bd"/>
<circle cx="527.7" cy="710.78" r="1.3" fill="#0072bd"/>
<circle cx="532.46" cy="704.81" r="1.3" fill="#0072bd"/>
<circle cx="532.46" cy="707.21" r="1.3" fill="#0072bd"/>
<circle cx="524.27" cy="709.15" r="1.3" fill="#0072bd"/>
<circle cx="524.27" cy="711.55" r="1.3" fill="#0072bd"/>
<circle cx="484.06" cy="733.01" r="1.3" fill="#0072bd"/>
<circle cx="484.06" cy="735.41" r="1.3" fill="#0072bd"/>
<circle cx="509.74" cy="735.69" r="1.3" fill="#0072bd"/>
<circle cx="509.74" cy="738.09" r="1.3" fill="#0072bd"/>
<circle cx="549.21" cy="708.64" r="1.3" fill="#ff0000"/>
<circle cx="526.93" cy="714.18" r="1.3" fill="#0072bd"/>
<circle cx="541.94" cy="708.93" r="1.3" fill="#0072bd"/>
<circle cx="531.17" cy="689.52" r="1.3" fill="#0072bd"/>
<circle cx="527.1" cy="700.66" r="1.3" fill="#0072bd"/>
<circle cx="527.1" cy="703.06" r="1.3" fill="#0072bd"/>
<circle cx="526.53" cy="710.92" r="1.3" fill="#0072bd"/>
<circle cx="504.93" cy="767.86" r="1.3" fill="#0072bd"/>
<circle cx="535.69" cy="706.95" r="1.3" fill="#0072bd"/>
<circle cx="535.69" cy="709.35" r="1.3" fill="#0072bd"/>
<circle cx="483.51" cy="737.25" r="1.3" fill="#ff0000"/>
<circle cx="487.67" cy="735.61" r="1.3" fill="#0072bd"/>
<circle cx="487.67" cy="738.01" r="1.3" fill="#0072bd"/>
<circle cx="495.24" cy="749.07" r="1.3" fill="#ff0000"/>
<circle cx="495.24" cy="751.47" r="1.3" fill="#ff0000"/>
<circle cx="526.25" cy="715.12" r="1.3" fill="#0072bd"/>
<circle cx="507.89" cy="731.04" r="1.3" fill="#0072bd"/>
<circle cx="507.89" cy="733.44" r="1.3" fill="#0072bd"/>
<circle cx="485.25" cy="747.03" r="1.3" fill="#0072bd"/>
<circle cx="485.25" cy="749.43" r="1.3" fill="#0072bd"/>
<circle cx="527.77" cy="708.41" r="1.3" fill="#0072bd"/>
<circle cx="527.77" cy="710.81" r="1.3" fill="#0072bd"/>
<circle cx="543.1" cy="696.41" r="1.3" fill="#0072bd"/>
<circle cx="508.91" cy="709.4" r="1.3" fill="#0072bd"/>
<circle cx="508.91" cy="711.8" r="1.3" fill="#0072bd"/>
<circle cx="551.14" cy="698.71" r="1.3" fill="#0072bd"/>
<circle cx="512.14" cy="735.21" r="1.3" fill="#ff0000"/>
<circle cx="512.14" cy="737.61" r="1.3" fill="#ff0000"/>
<circle cx="505.67" cy="731.12" r="1.3" fill="#0072bd"/>
<circle cx="505.67" cy="733.52" r="1.3" fill="#0072bd"/>
<circle cx="552.8" cy="708.38" r="1.3" fill="#ff0000"/>
<circle cx="508.59" cy="760.3" r="1.3" fill="#0072bd"/>
<circle cx="531.3" cy="682.49" r="1.3" fill="#ff0000"/>
<circle cx="521.77" cy="731.47" r="1.3" fill="#0072bd"/>
<circle cx="493.77" cy="730.72" r="1.3" fill="#0072bd"/>
<circle cx="493.77" cy="733.12" r="1.3" fill="#0072bd"/>
<circle cx="502.12" cy="723.95" r="1.3" fill="#0072bd"/>
<circle cx="517.08" cy="741.07" r="1.3" fill="#0072bd"/>
<circle cx="505.73" cy="744.34" r="1.3" fill="#0072bd"/>
<circle cx="509.09" cy="728.76" r="1.3" fill="#0072bd"/>
<circle cx="494.89" cy="738.62" r="1.3" fill="#0072bd"/>
<circle cx="542.57" cy="695.72" r="1.3" fill="#ff0000"/>
<circle cx="505.31" cy="730.56" r="1.3" fill="#0072bd"/>
<circle cx="505.31" cy="732.96" r="1.3" fill="#0072bd"/>
<circle cx="538.43" cy="706.86" r="1.3" fill="#0072bd"/>
<circle cx="538.43" cy="709.26" r="1.3" fill="#0072bd"/>
<circle cx="512.45" cy="763.67" r="1.3" fill="#ff0000"/>
<circle cx="512.45" cy="766.07" r="1.3" fill="#ff0000"/>
<circle cx="559.16" cy="711.19" r="1.3" fill="#0072bd"/>
<circle cx="525.67" cy="706.36" r="1.3" fill="#0072bd"/>
<circle cx="535.09" cy="703.93" r="1.3" fill="#ff0000"/>
<circle cx="535.09" cy="706.33" r="1.3" fill="#ff0000"/>
<circle cx="493.26" cy="733.19" r="1.3" fill="#0072bd"/>
<circle cx="493.26" cy="735.59" r="1.3" fill="#0072bd"/>
<circle cx="493.78" cy="745.02" r="1.3" fill="#ff0000"/>
<circle cx="493.78" cy="747.42" r="1.3" fill="#ff0000"/>
<circle cx="480.19" cy="755.41" r="1.3" fill="#ff0000"/>
<circle cx="505.08" cy="747.41" r="1.3" fill="#0072bd"/>
<circle cx="505.08" cy="749.81" r="1.3" fill="#0072bd"/>
<circle cx="490.63" cy="759.56" r="1.3" fill="#0072bd"/>
<circle cx="490.63" cy="761.96" r="1.3" fill="#0072bd"/>
<circle cx="481.16" cy="743.7" r="1.3" fill="#0072bd"/>
<circle cx="504.71" cy="742.45" r="1.3" fill="#0072bd"/>
<circle cx="504.71" cy="744.85" r="1.3" fill="#0072bd"/>
<circle cx="524.51" cy="750.99" r="1.3" fill="#ff0000"/>
<circle cx="524.54" cy="702.61" r="1.3" fill="#0072bd"/>
<circle cx="526.56" cy="721.34" r="1.3" fill="#0072bd"/>
<circle cx="540.99" cy="702.91" r="1.3" fill="#0072bd"/>
<circle cx="526.33" cy="701.22" r="1.3" fill="#0072bd"/>
<circle cx="486.3" cy="761.38" r="1.3" fill="#ff0000"/>
<circle cx="498.81" cy="723.64" r="1.3" fill="#0072bd"/>
<circle cx="520.48" cy="728.45" r="1.3" fill="#ff0000"/>
<circle cx="520.48" cy="730.85" r="1.3" fill="#ff0000"/>
<circle cx="484.06" cy="727.86" r="1.3" fill="#0072bd"/>
<circle cx="484.06" cy="730.26" r="1.3" fill="#0072bd"/>
<circle cx="551.2" cy="719.13" r="1.3" fill="#0072bd"/>
<circle cx="551.2" cy="721.53" r="1.3" fill="#0072bd"/>
<circle cx="520.58" cy="715.68" r="1.3" fill="#0072bd"/>
<circle cx="520.58" cy="718.08" r="1.3" fill="#0072bd"/>
<circle cx="535.63" cy="691.34" r="1.3" fill="#0072bd"/>
<circle cx="488.68" cy="739.82" r="1.3" fill="#ff0000"/>
<circle cx="488.68" cy="742.22" r="1.3" fill="#ff0000"/>
<circle cx="531.39" cy="695.32" r="1.3" fill="#0072bd"/>
<circle cx="476.41" cy="736.77" r="1.3" fill="#0072bd"/>
<circle cx="476.41" cy="739.17" r="1.3" fill="#0072bd"/>
<circle cx="532.85" cy="688.77" r="1.3" fill="#0072bd"/>
<circle cx="539.36" cy="697.16" r="1.3" fill="#0072bd"/>
<circle cx="539.36" cy="699.56" r="1.3" fill="#0072bd"/>
<circle cx="477.25" cy="749.88" r="1.3" fill="#0072bd"/>
<circle cx="477.25" cy="752.28" r="1.3" fill="#0072bd"/>
<circle cx="499.29" cy="743.34" r="1.3" fill="#ff0000"/>
<circle cx="499.29" cy="745.74" r="1.3" fill="#ff0000"/>
<circle cx="518.3" cy="713.52" r="1.3" fill="#0072bd"/>
<circle cx="518.3" cy="715.92" r="1.3" fill="#0072bd"/>
<circle cx="512.25" cy="721.96" r="1.3" fill="#ff0000"/>
<circle cx="512.25" cy="724.36" r="1.3" fill="#ff0000"/>
<circle cx="462.55" cy="738.92" r="1.3" fill="#0072bd"/>
<circle cx="497.01" cy="730.77" r="1.3" fill="#0072bd"/>
<circle cx="540.81" cy="702.29" r="1.3" fill="#0072bd"/>
<circle cx="525.66" cy="719.1" r="1.3" fill="#0072bd"/>
<circle cx="530.55" cy="711.78" r="1.3" fill="#0072bd"/>
<circle cx="496.64" cy="748.13" r="1.3" fill="#0072bd"/>
<circle cx="519.45" cy="727.69" r="1.3" fill="#0072bd"/>
<circle cx="519.45" cy="730.09" r="1.3" fill="#0072bd"/>
<circle cx="514.63" cy="754.12" r="1.3" fill="#0072bd"/>
<circle cx="515.51" cy="743.95" r="1.3" fill="#0072bd"/>
<circle cx="508.91" cy="755.66" r="1.3" fill="#ff0000"/>
<circle cx="508.91" cy="758.06" r="1.3" fill="#ff0000"/>
<circle cx="482.87" cy="749.39" r="1.3" fill="#0072bd"/>
<circle cx="482.87" cy="751.79" r="1.3" fill="#0072bd"/>
<circle cx="498.26" cy="756.38" r="1.3" fill="#0072bd"/>
<circle cx="494.2" cy="748.39" r="1.3" fill="#0072bd"/>
<circle cx="516.08" cy="741.78" r="1.3" fill="#0072bd"/>
<circle cx="516.08" cy="744.18" r="1.3" fill="#0072bd"/>
<circle cx="498.27" cy="736.6" r="1.3" fill="#0072bd"/>
<circle cx="498.27" cy="739" r="1.3" fill="#0072bd"/>
<circle cx="480.46" cy="744.3" r="1.3" fill="#ff0000"/>
<circle cx="480.46" cy="746.7" r="1.3" fill="#ff0000"/>
<circle cx="544.65" cy="701.23" r="1.3" fill="#0072bd"/>
<circle cx="544.65" cy="703.63" r="1.3" fill="#0072bd"/>
<circle cx="526.71" cy="705.41" r="1.3" fill="#0072bd"/>
<circle cx="526.71" cy="707.81" r="1.3" fill="#0072bd"/>
<circle cx="515.98" cy="714.85" r="1.3" fill="#0072bd"/>
<circle cx="515.98" cy="717.25" r="1.3" fill="#0072bd"/>
<circle cx="514.6" cy="724.82" r="1.3" fill="#0072bd"/>
<circle cx="496.14" cy="764.77" r="1.3" fill="#0072bd"/>
<circle cx="539.23" cy="697.09" r="1.3" fill="#0072bd"/>
<circle cx="539.23" cy="699.49" r="1.3" fill="#0072bd"/>
<circle cx="538.4" cy="705.82" r="1.3" fill="#0072bd"/>
<circle cx="524.44" cy="702.92" r="1.3" fill="#0072bd"/>
<circle cx="504.08" cy="739.48" r="1.3" fill="#0072bd"/>
<circle cx="481.76" cy="728.3" r="1.3" fill="#0072bd"/>
<circle cx="481.76" cy="730.7" r="1.3" fill="#0072bd"/>
<circle cx="513" cy="723.83" r="1.3" fill="#0072bd"/>
<circle cx="527.26" cy="710.88" r="1.3" fill="#0072bd"/>
<circle cx="527.26" cy="713.28" r="1.3" fill="#0072bd"/>
<circle cx="524.98" cy="733.59" r="1.3" fill="#ff0000"/>
<circle cx="515.9" cy="706.45" r="1.3" fill="#0072bd"/>
<circle cx="515.9" cy="708.85" r="1.3" fill="#0072bd"/>
<circle cx="509.25" cy="707.56" r="1.3" fill="#ff0000"/>
<circle cx="491.22" cy="720.74" r="1.3" fill="#0072bd"/>
<circle cx="491.22" cy="723.14" r="1.3" fill="#0072bd"/>
<circle cx="529.93" cy="703.32" r="1.3" fill="#0072bd"/>
<circle cx="546" cy="701.77" r="1.3" fill="#0072bd"/>
<circle cx="530.09" cy="723.87" r="1.3" fill="#ff0000"/>
<circle cx="530.09" cy="726.27" r="1.3" fill="#ff0000"/>
<circle cx="544.54" cy="716.29" r="1.3" fill="#0072bd"/>
<circle cx="544.54" cy="718.69" r="1.3" fill="#0072bd"/>
<circle cx="534.66" cy="703.33" r="1.3" fill="#0072bd"/>
<circle cx="538.93" cy="686.5" r="1.3" fill="#0072bd"/>
<circle cx="502.34" cy="772.41" r="1.3" fill="#0072bd"/>
<circle cx="520.31" cy="733" r="1.3" fill="#ff0000"/>
<circle cx="520.31" cy="735.4" r="1.3" fill="#ff0000"/>
<circle cx="480.68" cy="755.45" r="1.3" fill="#ff0000"/>
<circle cx="529.47" cy="704.63" r="1.3" fill="#0072bd"/>
<circle cx="489.92" cy="728.71" r="1.3" fill="#0072bd"/>
<circle cx="504.69" cy="732.67" r="1.3" fill="#0072bd"/>
<circle cx="541.13" cy="709.71" r="1.3" fill="#0072bd"/>
<circle cx="541.13" cy="712.11" r="1.3" fill="#0072bd"/>
<circle cx="513.46" cy="725.58" r="1.3" fill="#0072bd"/>
<circle cx="513.46" cy="727.98" r="1.3" fill="#0072bd"/>
<circle cx="487.59" cy="739.69" r="1.3" fill="#0072bd"/>
<circle cx="504.13" cy="731.2" r="1.3" fill="#0072bd"/>
<circle cx="511.18" cy="715.28" r="1.3" fill="#0072bd"/>
<circle cx="505.96" cy="751.59" r="1.3" fill="#0072bd"/>
<circle cx="505.96" cy="753.99" r="1.3" fill="#0072bd"/>
<circle cx="486.84" cy="749.29" r="1.3" fill="#0072bd"/>
<circle cx="486.84" cy="751.69" r="1.3" fill="#0072bd"/>
<circle cx="495.42" cy="723.81" r="1.3" fill="#ff0000"/>
<circle cx="481.2" cy="742.86" r="1.3" fill="#0072bd"/>
<circle cx="522.22" cy="708.1" r="1.3" fill="#0072bd"/>
<circle cx="493.97" cy="756.45" r="1.3" fill="#0072bd"/>
<circle cx="531.75" cy="707.95" r="1.3" fill="#ff0000"/>
<circle cx="531.75" cy="710.35" r="1.3" fill="#ff0000"/>
<circle cx="539.71" cy="706.39" r="1.3" fill="#0072bd"/>
<circle cx="539.71" cy="708.79" r="1.3" fill="#0072bd"/>
<circle cx="496.97" cy="753.97" r="1.3" fill="#ff0000"/>
<circle cx="496.97" cy="756.37" r="1.3" fill="#ff0000"/>
<circle cx="520.97" cy="726.09" r="1.3" fill="#ff0000"/>
<circle cx="520.97" cy="728.49" r="1.3" fill="#ff0000"/>
<circle cx="485.43" cy="758.21" r="1.3" fill="#ff0000"/>
<circle cx="525.51" cy="691.15" r="1.3" fill="#ff0000"/>
<circle cx="481.87" cy="759.41" r="1.3" fill="#0072bd"/>
<circle cx="498.74" cy="747.81" r="1.3" fill="#0072bd"/>
<circle cx="491.36" cy="760.51" r="1.3" fill="#ff0000"/>
<circle cx="491.36" cy="762.91" r="1.3" fill="#ff0000"/>
<circle cx="509.66" cy="751.55" r="1.3" fill="#0072bd"/>
<circle cx="509.66" cy="753.95" r="1.3" fill="#0072bd"/>
<circle cx="471.81" cy="749.54" r="1.3" fill="#ff0000"/>
<circle cx="487.38" cy="737.83" r="1.3" fill="#0072bd"/>
<circle cx="521.78" cy="717.48" r="1.3" fill="#0072bd"/>
<circle cx="532.05" cy="722.3" r="1.3" fill="#0072bd"/>
<circle cx="532.05" cy="724.7" r="1.3" fill="#0072bd"/>
<circle cx="512.08" cy="749.36" r="1.3" fill="#ff0000"/>
<circle cx="499.7" cy="735.69" r="1.3" fill="#0072bd"/>
<circle cx="532.28" cy="698.33" r="1.3" fill="#0072bd"/>
<circle cx="532.28" cy="700.73" r="1.3" fill="#0072bd"/>
<circle cx="509.36" cy="726.37" r="1.3" fill="#0072bd"/>
<circle cx="509.36" cy="728.77" r="1.3" fill="#0072bd"/>
<circle cx="499.92" cy="745.12" r="1.3" fill="#0072bd"/>
<circle cx="499.92" cy="747.52" r="1.3" fill="#0072bd"/>
<circle cx="516.86" cy="731.65" r="1.3" fill="#0072bd"/>
<circle cx="519.74" cy="699.25" r="1.3" fill="#0072bd"/>
<circle cx="508.38" cy="728.53" r="1.3" fill="#ff0000"/>
<circle cx="508.51" cy="756.76" r="1.3" fill="#0072bd"/>
<circle cx="508.51" cy="759.16" r="1.3" fill="#0072bd"/>
<circle cx="528.46" cy="693.36" r="1.3" fill="#0072bd"/>
<circle cx="470.5" cy="735.58" r="1.3" fill="#0072bd"/>
<circle cx="538.03" cy="698.81" r="1.3" fill="#0072bd"/>
<circle cx="538.03" cy="701.21" r="1.3" fill="#0072bd"/>
<circle cx="515.87" cy="716.81" r="1.3" fill="#0072bd"/>
<circle cx="528.39" cy="736.84" r="1.3" fill="#0072bd"/>
<circle cx="545.72" cy="699.85" r="1.3" fill="#0072bd"/>
<circle cx="545.72" cy="702.25" r="1.3" fill="#0072bd"/>
<circle cx="533.75" cy="714.91" r="1.3" fill="#0072bd"/>
<circle cx="509.07" cy="746.36" r="1.3" fill="#0072bd"/>
<circle cx="509.07" cy="748.76" r="1.3" fill="#0072bd"/>
<circle cx="528.77" cy="714.14" r="1.3" fill="#ff0000"/>
<circle cx="482.75" cy="757.81" r="1.3" fill="#0072bd"/>
<circle cx="529.7" cy="719.44" r="1.3" fill="#0072bd"/>
<circle cx="495.34" cy="747.77" r="1.3" fill="#0072bd"/>
<circle cx="495.34" cy="750.17" r="1.3" fill="#0072bd"/>
<circle cx="548.59" cy="707.41" r="1.3" fill="#0072bd"/>
<circle cx="510.54" cy="722.08" r="1.3" fill="#0072bd"/>
<circle cx="504.61" cy="693.55" r="1.3" fill="#0072bd"/>
<circle cx="516.74" cy="714.89" r="1.3" fill="#0072bd"/>
<circle cx="539.88" cy="694.44" r="1.3" fill="#0072bd"/>
<circle cx="539.88" cy="696.84" r="1.3" fill="#0072bd"/>
<circle cx="524.65" cy="725.23" r="1.3" fill="#0072bd"/>
<circle cx="540.91" cy="688.39" r="1.3" fill="#0072bd"/>
<circle cx="523.79" cy="742.31" r="1.3" fill="#0072bd"/>
<circle cx="506.38" cy="746.14" r="1.3" fill="#0072bd"/>
<circle cx="506.38" cy="748.54" r="1.3" fill="#0072bd"/>
<circle cx="526.21" cy="732.6" r="1.3" fill="#ff0000"/>
<circle cx="536.63" cy="688.23" r="1.3" fill="#0072bd"/>
<circle cx="536.63" cy="690.63" r="1.3" fill="#0072bd"/>
<circle cx="471.02" cy="748.53" r="1.3" fill="#ff0000"/>
<circle cx="503.89" cy="740.53" r="1.3" fill="#ff0000"/>
<circle cx="531.86" cy="716.34" r="1.3" fill="#ff0000"/>
<circle cx="531.86" cy="718.74" r="1.3" fill="#ff0000"/>
<circle cx="544" cy="721.02" r="1.3" fill="#ff0000"/>
<circle cx="544" cy="723.42" r="1.3" fill="#ff0000"/>
<circle cx="555.05" cy="708.97" r="1.3" fill="#ff0000"/>
<circle cx="543.17" cy="716.55" r="1.3" fill="#ff0000"/>
<circle cx="543.17" cy="718.95" r="1.3" fill="#ff0000"/>
<circle cx="512.3" cy="723.31" r="1.3" fill="#ff0000"/>
<circle cx="538.66" cy="718.18" r="1.3" fill="#0072bd"/>
<circle cx="538.66" cy="720.58" r="1.3" fill="#0072bd"/>
<circle cx="510.79" cy="724.75" r="1.3" fill="#ff0000"/>
<circle cx="509.44" cy="733.42" r="1.3" fill="#ff0000"/>
<circle cx="516.06" cy="732.41" r="1.3" fill="#0072bd"/>
<circle cx="516.06" cy="734.81" r="1.3" fill="#0072bd"/>
<circle cx="509.96" cy="722.68" r="1.3" fill="#0072bd"/>
<circle cx="530.78" cy="715.38" r="1.3" fill="#ff0000"/>
<circle cx="530.78" cy="717.78" r="1.3" fill="#ff0000"/>
<circle cx="539.24" cy="711.33" r="1.3" fill="#0072bd"/>
<circle cx="539.19" cy="703.91" r="1.3" fill="#0072bd"/>
<circle cx="539.19" cy="706.31" r="1.3" fill="#0072bd"/>
<circle cx="529.65" cy="728.34" r="1.3" fill="#ff0000"/>
<circle cx="529.65" cy="730.74" r="1.3" fill="#ff0000"/>
<circle cx="549.77" cy="709.99" r="1.3" fill="#ff0000"/>
<circle cx="504.6" cy="743.54" r="1.3" fill="#ff0000"/>
<circle cx="517.93" cy="748.61" r="1.3" fill="#ff0000"/>
<circle cx="517.93" cy="751.01" r="1.3" fill="#ff0000"/>
<circle cx="499" cy="733.04" r="1.3" fill="#ff0000"/>
<circle cx="541.49" cy="724.88" r="1.3" fill="#0072bd"/>
<circle cx="541.49" cy="727.28" r="1.3" fill="#0072bd"/>
<circle cx="533.99" cy="715.18" r="1.3" fill="#0072bd"/>
<circle cx="533.99" cy="717.58" r="1.3" fill="#0072bd"/>
<circle cx="512.4" cy="747" r="1.3" fill="#ff0000"/>
<circle cx="512.4" cy="749.4" r="1.3" fill="#ff0000"/>
<circle cx="524.57" cy="727.7" r="1.3" fill="#ff0000"/>
<circle cx="520.62" cy="734.03" r="1.3" fill="#0072bd"/>
<circle cx="502.62" cy="741.41" r="1.3" fill="#ff0000"/>
<circle cx="535.67" cy="731.12" r="1.3" fill="#ff0000"/>
<circle cx="544.18" cy="716.55" r="1.3" fill="#ff0000"/>
<circle cx="511.26" cy="746.26" r="1.3" fill="#ff0000"/>
<circle cx="524.71" cy="726.25" r="1.3" fill="#ff0000"/>
<circle cx="499.88" cy="732.61" r="1.3" fill="#0072bd"/>
<circle cx="537.44" cy="733.78" r="1.3" fill="#0072bd"/>
<circle cx="487.88" cy="725.37" r="1.3" fill="#0072bd"/>
<circle cx="546.07" cy="724.73" r="1.3" fill="#ff0000"/>
<circle cx="531.47" cy="724.35" r="1.3" fill="#ff0000"/>
<circle cx="531.47" cy="726.75" r="1.3" fill="#ff0000"/>
<circle cx="515.31" cy="736.42" r="1.3" fill="#ff0000"/>
<circle cx="536.71" cy="702.5" r="1.3" fill="#ff0000"/>
<circle cx="534.23" cy="708.51" r="1.3" fill="#ff0000"/>
<circle cx="555.79" cy="705.26" r="1.3" fill="#ff0000"/>
<circle cx="542.54" cy="708.01" r="1.3" fill="#ff0000"/>
<circle cx="545.06" cy="730.33" r="1.3" fill="#ff0000"/>
<circle cx="559.75" cy="695.08" r="1.3" fill="#ff0000"/>
<circle cx="559.75" cy="697.48" r="1.3" fill="#ff0000"/>
<circle cx="546.04" cy="691.47" r="1.3" fill="#ff0000"/>
<circle cx="549.74" cy="678.3" r="1.3" fill="#ff0000"/>
<circle cx="549.74" cy="680.7" r="1.3" fill="#ff0000"/>
<circle cx="576.23" cy="684.61" r="1.3" fill="#ff0000"/>
<circle cx="569.88" cy="665.96" r="1.3" fill="#ff0000"/>
<circle cx="558.31" cy="674.46" r="1.3" fill="#ff0000"/>
<circle cx="571.87" cy="669.4" r="1.3" fill="#ff0000"/>
<circle cx="549.21" cy="689.05" r="1.3" fill="#ff0000"/>
<circle cx="549.21" cy="691.45" r="1.3" fill="#ff0000"/>
<circle cx="566.22" cy="677.08" r="1.3" fill="#ff0000"/>
<circle cx="566.22" cy="679.48" r="1.3" fill="#ff0000"/>
<circle cx="552.6" cy="694.39" r="1.3" fill="#ff0000"/>
<circle cx="552.6" cy="696.79" r="1.3" fill="#ff0000"/>
<circle cx="566.49" cy="682.97" r="1.3" fill="#ff0000"/>
<circle cx="589.61" cy="671.02" r="1.3" fill="#ff0000"/>
<circle cx="589.61" cy="673.42" r="1.3" fill="#ff0000"/>
<circle cx="550.69" cy="677.88" r="1.3" fill="#ff0000"/>
<circle cx="583.36" cy="664.21" r="1.3" fill="#ff0000"/>
<circle cx="567.16" cy="671.11" r="1.3" fill="#ff0000"/>
<circle cx="548.43" cy="693.31" r="1.3" fill="#ff0000"/>
<circle cx="548.43" cy="695.71" r="1.3" fill="#ff0000"/>
<circle cx="575.7" cy="670.27" r="1.3" fill="#ff0000"/>
<circle cx="575.7" cy="672.67" r="1.3" fill="#ff0000"/>
<circle cx="575.2" cy="683.05" r="1.3" fill="#ff0000"/>
<circle cx="575.2" cy="685.45" r="1.3" fill="#ff0000"/>
<circle cx="572.31" cy="681.16" r="1.3" fill="#ff0000"/>
<circle cx="579.95" cy="691.13" r="1.3" fill="#0072bd"/>
<circle cx="579.95" cy="693.53" r="1.3" fill="#0072bd"/>
<circle cx="551.85" cy="683.78" r="1.3" fill="#0072bd"/>
<circle cx="584.09" cy="658.26" r="1.3" fill="#ff0000"/>
<circle cx="584.09" cy="660.66" r="1.3" fill="#ff0000"/>
<circle cx="576.54" cy="662.26" r="1.3" fill="#ff0000"/>
<circle cx="577.66" cy="683.96" r="1.3" fill="#ff0000"/>
<circle cx="561.46" cy="675.33" r="1.3" fill="#ff0000"/>
<circle cx="555.01" cy="689.1" r="1.3" fill="#ff0000"/>
<circle cx="584.42" cy="659.85" r="1.3" fill="#ff0000"/>
<circle cx="584.42" cy="662.25" r="1.3" fill="#ff0000"/>
<circle cx="564.12" cy="697.34" r="1.3" fill="#ff0000"/>
<circle cx="568.16" cy="674.5" r="1.3" fill="#ff0000"/>
<circle cx="573.02" cy="676.77" r="1.3" fill="#0072bd"/>
<circle cx="552.4" cy="683.11" r="1.3" fill="#ff0000"/>
<circle cx="552.4" cy="685.51" r="1.3" fill="#ff0000"/>
<circle cx="572.92" cy="652.68" r="1.3" fill="#ff0000"/>
<circle cx="572.92" cy="655.08" r="1.3" fill="#ff0000"/>
<circle cx="555.41" cy="696.4" r="1.3" fill="#ff0000"/>
<circle cx="555.41" cy="698.8" r="1.3" fill="#ff0000"/>
<circle cx="551.6" cy="695.31" r="1.3" fill="#ff0000"/>
<circle cx="569.91" cy="639.69" r="1.3" fill="#ff0000"/>
<circle cx="567.42" cy="698.49" r="1.3" fill="#ff0000"/>
<circle cx="567.42" cy="700.89" r="1.3" fill="#ff0000"/>
<circle cx="555.49" cy="680.9" r="1.3" fill="#ff0000"/>
<circle cx="569.31" cy="672.06" r="1.3" fill="#ff0000"/>
<circle cx="581.18" cy="667.34" r="1.3" fill="#ff0000"/>
<circle cx="554.28" cy="703.74" r="1.3" fill="#ff0000"/>
<circle cx="563.26" cy="676.06" r="1.3" fill="#ff0000"/>
<circle cx="575.36" cy="653.86" r="1.3" fill="#ff0000"/>
<circle cx="560.27" cy="657.66" r="1.3" fill="#ff0000"/>
<circle cx="567.91" cy="682.05" r="1.3" fill="#ff0000"/>
<circle cx="567.91" cy="684.45" r="1.3" fill="#ff0000"/>
<circle cx="581.65" cy="655.9" r="1.3" fill="#ff0000"/>
<circle cx="581.65" cy="658.3" r="1.3" fill="#ff0000"/>
<circle cx="589.68" cy="663.14" r="1.3" fill="#ff0000"/>
<circle cx="572.04" cy="675.63" r="1.3" fill="#ff0000"/>
<circle cx="545.65" cy="683.1" r="1.3" fill="#0072bd"/>
<circle cx="545.65" cy="685.5" r="1.3" fill="#0072bd"/>
<circle cx="556.44" cy="686.72" r="1.3" fill="#ff0000"/>
<circle cx="565.88" cy="660.75" r="1.3" fill="#ff0000"/>
<circle cx="552.38" cy="669.07" r="1.3" fill="#ff0000"/>
<circle cx="562.1" cy="682.14" r="1.3" fill="#0072bd"/>
<circle cx="562.1" cy="684.54" r="1.3" fill="#0072bd"/>
<circle cx="591.84" cy="669.96" r="1.3" fill="#ff0000"/>
<circle cx="591.84" cy="672.36" r="1.3" fill="#ff0000"/>
<circle cx="535.64" cy="683.33" r="1.3" fill="#ff0000"/>
<circle cx="535.64" cy="685.73" r="1.3" fill="#ff0000"/>
<circle cx="582.35" cy="670.68" r="1.3" fill="#ff0000"/>
<circle cx="564.05" cy="672.89" r="1.3" fill="#0072bd"/>
<circle cx="549.75" cy="683.85" r="1.3" fill="#ff0000"/>
<circle cx="549.75" cy="686.25" r="1.3" fill="#ff0000"/>
<circle cx="553.57" cy="703.49" r="1.3" fill="#0072bd"/>
<circle cx="553.57" cy="705.89" r="1.3" fill="#0072bd"/>
<circle cx="551.72" cy="678.34" r="1.3" fill="#ff0000"/>
<circle cx="552.57" cy="677.43" r="1.3" fill="#ff0000"/>
<circle cx="553.97" cy="682.74" r="1.3" fill="#ff0000"/>
<circle cx="553.97" cy="685.14" r="1.3" fill="#ff0000"/>
<circle cx="576.29" cy="669.49" r="1.3" fill="#0072bd"/>
<circle cx="588.5" cy="664.17" r="1.3" fill="#ff0000"/>
<circle cx="568.32" cy="669.38" r="1.3" fill="#ff0000"/>
<circle cx="568.32" cy="671.78" r="1.3" fill="#ff0000"/>
<circle cx="571.15" cy="655.32" r="1.3" fill="#ff0000"/>
<circle cx="571.15" cy="657.72" r="1.3" fill="#ff0000"/>
<circle cx="566.68" cy="694.29" r="1.3" fill="#ff0000"/>
<circle cx="574.25" cy="673.53" r="1.3" fill="#ff0000"/>
<circle cx="574.25" cy="675.93" r="1.3" fill="#ff0000"/>
<circle cx="582.27" cy="676.54" r="1.3" fill="#ff0000"/>
<circle cx="553.48" cy="683.45" r="1.3" fill="#ff0000"/>
<circle cx="553.48" cy="685.85" r="1.3" fill="#ff0000"/>
<circle cx="548.97" cy="697.86" r="1.3" fill="#0072bd"/>
<circle cx="569.98" cy="678.01" r="1.3" fill="#ff0000"/>
<circle cx="584.96" cy="663.37" r="1.3" fill="#ff0000"/>
<circle cx="584.96" cy="665.77" r="1.3" fill="#ff0000"/>
<circle cx="566.74" cy="676.38" r="1.3" fill="#ff0000"/>
<circle cx="556.85" cy="679.38" r="1.3" fill="#ff0000"/>
<circle cx="556.85" cy="681.78" r="1.3" fill="#ff0000"/>
<circle cx="557.22" cy="688.36" r="1.3" fill="#ff0000"/>
<circle cx="573.86" cy="651.83" r="1.3" fill="#ff0000"/>
<circle cx="573.86" cy="654.23" r="1.3" fill="#ff0000"/>
<circle cx="577.32" cy="662.91" r="1.3" fill="#ff0000"/>
<circle cx="552.89" cy="675.58" r="1.3" fill="#ff0000"/>
<circle cx="552.89" cy="677.98" r="1.3" fill="#ff0000"/>
<circle cx="579.72" cy="661.67" r="1.3" fill="#ff0000"/>
<circle cx="579.72" cy="664.07" r="1.3" fill="#ff0000"/>
<circle cx="592.87" cy="666.75" r="1.3" fill="#ff0000"/>
<circle cx="579.45" cy="667.31" r="1.3" fill="#ff0000"/>
<circle cx="545.21" cy="689.22" r="1.3" fill="#ff0000"/>
<circle cx="545.21" cy="691.62" r="1.3" fill="#ff0000"/>
<circle cx="581.67" cy="677" r="1.3" fill="#ff0000"/>
<circle cx="581.67" cy="679.4" r="1.3" fill="#ff0000"/>
<circle cx="551.9" cy="698.67" r="1.3" fill="#ff0000"/>
<circle cx="551.9" cy="701.07" r="1.3" fill="#ff0000"/>
<circle cx="589.97" cy="677.58" r="1.3" fill="#ff0000"/>
<circle cx="567.91" cy="682.64" r="1.3" fill="#ff0000"/>
<circle cx="541.22" cy="681.83" r="1.3" fill="#0072bd"/>
<circle cx="541.22" cy="684.23" r="1.3" fill="#0072bd"/>
<circle cx="582.76" cy="667.82" r="1.3" fill="#0072bd"/>
<circle cx="578.91" cy="657.15" r="1.3" fill="#0072bd"/>
<circle cx="585.39" cy="657.55" r="1.3" fill="#ff0000"/>
<circle cx="585.39" cy="659.95" r="1.3" fill="#ff0000"/>
<circle cx="582.49" cy="657.99" r="1.3" fill="#ff0000"/>
<circle cx="577.57" cy="668.75" r="1.3" fill="#ff0000"/>
<circle cx="577.57" cy="671.15" r="1.3" fill="#ff0000"/>
<circle cx="591.33" cy="660.17" r="1.3" fill="#ff0000"/>
<circle cx="591.33" cy="662.57" r="1.3" fill="#ff0000"/>
<circle cx="560.91" cy="654.31" r="1.3" fill="#0072bd"/>
<circle cx="560.91" cy="656.71" r="1.3" fill="#0072bd"/>
<circle cx="580.14" cy="654.41" r="1.3" fill="#ff0000"/>
<circle cx="580.14" cy="656.81" r="1.3" fill="#ff0000"/>
<circle cx="566.59" cy="669.75" r="1.3" fill="#0072bd"/>
<circle cx="566.59" cy="672.15" r="1.3" fill="#0072bd"/>
<circle cx="603.71" cy="636.42" r="1.3" fill="#ff0000"/>
<circle cx="581.15" cy="656.5" r="1.3" fill="#ff0000"/>
<circle cx="585.74" cy="658.24" r="1.3" fill="#ff0000"/>
<circle cx="585.74" cy="660.64" r="1.3" fill="#ff0000"/>
<circle cx="585.48" cy="667.46" r="1.3" fill="#ff0000"/>
<circle cx="612.99" cy="648.21" r="1.3" fill="#0072bd"/>
<circle cx="612.99" cy="650.61" r="1.3" fill="#0072bd"/>
<circle cx="572.02" cy="658.81" r="1.3" fill="#ff0000"/>
<circle cx="572.02" cy="661.21" r="1.3" fill="#ff0000"/>
<circle cx="590.97" cy="651.38" r="1.3" fill="#ff0000"/>
<circle cx="590.97" cy="653.78" r="1.3" fill="#ff0000"/>
<circle cx="575.84" cy="657.88" r="1.3" fill="#ff0000"/>
<circle cx="598.71" cy="651.98" r="1.3" fill="#ff0000"/>
<circle cx="561.6" cy="660.16" r="1.3" fill="#ff0000"/>
<circle cx="568.38" cy="662.53" r="1.3" fill="#ff0000"/>
<circle cx="590.65" cy="650.98" r="1.3" fill="#ff0000"/>
<circle cx="590.65" cy="653.38" r="1.3" fill="#ff0000"/>
<circle cx="568.4" cy="660.76" r="1.3" fill="#ff0000"/>
<circle cx="573.87" cy="667.96" r="1.3" fill="#0072bd"/>
<circle cx="571.93" cy="647.13" r="1.3" fill="#ff0000"/>
<circle cx="601" cy="641.12" r="1.3" fill="#ff0000"/>
<circle cx="561.45" cy="660.1" r="1.3" fill="#0072bd"/>
<circle cx="609.05" cy="652.39" r="1.3" fill="#ff0000"/>
<circle cx="599.07" cy="640.83" r="1.3" fill="#ff0000"/>
<circle cx="599.07" cy="643.23" r="1.3" fill="#ff0000"/>
<circle cx="606.9" cy="649.7" r="1.3" fill="#ff0000"/>
<circle cx="591.57" cy="654.41" r="1.3" fill="#ff0000"/>
<circle cx="572.06" cy="668.67" r="1.3" fill="#ff0000"/>
<circle cx="572.06" cy="671.07" r="1.3" fill="#ff0000"/>
<circle cx="559.95" cy="661.07" r="1.3" fill="#ff0000"/>
<circle cx="600.65" cy="642.39" r="1.3" fill="#ff0000"/>
<circle cx="564.29" cy="663.99" r="1.3" fill="#0072bd"/>
<circle cx="567.83" cy="665.67" r="1.3" fill="#ff0000"/>
<circle cx="606.38" cy="641.59" r="1.3" fill="#ff0000"/>
<circle cx="598.78" cy="635.78" r="1.3" fill="#ff0000"/>
<circle cx="598.78" cy="638.18" r="1.3" fill="#ff0000"/>
<circle cx="591.12" cy="638.18" r="1.3" fill="#ff0000"/>
<circle cx="580.05" cy="655.2" r="1.3" fill="#ff0000"/>
<circle cx="580.87" cy="660.22" r="1.3" fill="#ff0000"/>
<circle cx="580.87" cy="662.62" r="1.3" fill="#ff0000"/>
<circle cx="604.15" cy="642.63" r="1.3" fill="#ff0000"/>
<circle cx="571.9" cy="671.33" r="1.3" fill="#ff0000"/>
<circle cx="571.9" cy="673.73" r="1.3" fill="#ff0000"/>
<circle cx="578.81" cy="653.08" r="1.3" fill="#ff0000"/>
<circle cx="578.81" cy="655.48" r="1.3" fill="#ff0000"/>
<circle cx="598.48" cy="638.83" r="1.3" fill="#ff0000"/>
<circle cx="598.48" cy="641.23" r="1.3" fill="#ff0000"/>
<circle cx="592.09" cy="652.86" r="1.3" fill="#ff0000"/>
<circle cx="592.09" cy="655.26" r="1.3" fill="#ff0000"/>
<circle cx="569.26" cy="668.36" r="1.3" fill="#ff0000"/>
<circle cx="569.26" cy="670.76" r="1.3" fill="#ff0000"/>
<circle cx="604.7" cy="645.46" r="1.3" fill="#ff0000"/>
<circle cx="604.7" cy="647.86" r="1.3" fill="#ff0000"/>
<circle cx="611.1" cy="648.88" r="1.3" fill="#ff0000"/>
<circle cx="611.1" cy="651.28" r="1.3" fill="#ff0000"/>
<circle cx="596.59" cy="662.56" r="1.3" fill="#ff0000"/>
<circle cx="585.45" cy="660.07" r="1.3" fill="#ff0000"/>
<circle cx="585.45" cy="662.47" r="1.3" fill="#ff0000"/>
<circle cx="602.26" cy="662.01" r="1.3" fill="#ff0000"/>
<circle cx="600" cy="656.88" r="1.3" fill="#ff0000"/>
<circle cx="605.8" cy="665.45" r="1.3" fill="#ff0000"/>
<circle cx="605.8" cy="667.85" r="1.3" fill="#ff0000"/>
<circle cx="585.73" cy="664.91" r="1.3" fill="#ff0000"/>
<circle cx="606.21" cy="664.3" r="1.3" fill="#ff0000"/>
<circle cx="603.59" cy="665.19" r="1.3" fill="#ff0000"/>
<circle cx="603.59" cy="667.59" r="1.3" fill="#ff0000"/>
<circle cx="599.19" cy="661.74" r="1.3" fill="#ff0000"/>
<circle cx="598.37" cy="665.94" r="1.3" fill="#ff0000"/>
<circle cx="592.4" cy="666.82" r="1.3" fill="#ff0000"/>
<circle cx="592.4" cy="669.22" r="1.3" fill="#ff0000"/>
<circle cx="598.1" cy="668.71" r="1.3" fill="#ff0000"/>
<circle cx="598.1" cy="671.11" r="1.3" fill="#ff0000"/>
<circle cx="592.39" cy="667.88" r="1.3" fill="#ff0000"/>
<circle cx="592.39" cy="670.28" r="1.3" fill="#ff0000"/>
<circle cx="599.88" cy="665.64" r="1.3" fill="#ff0000"/>
<circle cx="599.88" cy="668.04" r="1.3" fill="#ff0000"/>
<circle cx="600.73" cy="665.95" r="1.3" fill="#ff0000"/>
<circle cx="600.73" cy="668.35" r="1.3" fill="#ff0000"/>
<circle cx="583.53" cy="664.4" r="1.3" fill="#ff0000"/>
<circle cx="589.59" cy="657.37" r="1.3" fill="#ff0000"/>
<circle cx="589.59" cy="659.77" r="1.3" fill="#ff0000"/>
<circle cx="605.12" cy="667.11" r="1.3" fill="#ff0000"/>
<circle cx="421.61" cy="770.93" r="1.3" fill="#ff0000"/>
<circle cx="421.61" cy="774.14" r="1.3" fill="#ff0000"/>
<circle cx="575.75" cy="632.85" r="1.3" fill="#ff0000"/>
<circle cx="575.75" cy="636.06" r="1.3" fill="#ff0000"/>
<circle cx="559.69" cy="644.08" r="1.3" fill="#ff0000"/>
<circle cx="559.69" cy="647.3" r="1.3" fill="#ff0000"/>
<circle cx="612.68" cy="639.27" r="1.3" fill="#ff0000"/>
<circle cx="612.68" cy="642.48" r="1.3" fill="#ff0000"/>
<circle cx="607.86" cy="669.78" r="1.3" fill="#ff0000"/>
<circle cx="607.86" cy="672.99" r="1.3" fill="#ff0000"/>
<circle cx="445.69" cy="780.57" r="1.3" fill="#0072bd"/>
<circle cx="445.69" cy="785.38" r="1.3" fill="#0072bd"/>
<circle cx="439.27" cy="780.57" r="1.3" fill="#0072bd"/>
<circle cx="529.18" cy="664.96" r="1.3" fill="#0072bd"/>
<circle cx="529.18" cy="668.17" r="1.3" fill="#0072bd"/>
<circle cx="537.21" cy="664.96" r="1.3" fill="#0072bd"/>
<circle cx="537.21" cy="669.78" r="1.3" fill="#0072bd"/>
<circle cx="566.11" cy="652.11" r="1.3" fill="#0072bd"/>
<circle cx="569.33" cy="652.11" r="1.3" fill="#0072bd"/>
<line x1="463.4" y1="780.6" x2="610.1" y2="634.5" stroke="#000" stroke-width="2"/>
<text x="436.4" y="650.1" font-size="12.7" font-weight="bold" fill="#000">R<tspan font-size="8.8" dy="-4.7">2</tspan><tspan dy="4.7">=0.85</tspan></text>
<text id="t16" x="415.2" y="830.8" font-size="12.7" font-weight="bold" fill="#262626" text-anchor="start">ln(PGA<tspan font-size="10" dy="5.6">H</tspan><tspan dy="-5.6">)</tspan></text>
<text id="t17" x="582.9" y="831" font-size="12.5" font-weight="bold" fill="#262626" text-anchor="start">ln(HI<tspan font-size="10" dy="5.6">H</tspan><tspan dy="-5.6">)</tspan></text>
<text id="t18" transform="translate(380.1,727) rotate(-90)" font-size="12.5" font-weight="bold" fill="#ff0000" text-anchor="start">ln(<tspan font-style="italic" font-weight="normal">μ</tspan><tspan font-size="8" dy="5" font-style="italic" font-weight="normal">φ</tspan><tspan dy="-5">)</tspan></text>
<text x="542" y="853.3" style="font-family:&quot;Liberation Serif&quot;, serif" font-size="15.8" fill="#000" text-anchor="middle">(f)</text>
</svg></body></html>
